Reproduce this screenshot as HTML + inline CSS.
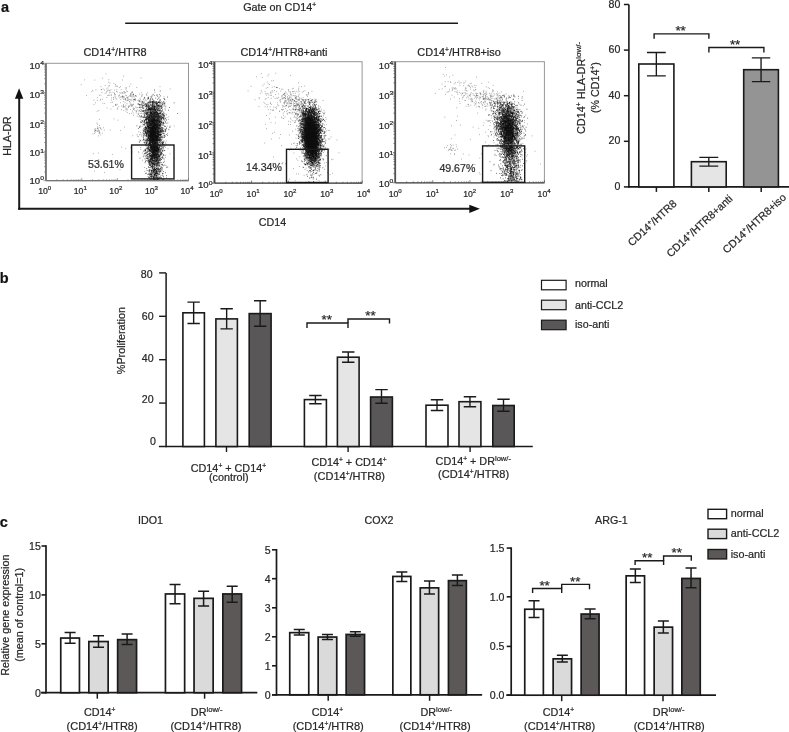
<!DOCTYPE html>
<html lang="en">
<head>
<meta charset="utf-8">
<title>Figure</title>
<style>
html,body{margin:0;padding:0;background:#fff;}
body{width:789px;height:732px;overflow:hidden;}
svg{display:block;font-family:"Liberation Sans", Arial, sans-serif;}
text{white-space:pre;stroke:#2a2a2a;stroke-width:.22px;}
</style>
</head>
<body>
<svg width="789" height="732" viewBox="0 0 789 732">
<defs><filter id="bl" x="-1" y="-.5" width="3" height="2"><feGaussianBlur stdDeviation="2.2"/></filter></defs>
<rect width="789" height="732" fill="#fff"/>
<text x="1" y="11.6" font-size="14.5" fill="#111" font-weight="bold">a</text>
<text x="243.2" y="11.4" font-size="10.8" fill="#262626">Gate on CD14<tspan font-size="6.6" dy="-4">+</tspan><tspan dy="4" font-size="0.1">&#8203;</tspan></text>
<line x1="125.2" y1="23.3" x2="458" y2="23.3" stroke="#1a1a1a" stroke-width="1.6"/>
<line x1="19.2" y1="97" x2="19.2" y2="209.8" stroke="#1a1a1a" stroke-width="2"/>
<polygon points="19.1,88.2 14.9,98.7 23.3,98.7" fill="#111"/>
<line x1="18.2" y1="208.8" x2="470" y2="208.8" stroke="#1a1a1a" stroke-width="2"/>
<polygon points="479.9,208.8 469.3,204.7 469.3,212.9" fill="#111"/>
<text font-size="10.6" fill="#262626" text-anchor="middle" transform="translate(10.6 136) rotate(-90)">HLA-DR</text>
<text x="272.5" y="226.2" font-size="10.7" fill="#262626" text-anchor="middle">CD14</text>
<rect x="46.2" y="63.3" width="142.3" height="117.4" fill="#fff" stroke="#969696" stroke-width="1"/>
<line x1="45.9" y1="63.3" x2="45.9" y2="180.7" stroke="#767676" stroke-width="1.8"/>
<line x1="46.2" y1="180.7" x2="188.5" y2="180.7" stroke="#767676" stroke-width="1.3"/>
<path d="M45.6 171.86h-1.5M56.91 180.7v-1.4M45.6 166.7h-1.5M63.17 180.7v-1.4M45.6 163.03h-1.5M67.62 180.7v-1.4M45.6 160.19h-1.5M71.07 180.7v-1.4M45.6 157.86h-1.5M73.88 180.7v-1.4M45.6 155.9h-1.5M76.26 180.7v-1.4M45.6 154.19h-1.5M78.33 180.7v-1.4M45.6 152.69h-1.5M80.15 180.7v-1.4M45.6 142.51h-1.5M92.48 180.7v-1.4M45.6 137.35h-1.5M98.75 180.7v-1.4M45.6 133.68h-1.5M103.19 180.7v-1.4M45.6 130.84h-1.5M106.64 180.7v-1.4M45.6 128.51h-1.5M109.46 180.7v-1.4M45.6 126.55h-1.5M111.84 180.7v-1.4M45.6 124.84h-1.5M113.9 180.7v-1.4M45.6 123.34h-1.5M115.72 180.7v-1.4M45.6 113.16h-1.5M128.06 180.7v-1.4M45.6 108h-1.5M134.32 180.7v-1.4M45.6 104.33h-1.5M138.77 180.7v-1.4M45.6 101.49h-1.5M142.22 180.7v-1.4M45.6 99.16h-1.5M145.03 180.7v-1.4M45.6 97.2h-1.5M147.41 180.7v-1.4M45.6 95.49h-1.5M149.48 180.7v-1.4M45.6 93.99h-1.5M151.3 180.7v-1.4M45.6 83.81h-1.5M163.63 180.7v-1.4M45.6 78.65h-1.5M169.9 180.7v-1.4M45.6 74.98h-1.5M174.34 180.7v-1.4M45.6 72.14h-1.5M177.79 180.7v-1.4M45.6 69.81h-1.5M180.61 180.7v-1.4M45.6 67.85h-1.5M182.99 180.7v-1.4M45.6 66.14h-1.5M185.05 180.7v-1.4M45.6 64.64h-1.5M186.87 180.7v-1.4M45.6 180.7h-2M46.2 180.7v-2.6M45.6 151.35h-2M81.78 180.7v-2.6M45.6 122h-2M117.35 180.7v-2.6M45.6 92.65h-2M152.93 180.7v-2.6M45.6 63.3h-2M188.5 180.7v-2.6" fill="none" stroke="#767676" stroke-width="0.7"/>
<g transform="translate(43.9 183.6) scale(1.1 1)">
<text x="0" y="0" font-size="8.7" fill="#262626" text-anchor="end">10<tspan font-size="6.1" dy="-3.7">0</tspan><tspan dy="3.7" font-size="0.1">&#8203;</tspan></text>
</g>
<text x="38.2" y="193.7" font-size="8.7" fill="#262626">10<tspan font-size="6.1" dy="-3.7">0</tspan><tspan dy="3.7" font-size="0.1">&#8203;</tspan></text>
<g transform="translate(43.9 156.3) scale(1.1 1)">
<text x="0" y="0" font-size="8.7" fill="#262626" text-anchor="end">10<tspan font-size="6.1" dy="-3.7">1</tspan><tspan dy="3.7" font-size="0.1">&#8203;</tspan></text>
</g>
<text x="73.78" y="193.7" font-size="8.7" fill="#262626">10<tspan font-size="6.1" dy="-3.7">1</tspan><tspan dy="3.7" font-size="0.1">&#8203;</tspan></text>
<g transform="translate(43.9 128) scale(1.1 1)">
<text x="0" y="0" font-size="8.7" fill="#262626" text-anchor="end">10<tspan font-size="6.1" dy="-3.7">2</tspan><tspan dy="3.7" font-size="0.1">&#8203;</tspan></text>
</g>
<text x="109.35" y="193.7" font-size="8.7" fill="#262626">10<tspan font-size="6.1" dy="-3.7">2</tspan><tspan dy="3.7" font-size="0.1">&#8203;</tspan></text>
<g transform="translate(43.9 97.6) scale(1.1 1)">
<text x="0" y="0" font-size="8.7" fill="#262626" text-anchor="end">10<tspan font-size="6.1" dy="-3.7">3</tspan><tspan dy="3.7" font-size="0.1">&#8203;</tspan></text>
</g>
<text x="144.93" y="193.7" font-size="8.7" fill="#262626">10<tspan font-size="6.1" dy="-3.7">3</tspan><tspan dy="3.7" font-size="0.1">&#8203;</tspan></text>
<g transform="translate(43.9 68.9) scale(1.1 1)">
<text x="0" y="0" font-size="8.7" fill="#262626" text-anchor="end">10<tspan font-size="6.1" dy="-3.7">4</tspan><tspan dy="3.7" font-size="0.1">&#8203;</tspan></text>
</g>
<text x="180.5" y="193.7" font-size="8.7" fill="#262626">10<tspan font-size="6.1" dy="-3.7">4</tspan><tspan dy="3.7" font-size="0.1">&#8203;</tspan></text>
<ellipse cx="153.64" cy="129.34" rx="3.8" ry="16" fill="#111" fill-opacity="0.55" filter="url(#bl)" transform="rotate(0 153.64 129.34)"/>
<path d="M165.7 119.9h0.8M156.9 138.3h0.8M148.8 114.3h0.8M158.2 134h0.8M152.7 126.6h0.8M173.8 126.1h0.8M145.6 138.5h0.8M139.6 127.5h0.8M139.1 142.2h0.8M158.9 109.1h0.8M136.6 134.7h0.8M146 152.2h0.8M140.7 78h0.8M159.8 130.9h0.8M150.3 120.6h0.8M161.3 141h0.8M141.4 134.2h0.8M149.2 143.7h0.8M151.4 104.8h0.8M151.3 161.9h0.8M145.8 115.8h0.8M143.9 140.6h0.8M153.6 126.8h0.8M154.6 140.8h0.8M148 121.7h0.8M158.2 132.2h0.8M141.2 136h0.8M152.6 120.8h0.8M154.7 123.6h0.8M142 102.8h0.8M156.3 95.4h0.8M146.2 118.1h0.8M152.4 130.2h0.8M140.5 122.7h0.8M138.4 131.9h0.8M147.3 92.7h0.8M149.6 142.7h0.8M160.4 119.9h0.8M139.8 119.3h0.8M155.3 137.7h0.8M159.5 128.7h0.8M151.2 140.2h0.8M153.4 167.4h0.8M154.4 119.7h0.8M153.5 145.9h0.8M146.3 130.8h0.8M155 140.5h0.8M167.9 119.4h0.8M151.4 148h0.8M149.3 116.1h0.8M138.6 116.7h0.8M160 100.1h0.8M143.3 129h0.8M147.5 138.3h0.8M148.9 105.8h0.8M157.8 126.3h0.8M148.6 137.3h0.8M160.7 170.7h0.8M154.1 104.2h0.8M157.5 147.2h0.8M132.4 135.7h0.8M138.1 136.7h0.8M144.6 136.6h0.8M141.1 115.7h0.8M152.2 128.3h0.8M154.5 159.5h0.8M145.9 143.3h0.8M154 157.1h0.8M152.5 142.1h0.8M164.4 131.8h0.8M153.9 135.5h0.8M149.1 106.3h0.8M156.4 109.5h0.8M165.5 165.6h0.8M144.5 133.8h0.8M154.7 135.9h0.8M169.3 127h0.8M156.6 162.1h0.8M150.1 141.1h0.8M147.7 139.3h0.8M153.9 102.1h0.8M155.7 132h0.8M152.7 158.8h0.8M146.2 140.5h0.8M154.2 106.7h0.8M148.6 120.2h0.8M153.1 129.3h0.8M154 120.3h0.8M147.3 122.7h0.8M156.3 122.2h0.8M150.8 122.1h0.8M152.7 126.8h0.8M153.1 125.6h0.8M149.6 140h0.8M144.9 128.9h0.8M153.6 175.2h0.8M155.2 138.1h0.8M155.6 120.6h0.8M154.6 135.8h0.8M158.3 161.7h0.8M147.6 147.3h0.8M148.2 122.5h0.8M151.6 147.8h0.8M159.6 149.5h0.8M152.9 151.2h0.8M154.9 112h0.8M159.9 90.8h0.8M143.9 125.5h0.8M162.3 120.2h0.8M157.2 114.5h0.8M152 120h0.8M156 124.3h0.8M163 130.9h0.8M163.1 146.6h0.8M145.7 141.2h0.8M147 136.6h0.8M158.1 135.7h0.8M158.7 109.3h0.8M163.4 178.7h0.8M156.6 144.3h0.8M160.9 108.6h0.8M153 100.3h0.8M146.7 148.4h0.8M149.8 96.8h0.8M149.4 128h0.8M165.1 147.3h0.8M154.1 106.9h0.8M147.5 119.4h0.8M149.3 133.3h0.8M162.3 113.7h0.8M140.5 141.1h0.8M168.5 116.7h0.8M167.6 148.7h0.8M155.3 125.6h0.8M152.5 159h0.8M158.8 157h0.8M154 90.5h0.8M148.9 143.7h0.8M154.5 133.2h0.8M153.5 105.6h0.8M145.6 129h0.8M155.4 147.6h0.8M152.1 133.1h0.8M165.2 122.3h0.8M158.9 147.6h0.8M149 114.1h0.8M144.5 154.1h0.8M154.1 128.4h0.8M158.3 124.5h0.8M162.9 112.8h0.8M152.4 101.4h0.8M146.5 128h0.8M153.7 152h0.8M163.9 150.4h0.8M166.3 144.6h0.8M152.6 143.8h0.8M155.9 111.8h0.8M146.3 106.2h0.8M149.9 117.8h0.8M142.8 122.4h0.8M151.5 146.4h0.8M145.2 123.1h0.8M140.1 147.5h0.8M165.9 141h0.8M138.9 141.9h0.8M145.5 155.7h0.8M155.5 139.3h0.8M149.1 115.5h0.8M152.5 120.1h0.8M161 119.4h0.8M140.4 116.8h0.8M150.4 118h0.8M157.6 171.9h0.8M144 135.5h0.8M157.9 165.4h0.8M158.1 125.9h0.8M168.4 129.3h0.8M154.2 143h0.8M165.5 129.5h0.8M148.5 108.3h0.8M147.8 109.7h0.8M141.1 116.2h0.8M161.6 163.1h0.8M150.2 123.3h0.8M149.9 161.8h0.8M159.2 141.3h0.8M138.2 128.6h0.8M145 144.9h0.8M144.3 143.7h0.8M161.5 110.6h0.8M147.7 134.6h0.8M153.5 148.2h0.8M159.7 91.4h0.8M162.2 122.3h0.8M149.7 141.6h0.8M144.4 122.9h0.8M148.5 109.2h0.8M161 153.7h0.8M151.3 136.2h0.8M163.7 106.2h0.8M162.8 142.9h0.8M164.9 157.3h0.8M153.7 127.2h0.8M156 103.5h0.8M156.9 162.6h0.8M161 114.6h0.8M150 102.4h0.8M142 153h0.8M149 139.7h0.8M166.1 127.6h0.8M143.8 139.7h0.8M154.9 130.1h0.8M163.8 118.1h0.8M155.6 121.9h0.8M156.6 143.8h0.8M150.3 112.7h0.8M152.8 101.1h0.8M140.5 116.8h0.8M152.1 110.7h0.8M155.3 139.5h0.8M147.9 126.3h0.8M157.2 153.8h0.8M154.6 118.1h0.8M151.9 135.4h0.8M150.5 164.5h0.8M152.7 143.8h0.8M144.4 171.6h0.8M139.4 139.8h0.8M165.3 155.5h0.8M149.6 135.2h0.8M145.4 130.1h0.8M149.6 129.3h0.8M154.2 149.6h0.8M153.1 118.8h0.8M154.7 154.3h0.8M150.1 142.6h0.8M156.7 127.8h0.8M150.2 116h0.8M159.6 86.6h0.8M166.5 117.5h0.8M165 110.1h0.8M150 109.2h0.8M161.9 115.2h0.8M163.4 116.1h0.8M147.1 119h0.8M146.4 133.8h0.8M169.6 153.8h0.8M162.8 114.9h0.8M160.3 153.6h0.8M159.3 138.5h0.8M163.2 116.9h0.8M163.7 144.4h0.8M156 111.7h0.8M144.7 149.6h0.8M142.1 160.2h0.8M140.9 116.1h0.8M156.3 144.3h0.8M157.5 139.2h0.8M149.2 108.5h0.8M161.5 118.4h0.8M161.3 130.8h0.8M155.1 131.1h0.8M151.6 113.8h0.8M158 133.3h0.8M145.2 111.5h0.8M154.8 109.8h0.8M164.3 126.1h0.8M147.4 146.6h0.8M155.5 150.1h0.8M142.3 121.2h0.8M144.4 121.5h0.8M169.8 125.9h0.8M153.5 109.7h0.8M159.3 112.9h0.8M148.8 172h0.8M157.8 116.2h0.8M157.8 148.5h0.8M152.9 122.2h0.8M168.4 129.6h0.8M160.4 116h0.8M151.8 160.2h0.8M155.4 115h0.8M146.8 133h0.8M152.8 123.8h0.8M174.1 158.3h0.8M140.1 132.6h0.8M149.8 155.9h0.8M147.6 137.9h0.8M165.1 131.6h0.8M162.8 148.3h0.8M144.9 115.1h0.8M160.2 155.2h0.8M159.3 111.8h0.8M148.5 118.7h0.8M145.4 117.8h0.8M160.4 119h0.8M163.7 116.6h0.8M161.8 118h0.8M166.8 126.1h0.8M165.3 130.1h0.8M145.5 141.3h0.8M153.4 125.3h0.8M148.2 138h0.8M157 114.5h0.8M150.5 113.1h0.8M146.3 122.8h0.8M160.4 141h0.8M154.6 114.9h0.8M147.8 107.6h0.8M152.4 104.7h0.8M146.8 131.6h0.8M146 104.7h0.8M164.1 104.3h0.8M154.3 162.3h0.8M150.7 149.9h0.8M151.8 129.8h0.8M157.1 117.3h0.8M145.3 161.1h0.8M144.1 153.2h0.8M152.4 119.9h0.8M137.8 128.4h0.8M137 136.1h0.8M149 130.2h0.8M157.6 121.8h0.8M151.7 114.7h0.8M146 122.7h0.8M154 89.5h0.8M154.8 149.4h0.8M147.6 109.7h0.8M150.9 109h0.8M153.5 106.1h0.8M155.6 145.4h0.8M138.7 107.8h0.8M157.1 147.3h0.8M140.4 149.4h0.8M150 129.6h0.8M150.8 135h0.8M146.9 124.7h0.8M152.4 158.4h0.8M152.4 135.4h0.8M148.2 128.9h0.8M157.8 158.4h0.8M156.9 103.5h0.8M158.2 127.7h0.8M142.9 136.4h0.8M155.2 164.8h0.8M146.9 150.6h0.8M160.9 122.8h0.8M139.9 104.6h0.8M148 134.7h0.8M153.2 129.1h0.8M151.5 121.7h0.8M138.2 151.7h0.8M147.9 98.3h0.8M154.2 118.1h0.8M153.2 116.4h0.8M145.4 109.2h0.8M156.9 121h0.8M146.6 145.2h0.8M163.6 144.3h0.8M160.2 138.7h0.8M155.5 138h0.8M154.8 119.2h0.8M149.9 138.9h0.8M163.7 96.8h0.8M148.9 120h0.8M167.6 122.8h0.8M154.7 142.8h0.8M150.4 121.4h0.8M160 133.2h0.8M152.5 136.2h0.8M143.5 125.2h0.8M161.8 129.1h0.8M138.8 110.7h0.8M167.1 133.6h0.8M147.3 148.5h0.8M148.2 124.6h0.8M148.2 144.8h0.8M155.5 127h0.8M142 124h0.8M160.2 160.6h0.8M154.4 132.4h0.8M164.5 123.4h0.8M148.8 110.3h0.8M157.1 116.5h0.8M159.7 104.3h0.8M169.8 89h0.8M146.3 124.8h0.8M147.5 120.3h0.8M161.5 130.9h0.8M138.8 141.8h0.8M145.9 140.9h0.8M158.9 160.1h0.8M155.4 120.5h0.8M151.7 109.7h0.8M154.5 92.3h0.8M147.5 113.4h0.8M151 121.9h0.8M156 151.2h0.8M161.4 147h0.8M114.8 86.2h0.8M110.5 109h0.8M112.6 92.3h0.8M138.2 114.2h0.8M153.1 106.5h0.8M135.4 106.9h0.8M143.1 111.7h0.8M121.6 97h0.8M102.7 89h0.8M109.3 95.3h0.8M135.4 110.9h0.8M141.8 101.6h0.8M106.5 97.5h0.8M141.4 107.5h0.8M114.2 93.6h0.8M126.1 95.6h0.8M143.2 99.4h0.8M140.9 92.7h0.8M141.2 104.3h0.8M109.5 90.7h0.8M133 109.5h0.8M122.9 106.5h0.8M141.6 101h0.8M132.9 107.8h0.8M130.2 94.9h0.8M144.3 97.3h0.8M110.7 94.9h0.8M150.4 102.2h0.8M145.9 113.2h0.8M148.2 106.1h0.8M117.2 108.2h0.8M144.3 102.2h0.8M125.4 105.2h0.8M129.8 103.2h0.8M130.4 94.1h0.8M140.5 107.4h0.8M152 99.2h0.8M133.3 96.8h0.8M129 86.3h0.8M140.1 104.9h0.8M146 110.3h0.8M112.7 106.5h0.8M109.5 83.1h0.8M125 92.7h0.8M127.9 106.9h0.8M131.2 104.3h0.8M124.2 92.1h0.8M131.5 97.9h0.8M150 104.8h0.8M134.1 99.7h0.8M140.5 111.4h0.8M91.5 91.5h0.8M146.9 98.9h0.8M133 101.7h0.8M144.3 111h0.8M105.6 73.9h0.8M123.8 106.4h0.8M138.5 111.8h0.8M145.4 103.9h0.8M139 104.6h0.8M92.3 90.4h0.8M148.6 108.8h0.8M129.3 106.2h0.8M152.5 99.6h0.8M105.9 92.8h0.8M139.4 104.4h0.8M120.3 102.8h0.8M118.6 95.4h0.8M133 95h0.8M116.4 89.8h0.8M156.1 111.7h0.8M106.6 108h0.8M114.5 96.2h0.8M120.8 89.6h0.8M132.2 92.6h0.8M137.4 109.9h0.8M116.2 86.2h0.8M138.6 104.6h0.8M132.7 94.2h0.8M125.8 87.8h0.8M135.8 107.8h0.8M94.4 80.1h0.8M133.3 99.8h0.8M116.2 91.6h0.8M122 96.6h0.8M122.9 105.3h0.8M126.5 97.5h0.8M124 97.1h0.8M104.2 90.1h0.8M102.1 78.2h0.8M121 109.7h0.8M122.7 107.1h0.8M140.8 106.3h0.8M131.3 95h0.8M132.2 96.1h0.8M141.5 104.1h0.8M128 107.5h0.8M140.9 104h0.8M136 111.1h0.8M84.3 79.9h0.8M104.7 93.4h0.8M139 100.7h0.8M95.5 89.8h0.8M126.6 108.7h0.8M154.4 104.7h0.8M143.4 105.3h0.8M146 106h0.8M146.1 104.9h0.8M130.5 84.1h0.8M138.3 100h0.8M112.1 102.2h0.8M130.9 113.3h0.8M133.2 94.1h0.8M137.8 104h0.8M135.3 95.9h0.8M143.6 100h0.8M129.6 95.5h0.8M149.9 109.2h0.8M149.5 110.5h0.8M139.9 101.7h0.8M123.5 91.5h0.8M143.9 105.4h0.8M102 99.3h0.8M134.7 99.4h0.8M117.1 92.1h0.8M126.9 110h0.8M122 80h0.8M104.7 85.4h0.8M154.1 100.9h0.8M147.6 111.5h0.8M132.6 104.9h0.8M146.3 105.8h0.8M157.3 113.2h0.8M124.6 99.2h0.8M134.8 98.9h0.8M108.5 79.7h0.8M121.6 96.5h0.8M141 102.3h0.8M123.4 110.5h0.8M118.9 87.5h0.8M119.5 92.7h0.8M130 104.8h0.8M139.9 99.4h0.8M131.5 100.2h0.8M141.3 113.3h0.8M135.2 100.4h0.8M153.4 105.2h0.8M100.6 86.7h0.8M104.3 103.4h0.8M130.2 93.9h0.8M123.1 97.8h0.8M100.5 95.1h0.8M137.4 100.4h0.8M133.8 96.9h0.8M138.6 101.3h0.8M114 94.8h0.8M118.8 97.8h0.8M143.1 102.9h0.8M139.1 94.1h0.8M125.3 95.2h0.8M109.3 92.9h0.8M128.2 100.1h0.8M111.1 97.8h0.8M132.9 94.7h0.8M133.8 99.2h0.8M129.2 101.5h0.8M80.8 84.7h0.8M96.9 97.6h0.8M141.8 105.1h0.8M134.2 99.8h0.8M116.5 105h0.8M128.5 106.2h0.8M136.3 111.1h0.8M122.1 95.7h0.8M134.8 99.3h0.8M131.2 96.3h0.8M132.2 91.8h0.8M102.5 103.3h0.8M106.3 91.6h0.8M107.2 90.9h0.8M123 99.3h0.8M111 95.1h0.8M132 105.8h0.8M130.6 105.3h0.8M153.2 113.2h0.8M138.9 101h0.8M107.9 89.9h0.8M95 102.8h0.8M135.5 95.7h0.8M125.4 109h0.8M96.9 100.3h0.8M123.2 96.6h0.8M118.4 96.3h0.8M139.4 105.7h0.8M120.1 97.1h0.8M132.7 113h0.8M122.8 101.5h0.8M142.9 111h0.8M113.3 97.9h0.8M146.8 103.1h0.8M110.6 89.8h0.8M115.5 98.7h0.8M134.1 108.6h0.8M131.3 105.4h0.8M93.5 100.2h0.8M106.4 88.9h0.8M132.9 108.7h0.8M115 94.6h0.8M107.3 95.6h0.8M149.2 101.2h0.8M125.6 111h0.8M101.7 92.6h0.8M125.1 100.1h0.8M128.1 96.8h0.8M133.2 104.2h0.8M145.8 100.9h0.8M126.3 109h0.8M149.1 108.7h0.8M127.4 97.9h0.8M126.7 100.8h0.8M127.1 91.6h0.8M132.2 111.2h0.8M123.2 104.8h0.8M86 95.6h0.8M125.4 99.6h0.8M131.2 92.2h0.8M120.3 99.6h0.8M111 100.1h0.8M149.1 108.8h0.8M129.8 96.3h0.8M109.1 85.7h0.8M147.4 99.6h0.8M113.3 99.5h0.8M130.7 99.7h0.8M129.3 99.4h0.8M148.6 104.3h0.8M139.2 101.9h0.8M112.9 97.6h0.8M127.5 99.8h0.8M140.4 111.5h0.8M115.1 105.1h0.8M140.3 107.5h0.8M147.2 108.7h0.8M115 84.7h0.8M126.9 97.2h0.8M129.7 96.1h0.8M129.8 100h0.8M145.7 106.9h0.8M127.3 100.3h0.8M142.5 104.2h0.8M121.7 92.8h0.8M138 104h0.8M128.6 105.9h0.8M120.5 93.2h0.8M133 115.2h0.8M149.1 103.9h0.8M115.1 104.4h0.8M135.8 96.4h0.8M110.6 102.5h0.8M142.2 108.3h0.8M142.9 108.6h0.8M129.6 102h0.8M130.3 109.5h0.8M123.6 107.2h0.8M156.7 103.8h0.8M136.4 87.5h0.8M134.8 95.5h0.8M99.9 100.2h0.8M124.8 98.9h0.8M132.8 94.6h0.8M116.8 109.2h0.8M123 76.2h0.8M148.5 110.9h0.8M125 107.1h0.8M100.3 99.3h0.8M120.2 86.7h0.8M152 105.5h0.8M117.2 86.3h0.8M132.9 99.6h0.8M140.9 109.6h0.8M121.8 98h0.8M101 89.5h0.8M129.2 113.7h0.8M110.5 92.4h0.8M125.6 88h0.8M126.6 103.7h0.8M98.9 95.3h0.8M108.3 82.2h0.8M137 107.6h0.8M121.2 106h0.8M142.8 116.8h0.8M127.5 98.6h0.8M146.4 107.5h0.8M108.2 95.2h0.8M140.4 113.5h0.8M122.5 92.9h0.8M145.1 99.9h0.8M125.6 89.3h0.8M135.8 112.9h0.8M116.7 104.2h0.8M114 93h0.8M119.1 95h0.8M133.8 110h0.8M150.6 112.8h0.8M139.6 100.8h0.8M141.8 110.8h0.8M122.3 96.8h0.8M116.4 98.9h0.8M142.1 102.4h0.8M144.4 106h0.8M115.3 97.1h0.8M118.3 106.9h0.8M124 93.1h0.8M130.9 93.3h0.8M145.9 94h0.8M148.9 107.8h0.8M107.6 87.9h0.8M125.4 98.3h0.8M108.9 90.8h0.8M114.1 90.1h0.8M100.7 89.7h0.8M113.6 83.6h0.8M131.3 106.4h0.8M139.6 98.1h0.8M124.6 102.7h0.8M139.5 106.9h0.8M122.4 93h0.8M108.3 86h0.8M132.4 104.8h0.8M126.3 91.1h0.8M96.6 130.4h0.8M94.4 129.1h0.8M103.2 127.8h0.8M97.1 124.3h0.8M99 125.5h0.8M101.8 133.3h0.8M98 130h0.8M100.9 129.6h0.8M98.2 135.9h0.8M96.7 131.2h0.8M95.4 128.7h0.8M97.1 128.6h0.8M100.1 127.9h0.8M97.9 128.2h0.8M95.1 130.5h0.8M96.5 123.1h0.8M94.8 130.5h0.8M99.2 130.9h0.8M99.5 133h0.8M100.3 128.6h0.8M92.5 133.9h0.8M94.7 130.1h0.8M97 128.2h0.8M99.4 127.3h0.8M99 132h0.8M94.2 133.3h0.8M98.8 132.5h0.8M94.8 132.2h0.8M98.8 133.6h0.8M97.3 126.9h0.8M99.9 134.9h0.8M97.7 131.2h0.8M103.9 130.1h0.8M94.4 131.4h0.8M97.8 130.9h0.8M119.6 169.7h0.8M93.6 104.6h0.8M92.9 153.7h0.8M115.4 105.3h0.8M111.9 154.5h0.8M120.1 130.6h0.8M142.3 126.3h0.8M96.8 111.3h0.8M144.1 167.5h0.8M139.1 110.4h0.8M140.3 109.2h0.8M109.9 130h0.8M136.8 116.2h0.8M126.8 112.5h0.8M130 147.9h0.8M146.3 145.9h0.8M98.4 110.5h0.8M113.6 118.9h0.8M142.9 119.8h0.8M131.7 152h0.8M121.3 147.1h0.8M138.5 152.7h0.8M117.5 120.2h0.8M98.9 119.4h0.8M124 127.1h0.8M131.2 157.7h0.8M143 131.1h0.8M112.8 167.3h0.8M104.2 172.4h0.8M109 165.2h0.8M94.2 171.1h0.8M98.3 159.5h0.8M97.9 153.1h0.8M98.5 163.7h0.8M125.5 148.4h0.8" stroke="#111" stroke-width="0.8" stroke-opacity="0.5" fill="none"/>
<path d="M155.4 150.9h0.8M150.3 114.5h0.8M153.7 152.6h0.8M158.8 122.9h0.8M148.9 150.8h0.8M155.7 119.2h0.8M158.6 105.6h0.8M152.2 132.5h0.8M147.8 97.7h0.8M154.3 149.5h0.8M151.7 128.4h0.8M154.8 131.8h0.8M158.9 119.4h0.8M144.6 127.4h0.8M145.7 119.3h0.8M146.7 133.6h0.8M149.8 130.8h0.8M169.5 127.3h0.8M157.4 131.6h0.8M152.9 152.6h0.8M152.7 119.9h0.8M153.8 124.7h0.8M156.1 147.3h0.8M161.6 144.2h0.8M156.7 139.1h0.8M158 130.8h0.8M158 140.7h0.8M159.4 132.8h0.8M153.9 120.5h0.8M157 143.6h0.8M161.6 123.1h0.8M156.1 137h0.8M154.7 122.5h0.8M154.3 127.4h0.8M149.3 140.6h0.8M156.2 137.3h0.8M158.5 106h0.8M157.3 113.5h0.8M154.1 119.3h0.8M162.5 118.1h0.8M150.5 136.2h0.8M158.7 97.1h0.8M147 116.4h0.8M154.1 116h0.8M153.8 118.4h0.8M153.4 145.3h0.8M158.9 124.7h0.8M153.5 119.1h0.8M148.6 108.5h0.8M159 117.8h0.8M145.5 135.6h0.8M154.8 145.7h0.8M161.2 122.1h0.8M153.9 147.3h0.8M152.4 120.1h0.8M157.5 169.8h0.8M147.5 106.5h0.8M154.6 137.6h0.8M153.4 101.7h0.8M152.4 105.2h0.8M149.9 102.6h0.8M160.7 119h0.8M154.8 120.1h0.8M151.4 160.7h0.8M151.4 140.8h0.8M151.5 121.2h0.8M153.6 117.9h0.8M154.1 136.3h0.8M157.6 123.8h0.8M152.6 138.7h0.8M160.2 153.2h0.8M151.8 106.9h0.8M148.2 138.7h0.8M154.4 128h0.8M147.8 97.2h0.8M159.8 171h0.8M145.5 127.7h0.8M145.6 127.8h0.8M156.2 107.9h0.8M143.7 133.7h0.8M146.3 132.9h0.8M142.2 121h0.8M158.8 145.7h0.8M145.8 103.8h0.8M157.4 156h0.8M147.8 116.8h0.8M150.8 142.2h0.8M151.3 150.4h0.8M156.8 110.2h0.8M151.7 95.2h0.8M153.4 147h0.8M147.2 152.4h0.8M160.7 119.3h0.8M160.2 117.1h0.8M149.8 126.7h0.8M151.6 129.4h0.8M147.2 149.1h0.8M154 155.2h0.8M151.1 128.3h0.8M153.9 107.3h0.8M159.5 121.2h0.8M145.6 144.3h0.8M149.5 118.4h0.8M154.9 109.3h0.8M157.2 114.3h0.8M157.1 165h0.8M150.5 141.9h0.8M157 138h0.8M158.5 116.3h0.8M151.9 158.1h0.8M154 169.8h0.8M149.3 120.9h0.8M154.5 126.8h0.8M148.6 114.2h0.8M150.6 144.4h0.8M159.3 102h0.8M154.6 132.8h0.8M154.4 128.9h0.8M152 134.2h0.8M151.5 151.5h0.8M156 103.7h0.8M152.4 129.7h0.8M155.1 129.8h0.8M154.6 141.4h0.8M149.7 126.9h0.8M149.6 143.8h0.8M157.4 148.3h0.8M153.4 169.6h0.8M151 140.8h0.8M158.8 129.2h0.8M152.8 129.5h0.8M153.1 140.9h0.8M151 115.8h0.8M149 149.6h0.8M148.4 149h0.8M155 112.7h0.8M160.2 134.7h0.8M156.9 141.6h0.8M144.9 117.6h0.8M150.5 156.4h0.8M160.1 115.9h0.8M158 151h0.8M151.9 137.1h0.8M152.3 139.9h0.8M150.3 160.7h0.8M155.8 151.1h0.8M151.7 127.8h0.8M152.6 159.1h0.8M161.9 146.2h0.8M149.5 121.4h0.8M156 115.4h0.8M152.1 157.5h0.8M153.6 134.7h0.8M151.8 128.6h0.8M150.5 127.7h0.8M160 145.5h0.8M155.5 124.9h0.8M153.5 157h0.8M146.3 117.3h0.8M150.9 112.8h0.8M152.6 124.2h0.8M159.3 127.2h0.8M160.6 137.4h0.8M149.9 143.7h0.8M147.6 119.1h0.8M157.7 136.9h0.8M143 110.9h0.8M162.9 122.5h0.8M151.6 111.2h0.8M152.4 140.7h0.8M152.9 149.8h0.8M152.9 133.9h0.8M151.7 111.4h0.8M158.1 154.8h0.8M152.1 148.4h0.8M151.9 133h0.8M152.9 147.3h0.8M151.9 101.6h0.8M157.1 112.3h0.8M157.7 118.3h0.8M150.9 163.2h0.8M155.8 128.7h0.8M155.6 109.5h0.8M153.7 134.7h0.8M154.7 134.3h0.8M151.4 119.7h0.8M150.2 144.2h0.8M160.1 112.8h0.8M157.7 114.5h0.8M153.1 117.1h0.8M147.7 119.9h0.8M150.2 134.1h0.8M150.1 118.9h0.8M155.4 132.6h0.8M148.4 108.5h0.8M157.2 146.2h0.8M155.7 149h0.8M153.2 140.2h0.8M156.9 160.7h0.8M149.7 139h0.8M173.7 102.9h0.8M151.5 124.1h0.8M161.2 129h0.8M155.6 131.2h0.8M148.6 122.3h0.8M151 128.7h0.8M157.3 151.3h0.8M153.6 119.9h0.8M145.6 145.7h0.8M152.8 122.8h0.8M153.9 158.5h0.8M154 155.8h0.8M155.1 128.5h0.8M154.2 127.2h0.8M152.4 149.5h0.8M152.6 139.2h0.8M156.4 126.4h0.8M137.6 103.9h0.8M152.3 124.2h0.8M143.2 105.6h0.8M150.7 124.2h0.8M147.3 114.5h0.8M152.9 132.5h0.8M150.8 132.4h0.8M156 161h0.8M152.7 114.4h0.8M154.7 147.5h0.8M152.3 121.5h0.8M160.1 131h0.8M151.7 149.2h0.8M151.5 162.1h0.8M149.7 143h0.8M161.4 142.2h0.8M153 134h0.8M141.7 94.9h0.8M148.6 124.2h0.8M145.4 103.9h0.8M146.7 140.3h0.8M148.5 129.2h0.8M151.7 131.9h0.8M157.8 140.9h0.8M153.4 115.4h0.8M149.4 145.6h0.8M165.1 126.4h0.8M150.2 138.3h0.8M149.1 142.3h0.8M153 146.8h0.8M152.9 107.2h0.8M146.6 139.2h0.8M153.2 127.3h0.8M149.8 151h0.8M158.2 131.5h0.8M154.3 120.5h0.8M155 136.1h0.8M163.7 131h0.8M152.5 149.4h0.8M151.5 110h0.8M152.6 107.4h0.8M151.6 128.4h0.8M150.3 153.5h0.8M156.4 102.1h0.8M156.2 115.1h0.8M151.6 114h0.8M158.1 134.5h0.8M147.6 136.6h0.8M151.1 134.5h0.8M149.5 120.7h0.8M152.6 148.2h0.8M152.6 105.3h0.8M153.4 128.2h0.8M157.9 125.9h0.8M143.5 107.9h0.8M152.9 108.4h0.8M164.4 136.1h0.8M162.5 133.6h0.8M147.5 114.9h0.8M157 122.8h0.8M142.7 132.9h0.8M152.7 136.5h0.8M161.1 149h0.8M151.8 134.8h0.8M150 135.7h0.8M154.2 143.6h0.8M150.8 125.7h0.8M147 132.3h0.8M149.4 122.2h0.8M148.9 127.3h0.8M154.6 139.3h0.8M163.5 150.7h0.8M153.1 131.4h0.8M160.5 142.9h0.8M154.6 108h0.8M152.1 153.3h0.8M150.6 120.7h0.8M149.3 150.3h0.8M153.8 143.5h0.8M153.8 141.5h0.8M147.5 116h0.8M153.8 125.2h0.8M158.4 133.1h0.8M152.1 136.3h0.8M153.2 137h0.8M157.3 109.7h0.8M152.3 152.9h0.8M157.2 143.9h0.8M157.7 127.1h0.8M144.5 131.8h0.8M154.4 123.4h0.8M146.6 122.5h0.8M150.1 129.5h0.8M155.2 142.1h0.8M148.9 125h0.8M144.6 158.9h0.8M158.5 140.3h0.8M142.9 131.7h0.8M155.5 145h0.8M159.7 103.3h0.8M154.3 124.8h0.8M152.1 148.2h0.8M150.1 136.3h0.8M151.6 129.8h0.8M160.5 125.3h0.8M155.4 118.6h0.8M146.6 134.8h0.8M156 132.7h0.8M158.9 147.4h0.8M155.3 136.3h0.8M147.9 136.2h0.8M158.2 108.4h0.8M154.9 139.9h0.8M152 144h0.8M163.6 115.7h0.8M153.8 144.7h0.8M149.7 115.2h0.8M149.1 119.1h0.8M155.5 120.9h0.8M155 110.9h0.8M156.5 150.4h0.8M156.9 148.9h0.8M156.3 106h0.8M158.9 139.9h0.8M147.3 128h0.8M160 136.6h0.8M154.1 135.8h0.8M146 136.4h0.8M155.2 139.2h0.8M152.5 127.4h0.8M159 165.9h0.8M158.6 119h0.8M150.4 109.4h0.8M155.1 140.7h0.8M142.8 103.3h0.8M150.3 134.6h0.8M160.8 121.6h0.8M148 135.7h0.8M152.1 130h0.8M157.5 156.2h0.8M156.6 139.4h0.8M158.2 152.4h0.8M158.1 154.5h0.8M159.5 160.6h0.8M146.7 137h0.8M155.1 134.7h0.8M151.9 147.1h0.8M152.5 126.4h0.8M155.8 174h0.8M149.4 121.1h0.8M155 124.6h0.8M152.7 131.9h0.8M148 123.2h0.8M154.6 153.6h0.8M147 125.5h0.8M154.5 125.2h0.8M155.8 133.2h0.8M154 124.2h0.8M151.7 119h0.8M154.4 152.4h0.8M152.6 120.4h0.8M153.4 120.9h0.8M146.6 145h0.8M150.3 139.8h0.8M161.5 129.2h0.8M151.4 154.5h0.8M159.1 113.5h0.8M153.8 135.8h0.8M161.8 125.6h0.8M149.7 140.4h0.8M148.9 117.5h0.8M160.3 132.1h0.8M153.5 132.3h0.8M148.8 128.4h0.8M155.6 128.1h0.8M152.3 155.7h0.8M155.8 136.7h0.8M152.5 118.7h0.8M152.2 111.6h0.8M153 117.9h0.8M153.1 140h0.8M153.2 130.7h0.8M143.8 117h0.8M151.6 127.8h0.8M160.8 134.1h0.8M156.6 115.4h0.8M156.3 171h0.8M150.2 158.6h0.8M160.9 140.4h0.8M158.5 162.6h0.8M158.8 104.9h0.8M159.3 125.5h0.8M153.3 140.3h0.8M149.5 123.8h0.8M155.2 133.2h0.8M158.3 137.1h0.8M149.3 134.2h0.8M151.5 133.8h0.8M156.6 145.2h0.8M152.1 98.9h0.8M148.3 132.9h0.8M153.6 112.8h0.8M152.2 109.7h0.8M162 130.2h0.8M155.2 132.4h0.8M151.5 108.9h0.8M148.7 115.4h0.8M151.2 134.2h0.8M151.1 116.8h0.8M155.9 141.8h0.8M146.1 105.5h0.8M149.6 112.4h0.8M160.5 145.9h0.8M154.8 123.2h0.8M157.7 110.3h0.8M150.7 133.5h0.8M158.3 156.4h0.8M152.5 136.8h0.8M156.2 129.4h0.8M156.9 118.9h0.8M146.6 106.4h0.8M148 122.1h0.8M155.6 153.2h0.8M151.7 145.4h0.8M158.5 116h0.8M149.2 129.2h0.8M155.9 175.1h0.8M153.4 154.2h0.8M151.4 132.8h0.8M151.7 117.7h0.8M149.8 137.1h0.8M155.5 117.2h0.8M152.5 160.6h0.8M154.6 137h0.8M150.9 166.1h0.8M151.1 135.4h0.8M150.3 130.8h0.8M148.5 177.9h0.8M155.1 133.4h0.8M159.4 140.2h0.8M154.2 138.6h0.8M153.5 124.3h0.8M151.3 109.3h0.8M157.3 144.7h0.8M151.4 137.5h0.8M156 128.9h0.8M158.3 132.3h0.8M148.7 142.5h0.8M152.8 138.7h0.8M152.6 116.8h0.8M152.3 137.6h0.8M149.6 124.7h0.8M150.9 121.1h0.8M150.9 158.5h0.8M159.2 122.6h0.8M153.9 127.1h0.8M168 110.2h0.8M149.8 108.4h0.8M159.7 139.5h0.8M148.9 132.1h0.8M150.3 155.7h0.8M153.6 119.9h0.8M154.2 139.8h0.8M157.3 146.9h0.8M158.8 121.6h0.8M159.5 132.6h0.8M159 142.4h0.8M154.9 107h0.8M164.5 105.3h0.8M151.1 145.8h0.8M156.8 150.3h0.8M147 141.1h0.8M148 130.6h0.8M156.6 94.9h0.8M148.9 144.1h0.8M158.4 122.2h0.8M149.3 142.1h0.8M156.9 133.5h0.8M160.3 139h0.8M160 121.9h0.8M148.3 146.5h0.8M152 146.6h0.8M155.6 110h0.8M147.9 127.2h0.8M152 124.5h0.8M151.4 127.6h0.8M154.1 149.7h0.8M150 116.8h0.8M163.4 123.4h0.8M160.9 115.7h0.8M156.7 135.9h0.8M154.8 143.6h0.8M153.6 141.7h0.8M155.4 152.1h0.8M154.2 135.1h0.8M143.2 139h0.8M156.9 140.2h0.8M152.2 130.8h0.8M163.6 116.9h0.8M155.3 117.4h0.8M150.5 146h0.8M154.4 113.7h0.8M156.7 129.6h0.8M143.5 139.2h0.8M158.8 130.4h0.8M154.6 133.5h0.8M163.2 117.6h0.8M156.4 147.2h0.8M158.1 102.6h0.8M162.9 114.9h0.8M153.1 119.8h0.8M151.5 138h0.8M152.3 127h0.8M158.6 110h0.8M162 144.4h0.8M146.7 113.1h0.8M159.4 114h0.8M150.8 114.3h0.8M155 120.5h0.8M160.1 139.9h0.8M156.3 127.4h0.8M160.5 128.6h0.8M148.8 126.8h0.8M146.9 148.7h0.8M152 140.8h0.8M162.9 142.6h0.8M150.5 137.4h0.8M152.1 135.4h0.8M152.4 113.2h0.8M153.1 150.7h0.8M155.1 109.5h0.8M157 133.5h0.8M151.5 128.5h0.8M160.9 136.9h0.8M157.3 130.5h0.8M152.9 140.9h0.8M159 116.2h0.8M153.4 127h0.8M158.1 147h0.8M156 139.1h0.8M149.8 111.9h0.8M149.8 143.1h0.8M149.5 154.9h0.8M157.5 132.9h0.8M144.6 151.4h0.8M157.2 136h0.8M156.9 105.4h0.8M153.5 111.4h0.8M154.4 113.2h0.8M154.9 159.4h0.8M150.8 142.5h0.8M148.5 130h0.8M159.4 140.1h0.8M151.9 125.9h0.8M155.7 151.7h0.8M154.1 138.2h0.8M148.2 128.3h0.8M150 130.4h0.8M153.9 126.2h0.8M158.5 136.9h0.8M146.5 142.5h0.8M153.8 138.6h0.8M152.7 121.6h0.8M150.6 126.3h0.8M148.6 109.8h0.8M151.8 132.9h0.8M154.8 134.5h0.8M153.6 139.9h0.8M149.7 121.1h0.8M154.5 159.7h0.8M150 136.5h0.8M156.1 122.5h0.8M154.6 107.9h0.8M139.1 127.4h0.8M157.7 119.7h0.8M152.1 131h0.8M163.5 128.8h0.8M157.2 120.5h0.8M158.1 135.9h0.8M154 127h0.8M152.5 102.9h0.8M150.1 132h0.8M159.4 131.2h0.8M158.7 129.8h0.8M151 116.6h0.8M163.3 154.9h0.8M152.7 134.4h0.8M157.2 150.3h0.8M154.9 116.7h0.8M145.7 142h0.8M149.8 159.7h0.8M154.8 146.8h0.8M149.1 121.9h0.8M150.1 128.6h0.8M155.9 136.8h0.8M152.9 140.2h0.8M156.6 127.5h0.8M154.5 144.6h0.8M158.4 169.6h0.8M150.7 123.6h0.8M154.8 135.5h0.8M149.6 136.4h0.8M154.4 131.3h0.8M156.9 125.5h0.8M159.6 160h0.8M150 133.6h0.8M155.6 136.9h0.8M151.1 116.5h0.8M145.7 128.2h0.8M152.8 128h0.8M157.6 137.9h0.8M148.4 106.8h0.8M150.9 105.7h0.8M150.7 131.5h0.8M156.1 123.3h0.8M152.4 128.4h0.8M151.7 133.2h0.8M150.2 114.8h0.8M152.5 133.2h0.8M152.8 143.1h0.8M155.6 154.9h0.8M151.7 121.9h0.8M148.1 105.3h0.8M155.7 121.7h0.8M152.6 139.6h0.8M153.4 116.2h0.8M160.2 126.2h0.8M145.2 127.2h0.8M157.3 142.8h0.8M148.5 132.9h0.8M155.5 163.2h0.8M145.6 106.2h0.8M156.2 166.3h0.8M152.4 139.6h0.8M149.5 136.1h0.8M157.9 123.6h0.8M150.5 124.8h0.8M152.4 113.8h0.8M148.4 121.3h0.8M157 120.1h0.8M153.1 109.7h0.8M150.4 123.6h0.8M157.3 116.4h0.8M150.9 113.2h0.8M153.7 150.7h0.8M150.1 134.2h0.8M158.1 120.9h0.8M158.8 124.4h0.8M148.5 124.3h0.8M152.2 140.3h0.8M158 119.6h0.8M158.3 128.6h0.8M153.3 144.2h0.8M155.4 106.5h0.8M142.8 113.8h0.8M150.8 157.9h0.8M161.8 114.4h0.8M149.5 140.8h0.8M150.3 147.2h0.8M151.7 121.8h0.8M148.8 102.9h0.8M152.6 126.9h0.8M157.9 118h0.8M157.6 136.4h0.8M152.8 121.5h0.8M156.7 126.6h0.8M150.6 135.9h0.8M153 110.2h0.8M155.7 140.4h0.8M154.3 154.6h0.8M152.4 152.8h0.8M151.5 159.6h0.8M152.2 116.3h0.8M160.6 150.4h0.8M160 140.9h0.8M147.4 139.2h0.8M157.3 99.3h0.8M145.8 111.5h0.8M150.7 129.6h0.8M153.2 120.9h0.8M154.2 151.1h0.8M151.7 118.4h0.8M150.6 121.6h0.8M155.1 131.5h0.8M159.5 128.4h0.8M157.6 115.4h0.8M154 119.1h0.8M158 149.4h0.8M154.1 102.7h0.8M153.4 134.8h0.8M154.6 111.3h0.8M153.2 146.5h0.8M153 143h0.8M150.3 145.1h0.8M158.9 106.8h0.8M150.4 156.6h0.8M152 137.9h0.8M157.4 152.9h0.8M156.7 156.6h0.8M151.3 119.5h0.8M154 141.2h0.8M143.5 128.3h0.8M156 150.8h0.8M151.6 132.4h0.8M151.1 146.6h0.8M165.3 143h0.8M159.8 150.8h0.8M154.4 123h0.8M151.6 127.5h0.8M155.8 104.8h0.8M152.9 131.1h0.8M148 127.5h0.8M150.9 135.8h0.8M156.3 120.7h0.8M153.4 160.6h0.8M146.2 114.8h0.8M157.8 149.7h0.8M151.5 132.8h0.8M154.6 150.2h0.8M154.6 139.6h0.8M156.8 123.8h0.8M151.3 135.9h0.8M153 130.2h0.8M150.9 127.9h0.8M151 134.5h0.8M154.4 140.1h0.8M150.1 112.1h0.8M155 121.3h0.8M156.7 128.9h0.8M156.1 139.6h0.8M136.5 125.9h0.8M156.3 125h0.8M153.5 106.8h0.8M148.6 125h0.8M155.5 111.4h0.8M148.9 143.5h0.8M164 137.4h0.8M144.3 123.9h0.8M152.7 119.9h0.8M156.3 140.9h0.8M154.8 129.1h0.8M148.1 126.4h0.8M150.4 109.5h0.8M156.8 112.4h0.8M154.1 130.1h0.8M145 131.4h0.8M155.5 135.9h0.8M148.5 156.7h0.8M157.4 113.3h0.8M155.8 155.6h0.8M158 131.5h0.8M152.6 135.9h0.8M154.5 142.8h0.8M150.5 132.7h0.8M150.3 136.3h0.8M148 120.6h0.8M150.5 155.8h0.8M150.3 113.2h0.8M157 120.2h0.8M156.9 138.9h0.8M153.1 122.5h0.8M153.5 142.1h0.8M152.9 151.4h0.8M155.6 140.1h0.8M150.2 125.2h0.8M159.4 116.7h0.8M150 129.7h0.8M141 122.5h0.8M156.2 140.2h0.8M161.8 103h0.8M140.7 117.1h0.8M154.1 112.9h0.8M152.1 114.3h0.8M152.8 140.7h0.8M157.7 106.4h0.8M155.3 135.5h0.8M156.1 116.7h0.8M150.4 131.4h0.8M151.9 142.8h0.8M146.9 139.7h0.8M157.4 153.7h0.8M148.8 149h0.8M160.2 131.5h0.8M150.7 110.2h0.8M151.7 147.6h0.8M151.6 145.6h0.8M147.9 122.9h0.8M152.7 143.5h0.8M149.9 131.2h0.8M149.1 143.6h0.8M155.9 143h0.8M139.5 134.7h0.8M152.9 120.7h0.8M152.8 145h0.8M155.8 173.6h0.8M158.8 137.1h0.8M154.4 132h0.8M142.4 111.3h0.8M144.7 116.8h0.8M153.7 178.6h0.8M146.7 113h0.8M162 130.9h0.8M155.3 150.3h0.8M150.8 123.6h0.8M160 135.2h0.8M156.2 112.1h0.8M147.8 126.4h0.8M162 129.3h0.8M145.6 113.5h0.8M151.7 164.8h0.8M150.7 128.1h0.8M155.1 135.8h0.8M154.2 116.1h0.8M144.9 110.2h0.8M155.4 123.1h0.8M158.9 155.3h0.8M148.5 157.1h0.8M155.1 110.1h0.8M159.5 108.5h0.8M155.8 149.4h0.8M152 107.7h0.8M151.2 129.6h0.8M150.2 118.7h0.8M148.4 140.5h0.8M154.7 146.1h0.8M151.3 123h0.8M155.2 148.1h0.8M159.7 124.9h0.8M151.8 139h0.8M161.1 122.3h0.8M153.1 131.6h0.8M152.3 146.3h0.8M157.7 115.2h0.8M143.9 112.3h0.8M148.2 116.9h0.8M140.9 121h0.8M149.4 132.4h0.8M153.6 109.7h0.8M150.4 109.3h0.8M164.4 99.6h0.8M149.3 138.9h0.8M150.9 115.9h0.8M147.1 131.7h0.8M154.1 136.5h0.8M155.4 142.5h0.8M157.8 168.9h0.8M160.2 137.6h0.8M150.6 136.6h0.8M154.9 138.2h0.8M150.8 120.9h0.8M155.6 144h0.8M143.7 117.1h0.8M151.2 148.2h0.8M160.2 102.4h0.8M155.8 117.5h0.8M158.4 149.4h0.8M150.1 138.1h0.8M160.8 112.2h0.8M148.8 127.4h0.8M149.2 127.8h0.8M150.2 127.7h0.8M164.4 150.5h0.8M158 139.1h0.8M156.7 131.6h0.8M149.9 151.8h0.8M150.8 178.5h0.8M151.4 126.9h0.8M156.6 140.4h0.8M151.7 131.5h0.8M146.8 124.1h0.8M155.9 114.2h0.8M149.2 125.8h0.8M153.8 149.3h0.8M156.3 143.4h0.8M154.4 155.5h0.8M152.9 139h0.8M160.7 130.2h0.8M154.9 161.3h0.8M150.1 133h0.8M150.5 114.4h0.8M154.5 132.5h0.8M151.6 144.3h0.8M151.2 131.2h0.8M158.2 134.4h0.8M150.8 120.4h0.8M152.9 103.4h0.8M156.7 113.8h0.8M147.4 127h0.8M143.8 124.5h0.8M161.1 122.7h0.8M161.3 111.3h0.8M151.9 106.6h0.8M149.1 155.8h0.8M151.8 114.3h0.8M153.4 121.3h0.8M145.5 119.6h0.8M150.9 133h0.8M153.3 134.7h0.8M156 120.1h0.8M151.2 107.7h0.8M152.2 127.9h0.8M154.5 136.5h0.8M155.8 131.3h0.8M150.8 118h0.8M154.4 154.7h0.8M147.2 113.6h0.8M157.3 138.8h0.8M151.5 140.2h0.8M152.5 105.1h0.8M147.5 115.1h0.8M149.9 122.8h0.8M151.5 117.3h0.8M154.3 129.2h0.8M148 135.8h0.8M150.9 134.4h0.8M157.2 123.9h0.8M150.9 121.6h0.8M154.2 113.4h0.8M152 103.7h0.8M143.2 130.6h0.8M160.6 107.1h0.8M157.9 129.8h0.8M150 134.6h0.8M151.8 139.9h0.8M148.8 109.4h0.8M148.3 138.4h0.8M153.5 130.5h0.8M156.5 136.2h0.8M152.2 123.9h0.8M142.1 101.7h0.8M149.5 116.1h0.8M152.4 123h0.8M162 137.1h0.8M151.6 133.9h0.8M157.1 118.1h0.8M153.3 157.1h0.8M153.7 135.2h0.8M149.5 135.9h0.8M159.1 145.5h0.8M163.6 141.1h0.8M153.4 125.4h0.8M160.3 152.4h0.8M147.2 129.9h0.8M164.9 118.6h0.8M160.7 134.6h0.8M144.9 117.8h0.8M149.2 120.8h0.8M150.7 118.4h0.8M150 127.6h0.8M155.5 106.6h0.8M157 127.3h0.8M152.2 151.8h0.8M156.5 133.2h0.8M159.6 121.2h0.8M156.3 136.8h0.8M148.8 136.1h0.8M154.6 120.4h0.8M157.1 137.9h0.8M158.1 144.1h0.8M148.1 127.4h0.8M158.8 113.7h0.8M152.1 139.2h0.8M154.2 145.9h0.8M153.5 138.4h0.8M151.2 140.7h0.8M152.1 136.5h0.8M149.3 122.7h0.8M147.6 113h0.8M145.5 132.8h0.8M150.4 145h0.8M137.8 113.9h0.8M149.7 125.2h0.8M153.4 108.4h0.8M152.3 118.1h0.8M153.9 152.1h0.8M155.5 124.8h0.8M152.9 145.1h0.8M150.1 147.9h0.8M162.7 145h0.8M148.6 136.3h0.8M154.3 125.6h0.8M156.9 103.5h0.8M154 122.4h0.8M151.7 134.4h0.8M150.7 151h0.8M160 135.5h0.8M141.4 96.2h0.8M158.7 107.3h0.8M156.6 128.6h0.8M152.8 152.8h0.8M159.6 110.5h0.8M150.1 161.4h0.8M148.9 108.5h0.8M161.2 157.3h0.8M149.8 133.5h0.8M146.2 114.2h0.8M157 132h0.8M153.9 110.6h0.8M157.4 131.1h0.8M156 131h0.8M154.1 143.9h0.8M157.2 133.7h0.8M153.8 164.2h0.8M162.2 113.4h0.8M147.3 117h0.8M152.4 156.5h0.8M152.8 154.4h0.8M148 106h0.8M155 131.1h0.8M151.1 116.4h0.8M149.9 128h0.8M155 145.9h0.8M142.8 135.9h0.8M153.8 152h0.8M156.3 137.8h0.8M152.5 123.3h0.8M149.9 108.4h0.8M158.9 105.7h0.8M164.7 118.1h0.8M164 103.2h0.8M156.1 108.2h0.8M153.9 127.1h0.8M149.8 173.1h0.8M146.2 143.6h0.8M147.5 126.5h0.8M156.2 113h0.8M159 122.8h0.8M157.7 142.6h0.8M160.8 122.5h0.8M156.2 147.3h0.8M156.1 114.1h0.8M150.8 172h0.8M152.8 139h0.8M157.5 135.4h0.8M144.2 142.3h0.8M163.5 98.6h0.8M154.6 145.5h0.8M147.2 132.1h0.8M150.8 129.4h0.8M147.2 151.6h0.8M158 155.8h0.8M154.5 120.5h0.8M160.7 131.9h0.8M154.1 109.4h0.8M162.1 131.8h0.8M151 124.6h0.8M148.1 149.2h0.8M153.8 144.1h0.8M161.1 131.4h0.8M163 118.7h0.8M150.1 135.6h0.8M152.8 122.7h0.8M153.9 128.5h0.8M149.4 143.5h0.8M150.4 141.1h0.8M149 109.6h0.8M155.6 127.4h0.8M155.6 137.7h0.8M144.2 120.6h0.8M151.6 127h0.8M150.9 120.3h0.8M150.5 141.3h0.8M155.6 132.6h0.8M154.1 138.1h0.8M149 117h0.8M148.2 107.6h0.8M152.6 156.6h0.8M153.8 132.5h0.8M154.6 143.1h0.8M158.3 114.1h0.8M147.1 131.8h0.8M158.7 102.4h0.8M158.9 131.8h0.8M154 109h0.8M154.8 145.4h0.8M152.6 146.3h0.8M152.6 109.4h0.8M154.2 149.5h0.8M149 133.3h0.8M163.1 130.7h0.8M155.4 116.3h0.8M162.6 122.1h0.8M157.4 159.8h0.8M155.8 137.1h0.8M151.1 134.6h0.8M155.1 169.5h0.8M148.7 122.5h0.8M152.8 161.4h0.8M150.9 170.5h0.8M156.2 126.3h0.8M155.1 121.8h0.8M155.2 133.2h0.8M157.5 116.9h0.8M154.4 126.5h0.8M147 123.1h0.8M146.5 134.3h0.8M143.6 142.3h0.8M156.4 137.5h0.8M157.1 125.1h0.8M154.1 124.3h0.8M152.1 168.1h0.8M150.5 131h0.8M150.3 112.2h0.8M159.3 102.8h0.8M146.4 133.9h0.8M151.4 150h0.8M166 128.5h0.8M160.6 146.4h0.8M152.1 126.5h0.8M154.9 127.7h0.8M152.9 122.2h0.8M156.7 142.1h0.8M155.1 129.4h0.8M151.4 149.2h0.8M154.1 145.9h0.8M152.9 128.2h0.8M152.9 126.3h0.8M148.5 108h0.8M149.8 117.2h0.8M148.2 140.9h0.8M147.5 104.1h0.8M149 139.1h0.8M148.6 135.4h0.8M167.1 97.1h0.8M143.7 110.3h0.8M158.5 120.6h0.8M152.7 117.3h0.8M160.6 118.3h0.8M159.8 128.8h0.8M164.5 108.9h0.8M155.6 132.4h0.8M149.8 136.6h0.8M152.2 148.8h0.8M149.9 113.3h0.8M153.7 131.5h0.8M153.8 143.8h0.8M151.5 151.6h0.8M154.1 137.7h0.8M154 149.6h0.8M146.2 158.3h0.8M158.4 134.1h0.8M158.2 105.4h0.8M162.5 127.8h0.8M149.8 127.1h0.8M149.4 114.9h0.8M156.1 149.5h0.8M150.9 112.8h0.8M154.2 144.3h0.8M148 120.3h0.8M156.1 136.8h0.8M162.6 124h0.8M139 115.8h0.8M148.6 109.1h0.8M145.6 123.2h0.8M144.5 120h0.8M161.9 117.3h0.8M156.8 134.8h0.8M152.9 127.7h0.8M153.5 145.8h0.8M146.7 125h0.8M151.7 109.3h0.8M152.5 135.5h0.8M162.6 137.7h0.8M152.5 134.5h0.8M150.2 121h0.8M159.4 156.8h0.8M158.8 133h0.8M163.4 112.1h0.8M154.2 118.9h0.8M157.6 159.4h0.8M159.3 146h0.8M149.3 139h0.8M152.8 130h0.8M158 128h0.8M154 106h0.8M154.3 107.1h0.8M150.7 155.8h0.8M153.1 132.2h0.8M148.5 120.3h0.8M157.2 150.9h0.8M162.5 136h0.8M151.3 146.8h0.8M143.8 117.2h0.8M149.1 128.6h0.8M159 134.5h0.8M153.7 135.2h0.8M148.1 117.6h0.8M155.2 157.6h0.8M156.6 130.8h0.8M152.2 141.5h0.8M155.1 133.7h0.8M154.7 116.2h0.8M152.8 170.3h0.8M150.3 141.7h0.8M155.4 140.8h0.8M156 171.8h0.8M157.1 118.2h0.8M147.1 141.8h0.8M152.1 152.9h0.8M152.8 104.2h0.8M159.9 110.3h0.8M156.5 131.1h0.8M156 104.8h0.8M149.7 127.5h0.8M152.2 135h0.8M151.3 156.8h0.8M147.4 105.4h0.8M150 151.4h0.8M157.7 126.1h0.8M163.7 119.2h0.8M155.2 140.5h0.8M152.5 128.6h0.8M150 105.7h0.8M147.7 127.5h0.8M153 121.1h0.8M150.3 147.5h0.8M153.1 150.9h0.8M152.9 134.2h0.8M158.3 139.2h0.8M155.2 124.5h0.8M149.3 130.1h0.8M163.4 119.1h0.8M156.9 105.7h0.8M150.8 146h0.8M155.9 138.3h0.8M152.4 131.7h0.8M157.3 119.9h0.8M150.3 145.5h0.8M156.2 122h0.8M155.4 139.1h0.8M150.6 155.7h0.8M148.3 125.8h0.8M150.5 123.8h0.8M148.9 109.7h0.8M154.1 123.4h0.8M145.9 148.7h0.8M148.7 125.2h0.8M164.2 126.3h0.8M155 157.7h0.8M150.7 147h0.8M152.3 154.6h0.8M161 105.5h0.8M151.3 138.3h0.8M152.2 146.1h0.8M154.4 140.5h0.8M157.4 151.1h0.8M153.3 132.7h0.8M146.7 133.7h0.8M152.7 116.7h0.8M154 108.2h0.8M156.7 114.5h0.8M154.9 131.2h0.8M146.1 133.8h0.8M155.9 146h0.8M148.3 144.8h0.8M154.3 144.8h0.8M151.5 158h0.8M152 136.8h0.8M143 151.1h0.8M158.5 144.1h0.8M148.8 109.2h0.8M157.3 107.2h0.8M148.5 134.8h0.8M151 139.1h0.8M146.4 130.5h0.8M152.4 155.5h0.8M155.3 142.4h0.8M157.2 146.9h0.8M146.5 113.1h0.8M159.8 125.8h0.8M157.7 132h0.8M153.7 135.2h0.8M151.5 137.3h0.8M148.9 106.8h0.8M151.9 159.5h0.8M149.2 121.8h0.8M158.3 115h0.8M151.9 128.4h0.8M150.3 138.6h0.8M150.9 102.7h0.8M155.6 127.2h0.8M158.2 105.7h0.8M149.8 131.7h0.8M154.5 156.1h0.8M155.4 98.1h0.8M151.7 139.6h0.8M149.9 155.2h0.8M154.1 102h0.8M150.7 112.5h0.8M155.8 114.5h0.8M145.1 150.5h0.8M154.7 161.5h0.8M151 119.3h0.8M157.6 137.2h0.8M149 134.2h0.8M158.5 124.4h0.8M153.2 163.1h0.8M149.5 139.8h0.8M155.4 110.5h0.8M149.6 100.3h0.8M156 138.6h0.8M152.1 131.8h0.8M151.9 132.8h0.8M147.7 119.7h0.8M152.6 137.2h0.8M154.5 116.1h0.8M152.2 108.7h0.8M152 127h0.8M154 128.1h0.8M150.8 134.2h0.8M160.3 134.3h0.8M149.8 135.7h0.8M154.5 144.1h0.8M152.4 145.1h0.8M156.2 138.7h0.8M157 134.2h0.8M153.6 116.7h0.8M151.9 141.7h0.8M160.2 106.7h0.8M154.8 150.1h0.8M161.8 143.8h0.8M146.8 130.2h0.8M148.4 144.4h0.8M153.9 147.8h0.8M156.9 145.8h0.8M154.9 150.6h0.8M152.7 159.2h0.8M151 121.7h0.8M153.8 117h0.8M154.9 102.1h0.8M151.3 140.6h0.8M163.1 118.9h0.8M146.3 118h0.8M147 140.5h0.8M155 146.7h0.8M151.7 162.8h0.8M153.9 95.6h0.8M153.8 136.4h0.8M151.1 108.4h0.8M161.6 142.8h0.8M153.4 178.4h0.8M153.4 128.1h0.8M157.3 121.1h0.8M151.9 135.9h0.8M150.9 166.8h0.8M156.6 156.4h0.8M151.1 149h0.8M158.3 122.3h0.8M148.1 110.9h0.8M158.6 127.1h0.8M152.8 145.1h0.8M151.4 151.3h0.8M153.6 119.3h0.8M151 137.1h0.8M157.2 105.8h0.8M162.3 151.6h0.8M152.9 137.9h0.8M151.1 139.2h0.8M145.5 120.4h0.8M151.8 130.5h0.8M155 102.1h0.8M155.9 123.8h0.8M153.8 121.2h0.8M156 171.6h0.8M156.7 136.3h0.8M150.5 125.9h0.8M149.6 145.8h0.8M152.8 126.3h0.8M152.3 145.7h0.8M149.9 125.2h0.8M150.6 133.1h0.8M154.8 174h0.8M157.3 130h0.8M148.7 109.4h0.8M154.6 121.1h0.8M157.4 129.7h0.8M146.2 116.5h0.8M151.8 106.5h0.8M150.7 142h0.8M148.3 134.7h0.8M155.3 113h0.8M157.2 145.9h0.8M153.7 127.1h0.8M152.5 115.1h0.8M155.8 135.3h0.8M149.5 161.3h0.8M158.7 122.6h0.8M154.1 158.8h0.8M152.5 141.9h0.8M160.9 121h0.8M158.4 101.8h0.8M153.9 120.4h0.8M155.7 161.8h0.8M149.6 150.7h0.8M145.7 129h0.8M156.3 101.7h0.8M155.7 124.9h0.8M153.6 127h0.8M149.6 119.3h0.8M154.1 126.5h0.8M147.2 118.1h0.8M152.7 126.9h0.8M156 120.5h0.8M155.6 127.9h0.8M160.2 123.6h0.8M156 125.9h0.8M153 146.4h0.8M158.7 118.2h0.8M153.7 147.1h0.8M153.8 135.4h0.8M151.8 138.9h0.8M154 132h0.8M148.3 114.2h0.8M157 146.8h0.8M152.3 122.7h0.8M158 150h0.8M158.4 148.7h0.8M152.6 126.8h0.8M157.3 133.7h0.8M145.2 130.8h0.8M144.6 142.5h0.8M157.9 124.3h0.8M145.6 113.9h0.8M152.5 116.5h0.8M150.9 163.7h0.8M164.4 113.7h0.8M145.6 139.8h0.8M161.6 146.9h0.8M146.8 131h0.8M156.7 165.5h0.8M150.5 117.7h0.8M153.9 134.2h0.8M151.1 136.6h0.8M151.1 140.4h0.8M155.2 110.7h0.8M163.1 114.1h0.8M154.1 168.6h0.8M151.9 115.2h0.8M155.4 140.8h0.8M150 139.7h0.8M153.8 136h0.8M157.7 130.8h0.8M151.1 130.6h0.8M150.9 97.1h0.8M150.2 133.3h0.8M154.8 156.9h0.8M142.3 106.9h0.8M155.5 143.4h0.8M155.9 142.2h0.8M148.3 131.8h0.8M151.1 134.5h0.8M140.2 122h0.8M160 124.2h0.8M154.5 128.5h0.8M155.1 139.8h0.8M147.5 133.4h0.8M144.9 150.5h0.8M154.1 123.8h0.8M154.4 113h0.8M146.1 119.6h0.8M152 161.7h0.8M155.2 136.4h0.8M152.7 133.2h0.8M154.6 130.3h0.8M154.9 127.7h0.8M153.2 139.2h0.8M149.7 155.2h0.8M155.5 135.5h0.8M147.8 143.4h0.8M148.5 115.2h0.8M150.4 159.3h0.8M144.5 150.5h0.8M161.1 137.3h0.8M150.3 143.2h0.8M153.4 112.1h0.8M159.8 132.7h0.8M153.7 150.4h0.8M154.2 122.7h0.8M150.3 150.3h0.8M152.1 101.7h0.8M158.4 135.3h0.8M153.9 160.5h0.8M159.5 160h0.8M154.3 147.3h0.8M154.3 146.1h0.8M153.3 125.7h0.8M154.7 136.2h0.8M151.2 134.9h0.8M157.6 120.6h0.8M150.1 153.2h0.8M155 143.7h0.8M160 154h0.8M154.1 130.2h0.8M149.1 116.6h0.8M155.3 124.8h0.8M147 109.7h0.8M156.3 108.1h0.8M158.6 126.8h0.8M152.7 135h0.8M151.2 117.2h0.8M160.6 113.1h0.8M154.2 127.3h0.8M149.8 141.5h0.8M146.9 107.2h0.8M154.8 129.5h0.8M151 145.6h0.8M162.7 142.4h0.8M160.3 124.7h0.8M160.5 106.6h0.8M150.6 138h0.8M161.3 107h0.8M158.5 147.5h0.8M157.3 125.9h0.8M163.4 114.9h0.8M153.7 141h0.8M151.5 110h0.8M152.9 121.7h0.8M152.1 158.5h0.8M150.2 116.1h0.8M152.2 155.8h0.8M155.8 128.9h0.8M156 125.1h0.8M151.5 147.9h0.8M152 143.1h0.8M160.1 123.3h0.8M158.5 134.4h0.8M146.8 112.3h0.8M154.5 143.9h0.8M161.2 153.1h0.8M149.6 161.3h0.8M149.3 117.7h0.8M148.1 118.8h0.8M149.9 113.1h0.8M158.6 118.6h0.8M150.7 155h0.8M150 159.1h0.8M153 115.3h0.8M160.9 116.5h0.8M157.1 113.4h0.8M152 137.4h0.8M157.8 125.1h0.8M154.8 112.5h0.8M153.3 135.1h0.8M154.6 103.1h0.8M158.2 102.5h0.8M157.2 126.7h0.8M155.3 142.6h0.8M152.3 131.3h0.8M148.5 149.8h0.8M156.2 135.7h0.8M154.7 126h0.8M146.8 125h0.8M153.6 112.8h0.8M151.6 142.5h0.8M154.3 114h0.8M162.3 157.5h0.8M160.7 154.5h0.8M147.9 116.3h0.8M160.3 109.8h0.8M156.8 113.1h0.8M154.6 124.9h0.8M155 138.9h0.8M152.6 109.2h0.8M153.4 112.7h0.8M147.5 154.5h0.8M151.9 126h0.8M149.2 139.2h0.8M146.3 134h0.8M151.3 133.3h0.8M155.7 150.6h0.8M156 160.6h0.8M156.1 125.8h0.8M157.4 128h0.8M148.8 134.4h0.8M149.5 123.9h0.8M154.3 136h0.8M158 145.3h0.8M158.9 155.3h0.8M161.7 130.7h0.8M157 112h0.8M154.1 125.3h0.8M152 152.6h0.8M151.1 145.5h0.8M150 132.2h0.8M152.3 127.8h0.8M155.5 137.8h0.8M146.7 122.5h0.8M167 135.3h0.8M155.8 129.9h0.8M158 144.6h0.8M156.5 105h0.8M153.8 132.3h0.8M156.6 161.1h0.8M155.5 135.1h0.8M154.6 124h0.8M149.3 105.9h0.8M156.7 120.1h0.8M160.4 129.5h0.8M145.9 136.1h0.8M155.6 147.6h0.8M154.6 146.3h0.8M155.7 154.8h0.8M149.6 134.3h0.8M152.7 139.2h0.8M154.6 115.2h0.8M154.4 133.5h0.8M155.8 115.6h0.8M148.7 101.5h0.8M154 116.7h0.8M156.4 140.4h0.8M158.5 116.5h0.8M149 122.2h0.8M155.4 127.3h0.8M153.7 102.9h0.8M161.2 127.6h0.8M151.5 129.1h0.8M157.3 125.4h0.8M145.5 127.6h0.8M158.2 136.7h0.8M157.5 142.2h0.8M149.7 127.3h0.8M142 117.1h0.8M148.5 164.3h0.8M152 121.5h0.8M153 119.8h0.8M151.1 128h0.8M158.2 136.6h0.8M146.3 117.6h0.8M163.8 120.8h0.8M148.4 117.8h0.8M154.5 118h0.8M158.1 135.3h0.8M150.3 110.1h0.8M151.7 128.1h0.8M161.2 130.1h0.8M156.3 137.2h0.8M154 125.9h0.8M156.5 148.4h0.8M156.9 148h0.8M154.3 131.6h0.8M150.1 137.6h0.8M154.1 146.8h0.8M155 131.5h0.8M157.2 134.8h0.8M154.2 127.8h0.8M153.6 134h0.8M149.8 119.6h0.8M155.6 149.6h0.8M153.6 123.3h0.8M147.2 126.2h0.8M154 145.9h0.8M147.8 130.7h0.8M143.9 122.6h0.8M147.3 110h0.8M149.3 139.2h0.8M152.9 152h0.8M153.1 160.8h0.8M152.1 127.4h0.8M146.9 130.5h0.8M149.3 160.1h0.8M154.9 113h0.8M160.7 159.2h0.8M159 120h0.8M160.3 113.8h0.8M154.5 157.5h0.8M161.9 142.8h0.8M153.3 119.1h0.8M144.2 134.3h0.8M149.6 128.6h0.8M157.3 108.2h0.8M151.8 131.5h0.8M150.3 112.3h0.8M154.3 112.4h0.8M155.4 134.9h0.8M143.5 102h0.8M157.2 118.1h0.8M160.3 134.4h0.8M156.2 119.4h0.8M156.3 146.5h0.8M156 151.1h0.8M162.1 104.6h0.8M154.3 147.8h0.8M145.8 118.6h0.8M149.7 124.9h0.8M157.4 140.2h0.8M155.5 131.5h0.8M155.4 129.9h0.8M153.8 105h0.8M153.8 134.8h0.8M155.7 118.6h0.8M154.1 165h0.8M166.5 123.2h0.8M152.7 139.9h0.8M153.8 149h0.8M151.1 158.9h0.8M146.6 131.6h0.8M150.6 134.6h0.8M162 109.8h0.8M157 96.2h0.8M163 101.6h0.8M158.2 145.1h0.8M152.7 155.6h0.8M152.5 133.4h0.8M154.8 161.8h0.8M160.4 135h0.8M142.3 120.8h0.8M158.7 128.2h0.8M150.4 131.8h0.8M152.7 152.5h0.8M152.8 145.6h0.8M159.5 135.5h0.8M155.3 146.3h0.8M155.1 148.1h0.8M150.1 113.5h0.8M154.2 149.6h0.8M150.6 129.9h0.8M153.8 123.4h0.8M146.2 119.3h0.8M159.9 118h0.8M162.1 143.6h0.8M147.2 126.5h0.8M151 147.7h0.8M152.8 140.9h0.8M152.5 125.4h0.8M149.4 135.5h0.8M151.7 163.6h0.8M157.4 150.3h0.8M158.9 169.7h0.8M153.9 176.9h0.8M148.3 130.1h0.8M157.5 146.2h0.8M153.6 148h0.8M156.7 129.6h0.8M159.1 150.9h0.8M158.3 132.8h0.8M158.3 153.4h0.8M157.3 131.9h0.8M157.5 140.8h0.8M144.6 129.8h0.8M155.7 101.9h0.8M151.6 133.5h0.8M157.8 136.4h0.8M158.2 115h0.8M157.3 157h0.8M163 154.9h0.8M159.1 124h0.8M154.2 130.4h0.8M162.3 141.9h0.8M158.6 135.7h0.8M153.3 143.6h0.8M153.2 136.7h0.8M156.6 138.7h0.8M145 119.5h0.8M147.9 137.5h0.8M146.3 112.7h0.8M154.2 122.6h0.8M144.4 131.2h0.8M152.1 102.5h0.8M158.9 119.2h0.8M150 146.7h0.8M164.5 102.1h0.8M153.6 143.8h0.8M152.4 114.7h0.8M156.5 108.7h0.8M156.8 131.5h0.8M159.4 138.1h0.8M159.4 141.1h0.8M162.4 115.3h0.8M153.9 154.6h0.8M157 107.9h0.8M154.3 124.1h0.8M152.4 122.7h0.8M148.1 134.9h0.8M152.8 101.6h0.8M155.7 103.7h0.8M153 148.3h0.8M153 129.5h0.8M143.3 135.2h0.8M152.6 136.9h0.8M152.4 138.2h0.8M150.9 155.9h0.8M147.6 106h0.8M150.2 138.9h0.8M151.3 132.9h0.8M160.9 106.5h0.8M155.8 138h0.8M152.8 94.4h0.8M153.4 177.4h0.8M154.3 133.9h0.8M148.1 126.3h0.8M157.1 145.7h0.8M153.9 134.6h0.8M153.9 119.2h0.8M148.3 127.6h0.8M145.5 130.1h0.8M163 103.1h0.8M153.2 138.3h0.8M154.4 108.7h0.8M152.3 127.1h0.8M150.4 134.4h0.8M146.4 142.8h0.8M150 132.6h0.8M165.4 106.9h0.8M151.1 108.2h0.8M146.5 132.2h0.8M157.3 104.3h0.8M163.2 125.2h0.8M152 121.9h0.8M151.3 125.4h0.8M146.8 122.1h0.8M152 121.6h0.8M152.1 137h0.8M145.5 132h0.8M152.4 120.1h0.8M158.9 94.6h0.8M153.1 130.4h0.8M152.3 150h0.8M143.3 139.6h0.8M150.5 134.8h0.8M158.8 124.9h0.8M159.2 134.9h0.8M157.6 109.4h0.8M154.3 135.4h0.8M162.4 102.9h0.8M143.6 111h0.8M161.4 167.3h0.8M160.6 118.1h0.8M151.9 120.3h0.8M153.3 122.3h0.8M158.1 105.1h0.8M150.9 145.5h0.8M158.2 113.1h0.8M155.3 125.1h0.8M150.8 150.4h0.8M144.1 121.1h0.8M156.6 121.7h0.8M158 119h0.8M148 98.5h0.8M145.7 158h0.8M158 128.2h0.8M155 157.4h0.8M152.9 141.6h0.8M153.9 126.2h0.8M157.1 149.3h0.8M144.9 132h0.8M161.9 117h0.8M161.1 136.2h0.8M153.3 155.9h0.8M160.8 108.3h0.8M159.1 121.2h0.8M157.1 136.5h0.8M158.6 113.9h0.8M157.9 123.5h0.8M156.7 122.6h0.8M156.6 155.3h0.8M152.5 145.3h0.8M154.9 128.8h0.8M152.2 151.5h0.8M151.6 125.8h0.8M154.8 129.3h0.8M151 126.2h0.8M156.5 126.7h0.8M157.2 150.8h0.8M155.6 146.3h0.8M156.9 119.7h0.8M150.5 149.2h0.8M156.4 149.3h0.8M144.8 127.5h0.8M159.8 117.6h0.8M153.6 138.4h0.8M148.6 125.7h0.8M156.4 136.9h0.8M153.8 135.5h0.8M162.1 128h0.8M155.3 125.5h0.8M159.4 137.7h0.8M153.6 128.7h0.8M161 108.1h0.8M152.8 145.1h0.8M150.6 108.8h0.8M152.2 103.9h0.8M141.7 105.4h0.8M161.9 153.9h0.8M152.1 141.8h0.8M150.7 139.4h0.8M154.3 127.3h0.8M151.6 140.2h0.8M158.7 107.8h0.8M160.2 113.5h0.8M157.9 133.1h0.8M148.2 102.7h0.8M139 107.5h0.8M148.8 161.4h0.8M150.1 146.4h0.8M157.5 138h0.8M152.4 142h0.8M148 151.4h0.8M150.3 133h0.8M154 115.3h0.8M157.2 159.9h0.8M152.5 149.8h0.8M150.7 147.2h0.8M148.7 140h0.8M152.7 142.2h0.8M157.1 118.2h0.8M151.1 113.6h0.8M146.8 110.1h0.8M157.1 132.9h0.8M156.5 104.7h0.8M152.7 124.8h0.8M153.9 119.9h0.8M150.3 124.5h0.8M149.5 132.3h0.8M150.7 148.2h0.8M151.1 144.1h0.8M147.2 139.7h0.8M155.1 125.2h0.8M139.1 104.7h0.8M150.4 153.6h0.8M154.2 144.6h0.8M150.7 144.3h0.8M152.3 118.2h0.8M157.9 156.9h0.8M152.2 108.4h0.8M152.7 107.9h0.8M154.9 136.1h0.8M153.8 108.9h0.8M147.4 135.3h0.8M148.2 127.2h0.8M147.1 131.9h0.8M149.9 144.6h0.8M149 141.3h0.8M157.5 110h0.8M149 135.8h0.8M151.8 112.3h0.8M158.6 120.9h0.8M155.7 137h0.8M151.2 123h0.8M150.8 133.2h0.8M153.2 178.2h0.8M153 129.7h0.8M144.3 97.9h0.8M150.3 123.3h0.8M150.2 128.4h0.8M154.9 116.8h0.8M148.7 136.7h0.8M146 135.3h0.8M150.6 140.3h0.8M159.3 139.3h0.8M152.9 137h0.8M154.1 110.3h0.8M150.4 134.6h0.8M153.3 146h0.8M153.9 121.4h0.8M146.5 113.3h0.8M152.3 120.3h0.8M142.8 108.1h0.8M154.6 125.9h0.8M159 142.2h0.8M151.7 133.8h0.8M151.9 120h0.8M152.6 147.9h0.8M155.9 142.4h0.8M156.9 140.7h0.8M149.3 143.7h0.8M146.6 118.2h0.8M143.1 133.8h0.8M153.7 145.8h0.8M154.4 138h0.8M161.7 131h0.8M153 120.9h0.8M155.9 126.8h0.8M153.7 113.6h0.8M153.9 133.5h0.8M157.4 128.5h0.8M140.4 126.1h0.8M147.7 128.4h0.8M147 156.7h0.8M152.6 150.3h0.8M150.3 141.6h0.8M162.5 117.3h0.8M149 107h0.8M144.8 129.6h0.8M152.5 129.2h0.8M156.5 109.2h0.8M155.6 124.2h0.8M151.5 112.8h0.8M151.6 141.7h0.8M154 151h0.8M158.8 174.6h0.8M150.5 131.2h0.8M159.3 131.4h0.8M154.3 118.8h0.8M158.6 128.2h0.8M154.6 120.4h0.8M153.8 118.7h0.8M157.5 148.6h0.8M160.8 111h0.8M148 131.6h0.8M150.5 123.9h0.8M154.8 160.8h0.8M154.1 142.9h0.8M157.3 138.4h0.8M155.9 116.7h0.8M150.2 111.5h0.8M157.1 114.8h0.8M151 113.8h0.8M147.8 128.6h0.8M155 137.6h0.8M146.6 151h0.8M150 136.3h0.8M153.2 146h0.8M158.2 152.8h0.8M153.3 112h0.8M153.5 140.1h0.8M149.9 132.2h0.8M155.6 141h0.8M151.3 145.1h0.8M149.4 137.8h0.8M147.3 126.4h0.8M156.9 115.7h0.8M157.4 131.1h0.8M151 113h0.8M150.7 131.5h0.8M152 136.5h0.8M155.9 129.3h0.8M158.4 98.3h0.8M161 134.3h0.8M152.6 128.7h0.8M153.7 135.1h0.8M154.4 136.9h0.8M153.2 102.4h0.8M146.2 142.7h0.8M149 132.3h0.8M154.4 143h0.8M155.6 125.1h0.8M147.9 112.3h0.8M150.1 141.2h0.8M151.3 146.8h0.8M156.6 144.2h0.8M162.4 147.8h0.8M157.4 163.6h0.8M152.3 155.8h0.8M154 150.2h0.8M151.2 123.2h0.8M149.6 141.3h0.8M150.3 144.3h0.8M154 141.7h0.8M149.5 116.9h0.8M152.8 163.1h0.8M147.8 117.9h0.8M147.7 125.2h0.8M154.7 151.2h0.8M152.6 160.5h0.8M150.5 174.2h0.8M150.8 125.1h0.8M155.8 142.4h0.8M149.2 145.8h0.8M153.2 137.8h0.8M152.4 129h0.8M155.9 112.4h0.8M163.7 133.5h0.8M154.9 156.1h0.8M162.3 143.7h0.8M157.1 126.7h0.8M160.2 125h0.8M157.4 140h0.8M156.1 158.7h0.8M157.5 113.3h0.8M143.8 121.8h0.8M151.7 130h0.8M155.7 107.2h0.8M159.6 121h0.8M146.4 123h0.8M145.2 144.2h0.8M151.8 112.1h0.8M155.7 151.8h0.8M152.2 138.2h0.8M141.6 110.7h0.8M153.5 154.8h0.8M158.4 135.4h0.8M155.7 137.1h0.8M144.8 104h0.8M151.2 154.1h0.8M148.5 134.8h0.8M149.5 127.4h0.8M155.5 113.4h0.8M154.1 120.7h0.8M145.6 128.2h0.8M145.5 135.1h0.8M146.6 110.4h0.8M151.9 146h0.8M162 107.9h0.8M165.3 129.3h0.8M151 135h0.8M150.8 131.9h0.8M156.5 142.9h0.8M157.2 138.7h0.8M157.6 122h0.8M158.6 106.4h0.8M158.9 146.5h0.8M159 170.9h0.8M147 112.1h0.8M142.6 111.1h0.8M150.7 115.4h0.8M152.6 136h0.8M156.6 140.5h0.8M153.1 132.3h0.8M151.6 130.6h0.8M156 147.6h0.8M146.9 118.1h0.8M159.5 116.2h0.8M160.1 128.7h0.8M159.3 165.9h0.8M154.8 143.2h0.8M163.3 146h0.8M156.3 137.9h0.8M152.8 154.7h0.8M152.6 124.6h0.8M159.7 143.4h0.8M154.2 156h0.8M151.7 134.1h0.8M154.2 121h0.8M156.3 134.3h0.8M155.7 132.7h0.8M154.1 111h0.8M150.6 130.3h0.8M158.1 108.8h0.8M154.6 122.9h0.8M154 144.6h0.8M147.6 126.5h0.8M153.3 146.5h0.8M143.8 98.1h0.8M157.7 111.1h0.8M150.3 120h0.8M163.2 133.2h0.8M177.3 113.5h0.8M148.2 160.4h0.8M149.6 138.2h0.8M156.6 141.9h0.8M145 110h0.8M157.4 122.1h0.8M159.7 127.2h0.8M148.5 112.7h0.8M154.6 129h0.8M153 150.3h0.8M155 114.9h0.8M165.3 130.7h0.8M157.9 121.2h0.8M158.6 145.1h0.8M152.8 138.2h0.8M148 137.8h0.8M147 122h0.8M148.9 117.9h0.8M154.7 110.8h0.8M146.9 112.4h0.8M156.8 122h0.8M152.7 126.7h0.8M139.9 140.5h0.8M146.9 123h0.8M155.2 147.8h0.8M151.6 173.6h0.8M153.2 120.1h0.8M150 134.5h0.8M146 128.3h0.8M157 140.1h0.8M153.2 145.8h0.8M148.1 137h0.8M150.9 162.7h0.8M149.5 143.5h0.8M154.8 132h0.8M154.9 121h0.8M159.2 149.8h0.8M156.8 125.4h0.8M158 151.7h0.8M159.3 100.2h0.8M154.3 140.4h0.8M156.5 131.9h0.8M154.6 128.4h0.8M149 145.7h0.8M165.1 131.2h0.8M155.9 146.9h0.8M149.3 109.5h0.8M155.5 157.4h0.8M149.5 131.7h0.8M156.9 106.6h0.8M147.1 131.1h0.8M159.2 110.7h0.8M161.6 117.5h0.8M149.9 147.7h0.8M155.4 116.9h0.8M151.2 131.7h0.8M154.4 114.3h0.8M147.1 116.9h0.8M155.4 130h0.8M144.1 114.4h0.8M150.6 134.2h0.8M152.8 130.8h0.8M157.2 124h0.8M153 126.5h0.8M160.5 116.6h0.8M149.7 129.8h0.8M158.2 102.2h0.8M150.3 99.1h0.8M153.1 133.6h0.8M157.2 154.6h0.8M143.5 155h0.8M148.5 131.6h0.8M147.7 126.6h0.8M146.2 152.8h0.8M152.8 151.3h0.8M149 102.3h0.8M154.3 108.9h0.8M147.5 161.2h0.8M151.9 155.4h0.8M150.6 130.2h0.8M149.6 139.6h0.8M157.2 128h0.8M158.8 148.2h0.8M152.6 144.5h0.8M156.3 103.6h0.8M144.4 130.1h0.8M151.7 129.5h0.8M158.6 134.4h0.8M161.4 139.7h0.8M154.2 130h0.8M154 135.8h0.8M154.3 108.7h0.8M150.8 147.1h0.8M156.1 111.8h0.8M153.3 144.7h0.8M156.2 129.2h0.8M154.2 146.4h0.8M151 152h0.8M159.7 134.5h0.8M161.2 132.2h0.8M159.8 124.5h0.8M145.3 133.4h0.8M152.7 166.4h0.8M151.8 101.8h0.8M156.3 139h0.8M151.9 136.8h0.8M155.3 127.6h0.8M150.2 140.3h0.8M147.8 104.6h0.8M153.1 145.5h0.8M154.9 133.1h0.8M160.5 105.3h0.8M154.1 131.4h0.8M152.4 114.9h0.8M148.1 128h0.8M152.9 124.2h0.8M155 154.2h0.8M147.8 98.3h0.8M155 109.8h0.8M160.7 127.6h0.8M164.3 115.8h0.8M152 143.8h0.8M154.4 132.2h0.8M155 150.1h0.8M151.9 153.6h0.8M154.7 134.9h0.8M149.6 125.5h0.8M154.8 125.2h0.8M153.6 132.3h0.8M161.6 139.1h0.8M154.4 108.3h0.8M148 109.1h0.8M152.2 139.2h0.8M151.6 123.5h0.8M147.7 145.7h0.8M157.6 148.8h0.8M146.2 122.9h0.8M149.9 100h0.8M153.7 133.5h0.8M153.5 137h0.8M158 118.1h0.8M153 141.9h0.8M151.9 143.1h0.8M152 132.4h0.8M148.5 121.1h0.8M157 124.5h0.8M152.1 135.9h0.8M151.3 120.9h0.8M154.5 136.2h0.8M157.1 171.2h0.8M156.2 126.8h0.8M152.4 153.3h0.8M156.1 123.6h0.8M151.7 140.5h0.8M154.4 105.9h0.8M145.5 110.6h0.8M150.5 123.8h0.8M159.2 139h0.8M150.2 148h0.8M152.7 142.1h0.8M155.4 130.3h0.8M155.6 110.5h0.8M159.1 102h0.8M152.5 121.9h0.8M151.2 108.3h0.8M153.3 114.7h0.8M156.5 139.9h0.8M154.8 119.6h0.8M153.7 113h0.8M154.1 142.7h0.8M142.4 105.9h0.8M148.7 130.7h0.8M153.9 108.9h0.8M153.6 145.9h0.8M155.8 146.1h0.8M159.6 115.6h0.8M153 113.7h0.8M155.7 111.5h0.8M159.2 151.5h0.8M151.4 145.1h0.8M150.9 156.1h0.8M149.6 165.1h0.8M148.9 144.3h0.8M157.1 137.1h0.8M155.5 135.8h0.8M149.7 112.8h0.8M152.6 106.7h0.8M155.1 131.6h0.8M146.1 108.7h0.8M150.5 115.7h0.8M148.6 129.3h0.8M158.9 171.9h0.8M147.7 118.4h0.8M149 145.6h0.8M163 131.5h0.8M145.7 133h0.8M148.5 118.8h0.8M155.6 156.6h0.8M154.3 130.9h0.8M158.2 119.2h0.8M154.9 164.7h0.8M159.8 112.1h0.8M146.6 147.6h0.8M155.4 148.9h0.8M157.3 134.1h0.8M147.7 133.7h0.8M153 148.9h0.8M160.9 117.3h0.8M155.6 147.1h0.8M148.1 131.9h0.8M160 150h0.8M153.2 138h0.8M155.1 123.4h0.8M149 119.5h0.8M154.7 137h0.8M149.7 125.2h0.8M157.4 158.5h0.8M158.1 117h0.8M145.2 132.7h0.8M162.6 137.3h0.8M154.6 125.9h0.8M151.6 157.3h0.8M154.9 114.9h0.8M159.3 132.9h0.8M156 119.2h0.8M155.5 133.6h0.8M154.8 113.9h0.8M153.3 151.3h0.8M155.5 135.3h0.8M152.6 110.1h0.8M156.9 137.9h0.8M149.3 123.1h0.8M154.2 123.2h0.8M145.8 125.2h0.8M148.5 163h0.8M157.8 158.3h0.8M146.1 114.5h0.8M146.4 106.9h0.8M162.7 144h0.8M156.6 151.8h0.8M159 117.4h0.8M154.5 120h0.8M152.4 105.7h0.8M155.3 129.2h0.8M153 136.3h0.8M162 111h0.8M152.7 120.9h0.8M152 138.8h0.8M151.7 136.7h0.8M152.5 132.2h0.8M145.3 113.2h0.8M157.2 137.4h0.8M151.8 137.4h0.8M152.9 121.7h0.8M154.5 146.5h0.8M144.5 120.4h0.8M144 115.8h0.8M146.4 119.4h0.8M153.2 126.9h0.8M152.7 113.9h0.8M150.4 137.6h0.8M152.2 127.2h0.8M155.4 116.4h0.8M157 110.4h0.8M153.1 127.8h0.8M157.2 120.5h0.8M155.5 152.4h0.8M155.1 136.5h0.8M143.1 117.6h0.8M158.2 132.5h0.8M155 158.9h0.8M150.8 130.4h0.8M158.1 115.9h0.8M160.2 130.2h0.8M154.1 106.7h0.8M157.8 116.9h0.8M157.7 102.4h0.8M153.9 119.3h0.8M161.5 118.7h0.8M153.1 131.7h0.8M164.3 146.1h0.8M151.5 136.8h0.8M158.9 139.7h0.8M143.4 124.6h0.8M162.3 128h0.8M154.1 131.1h0.8M151.5 96.7h0.8M165.9 120h0.8M145.3 123.2h0.8M152.6 132.7h0.8M151.4 118.1h0.8M147.4 128h0.8M154.3 150.8h0.8M147.3 103.6h0.8M158.7 156.1h0.8M157.5 123.9h0.8M154.8 133h0.8M153.7 131.7h0.8M150.5 98.6h0.8M152.8 130h0.8M152.1 102.6h0.8M147.3 123.8h0.8M156.7 121.3h0.8M145.1 119.4h0.8M142.6 140.3h0.8M152.4 102.9h0.8M164.4 103.5h0.8M149.8 113.4h0.8M157.3 133.6h0.8M159.7 162.1h0.8M158.1 106h0.8M155.4 134.7h0.8M150.6 156.2h0.8M150.5 137.4h0.8M155.7 102.9h0.8M158.9 169.6h0.8M152.3 121.9h0.8M162.7 141.9h0.8M154.8 126.2h0.8M152 156.3h0.8M154 115.5h0.8M152.4 137.5h0.8M144.8 156.2h0.8M146 121.4h0.8M155.4 155.9h0.8M151.4 115h0.8M153.5 112.2h0.8M160.6 166.2h0.8M153.7 166.6h0.8M157.4 157.5h0.8M150.8 121.7h0.8M157.2 130.3h0.8M153.8 140h0.8M148.9 124h0.8M159.7 134.2h0.8M151.3 138.3h0.8M160.5 126.7h0.8M148.8 123.2h0.8M149.4 143.2h0.8M154.8 131.5h0.8M154.5 133.9h0.8M150.6 101.8h0.8M149.1 117.3h0.8M153.5 125.1h0.8M147.1 138.2h0.8M149.8 139.7h0.8M148 108.7h0.8M156.9 112.7h0.8M146.7 122.2h0.8M152.5 139.2h0.8M144.1 129.8h0.8M153.2 138.8h0.8M150.4 119.7h0.8M155 139h0.8M146.2 126.9h0.8M154.7 154.8h0.8M159.3 152.5h0.8M153.6 153.4h0.8M165.9 114.8h0.8M149.6 137.2h0.8M152.9 148.7h0.8M151.6 124.8h0.8M148.1 120.3h0.8M147.9 148.5h0.8M156.7 157.1h0.8M157.1 130.8h0.8M158.2 121.5h0.8M154.5 140.3h0.8M149 140.8h0.8M150.4 107.5h0.8M145.9 105.2h0.8M157.6 144.8h0.8M158.1 128h0.8M150.3 132.3h0.8M148.3 110.2h0.8M154.6 153.7h0.8M155.9 140.9h0.8M156.7 133.8h0.8M151.7 133.2h0.8M157.4 116.3h0.8M152.1 102.2h0.8M147.8 144h0.8M159 125.5h0.8M153.7 111h0.8M153.8 122.8h0.8M156.5 119.8h0.8M154.2 142.2h0.8M154.5 123.4h0.8M155.6 105.2h0.8M156.4 135.4h0.8M153.1 101.1h0.8M146.1 156h0.8M147.6 102.5h0.8M160 141.8h0.8M162.6 104.4h0.8M155.2 135.9h0.8M149.6 155.7h0.8M159.3 120.8h0.8M158.3 140h0.8M158.7 128h0.8M144.8 149.5h0.8M153.5 126.6h0.8M151.2 142.5h0.8M163.3 162.5h0.8M144.9 129.2h0.8M157.8 117.6h0.8M152.3 129.7h0.8M148.1 119.9h0.8M149.1 155.3h0.8M156.5 160h0.8M145.8 121.9h0.8M151.8 113.8h0.8M148.1 166.7h0.8M155.9 135.9h0.8M150.6 148.9h0.8M155.3 159.9h0.8M160.4 139.2h0.8M154.6 126h0.8M158 140.6h0.8M155.1 153.1h0.8M149.4 122.6h0.8M158.5 150h0.8M164 99.1h0.8M152.4 122.9h0.8M148.2 137.1h0.8M150.1 115.5h0.8M155.3 141h0.8M149.6 122.6h0.8M152.7 127.1h0.8M152.8 128.3h0.8M142.9 137.5h0.8M158.9 140.4h0.8M154.4 136h0.8M148.1 120.6h0.8M152.2 129.4h0.8M156.4 124.6h0.8M152.5 129.4h0.8M153.8 115h0.8M158.9 154.9h0.8M150.4 123.1h0.8M149.1 131.6h0.8M146.3 128.3h0.8M155.7 114.1h0.8M155.9 147h0.8M152 154.5h0.8M156.7 147.1h0.8M146.2 119.2h0.8M155.9 127.7h0.8M164.6 136.3h0.8M159.2 156.5h0.8M150.9 106h0.8M158.7 149.3h0.8M154.3 171.4h0.8M154 154.2h0.8M148.1 140.1h0.8M159.2 121.5h0.8M156.5 153.1h0.8M150.2 129.1h0.8M156.1 139.5h0.8M151.5 112.3h0.8M157.5 171.2h0.8M143.6 124.2h0.8M153.6 139.4h0.8M154.9 135.6h0.8M156.5 145.4h0.8M155.9 175.9h0.8M153.2 140.5h0.8M160.3 120.1h0.8M153.5 147.6h0.8M154 147.7h0.8M148.5 140.5h0.8M155 112.5h0.8M159.7 130.8h0.8M155.6 157.9h0.8M150.7 104.4h0.8M150.5 145.3h0.8M158.9 110.6h0.8M157.9 125.5h0.8M152 141.9h0.8M148.1 117.3h0.8M153.2 127.4h0.8M154.6 145h0.8M151.5 152h0.8M149.3 163.6h0.8M155.2 145.5h0.8M147.4 130.8h0.8M163.8 135.2h0.8M155.3 129.8h0.8M152.3 165.9h0.8M144.9 112.3h0.8M150.7 145.9h0.8M156.2 133.3h0.8M156.7 159.9h0.8M150.9 174.6h0.8M147.3 124.5h0.8M151.5 145.2h0.8M146.7 104.9h0.8M163.6 115.4h0.8M149.9 137.7h0.8M148.5 131.4h0.8M148.7 137.5h0.8M147.7 156h0.8M149.2 116.3h0.8M157.9 150.6h0.8M151.8 134.5h0.8M153.6 144.1h0.8M151.4 136.7h0.8M156.9 134.5h0.8M159.3 134.8h0.8M147.2 115.4h0.8M148.5 147.7h0.8M156.6 144.2h0.8M151.1 137.3h0.8M142.7 130.1h0.8M152.1 126.4h0.8M151.3 120.7h0.8M158.6 115.2h0.8M155.9 136.7h0.8M150.7 146.7h0.8M152.9 150h0.8M149.5 152h0.8M146.6 135.5h0.8M148.2 122.1h0.8M151.9 135.9h0.8M156 115.1h0.8M150.6 135.9h0.8M152 117.7h0.8M154.1 149.3h0.8M152.7 121.5h0.8M160.2 131h0.8M156.7 140.6h0.8M162.4 106h0.8M155.7 151h0.8M164.6 129.7h0.8M158.3 110.8h0.8M155.7 112.3h0.8M162.5 149.1h0.8M156.9 159.9h0.8M153.9 119h0.8M152.6 115.1h0.8M154.1 118.4h0.8M157.7 143.9h0.8M156.2 141.1h0.8M154.6 149.1h0.8M158.9 122.7h0.8M151.6 149.8h0.8M148.3 131.9h0.8M165.2 121.7h0.8M156.2 120.5h0.8M155.9 145.5h0.8M163.1 122.9h0.8M158.9 137.5h0.8M152.1 137.5h0.8M154.6 138.8h0.8M152.4 156.5h0.8M142 107.1h0.8M157 117h0.8M150 138.8h0.8M150.8 112.8h0.8M152 126.6h0.8M157.8 150.2h0.8M148.1 120.7h0.8M145.8 113.3h0.8M157.1 152.9h0.8M153.4 138.8h0.8M146.2 105.2h0.8M150.9 121.4h0.8M152.1 130h0.8M153.8 144.8h0.8M153.7 146.9h0.8M152.5 147.5h0.8M146.4 129.4h0.8M156.6 132.7h0.8M157.7 129.7h0.8M156 148.1h0.8M139.4 126.4h0.8M157.4 131.8h0.8M153.4 132.7h0.8M152.6 133.8h0.8M151 149h0.8M162.2 168h0.8M154.3 132h0.8M155.6 121.3h0.8M145.9 132.9h0.8M160.3 151.5h0.8M156.4 124.7h0.8M151.8 149.1h0.8M149.3 127.3h0.8M148.4 111.9h0.8M148.3 138.8h0.8M159.5 125.8h0.8M153.1 128.1h0.8M157 137.6h0.8M161.6 131.7h0.8M151.6 136.1h0.8M145.2 140.3h0.8M153.8 127.9h0.8M149.4 158h0.8M152.5 149.4h0.8M156.7 148.5h0.8M149.1 111.9h0.8M148.2 131.3h0.8M146.5 109.9h0.8M153.6 144.7h0.8M164.7 145.1h0.8M152.2 134.8h0.8M153.3 148h0.8M151.7 141.7h0.8M149.6 115.2h0.8M149.9 124.8h0.8M148.7 115.1h0.8M152.7 147.6h0.8M150.4 111h0.8M153 146.1h0.8M154.6 143.4h0.8M154.9 142.9h0.8M155.5 116.9h0.8M154.3 106.9h0.8M151.1 109.1h0.8M149 118.9h0.8M152.9 135h0.8M154.9 144.6h0.8M162.5 133.1h0.8M151.6 119h0.8M151.3 142.7h0.8M150.4 142.9h0.8M146.9 131.5h0.8M155.6 136.7h0.8M148.7 141.2h0.8M157.2 139.9h0.8M160 144.2h0.8M150.9 158.9h0.8M159.9 121.7h0.8M145.8 135h0.8M149.3 136.3h0.8M152 142.9h0.8M153.3 141.5h0.8M151.8 129.3h0.8M153.3 160.9h0.8M154.6 174.5h0.8M149.3 138.6h0.8M160.1 113.9h0.8M150.8 128.1h0.8M161.2 124.1h0.8M152.6 133.1h0.8M153.2 141.2h0.8M148.1 118h0.8M153.5 114.4h0.8M160.2 95.9h0.8M163.3 147.8h0.8M152.8 130.2h0.8M153.5 107.1h0.8M156.1 151.8h0.8M152.9 122.6h0.8M146.4 139.2h0.8M150 104.1h0.8M150.6 125.7h0.8M154.7 143.1h0.8M157.5 146h0.8M156.2 157.8h0.8M150.3 112.2h0.8M157.2 128h0.8M152.5 138.7h0.8M165.8 134.5h0.8M152.9 144.9h0.8M151.1 138.8h0.8M151 146.6h0.8M158.8 128.9h0.8M145.1 104.9h0.8M153.6 147.4h0.8M150.6 147.4h0.8M150.8 135.1h0.8M154.5 145.2h0.8M152.5 144.1h0.8M156.7 126.2h0.8M158.5 128h0.8M146.2 129h0.8M169 107.5h0.8M161.4 118.2h0.8M150.4 113.4h0.8M149.5 121.2h0.8M156 140.7h0.8M150.2 129.9h0.8M157 154.5h0.8M154 131.3h0.8M150.5 145.8h0.8M144.7 132.1h0.8M152.9 111.6h0.8M158.1 113.5h0.8M155.8 140.6h0.8M150.2 149.6h0.8M149.8 109.6h0.8M155.6 144h0.8M157.9 130.9h0.8M152.9 152.1h0.8M153.9 148.8h0.8M149.2 135.7h0.8M148.9 159.7h0.8M151 116.1h0.8M154.5 149.1h0.8M157.4 149.6h0.8M153.2 117.1h0.8M145.8 140.7h0.8M163.3 123.4h0.8M150.7 128.1h0.8M151 118.2h0.8M153.4 151.2h0.8M143.7 121.5h0.8M161.7 114.3h0.8M151.1 131.7h0.8M156 154.4h0.8M158.9 135.8h0.8M159.9 105.8h0.8M144.5 128.3h0.8M150.1 109.7h0.8M158.2 139.1h0.8M147.9 123.5h0.8M152.2 136.7h0.8M148 133.7h0.8M152 106.9h0.8M158.5 120.5h0.8M148.3 102.7h0.8M157.4 138.3h0.8M144.1 104.2h0.8M151.5 101.3h0.8M156.1 138.2h0.8M153.3 134.3h0.8M159.6 146.2h0.8M153 125.3h0.8M160.8 101.8h0.8M154.1 135.5h0.8M157.4 133.6h0.8M145 126.4h0.8M152 121.7h0.8M158 127h0.8M156.4 135.6h0.8M153 130.8h0.8M153.1 139.4h0.8M157 136.1h0.8M156.5 168.6h0.8M148.6 132.3h0.8M152.9 118.3h0.8M160 122h0.8M145.6 127.5h0.8M153.8 157.1h0.8M162.1 150.7h0.8M145.1 132.6h0.8M152.2 166.4h0.8M156.2 170.4h0.8M157.7 168.6h0.8M158.5 139h0.8M152.1 150.1h0.8M144.1 113.2h0.8M160.6 120.1h0.8M153.2 147.3h0.8M161.4 103.9h0.8M152.2 104.5h0.8M152.8 137h0.8M157.2 137.1h0.8M155.8 117.2h0.8M157 142.1h0.8M154.4 122.9h0.8M150.8 110.9h0.8M158.6 128.9h0.8M157.4 143.2h0.8M161 118.8h0.8M149.7 109.7h0.8M150 101.6h0.8M152.8 150.2h0.8M149.6 136.5h0.8M155.8 114.8h0.8M146.1 120.7h0.8M159.8 99.8h0.8M155.2 125h0.8M154 118.3h0.8M150 108.3h0.8M152.9 163.9h0.8M155.4 131h0.8M155.5 129.2h0.8M152.5 123.4h0.8M156.1 121.8h0.8M146.5 143.3h0.8M155.8 127.1h0.8M159.2 113.2h0.8M159.1 126h0.8M151.7 140.1h0.8M146.2 108.8h0.8M148.6 131.1h0.8M162.2 150.4h0.8M161 159.5h0.8M150.4 138h0.8M155 157.7h0.8M156.3 120.6h0.8M160.5 145.5h0.8M156 127.3h0.8M156.2 121h0.8M155.2 135.9h0.8M154.9 142.3h0.8M148.1 146.3h0.8M153.1 140.3h0.8M152.5 141.8h0.8M153.9 139.5h0.8M156.3 102.3h0.8M158.5 116.9h0.8M155.4 116.6h0.8M158.9 116.9h0.8M152.3 133.2h0.8M153.3 130.8h0.8M151.1 123h0.8M154.7 137.3h0.8M152.8 122.6h0.8M153.2 154.7h0.8M152 117h0.8M150.2 110.4h0.8M157.2 134.5h0.8M151.5 111.9h0.8M154.1 106.9h0.8M162.3 124.1h0.8M152.1 117h0.8M149.4 131.5h0.8M155.1 112.6h0.8M153.2 109.2h0.8M152.4 140.3h0.8M152.4 110.2h0.8M159.8 112h0.8M154.4 106.3h0.8M146.7 118.9h0.8M153.6 124.9h0.8M143.9 115.4h0.8M163.9 135.4h0.8M151.2 127.8h0.8M152.9 128.8h0.8M156.3 135.9h0.8M159 126h0.8M155 103.2h0.8M145.2 106.7h0.8M150.4 107.5h0.8M147.3 129.4h0.8M154.5 140.5h0.8M146.5 123.7h0.8M157.2 178.6h0.8M155.5 157.2h0.8M157.4 122.8h0.8M151.2 139.5h0.8M146.4 95h0.8M153.1 151.5h0.8M157 102.8h0.8M150.8 161.3h0.8M154.1 158.4h0.8M155.7 173.6h0.8M149 162.6h0.8M148.4 170.9h0.8M152.4 174.1h0.8M155.6 171.2h0.8M153.5 163.7h0.8M152.8 173.9h0.8M151.8 164.3h0.8M153.8 158.2h0.8M163.9 161.3h0.8M151.8 159.3h0.8M151.4 176.7h0.8M154 170.5h0.8M152.4 177.1h0.8M148.9 170.7h0.8M159.6 172.1h0.8M153.9 157h0.8M160.5 171.6h0.8M152 163.1h0.8M153.7 175.9h0.8M154.8 172.7h0.8M156.1 154.3h0.8M156.1 168.5h0.8M156 148.3h0.8M157.8 162.3h0.8M153.2 178.1h0.8M153.8 169.2h0.8M158.7 169.1h0.8M154.3 169.9h0.8M153.6 168.9h0.8M156.7 169.3h0.8M152.3 157.2h0.8M156.9 178.3h0.8M153.1 154.1h0.8M157 152.1h0.8M152.4 148.2h0.8M153.5 152.5h0.8M157.3 154.9h0.8M154.3 152.6h0.8M159.5 164.2h0.8M164.9 172.7h0.8M150.4 173.7h0.8M142.9 156.7h0.8M157.4 178.9h0.8M154.5 158.1h0.8M158.4 148.6h0.8M158.1 157.7h0.8M157.5 178.6h0.8M152.3 167.4h0.8M148.6 153.9h0.8M153.1 177.7h0.8M158.6 159.4h0.8M160.1 154.5h0.8M147.4 158.6h0.8M145.3 152.8h0.8M153.7 156.4h0.8M154.4 147.2h0.8M159.8 177.5h0.8M155.3 147.5h0.8M154.5 165.2h0.8M155.3 174.3h0.8M152.5 167.8h0.8M156.5 151.2h0.8M156.5 147.3h0.8M153.7 157h0.8M149.9 174.2h0.8M155.5 169.3h0.8M155.4 154.2h0.8M161.2 154.8h0.8M156 159.2h0.8M155 153.5h0.8M154.3 148.6h0.8M160 155.1h0.8M155.8 151.5h0.8M156.7 177.5h0.8M150.2 157.1h0.8M159.4 174.2h0.8M153.5 158.9h0.8M158.5 160.5h0.8M156.4 148.8h0.8M161.2 177.9h0.8M153.9 173.8h0.8M152.4 152.4h0.8M155.2 150.8h0.8M160.3 158.6h0.8M150 148h0.8M154.1 151.2h0.8M157.7 170.9h0.8M152.3 166.4h0.8M154.1 152.6h0.8M151.6 158.3h0.8M149.7 147.6h0.8M157.2 158.3h0.8M151 156.3h0.8M157 173.8h0.8M150.7 159.3h0.8M160.8 178.1h0.8M158.4 155h0.8M160.9 153h0.8M156.6 168h0.8M156.1 172.8h0.8M154.2 147.9h0.8M153.8 179.2h0.8M149.3 161.5h0.8M155.4 152.4h0.8M161 152.5h0.8M162.2 164.7h0.8M156 164.3h0.8M156.9 173.5h0.8M151.4 170.5h0.8M153.6 170.8h0.8M162.6 176h0.8M158 165.4h0.8M162.2 164.9h0.8M163.1 179.1h0.8M157.2 154.2h0.8M155.2 163.8h0.8M152.8 164.8h0.8M149.1 156.9h0.8M153.7 177.4h0.8M157.4 164h0.8M156 166h0.8M155.9 177.6h0.8M148.3 177.8h0.8M145.9 160.4h0.8M150.9 173.1h0.8M151.4 170.4h0.8M153.7 153.6h0.8M158 178.1h0.8M158.5 171.7h0.8M151.9 156h0.8M153.9 163.7h0.8M158 163.1h0.8M153.5 169.6h0.8M154.3 167h0.8M149.6 175.8h0.8M154.6 150.1h0.8M157.4 151.4h0.8M151.7 170h0.8M156.9 152.2h0.8M157.3 177.5h0.8M153.7 153.3h0.8M145.3 173.5h0.8M152.3 152.5h0.8M149.5 165.2h0.8M144.4 153.5h0.8M155.6 149.7h0.8M150.2 167.7h0.8M152.9 150.4h0.8M150.8 152h0.8M156.6 169.3h0.8M151.3 158.1h0.8M149.4 162.7h0.8M158.7 157.8h0.8M154.3 157.1h0.8M155.2 156h0.8M151.3 149.6h0.8M148.4 148.2h0.8M149.3 173.2h0.8M155.5 173.5h0.8M158.8 150.7h0.8M161.3 168.2h0.8M151.5 178.1h0.8M159.4 178.6h0.8M154 154.4h0.8M153.7 151.7h0.8M154.6 151.5h0.8M149.1 149.5h0.8M158.1 179.2h0.8M145.4 149.2h0.8M146.9 157.3h0.8M156.4 167.9h0.8M158.3 151.6h0.8M151.5 162.3h0.8M153.8 174.8h0.8M152.9 171.8h0.8M158.2 149.1h0.8M155.3 170.8h0.8M160.5 149.2h0.8M153.2 171.9h0.8M158.6 177.6h0.8M151.7 176.5h0.8M153.5 172h0.8M148.8 153.5h0.8M154.7 158.3h0.8M163.5 155.6h0.8M149.5 175.9h0.8M156.1 155.6h0.8M154.8 171.3h0.8M156.2 175.3h0.8M156.4 153.3h0.8M148.9 154.1h0.8M154 155.4h0.8M158.1 160.5h0.8M156.6 173h0.8M156.9 164.3h0.8M154 169.1h0.8M152.3 160.7h0.8M151.4 166.8h0.8M155.4 163.4h0.8M153.4 150.8h0.8M157.7 161.5h0.8M152.1 158.5h0.8M155.6 178.8h0.8M160.1 168.9h0.8M159.4 162.8h0.8M153.6 157.9h0.8M154 161.3h0.8M166.1 167.3h0.8M150.9 178.8h0.8M156.4 172.9h0.8M162.9 165.7h0.8M158.5 162.7h0.8M149.3 170.3h0.8M152.7 167h0.8M145.2 153.4h0.8M156.6 154.8h0.8M157.4 157.2h0.8M159.2 147.9h0.8M157.2 153.3h0.8M155.5 179.5h0.8M158.8 158.1h0.8M150.1 158.1h0.8M153.6 162h0.8M149 153.7h0.8M148.9 174.5h0.8M155.6 177.3h0.8M155.7 161.4h0.8M153.2 155.8h0.8M162.2 156.3h0.8M147.4 158.9h0.8M149.9 160.2h0.8M154.9 160.1h0.8M155.9 168.6h0.8M149.5 165.5h0.8M152.3 162.9h0.8M146.6 153.2h0.8M154.1 156.6h0.8M154.6 175.6h0.8M153 176.8h0.8M154.2 164.2h0.8M146.4 155.1h0.8M157.4 167.9h0.8M154.1 163.9h0.8M156.3 160.9h0.8M156.5 175.5h0.8M156.7 156h0.8M154.5 147.9h0.8M156.8 148.2h0.8M158.6 160.8h0.8M139.6 158.2h0.8M162.9 171.5h0.8M153.7 179.4h0.8M152.1 148.3h0.8M151.9 164.2h0.8M155 169.8h0.8M150.5 176.8h0.8M152.7 150.8h0.8M156.3 156.9h0.8M151.1 175.3h0.8M151.9 175.6h0.8M153.4 148.7h0.8M152.7 150.5h0.8M157.2 158.7h0.8M148.3 174h0.8M157.8 169.4h0.8M160.4 148.9h0.8M148.6 161h0.8M144.7 162.7h0.8M152 165.3h0.8M166.1 175.6h0.8M155.1 173.4h0.8M153.7 173.1h0.8M154.6 162.5h0.8M158.6 178.7h0.8M157.1 157.9h0.8M156.1 176.2h0.8M155.1 157.1h0.8M159.6 178.5h0.8M149.4 161.2h0.8M161.9 173.3h0.8M155.4 170h0.8M153.2 163.7h0.8M153.6 163.9h0.8M156.6 163.4h0.8M157.9 178.6h0.8M154.5 167.3h0.8M153.4 171.2h0.8M150.1 159.9h0.8M151.9 160.5h0.8M145.1 161.4h0.8M152.6 157.1h0.8M153.4 152.6h0.8M160.7 162.5h0.8M155.9 163.3h0.8M149.9 148.9h0.8M156.2 150.6h0.8M154.5 149.6h0.8M150 165.6h0.8M157.6 155.8h0.8M151.4 156.9h0.8M151.5 161.4h0.8M153.5 170.4h0.8M155.4 171.3h0.8M154.4 172.5h0.8M156.9 173h0.8M148.9 169.6h0.8M151.4 176.1h0.8M148.2 158.8h0.8M153.3 156.4h0.8M153.4 153.9h0.8M155.9 151.4h0.8M157.3 147.8h0.8M157 148h0.8M147.4 174.4h0.8M155.1 151.3h0.8M151.5 150.1h0.8M161.5 153.3h0.8M150.2 176.5h0.8M155.4 174.1h0.8M152 168.3h0.8M156 154.1h0.8M150.7 166.2h0.8M159.8 157.1h0.8M154.2 168.3h0.8M156.6 171.8h0.8M159.2 156.3h0.8M154.3 172.3h0.8M148.7 161h0.8M153.6 162.5h0.8M154.6 162.2h0.8M162.4 158.2h0.8M147.1 158.6h0.8M157.2 174.3h0.8M150.7 148.4h0.8M155 149h0.8M155.3 177.9h0.8M148.5 157.7h0.8M154.7 169h0.8M156.4 160.4h0.8M155.6 155.8h0.8M158.9 172.1h0.8M157.7 147.8h0.8M158.6 149.3h0.8M150.3 179.3h0.8M150.2 174.5h0.8M151.5 152.5h0.8M153.5 178.5h0.8M152.9 155.2h0.8M147.7 176.6h0.8M154.4 147.7h0.8M154.7 153.8h0.8M150.8 158.9h0.8M148.8 162h0.8M154.5 165.2h0.8M154.8 167.3h0.8M148.1 148h0.8M154.5 149.6h0.8M152.4 163.3h0.8M156.5 163.5h0.8M145.9 173.2h0.8M162.2 179.2h0.8M146.3 168.6h0.8M151.2 160.1h0.8M156.8 159h0.8M157.2 157.2h0.8M152 163.6h0.8M159.1 165h0.8M153.5 149.9h0.8M160.7 148.3h0.8M155.8 175.9h0.8M153.1 163.5h0.8M153 160.8h0.8M151.2 157.2h0.8M158.4 166.7h0.8M154.2 174.6h0.8M163.7 159h0.8M156.8 162.1h0.8M146.8 155.1h0.8M150.9 166.6h0.8M153.7 177.4h0.8M157.3 149.7h0.8M155.9 152h0.8M155.1 169.5h0.8M154.1 174.7h0.8M149.6 165.1h0.8M148.5 150.6h0.8M158.9 153.1h0.8M166.1 178h0.8M153.8 164.5h0.8M155.2 173h0.8M157.5 147.4h0.8M153.2 147.2h0.8M159.4 155.7h0.8M155.6 172.9h0.8M153.9 170.5h0.8M151.7 168.2h0.8M153.1 179.3h0.8M157.6 175.9h0.8M153.2 176.4h0.8M154.8 149.3h0.8M153.5 171.2h0.8M155.1 153.3h0.8M157.9 173.4h0.8M155.7 150.1h0.8M148.7 149.9h0.8M155.7 177.2h0.8M154 150.4h0.8M151 152.4h0.8M151.2 174.4h0.8M154.6 161.2h0.8M151.5 171.4h0.8M153.8 179h0.8M155.6 175.9h0.8M150 163h0.8M154 158.2h0.8M156.9 166.4h0.8M153.5 155.3h0.8M149.7 159.9h0.8M159.9 171.3h0.8M152.2 153.6h0.8M148.8 167.6h0.8M151.2 162.3h0.8M153.1 155h0.8M161.4 169.3h0.8M156.8 162.9h0.8M157.2 150.9h0.8M156.5 178.5h0.8M158.8 158.3h0.8M151.6 157.3h0.8M148.2 160.1h0.8M151.4 174.6h0.8M153.7 179.3h0.8M158.7 163.2h0.8M153.3 155h0.8M159.1 159.4h0.8M155 147.6h0.8M151.6 158.4h0.8M162.5 157.9h0.8M157 149.4h0.8M149.9 164.4h0.8M150.9 162.4h0.8M161.7 175.4h0.8M151.6 147.6h0.8M157.8 159.9h0.8M153.3 169.5h0.8M153.1 151.5h0.8M160.1 176.1h0.8M148.3 154.1h0.8M156.1 155.3h0.8M159.4 177.5h0.8M154.7 155.5h0.8M151.6 165.2h0.8M151.5 176.6h0.8M149.2 177.6h0.8M156 159.7h0.8M152.2 150.2h0.8M156.1 170.7h0.8M154.2 155.1h0.8M157.2 173.3h0.8M151.2 176.9h0.8M153 153.2h0.8M156.5 179.4h0.8M149.8 169.8h0.8M155.3 160.7h0.8M163 176.9h0.8M154.5 165.8h0.8M158.4 156.2h0.8M150.7 155.6h0.8M155.6 172.4h0.8M158.6 147.7h0.8M154.5 148.2h0.8M160.1 170.2h0.8M151.8 167.9h0.8M167.3 167.1h0.8M161 164.5h0.8M158.6 176.8h0.8M154.2 152.8h0.8M157.6 178.2h0.8M158 168.1h0.8M153.3 168.8h0.8M154.9 155.5h0.8M160.6 148.3h0.8M160.8 151.9h0.8M155.8 154h0.8M152.3 153.9h0.8M153.2 157.7h0.8M147.3 160.8h0.8M155.1 173.6h0.8M148.5 167.4h0.8M147.5 147.5h0.8M153.6 150.9h0.8M158.4 162.6h0.8M157.7 164.7h0.8M155.7 149.5h0.8M160.5 167.4h0.8M148.4 162.9h0.8M154.5 149.9h0.8M154.1 160.5h0.8M152.5 148.7h0.8M158.1 174.6h0.8M149 151.1h0.8M152.1 160.3h0.8M148.9 150.6h0.8M153.7 165.1h0.8M160.1 168.7h0.8M153.1 163.6h0.8M153.8 176.6h0.8M153.3 164.3h0.8M152.3 172.7h0.8M156.3 172.3h0.8M156.5 165.4h0.8M156.2 156.3h0.8M156.9 176.2h0.8M151.1 172.7h0.8M151.3 154.6h0.8M157.3 179.5h0.8M158.8 173.8h0.8M152.5 165.5h0.8M156.1 160.5h0.8M155.2 151.7h0.8M150.8 159.1h0.8M161.7 170.1h0.8M156 165.1h0.8M146.7 170.5h0.8M154.7 147.8h0.8M157.3 162.9h0.8M149.8 161.4h0.8M152.9 154.4h0.8M148.9 171.4h0.8M156.3 150.8h0.8M151.7 171.3h0.8M158 170.9h0.8M157 163h0.8M152.9 152.7h0.8M150.2 150.8h0.8M154.8 175.7h0.8M156.4 161.8h0.8M151.2 171.3h0.8M156.8 152.8h0.8M158.4 154.8h0.8M152.8 163.1h0.8M159.6 168.7h0.8M156.2 157.9h0.8M147.1 154.5h0.8M153.8 175.5h0.8M160.1 159h0.8M152.6 150.7h0.8M155.1 177.1h0.8M151.1 178h0.8M153.8 178.3h0.8M157.4 150.2h0.8M155.5 154.5h0.8M156.1 157.4h0.8M164.4 165.1h0.8M148.9 153h0.8M156.6 148.7h0.8M149.7 177.6h0.8M151.7 148.3h0.8M154 160.1h0.8M156.4 161.7h0.8M148.5 174.2h0.8M162.7 173.6h0.8M152.2 172.9h0.8M149.8 150.2h0.8M154.6 169h0.8M149.7 147.4h0.8M155.3 149.9h0.8M157.9 164.2h0.8M149.1 164.3h0.8M151.2 174.7h0.8M156 158.6h0.8M150.7 170.8h0.8M152.8 171.4h0.8M153.2 172.7h0.8M151.9 169.8h0.8M148.1 162h0.8M153.7 174.7h0.8M155 147.4h0.8M155.9 164.7h0.8M151.8 170.6h0.8M149.9 174.9h0.8M158.2 161.7h0.8M156.6 169.1h0.8M156.4 154.7h0.8M162.2 173.8h0.8M154.1 174.1h0.8M155.2 179.4h0.8M153 157.9h0.8M149.7 163.3h0.8M157.4 179h0.8M154.7 155.3h0.8M153.5 170.4h0.8M154.7 152.4h0.8M156.1 153.5h0.8M156.5 147.6h0.8M154.3 175.3h0.8M157.3 179.2h0.8" stroke="#111" stroke-width="0.8" stroke-opacity="0.85" fill="none"/>
<rect x="131.6" y="145" width="42.4" height="33.9" fill="none" stroke="#1a1a1a" stroke-width="1.4"/>
<text x="88" y="168" font-size="10.6" fill="#333">53.61%</text>
<text x="115" y="55.8" font-size="10.9" fill="#262626" text-anchor="middle">CD14<tspan font-size="6.6" dy="-4">+</tspan><tspan dy="4" font-size="0.1">&#8203;</tspan>/HTR8</text>
<rect x="214.7" y="61.7" width="147.4" height="121.5" fill="#fff" stroke="#969696" stroke-width="1"/>
<line x1="214.4" y1="61.7" x2="214.4" y2="183.2" stroke="#484848" stroke-width="1.8"/>
<line x1="214.7" y1="183.2" x2="362.1" y2="183.2" stroke="#484848" stroke-width="1.3"/>
<path d="M214.1 174.06h-1.5M225.79 183.2v-1.4M214.1 168.71h-1.5M232.28 183.2v-1.4M214.1 164.91h-1.5M236.89 183.2v-1.4M214.1 161.97h-1.5M240.46 183.2v-1.4M214.1 159.56h-1.5M243.37 183.2v-1.4M214.1 157.53h-1.5M245.84 183.2v-1.4M214.1 155.77h-1.5M247.98 183.2v-1.4M214.1 154.21h-1.5M249.86 183.2v-1.4M214.1 143.68h-1.5M262.64 183.2v-1.4M214.1 138.33h-1.5M269.13 183.2v-1.4M214.1 134.54h-1.5M273.74 183.2v-1.4M214.1 131.59h-1.5M277.31 183.2v-1.4M214.1 129.19h-1.5M280.22 183.2v-1.4M214.1 127.16h-1.5M282.69 183.2v-1.4M214.1 125.39h-1.5M284.83 183.2v-1.4M214.1 123.84h-1.5M286.71 183.2v-1.4M214.1 113.31h-1.5M299.49 183.2v-1.4M214.1 107.96h-1.5M305.98 183.2v-1.4M214.1 104.16h-1.5M310.59 183.2v-1.4M214.1 101.22h-1.5M314.16 183.2v-1.4M214.1 98.81h-1.5M317.07 183.2v-1.4M214.1 96.78h-1.5M319.54 183.2v-1.4M214.1 95.02h-1.5M321.68 183.2v-1.4M214.1 93.46h-1.5M323.56 183.2v-1.4M214.1 82.93h-1.5M336.34 183.2v-1.4M214.1 77.58h-1.5M342.83 183.2v-1.4M214.1 73.79h-1.5M347.44 183.2v-1.4M214.1 70.84h-1.5M351.01 183.2v-1.4M214.1 68.44h-1.5M353.92 183.2v-1.4M214.1 66.41h-1.5M356.39 183.2v-1.4M214.1 64.64h-1.5M358.53 183.2v-1.4M214.1 63.09h-1.5M360.41 183.2v-1.4M214.1 183.2h-2M214.7 183.2v-2.6M214.1 152.82h-2M251.55 183.2v-2.6M214.1 122.45h-2M288.4 183.2v-2.6M214.1 92.08h-2M325.25 183.2v-2.6M214.1 61.7h-2M362.1 183.2v-2.6" fill="none" stroke="#484848" stroke-width="0.7"/>
<g transform="translate(212.4 188.2) scale(1.1 1)">
<text x="0" y="0" font-size="8.7" fill="#262626" text-anchor="end">10<tspan font-size="6.1" dy="-3.7">0</tspan><tspan dy="3.7" font-size="0.1">&#8203;</tspan></text>
</g>
<text x="209.7" y="196.9" font-size="8.7" fill="#262626">10<tspan font-size="6.1" dy="-3.7">0</tspan><tspan dy="3.7" font-size="0.1">&#8203;</tspan></text>
<g transform="translate(212.4 159.1) scale(1.1 1)">
<text x="0" y="0" font-size="8.7" fill="#262626" text-anchor="end">10<tspan font-size="6.1" dy="-3.7">1</tspan><tspan dy="3.7" font-size="0.1">&#8203;</tspan></text>
</g>
<text x="246.55" y="196.9" font-size="8.7" fill="#262626">10<tspan font-size="6.1" dy="-3.7">1</tspan><tspan dy="3.7" font-size="0.1">&#8203;</tspan></text>
<g transform="translate(212.4 128.6) scale(1.1 1)">
<text x="0" y="0" font-size="8.7" fill="#262626" text-anchor="end">10<tspan font-size="6.1" dy="-3.7">2</tspan><tspan dy="3.7" font-size="0.1">&#8203;</tspan></text>
</g>
<text x="283.4" y="196.9" font-size="8.7" fill="#262626">10<tspan font-size="6.1" dy="-3.7">2</tspan><tspan dy="3.7" font-size="0.1">&#8203;</tspan></text>
<g transform="translate(212.4 98.6) scale(1.1 1)">
<text x="0" y="0" font-size="8.7" fill="#262626" text-anchor="end">10<tspan font-size="6.1" dy="-3.7">3</tspan><tspan dy="3.7" font-size="0.1">&#8203;</tspan></text>
</g>
<text x="320.25" y="196.9" font-size="8.7" fill="#262626">10<tspan font-size="6.1" dy="-3.7">3</tspan><tspan dy="3.7" font-size="0.1">&#8203;</tspan></text>
<g transform="translate(212.4 68.4) scale(1.1 1)">
<text x="0" y="0" font-size="8.7" fill="#262626" text-anchor="end">10<tspan font-size="6.1" dy="-3.7">4</tspan><tspan dy="3.7" font-size="0.1">&#8203;</tspan></text>
</g>
<text x="357.1" y="196.9" font-size="8.7" fill="#262626">10<tspan font-size="6.1" dy="-3.7">4</tspan><tspan dy="3.7" font-size="0.1">&#8203;</tspan></text>
<ellipse cx="311.06" cy="136.42" rx="5.4" ry="20" fill="#111" fill-opacity="0.95" filter="url(#bl)" transform="rotate(-3 311.06 136.42)"/>
<path d="M302 153.1h0.8M307.3 153.9h0.8M302.7 119.5h0.8M313.7 174.2h0.8M318.3 126.7h0.8M302 132.3h0.8M319.9 153h0.8M302.3 100.2h0.8M314.4 149.2h0.8M311.2 153.8h0.8M315.5 140.7h0.8M315.7 143.6h0.8M307.2 124.5h0.8M308 125.9h0.8M306.4 125.4h0.8M305.8 116.7h0.8M310 157.5h0.8M307.5 115.7h0.8M308.3 123.5h0.8M299.2 137.6h0.8M310.3 149.6h0.8M306.7 143.5h0.8M315.5 142.3h0.8M309 127.7h0.8M309 112.5h0.8M314.1 132.7h0.8M319.6 148h0.8M302.2 131.6h0.8M309.1 132.6h0.8M310.5 149.2h0.8M316 114.1h0.8M308.5 149h0.8M308.5 138.1h0.8M336.5 140.1h0.8M316.4 101.8h0.8M307.6 139.5h0.8M320.9 109.2h0.8M298.5 149h0.8M310.5 147.2h0.8M294.8 180.8h0.8M321.5 127.8h0.8M310.4 158h0.8M317.3 128.1h0.8M318.6 180.6h0.8M317.4 145.3h0.8M305.8 131.8h0.8M315.9 119.4h0.8M308.2 133.9h0.8M320.6 136.7h0.8M312 146.3h0.8M304.3 143.9h0.8M303.4 144.6h0.8M297.6 92h0.8M301.2 130.7h0.8M303.4 123h0.8M309.8 157.7h0.8M295.2 149.2h0.8M319.9 167.6h0.8M321.6 135.1h0.8M311.4 120.6h0.8M310.4 177.8h0.8M311.2 153.6h0.8M314.4 137.7h0.8M312.7 167.1h0.8M296 98.8h0.8M309.4 132.7h0.8M302.6 152.6h0.8M309.2 149.4h0.8M308.6 103.9h0.8M303.6 124.7h0.8M306.8 170.5h0.8M304.8 137.9h0.8M307.5 126.7h0.8M323.3 119h0.8M304.7 138.6h0.8M319 145.9h0.8M317.8 152h0.8M303.9 140.3h0.8M298.4 138.2h0.8M324 163h0.8M312.9 134.5h0.8M306.2 125.4h0.8M307.7 139.6h0.8M311.8 158.2h0.8M308.1 127.2h0.8M305.7 168.1h0.8M295.8 134.5h0.8M319.1 144h0.8M301 145.8h0.8M318 127.9h0.8M307.8 129.7h0.8M305.6 132h0.8M323 152.5h0.8M306.5 135.1h0.8M326.2 162.6h0.8M324 135.9h0.8M316 117.4h0.8M309.4 155.9h0.8M326.8 148.2h0.8M315.6 129.8h0.8M314 132.2h0.8M299.4 149.9h0.8M324.5 112.2h0.8M320 107h0.8M303.1 114.6h0.8M300.7 127.2h0.8M317.2 144.1h0.8M309 130h0.8M307.6 140.2h0.8M296.4 126.2h0.8M315.5 137.9h0.8M316.8 128.4h0.8M306.7 135.6h0.8M306.7 119.8h0.8M323.4 139h0.8M319.7 123.8h0.8M305.1 142.5h0.8M314.4 127.3h0.8M313.5 120.2h0.8M320.9 149.5h0.8M310.9 138.3h0.8M312.8 129.1h0.8M306 121.2h0.8M327.8 130.4h0.8M316.2 151.3h0.8M314 137.3h0.8M318.5 165.6h0.8M315.7 142.7h0.8M309.3 137.2h0.8M312.5 136.6h0.8M301.9 131.6h0.8M320.1 152.4h0.8M294.4 122.5h0.8M314.1 122.3h0.8M300 149.8h0.8M307.9 122.4h0.8M312.7 132.4h0.8M316.8 159.5h0.8M316.1 134h0.8M325.8 119.2h0.8M313.4 162.8h0.8M296.3 114.9h0.8M311.3 129h0.8M306.4 121.2h0.8M317.1 146.8h0.8M312.3 139.8h0.8M318.3 136h0.8M305.6 142.9h0.8M321.2 151.6h0.8M313.4 164.9h0.8M308.6 148.5h0.8M322.4 112.3h0.8M320.1 142.1h0.8M309.8 130.3h0.8M301 134.4h0.8M319.5 137.4h0.8M302.7 167h0.8M314.8 166.6h0.8M319.1 146.6h0.8M325.7 155.4h0.8M310.9 135.3h0.8M311.5 107.4h0.8M330.7 136.9h0.8M323.2 115.8h0.8M316.1 130.5h0.8M307.5 132.1h0.8M307.4 121h0.8M318.7 162h0.8M305.9 129.8h0.8M307.6 148.7h0.8M309.7 133.2h0.8M312.2 143.3h0.8M301.1 112.9h0.8M308.4 123.2h0.8M311.4 106.5h0.8M309.9 124.3h0.8M306.6 140.8h0.8M314.2 156.2h0.8M321.2 139.8h0.8M315.3 151.1h0.8M315.9 128.7h0.8M304.6 169.5h0.8M308.5 119.4h0.8M303.7 118.8h0.8M311.6 131h0.8M311.5 133.6h0.8M315 121.8h0.8M303.9 145.1h0.8M308.4 139.7h0.8M300.4 136.2h0.8M311.1 145.2h0.8M313.9 169.5h0.8M312.9 162.6h0.8M306.7 174.2h0.8M315.6 136.4h0.8M313.9 125.8h0.8M328.3 162.8h0.8M323.5 110.3h0.8M312.8 143.3h0.8M317 149.1h0.8M312.4 142h0.8M312.7 156.5h0.8M312.8 138.8h0.8M295.3 129.2h0.8M311.6 144h0.8M314.2 139.4h0.8M295.8 145.6h0.8M313.1 131.5h0.8M309.6 140.1h0.8M300.6 131.5h0.8M301.3 151.6h0.8M315.6 121.8h0.8M311.3 153.6h0.8M303.6 102h0.8M310.1 148.8h0.8M322.1 117.8h0.8M299.3 106.1h0.8M313.3 134.6h0.8M308.7 154.2h0.8M305.5 129.9h0.8M305.6 129.6h0.8M304.8 139.6h0.8M298.4 121.5h0.8M301.3 128.4h0.8M305.8 164.1h0.8M308.6 117.9h0.8M323.8 149.6h0.8M320.4 146.6h0.8M304.9 124.7h0.8M320.7 149.3h0.8M329.3 138.9h0.8M326 155.8h0.8M304 130.3h0.8M312.2 133.4h0.8M317.1 150.6h0.8M305.8 147.1h0.8M315.5 150.8h0.8M312.4 139h0.8M314.9 108.6h0.8M324.9 121.7h0.8M301.8 141h0.8M308.2 125.3h0.8M309.2 133.3h0.8M314.1 161.7h0.8M294.2 116h0.8M289.1 150.3h0.8M313.5 141.9h0.8M313.5 127.5h0.8M301.2 132.3h0.8M308.9 155.7h0.8M313.3 123.3h0.8M304.2 130.4h0.8M310.1 134.1h0.8M306.5 150.9h0.8M316.7 139.9h0.8M323.8 131.2h0.8M314.4 160.8h0.8M313.2 129.8h0.8M315.3 140h0.8M310.7 110.7h0.8M319.7 132.5h0.8M315.6 115.6h0.8M324.1 169.4h0.8M302.7 104.5h0.8M307.2 125h0.8M303.6 143.3h0.8M317.8 134.4h0.8M321.9 129.1h0.8M312 140.6h0.8M312.1 123h0.8M317.1 140.7h0.8M312 115h0.8M318.4 127.3h0.8M297.8 138.3h0.8M320.5 137h0.8M315.6 142h0.8M312.6 129.5h0.8M327.9 139h0.8M314.4 126.3h0.8M299.4 121.9h0.8M307.1 137.7h0.8M308.2 118.9h0.8M305.5 149.3h0.8M295.9 117.3h0.8M308.8 145.3h0.8M306.4 128.5h0.8M320.5 147.8h0.8M321.3 135.7h0.8M306.1 128.2h0.8M326 124.6h0.8M309.7 132.9h0.8M306.4 131.3h0.8M315.4 143.8h0.8M315.3 125.1h0.8M303.7 156.5h0.8M298 126.5h0.8M313.4 130.2h0.8M316.4 141.6h0.8M316.8 131.2h0.8M303.8 139.6h0.8M314.1 109.5h0.8M306.3 139.2h0.8M318.7 144.9h0.8M321.5 146.4h0.8M315.7 131.2h0.8M296.5 125.5h0.8M309.8 148h0.8M308.1 92.7h0.8M302.7 119.8h0.8M312.9 106.8h0.8M320.1 116h0.8M305.9 115.3h0.8M307.2 147.9h0.8M310.4 124.6h0.8M317.4 118.2h0.8M312 135.2h0.8M321.9 146.9h0.8M310.2 146.1h0.8M316.2 101.8h0.8M312.2 150.4h0.8M303.5 114.9h0.8M324.7 142.2h0.8M307.5 121h0.8M307.7 113.4h0.8M311.3 114.7h0.8M317.9 175.1h0.8M317.6 153.7h0.8M325.7 135.4h0.8M313.9 141.9h0.8M308 132.1h0.8M303.4 127.7h0.8M312.1 143.8h0.8M297.7 114.1h0.8M318.2 153.5h0.8M318.5 153.6h0.8M313.7 146.2h0.8M314.8 126.6h0.8M301.1 143.8h0.8M307 127.3h0.8M313.4 158.5h0.8M300.7 135.8h0.8M309 128.5h0.8M319.5 143.7h0.8M314.6 138.3h0.8M317.8 144.6h0.8M296.9 145.7h0.8M309.9 172.8h0.8M302.3 139.4h0.8M315.8 145.6h0.8M298.4 126.9h0.8M301.3 132.7h0.8M311.2 128.1h0.8M314.8 146.7h0.8M321.1 133.7h0.8M304.4 164.7h0.8M310 136.6h0.8M302.8 156.5h0.8M321.5 138.3h0.8M320.1 142h0.8M322.7 159.5h0.8M307.8 129.2h0.8M305.3 128.5h0.8M305 139.3h0.8M311.9 135.3h0.8M320.4 158.8h0.8M310.2 127.6h0.8M307.4 129.3h0.8M311.6 163.4h0.8M316.6 114.8h0.8M310.4 148.1h0.8M326.1 130.9h0.8M304.1 131.2h0.8M316.4 135.5h0.8M305.2 149.4h0.8M316.3 137.2h0.8M317.1 138.9h0.8M312.8 126.7h0.8M318.5 144.5h0.8M317.4 133.2h0.8M317.2 138.8h0.8M308.7 167.8h0.8M314.1 123.2h0.8M314.3 149.4h0.8M317.3 131.7h0.8M315.4 135.9h0.8M309.7 102.5h0.8M301.2 135h0.8M313.1 125.4h0.8M317.8 155.8h0.8M304.4 122.3h0.8M309.7 171.1h0.8M309.4 157.6h0.8M296.8 135.2h0.8M317 147.1h0.8M304 154.7h0.8M311.2 154.7h0.8M318 111.5h0.8M296.7 111.5h0.8M308.1 138.7h0.8M313.1 143.2h0.8M314.1 125.9h0.8M297.6 110.1h0.8M327 152.8h0.8M304.3 129.1h0.8M313 152.3h0.8M302.5 151.6h0.8M314.5 98.9h0.8M324 144.9h0.8M320.5 153.1h0.8M310.7 121.7h0.8M307.7 122h0.8M306 151.6h0.8M307.2 144.2h0.8M308.6 111.1h0.8M305.1 147.9h0.8M302.3 121.9h0.8M315.8 116.2h0.8M306.3 143.1h0.8M317.9 152.4h0.8M313.5 133.4h0.8M314.6 140.4h0.8M311 136.7h0.8M321.6 145.4h0.8M317.1 111h0.8M312.8 141.7h0.8M310.7 164.4h0.8M300.2 131.5h0.8M313.7 120.2h0.8M311 133.7h0.8M311.5 134.8h0.8M308.7 134.7h0.8M322.2 140.5h0.8M303.8 115.1h0.8M306.6 143h0.8M324.6 135.1h0.8M323.7 137.2h0.8M311.8 126.4h0.8M320.1 156h0.8M311.5 139.5h0.8M325.3 117.6h0.8M320.7 122.8h0.8M319.8 155.5h0.8M318.7 156.8h0.8M302.8 123.4h0.8M311.7 133.7h0.8M307.8 146.2h0.8M298.9 132.9h0.8M318.7 141.2h0.8M303.7 158h0.8M304.8 157.1h0.8M311.9 159.5h0.8M315 160.3h0.8M319.4 133.1h0.8M304.8 137.9h0.8M307.6 148.5h0.8M310.7 148.5h0.8M309.6 112.1h0.8M316.6 136.6h0.8M312 137.6h0.8M308.5 161.1h0.8M323.7 146.2h0.8M312.8 150.9h0.8M314.3 153.7h0.8M313.6 122h0.8M305.2 114.4h0.8M315.6 151.6h0.8M304.2 133h0.8M325.2 142h0.8M324 125.1h0.8M311.1 113.7h0.8M290 124.5h0.8M309.5 133.5h0.8M316.6 132.3h0.8M303.4 146.7h0.8M316 133.6h0.8M315.5 155.8h0.8M316.4 149.7h0.8M306.8 115.7h0.8M309.5 150.1h0.8M305.6 145.3h0.8M312.7 142.8h0.8M338.5 152.8h0.8M313.1 130.7h0.8M322.7 100.5h0.8M306.4 125h0.8M316.7 120.9h0.8M328.6 149h0.8M305.3 133.7h0.8M317.7 150.2h0.8M301.9 119.9h0.8M293.1 168.4h0.8M297.2 128.3h0.8M307.8 141.1h0.8M313 122.6h0.8M312.1 123.3h0.8M299 130.2h0.8M291.2 144.2h0.8M278.9 138.1h0.8M317.5 157.2h0.8M315.6 138.1h0.8M301 131.2h0.8M323.1 146.2h0.8M308.5 124.6h0.8M310.6 161.2h0.8M319.9 125.4h0.8M299.4 120.5h0.8M313.1 146.3h0.8M329.1 130.6h0.8M292.1 131.3h0.8M303.9 133.7h0.8M323.7 147.1h0.8M306.2 109.6h0.8M284 101.6h0.8M264.8 99.2h0.8M274.9 117.2h0.8M288.8 103.8h0.8M264.6 103.4h0.8M298.8 104.2h0.8M297.8 114.8h0.8M263.7 83.9h0.8M296.1 101.4h0.8M284.7 94h0.8M295.4 105.5h0.8M294.7 110.6h0.8M303.7 115.2h0.8M299.4 113h0.8M302.7 113.3h0.8M290.1 94.1h0.8M302.1 109.6h0.8M283.9 102.6h0.8M292.4 91.5h0.8M305.5 113.8h0.8M286.9 94.2h0.8M300.5 109.6h0.8M308.2 110.9h0.8M270.6 93h0.8M298.3 102.6h0.8M280.4 91h0.8M304.2 106.7h0.8M306.6 95.4h0.8M291 103.6h0.8M293.9 91.6h0.8M285.1 91.8h0.8M283.7 97.6h0.8M288.1 107.3h0.8M301.9 92.2h0.8M276.4 106.8h0.8M292.3 99.4h0.8M276.1 108.7h0.8M288.2 90h0.8M272.4 92h0.8M283.1 118.5h0.8M273.9 90.5h0.8M308 106.4h0.8M266.5 93.5h0.8M267.5 76h0.8M279.8 101.2h0.8M294.2 95.9h0.8M278.9 88.6h0.8M273.3 110h0.8M295.3 97.9h0.8M276.3 91.7h0.8M282 105.4h0.8M254.6 99.8h0.8M293.1 95.5h0.8M308.7 110.6h0.8M303.1 111.2h0.8M303.3 110.1h0.8M284.1 103h0.8M301.5 99.5h0.8M302.3 106.3h0.8M298.8 111.9h0.8M278 93.9h0.8M302 106.5h0.8M264.9 93.6h0.8M304.3 101.4h0.8M278.1 105.7h0.8M302.9 101.2h0.8M288.8 98.5h0.8M288.7 113h0.8M289.7 112.4h0.8M267.8 97.5h0.8M275.4 73.2h0.8M295.4 114.6h0.8M272.9 96.7h0.8M311.4 115.5h0.8M287.5 98.6h0.8M302.6 100.2h0.8M283.8 106.6h0.8M302.1 106.5h0.8M301.4 107.4h0.8M285.1 102.3h0.8M298.2 104.3h0.8M269.6 113.2h0.8M282.1 98.9h0.8M267.4 87.5h0.8M292.7 99.6h0.8M296.8 101.5h0.8M269.9 92.9h0.8M288.9 106.3h0.8M301.7 105.5h0.8M302.9 104.2h0.8M273.3 107.2h0.8M302.8 114.9h0.8M298.4 88.6h0.8M283 94.4h0.8M293.3 107h0.8M291 105.3h0.8M296.1 113.3h0.8M275.2 94.6h0.8M295.9 108.2h0.8M286.2 103.2h0.8M295.4 106.7h0.8M298.2 89.9h0.8M267.6 93.8h0.8M288.4 95.5h0.8M293.3 109.6h0.8M297.1 118.4h0.8M305.9 110.4h0.8M285 100.6h0.8M289.9 100.6h0.8M295.7 102.8h0.8M298.1 107.3h0.8M287 103.1h0.8M297.9 121.1h0.8M281.1 109.5h0.8M287.1 96.4h0.8M291.5 101.4h0.8M292.6 91.6h0.8M295.3 109h0.8M302.9 112h0.8M284.3 95.5h0.8M288.3 99.4h0.8M291.9 88.8h0.8M282.1 95.9h0.8M287.5 104.1h0.8M297.3 105.2h0.8M306.2 94.7h0.8M294.8 117.3h0.8M282.6 89.4h0.8M301 103.9h0.8M271.8 87.2h0.8M289.4 109.7h0.8M265.9 95.2h0.8M258.6 97.5h0.8M300.7 104.9h0.8M302.3 108.7h0.8M309.1 111.4h0.8M280.1 102.2h0.8M296.4 105.1h0.8M305 107.4h0.8M284.5 97.9h0.8M300 111h0.8M290.9 100.2h0.8M292.9 102.2h0.8M263.5 102.3h0.8M304.3 117.3h0.8M289.5 103.2h0.8M299 106.8h0.8M304.2 102.8h0.8M271.8 90.5h0.8M305.9 122.9h0.8M313.7 113.7h0.8M304.6 101.8h0.8M304.5 102.3h0.8M299 106.1h0.8M298.8 105.6h0.8M292.7 108.2h0.8M303.1 110.4h0.8M301.2 86.7h0.8M308 105.9h0.8M269.7 106.9h0.8M264.7 91.5h0.8M305 101.7h0.8M307.2 99.7h0.8M302.9 100.5h0.8M300.7 103.2h0.8M302.7 117.1h0.8M295.8 91.2h0.8M290.7 98.1h0.8M295.2 109.9h0.8M292.5 109.1h0.8M308.3 92.6h0.8M295.7 103.3h0.8M282.7 94.8h0.8M269.1 84.5h0.8M296.5 118.4h0.8M308.9 106.2h0.8M295.3 95.7h0.8M270.8 98.3h0.8M293.6 105.6h0.8M302.7 113.9h0.8M290.7 113.3h0.8M303.1 91.3h0.8M293.6 117.2h0.8M288.5 91.8h0.8M284.3 97.6h0.8M306.1 108.3h0.8M287.6 102.8h0.8M290.5 110.1h0.8M296.9 103.8h0.8M290.4 97.1h0.8M283.9 93.2h0.8M279.9 99.5h0.8M288.3 89.9h0.8M273.9 86.5h0.8M296.5 104.5h0.8M297.8 104.2h0.8M302.1 103.3h0.8M294.2 105.9h0.8M299.5 97.9h0.8M302.7 97.7h0.8M267.8 83.9h0.8M302.9 108.6h0.8M297.2 99.9h0.8M291.5 95.7h0.8M287.9 106.3h0.8M303.5 108.1h0.8M274.7 98.4h0.8M299.5 102.9h0.8M265.7 88.2h0.8M287.1 114.1h0.8M301 102h0.8M284.6 117h0.8M298.3 99.5h0.8M310.4 120h0.8M289.7 91.7h0.8M290 118.1h0.8M290.7 94.2h0.8M308 93.7h0.8M311.2 116.2h0.8M258.5 106.6h0.8M299.2 99.3h0.8M304.3 86.1h0.8M305.4 105.6h0.8M270.6 91.9h0.8M300.8 102.1h0.8M276.9 102.8h0.8M290.2 103.7h0.8M301.1 101.6h0.8M295.1 98.8h0.8M287.3 99.3h0.8M281.4 98.9h0.8M285.3 108.6h0.8M296.5 105.6h0.8M309.7 98.7h0.8M301.9 103.9h0.8M298.7 110.6h0.8M302.7 107.3h0.8M288.8 112.5h0.8M296.3 96.4h0.8M312.1 105.3h0.8M295 97.3h0.8M300.1 101.4h0.8M298.6 94.2h0.8M314 112.9h0.8M285.3 95.7h0.8M294.1 112.4h0.8M299.5 110.7h0.8M298.6 86.9h0.8M313 115h0.8M281.2 95.9h0.8M290.2 75.4h0.8M282.8 98.1h0.8M304.8 100h0.8M285.2 106h0.8M286 105.8h0.8M313.5 102h0.8M267.9 109.6h0.8M294.8 98.1h0.8M293.8 106.3h0.8M286.9 97.8h0.8M284.2 111.7h0.8M292.6 112.2h0.8M301.4 110.7h0.8M284.1 93.6h0.8M305 120.9h0.8M303.3 109.1h0.8M281.5 97.1h0.8M288.3 98.8h0.8M247.7 90.8h0.8M307.2 96.7h0.8M258.9 98.7h0.8M298.6 100.3h0.8M300.8 112.2h0.8M250.7 86.3h0.8M290.6 119.1h0.8M281.3 89h0.8M290.1 92.7h0.8M279.5 100.4h0.8M297.8 109.9h0.8M294.1 100.7h0.8M300.8 98.5h0.8M286.1 105.3h0.8M283.1 106h0.8M302.7 99.5h0.8M295.8 97.9h0.8M301.5 111.5h0.8M271 95.3h0.8M283.1 102.9h0.8M298.6 98.1h0.8M293.7 100.3h0.8M276.5 87.5h0.8M292.9 104.7h0.8M295.3 113.7h0.8M282.7 98.2h0.8M270.3 95.3h0.8M297 109.5h0.8M295.4 101.6h0.8M259.8 93.3h0.8M292.7 93.3h0.8M307.8 111.3h0.8M287.1 110.4h0.8M297.8 105.1h0.8M293.4 109.2h0.8M289.9 106.5h0.8M261.5 91.9h0.8M307.6 94.6h0.8M290 100h0.8M285.1 96.5h0.8M289.2 100.2h0.8M278.1 97.3h0.8M297.4 113.5h0.8M292.6 109.7h0.8M298.8 91.2h0.8M271.2 104.4h0.8M294.8 105.8h0.8M290.4 103.3h0.8M295.2 105.2h0.8M276.5 87.4h0.8M302.9 104.9h0.8M297.2 116.4h0.8M289.7 105.8h0.8M290.5 94.9h0.8M302.6 107h0.8M307.4 102.4h0.8M276.7 87.5h0.8M292.5 120.7h0.8M305.5 105.4h0.8M289 102.1h0.8M295.8 97h0.8M260.8 90.3h0.8M295.5 107.5h0.8M261.9 77.4h0.8M298.3 82.8h0.8M270 103.5h0.8M256.1 76.8h0.8M281.9 109.9h0.8M287.8 100.5h0.8M271.3 80.8h0.8M275.8 87.5h0.8M276.3 98h0.8M285.7 93h0.8M268.5 95h0.8M305.7 110.6h0.8M267 106.9h0.8M272.6 110.4h0.8M294.8 101.3h0.8M288 101.7h0.8M290.5 99.4h0.8M311.5 91.4h0.8M284.5 100.4h0.8M291.4 103.2h0.8M285.1 98.5h0.8M296.4 106.4h0.8M290.7 101.7h0.8M296.6 103.7h0.8M289.4 96.9h0.8M293.9 100.6h0.8M303.1 110.1h0.8M292.1 112.3h0.8M298.7 100.1h0.8M293.7 105.5h0.8M296.4 99.4h0.8M282.8 113.1h0.8M282 109.9h0.8M288.8 97.3h0.8M298.5 100.1h0.8M299.8 107.9h0.8M301.8 99.6h0.8M305.3 113.4h0.8M268.4 74.3h0.8M298.6 105.8h0.8M277.4 98.4h0.8M303.7 105.9h0.8M292.5 114h0.8M272.9 80.6h0.8M285.6 101.5h0.8M295.3 114.1h0.8M300.9 109.8h0.8M283.7 94.3h0.8M265.7 98.6h0.8M297.8 96.6h0.8M281.2 117.1h0.8M265.8 104.7h0.8M302.7 115.4h0.8M302.1 107.9h0.8M300.5 104.7h0.8M295.2 109.3h0.8M262.5 85.7h0.8M298.8 108.9h0.8M303.7 99.4h0.8M283 115.3h0.8M294.1 101.3h0.8M283.2 109.3h0.8M260.9 73.6h0.8M283.9 104h0.8M295.8 109.5h0.8M284.9 98.9h0.8M302.4 106h0.8M308 101.4h0.8M279.3 111.3h0.8M277.3 104.8h0.8M294.5 109.6h0.8M297 104.7h0.8M270.1 102.6h0.8M313.8 110.3h0.8M304.5 90.7h0.8M279.3 111.2h0.8M298.4 95.8h0.8M302.6 112.7h0.8M292.9 88.3h0.8M286.3 100.7h0.8M271.8 110h0.8M304.4 102.1h0.8M295.6 109.6h0.8M301.6 109.4h0.8M294.9 93.4h0.8M309 104.3h0.8M266.7 82h0.8M282.1 107.1h0.8M295 149h0.8M288.9 135h0.8M288.3 121.3h0.8M266.2 115.5h0.8M265.1 124.4h0.8M281.6 118h0.8M295.6 138.2h0.8M286.2 111.3h0.8M297.2 144.9h0.8M274.8 107.4h0.8M281.6 163.7h0.8M267.6 104.6h0.8M298.1 173.9h0.8M288.2 124.3h0.8M264.7 106.8h0.8M294.3 143h0.8M266 128.7h0.8M286.7 113.2h0.8M270.2 109.7h0.8M294.7 122.4h0.8M272.2 163.4h0.8M282.4 162.6h0.8M271.2 139h0.8M280.1 134.5h0.8M273.9 132.3h0.8M269.1 118.9h0.8M290.6 148.3h0.8M273.1 157.1h0.8M285.2 163.8h0.8M293 143.5h0.8M272.9 164.8h0.8M278.6 163h0.8M282 163.8h0.8M281 145.7h0.8M299 166.5h0.8M297.5 160.3h0.8M290.1 122h0.8M274.9 122.9h0.8M296.1 173.9h0.8M270.6 122.4h0.8M264.4 143h0.8M298.5 134h0.8M272.2 133.3h0.8M293.6 153h0.8M285.7 105.6h0.8M327.4 158.7h0.8M321.9 158.4h0.8M329.7 174.6h0.8M327.1 172.5h0.8M304.1 156.9h0.8M320.1 174.6h0.8M332.5 159.3h0.8M322.8 160.2h0.8M306.4 163.6h0.8M318.1 162h0.8M303.7 175.3h0.8M302.8 167.4h0.8M309.2 156.6h0.8M325.4 165.9h0.8M299.5 156.8h0.8M309.6 162.1h0.8M332 173.3h0.8M296.3 158.9h0.8M303.2 167.5h0.8M305.9 174.9h0.8M289.2 179.1h0.8M331 159.7h0.8M311.3 175.2h0.8M309.1 159.7h0.8M320.7 174.9h0.8" stroke="#111" stroke-width="0.8" stroke-opacity="0.5" fill="none"/>
<path d="M310 128.6h0.8M310.5 106.5h0.8M308.2 129.5h0.8M314 146.1h0.8M315.1 142.2h0.8M302.9 138.8h0.8M308.4 154.6h0.8M312.3 164.3h0.8M315.6 140h0.8M310.7 148.2h0.8M314.3 127.6h0.8M318.5 150.5h0.8M317 144.8h0.8M309.3 140.1h0.8M311.5 153.7h0.8M317.9 108.2h0.8M308 116.8h0.8M317.4 119.8h0.8M308.8 140.1h0.8M312 119.8h0.8M303 105.5h0.8M305.5 136.5h0.8M314 125h0.8M307.3 141.7h0.8M308.4 122.9h0.8M305 118.2h0.8M308.7 139.7h0.8M323.8 150.7h0.8M306.4 111.7h0.8M301.3 124.4h0.8M315.8 117.8h0.8M309.7 140.7h0.8M313.1 132.2h0.8M307.4 140.9h0.8M309.3 139.5h0.8M310.9 124.5h0.8M302.8 132.3h0.8M309.6 141.2h0.8M311 143.1h0.8M304.2 140h0.8M315.1 122.2h0.8M314.4 143h0.8M306.3 149h0.8M318.6 138.5h0.8M304 137h0.8M308.2 132.1h0.8M313.3 145.8h0.8M304.7 160.5h0.8M317 156.4h0.8M308.2 134h0.8M314.7 145.1h0.8M306.4 117.3h0.8M322.5 131.5h0.8M309.1 126.5h0.8M311.5 130.3h0.8M312.5 125.6h0.8M311.1 142.2h0.8M307.6 129.7h0.8M306.8 134.1h0.8M318.5 117.3h0.8M315.7 147.6h0.8M311.6 132.6h0.8M312.7 138.7h0.8M304.2 120.6h0.8M309.1 120.5h0.8M311.9 150.8h0.8M310.3 125.9h0.8M309.4 130.8h0.8M316.3 142.7h0.8M316.4 148.4h0.8M309.7 130.2h0.8M310.1 138.3h0.8M311.1 135.5h0.8M302.3 137h0.8M314.4 165.2h0.8M309.2 144h0.8M306.2 137.4h0.8M310.1 113h0.8M306.5 137.5h0.8M314.3 122.4h0.8M314.9 113.8h0.8M306.3 146.6h0.8M306.7 115.6h0.8M310.6 136.5h0.8M313.6 127.9h0.8M309.3 149.7h0.8M315 159.6h0.8M303.5 137.3h0.8M310.6 120.3h0.8M310.3 149.3h0.8M312.2 143.3h0.8M308.4 132.1h0.8M298.3 128.9h0.8M314.5 139.8h0.8M314.6 121.5h0.8M304.7 149.7h0.8M322 139.8h0.8M307.5 131.3h0.8M313.2 158.6h0.8M313.9 141.4h0.8M300 132.3h0.8M315 136.8h0.8M306.3 143.4h0.8M306.4 151.4h0.8M307.3 118.9h0.8M304.7 115.8h0.8M308.3 142.8h0.8M314.4 137.8h0.8M309.3 109.9h0.8M310 132.9h0.8M306.8 130h0.8M313.2 131.7h0.8M306.4 121.9h0.8M312.3 129.3h0.8M303.2 146.6h0.8M315.5 143h0.8M321.8 139.2h0.8M307.3 127.4h0.8M313.4 136.7h0.8M309.7 128.5h0.8M325.1 128.9h0.8M311.4 122.5h0.8M303.6 141.9h0.8M309.2 132.8h0.8M308.7 136h0.8M315.9 124.5h0.8M305.7 145.1h0.8M317.6 130.9h0.8M313.2 129.6h0.8M309.9 154.9h0.8M312.6 127.2h0.8M313.9 135.5h0.8M311 123.4h0.8M305.5 145.2h0.8M310.2 132.5h0.8M316.4 137.8h0.8M310.5 144.5h0.8M306.4 126.3h0.8M310.5 165.3h0.8M307.6 124.1h0.8M302.9 138.8h0.8M301.5 118.8h0.8M310.9 144.6h0.8M310.3 108.3h0.8M305.2 145.4h0.8M305.9 139.7h0.8M311.9 144h0.8M304.7 118.5h0.8M300.3 116.5h0.8M306.3 108.5h0.8M309.3 140.6h0.8M310.7 132.2h0.8M308.3 140h0.8M311.8 143h0.8M308.5 142.8h0.8M312.4 155.4h0.8M305.9 128.6h0.8M310.2 121.6h0.8M303.2 134h0.8M316.8 126.9h0.8M306.5 108.6h0.8M314.6 136.2h0.8M307.7 128.1h0.8M315.6 134.6h0.8M310.5 127.7h0.8M303 121h0.8M307.7 129.4h0.8M315.1 140.4h0.8M312.2 111.4h0.8M318.7 133.6h0.8M299.9 124.9h0.8M308.7 143.7h0.8M305.2 144.6h0.8M311.6 126.4h0.8M308.5 111.3h0.8M307.7 133.6h0.8M316.7 121.2h0.8M315.2 112.2h0.8M317 143.1h0.8M309.3 147.6h0.8M320.8 137.7h0.8M307.5 144.8h0.8M316.6 131.8h0.8M313.5 127.3h0.8M310.2 146.5h0.8M310.9 117.5h0.8M310.2 143.8h0.8M318.9 116.6h0.8M307.2 129.3h0.8M306.8 112.2h0.8M313.2 133.5h0.8M310.5 135h0.8M311.8 112.9h0.8M309.9 154.4h0.8M309.5 116.9h0.8M315.9 148.8h0.8M311.2 128.3h0.8M309.1 127.1h0.8M313.9 132.4h0.8M317.2 142.5h0.8M320.8 149.1h0.8M313 133.8h0.8M315.5 151.4h0.8M314 146.2h0.8M307.6 134.6h0.8M310.9 110.7h0.8M310.1 141.8h0.8M311.4 130.4h0.8M308 123.2h0.8M309 131.8h0.8M315.4 144.3h0.8M305 145.8h0.8M308.4 125.8h0.8M313.4 127.1h0.8M311.4 127.9h0.8M305 113.6h0.8M309.8 118.9h0.8M309.2 130.7h0.8M313.1 123h0.8M311.9 140.7h0.8M310.4 128.1h0.8M308 108h0.8M312 120.8h0.8M310.3 141.5h0.8M315.6 156.2h0.8M309.9 114h0.8M304.6 145.4h0.8M312.3 151h0.8M311.2 143.2h0.8M311.3 145.9h0.8M312.4 137.6h0.8M312.2 133.3h0.8M310.8 145.5h0.8M310.2 151h0.8M313.4 135.1h0.8M308.5 152.7h0.8M306.5 141.8h0.8M310.7 138.5h0.8M318.8 144.3h0.8M312.8 140.4h0.8M316 158.6h0.8M312.1 130.4h0.8M312.7 163.6h0.8M313.6 143.8h0.8M309 135.1h0.8M317.1 141h0.8M302.3 119.9h0.8M314.4 140.7h0.8M313 140.4h0.8M318.8 139.1h0.8M310 125.1h0.8M313.6 115.7h0.8M307.8 112.1h0.8M315.7 155.1h0.8M303.4 134.3h0.8M313.6 170.1h0.8M315.8 134.5h0.8M312.9 124.6h0.8M305.8 129.3h0.8M311.3 159.3h0.8M312.8 124.9h0.8M312.4 151.7h0.8M302.6 148.6h0.8M305.2 130.4h0.8M306.5 142.7h0.8M309.5 117.5h0.8M309.3 147.2h0.8M315.6 156.1h0.8M318.6 156.5h0.8M300.4 140.6h0.8M305.8 140.6h0.8M311.8 137.6h0.8M305.7 147.9h0.8M303.9 139.7h0.8M311.7 115.6h0.8M315.6 138.3h0.8M307 126.4h0.8M311.6 140.1h0.8M313.7 131.9h0.8M316.4 132.2h0.8M311.3 130.2h0.8M314.2 116.8h0.8M308.3 113.4h0.8M311.2 143h0.8M308.6 134.3h0.8M313 121.3h0.8M307.5 128.2h0.8M307.4 127.8h0.8M308.1 113.9h0.8M298.4 109.7h0.8M308.1 132.1h0.8M311.5 152.9h0.8M308 137.5h0.8M310 145.7h0.8M315.4 129.8h0.8M305.1 130.1h0.8M313.9 141.8h0.8M314.9 144.5h0.8M315 137.4h0.8M314.8 134.2h0.8M306.2 144.7h0.8M305.6 157.5h0.8M309.2 139.5h0.8M314.7 149.5h0.8M305.5 136.2h0.8M313.4 122.8h0.8M305.7 149.3h0.8M312.6 144.8h0.8M311.4 120h0.8M308.9 135.8h0.8M311.3 154h0.8M310.4 145h0.8M311.5 133.4h0.8M320.2 145.7h0.8M318.9 171h0.8M305 127.7h0.8M313.9 152.1h0.8M307.1 129.2h0.8M319 119.6h0.8M308.5 144.9h0.8M312.5 140.9h0.8M309.3 157.7h0.8M312.3 156.9h0.8M307.1 136.7h0.8M303.9 159.5h0.8M308.4 137.7h0.8M306.4 146.1h0.8M303.8 132.4h0.8M311.5 117.9h0.8M324 120.7h0.8M314.4 124.5h0.8M306.8 126.9h0.8M314 145.5h0.8M311.2 121.6h0.8M309.3 120.2h0.8M306 147.1h0.8M302.5 129.5h0.8M320.3 140.7h0.8M314.7 158.3h0.8M315.9 122.3h0.8M302.7 121.5h0.8M301.4 119.7h0.8M317.1 133.3h0.8M303.4 132.2h0.8M312 122.4h0.8M309.3 132.3h0.8M307.7 147h0.8M317.3 130.3h0.8M315.4 137.6h0.8M315.1 158.5h0.8M310.4 147.4h0.8M318.2 119.9h0.8M303.1 153.3h0.8M310.9 131.7h0.8M306 139.7h0.8M315.9 153.9h0.8M307.5 132.2h0.8M310 148.7h0.8M310.5 136.9h0.8M306.1 108.3h0.8M307 123.1h0.8M306.9 141.8h0.8M316.8 127.5h0.8M314.3 155.1h0.8M310.4 121.3h0.8M306.9 164.9h0.8M307.2 139.5h0.8M321.4 151.9h0.8M314.5 160.5h0.8M310.2 136.2h0.8M311.4 149.1h0.8M319.1 129.7h0.8M307.1 151.2h0.8M314.1 138.7h0.8M305.8 100h0.8M307.1 176.3h0.8M315.5 136.9h0.8M314.7 144.4h0.8M314.9 121.6h0.8M317.9 135.1h0.8M314.1 161.6h0.8M302.1 136.4h0.8M317.5 122.2h0.8M307.2 134.1h0.8M310.7 129.6h0.8M298.7 130.8h0.8M312 126.5h0.8M312.3 140h0.8M305.7 152.9h0.8M308.4 131.1h0.8M305.2 115.5h0.8M318.2 120.9h0.8M305.2 110.3h0.8M302.7 135.6h0.8M311 137.6h0.8M306.8 142.8h0.8M312.8 131.5h0.8M302.6 113.6h0.8M311.2 133.3h0.8M307.8 139.5h0.8M306.6 125.4h0.8M309.8 136.8h0.8M308 134.3h0.8M313.9 150.1h0.8M314.3 140.4h0.8M311.8 140h0.8M312.9 131.8h0.8M307.4 128.6h0.8M314.6 102.4h0.8M315.3 112.6h0.8M304.4 137h0.8M307.4 133.7h0.8M310.7 135.2h0.8M310.9 145.4h0.8M307.2 133.9h0.8M312 113.7h0.8M307.6 129.1h0.8M312.3 128.8h0.8M313.5 135.6h0.8M311.3 112.7h0.8M307.5 160.2h0.8M313.2 181.5h0.8M297.7 114.4h0.8M303.3 125h0.8M312.6 128.1h0.8M313.3 170.6h0.8M307.2 147.9h0.8M315 155.5h0.8M310.4 139.6h0.8M313.4 157.5h0.8M304.9 130h0.8M308.6 142.8h0.8M314 119.1h0.8M301.3 121.5h0.8M311 141.4h0.8M309.2 141.3h0.8M304.5 138.3h0.8M311.1 139.2h0.8M308.4 137.6h0.8M305.9 137.5h0.8M303.4 136.5h0.8M309.4 134.1h0.8M310.3 121h0.8M308.7 126.7h0.8M312.7 141.7h0.8M317.4 148.4h0.8M314.3 120.1h0.8M310.5 134.3h0.8M309.4 137.8h0.8M315.5 152.6h0.8M317.2 137.6h0.8M311.3 169.5h0.8M306.5 135.8h0.8M317.1 114.8h0.8M303.7 135.8h0.8M304 138.7h0.8M313.8 112.5h0.8M308.4 126.5h0.8M311.2 119.4h0.8M299.9 122.6h0.8M314.4 126.2h0.8M315.3 133.8h0.8M310.2 118.5h0.8M313.1 138.3h0.8M307.2 163.4h0.8M313.6 131.6h0.8M313.7 166h0.8M314.1 114.6h0.8M316.3 129.6h0.8M307.1 146h0.8M310.2 138.9h0.8M300.9 134.9h0.8M312.6 148h0.8M304.9 133.4h0.8M310.5 153.8h0.8M306.8 133.4h0.8M312.8 151.6h0.8M301 110.9h0.8M311.8 142.2h0.8M306.6 122.9h0.8M317.7 153.1h0.8M312.4 162.6h0.8M304.7 137.7h0.8M311.6 131.5h0.8M316.9 147.5h0.8M312.7 129.1h0.8M311.5 120.4h0.8M316.1 108h0.8M315.7 132.5h0.8M315 149.4h0.8M313.5 122.2h0.8M318.3 153h0.8M310.2 149.8h0.8M308.9 131.1h0.8M313.7 150.4h0.8M311.3 149.3h0.8M311.8 143.3h0.8M315.2 163.2h0.8M311.1 157.8h0.8M309.8 143.2h0.8M308.9 126.1h0.8M305.4 118.3h0.8M322.3 120.6h0.8M318.2 163.1h0.8M306.8 135.4h0.8M310.6 142.8h0.8M312.8 163.9h0.8M312.9 116.4h0.8M304.9 123.5h0.8M318.6 115.7h0.8M305.3 150.6h0.8M308 138.8h0.8M314 149.7h0.8M316.8 127.6h0.8M314.4 140.8h0.8M312.2 127.3h0.8M307.9 130.5h0.8M316.1 128.1h0.8M315.6 133.9h0.8M308 142.4h0.8M310.2 127.9h0.8M312.2 123.7h0.8M314.3 122.2h0.8M315.2 142.4h0.8M308.5 146.8h0.8M304.8 147.7h0.8M307.4 118h0.8M309.8 140.6h0.8M306 123h0.8M311 141.2h0.8M318.3 124.2h0.8M317.4 136.7h0.8M315.5 157.7h0.8M309.4 122.6h0.8M306.1 151.4h0.8M309.4 139.4h0.8M314.7 142.1h0.8M314.7 132.2h0.8M313 133.2h0.8M309.3 134.3h0.8M310.4 143.3h0.8M314.6 149.7h0.8M314.9 150.8h0.8M303 146.2h0.8M308.2 120.4h0.8M316.5 149.1h0.8M311.3 151.8h0.8M312.8 138.4h0.8M315.3 140h0.8M312.2 134.5h0.8M304.9 126.3h0.8M307.1 134.3h0.8M309.6 160.6h0.8M310.4 161.6h0.8M307.2 132.5h0.8M316.2 179.1h0.8M299.5 119.3h0.8M315.4 110.3h0.8M308.1 132.6h0.8M310.5 125.6h0.8M309.2 136.3h0.8M309.4 101.7h0.8M307.7 150.5h0.8M305 110.2h0.8M309.3 125.7h0.8M317.6 144.6h0.8M315 143.3h0.8M311.4 127h0.8M314 127h0.8M308.4 138.5h0.8M313 137.1h0.8M315 151h0.8M308.4 151.7h0.8M310.7 156.4h0.8M302 127.6h0.8M292.2 99.8h0.8M311.2 130.3h0.8M313.7 151h0.8M311.1 134.1h0.8M317.8 137.4h0.8M305.2 129.2h0.8M321.5 148.6h0.8M310.3 121.6h0.8M307.6 137.9h0.8M312 141h0.8M311.3 117.1h0.8M314.6 136.2h0.8M320.2 165.7h0.8M314.5 120.7h0.8M313.8 134.7h0.8M313.8 134.6h0.8M298.4 120.3h0.8M310.4 121.7h0.8M314.6 141.2h0.8M314.1 131.1h0.8M316.7 158.4h0.8M311.7 159.1h0.8M316.2 153.2h0.8M315.7 157.2h0.8M310.7 161.4h0.8M306.2 137h0.8M318.4 150.8h0.8M319.1 143h0.8M307.6 154.2h0.8M304.5 108.3h0.8M306.6 142h0.8M304.3 130.4h0.8M310.2 124.6h0.8M302.6 121.2h0.8M312 165.1h0.8M307.7 153.1h0.8M311.1 121.6h0.8M308.3 137h0.8M311.8 128.5h0.8M321 155.8h0.8M308.9 135.3h0.8M312.3 131.7h0.8M310.9 132.8h0.8M310 130.2h0.8M305.6 143h0.8M306.9 127.6h0.8M305.9 131.7h0.8M305.4 131.4h0.8M308.9 144.5h0.8M318 116.9h0.8M310.1 164.1h0.8M316.1 143.6h0.8M324.8 135.8h0.8M310.5 138.4h0.8M312.3 144.5h0.8M300 128.2h0.8M312.6 122.1h0.8M305.9 111.5h0.8M309.8 139.1h0.8M304.4 134.5h0.8M307.4 157.9h0.8M314.1 102.6h0.8M308.3 139h0.8M311.5 120.2h0.8M311.7 143.9h0.8M312.9 132.7h0.8M313.4 133h0.8M304.9 152.6h0.8M309.7 143.9h0.8M309.5 168h0.8M317.1 149.8h0.8M310.1 112.5h0.8M305.8 125h0.8M306.2 121.2h0.8M305.6 132.6h0.8M313.8 143.9h0.8M309.6 157.6h0.8M311.6 115.9h0.8M311.5 116.6h0.8M301.9 142.3h0.8M306.6 147.2h0.8M305.6 144.2h0.8M305.3 143h0.8M307 128.4h0.8M309.7 127.3h0.8M311.2 131.5h0.8M310 161.5h0.8M317.3 115.5h0.8M312.2 156h0.8M323.6 113.9h0.8M312.3 145.7h0.8M310.3 138.8h0.8M305.4 151.1h0.8M313.2 128.4h0.8M314.1 137.2h0.8M306.9 154.1h0.8M313.9 156.1h0.8M304.8 114.7h0.8M318.2 156.9h0.8M318.7 126h0.8M312.6 125.5h0.8M314.1 121.8h0.8M314.6 121.5h0.8M316.7 125.6h0.8M311.8 147.6h0.8M316.6 121.2h0.8M314.7 131.5h0.8M304.5 111.2h0.8M305 139.2h0.8M302.5 121.5h0.8M303.4 124.6h0.8M315.7 155.6h0.8M315.2 149.7h0.8M311.1 127.9h0.8M309.5 138.5h0.8M315.9 113.2h0.8M311.2 120.4h0.8M307.6 147h0.8M313.8 146h0.8M307.2 131.8h0.8M302.9 145.2h0.8M314 149.9h0.8M313.1 132.3h0.8M307.2 136.8h0.8M309.9 123h0.8M314.8 122.4h0.8M311.1 114.4h0.8M304.1 114.2h0.8M319.3 131.7h0.8M320.1 122.1h0.8M315.4 133.3h0.8M305.1 134.3h0.8M309.2 129.4h0.8M312.5 104.7h0.8M304.6 137.6h0.8M306.1 162.3h0.8M307.9 127.2h0.8M303.3 112.9h0.8M312.2 120.4h0.8M307 126.5h0.8M315.8 143.9h0.8M310.4 134.6h0.8M306.1 147.6h0.8M308.1 116.8h0.8M317.6 137.9h0.8M308.8 136.7h0.8M304.7 132.2h0.8M308.7 152.5h0.8M309.7 141.6h0.8M311.3 135.2h0.8M314.1 139.8h0.8M310.2 140.9h0.8M314.7 124.5h0.8M305.7 132.2h0.8M299 110h0.8M311.7 146.8h0.8M315.6 165.5h0.8M316.3 156.3h0.8M321.1 151.1h0.8M313.9 140.9h0.8M317.2 122.3h0.8M308.1 142.7h0.8M315.5 145.5h0.8M313.5 128.6h0.8M306.3 135.4h0.8M306.7 132.1h0.8M312.3 149.4h0.8M312.3 153.5h0.8M301 139.4h0.8M310.4 128.4h0.8M314.9 161.6h0.8M301.8 137.3h0.8M308.6 134.3h0.8M311 120.9h0.8M317.2 130.9h0.8M313.3 147.9h0.8M305.2 164.4h0.8M312.4 144.9h0.8M309.1 150.7h0.8M302.8 134h0.8M321.9 126.1h0.8M312.3 129h0.8M309.8 120.3h0.8M308.7 132.3h0.8M304.5 141.7h0.8M306 121.4h0.8M311.4 132h0.8M312.9 133.9h0.8M309.5 150.5h0.8M306.3 114.1h0.8M315.6 137.5h0.8M305.1 139.2h0.8M312.6 112.1h0.8M304.5 126h0.8M312.5 135.8h0.8M311.7 128.8h0.8M306.7 136.4h0.8M311 146.8h0.8M305.6 109.2h0.8M311.1 153.8h0.8M315.2 139h0.8M313.4 160.6h0.8M312.7 109h0.8M312.3 137.7h0.8M311.1 138h0.8M315.9 173.2h0.8M316.3 124.2h0.8M316 133.7h0.8M311.9 130.5h0.8M308.9 127.6h0.8M313.6 144.6h0.8M305.4 126.6h0.8M304.7 121.6h0.8M310.4 144.6h0.8M311 146h0.8M316.1 140.3h0.8M308.3 126h0.8M313.7 144.7h0.8M313.2 136.5h0.8M308.3 151.7h0.8M315.8 143.9h0.8M307.5 130.2h0.8M313.6 156.3h0.8M309.5 146.3h0.8M306.8 136.4h0.8M311.3 130h0.8M317.2 141.7h0.8M311.2 130h0.8M310.3 140.9h0.8M315.2 143h0.8M313.1 151.2h0.8M316.5 123.1h0.8M316.9 164.4h0.8M319.8 132.6h0.8M314.8 112.4h0.8M313.3 140.3h0.8M313 144.3h0.8M309.6 143h0.8M310 120.1h0.8M312.8 151.3h0.8M313 133.6h0.8M308.8 126.5h0.8M316.8 143h0.8M309.6 146.4h0.8M312.3 119.2h0.8M308.4 144.5h0.8M314.8 152.7h0.8M319.7 153.7h0.8M312 125.5h0.8M316.5 117.5h0.8M314.3 119.4h0.8M309.4 157.8h0.8M304.7 164.5h0.8M310.9 141.3h0.8M311.2 128.6h0.8M311.8 122.1h0.8M310 159h0.8M313.9 113.6h0.8M310.2 144h0.8M309.4 146.4h0.8M309.9 130h0.8M304.4 130.8h0.8M311.6 120.2h0.8M314.2 127.1h0.8M311.5 143h0.8M320.1 127.5h0.8M308.9 129.7h0.8M317.2 170.8h0.8M314.8 148.7h0.8M310 139.2h0.8M317.8 160.5h0.8M313.2 110.6h0.8M312.2 137.4h0.8M312.3 130.2h0.8M311.5 124.2h0.8M312.4 145h0.8M310.1 115.4h0.8M312.8 137h0.8M310.4 155.8h0.8M315.2 121.6h0.8M318.5 130.6h0.8M308.2 135.4h0.8M312.5 136.7h0.8M308 118.2h0.8M302.4 113.4h0.8M313.8 147.9h0.8M317.7 129.6h0.8M296.8 143.5h0.8M316.3 112.4h0.8M313.5 129.2h0.8M311.9 127.3h0.8M313.2 122.7h0.8M309.7 133h0.8M299.7 143.3h0.8M311.3 133.7h0.8M310.9 142h0.8M304.9 153.8h0.8M315.4 141.9h0.8M312.6 139.2h0.8M303 144.1h0.8M312.4 145.2h0.8M316 148.1h0.8M317.7 147.5h0.8M308.2 151.3h0.8M317.4 131.8h0.8M311.4 114.8h0.8M310 131.8h0.8M311.5 128.8h0.8M305.5 114.8h0.8M302 111.8h0.8M311.9 117.7h0.8M305.6 145.3h0.8M312.1 144.1h0.8M311.4 132.5h0.8M312 137.5h0.8M314.3 129.1h0.8M307.1 152.6h0.8M314.1 136.8h0.8M313 138h0.8M311 145.8h0.8M304.2 115h0.8M310 126.5h0.8M307.8 140.1h0.8M314.2 126.9h0.8M308.4 157.2h0.8M312.1 130.6h0.8M319.5 157.8h0.8M313.2 129h0.8M309.2 144.3h0.8M311.7 149.5h0.8M303.5 130.9h0.8M306 141.5h0.8M314.3 125.5h0.8M309.3 112.4h0.8M312.1 151.8h0.8M308.2 135.3h0.8M314.7 130h0.8M316 132.9h0.8M309.6 142.8h0.8M311 149h0.8M304 128.1h0.8M306.7 144.1h0.8M308.6 137.9h0.8M319.4 140.7h0.8M316.1 146.7h0.8M309.4 112.8h0.8M312.4 139.3h0.8M311.6 160.6h0.8M309.3 127.2h0.8M315.3 135.4h0.8M306.5 118.7h0.8M317.8 126.3h0.8M311.4 148.8h0.8M317.5 131.6h0.8M297.7 130.8h0.8M306.2 149.1h0.8M312.9 140.3h0.8M308 151.5h0.8M304 135.6h0.8M303.5 135.1h0.8M306.4 134h0.8M304.9 122.5h0.8M310.9 127h0.8M314.4 142.4h0.8M311.3 133.9h0.8M305.9 128.2h0.8M304.2 141.8h0.8M318.5 128.9h0.8M310.7 114.8h0.8M311.8 146.1h0.8M316.3 162.7h0.8M310.1 135.7h0.8M313.4 147.8h0.8M308.7 125.9h0.8M305.2 114.6h0.8M315.2 136.1h0.8M301.9 137.3h0.8M316.1 144.6h0.8M306.5 137.3h0.8M304.4 123.3h0.8M308.5 138.9h0.8M314.1 138.6h0.8M310.9 120.7h0.8M314.7 120.7h0.8M313.7 132.8h0.8M312.8 122.4h0.8M312.3 140.6h0.8M309.9 123.9h0.8M316.9 130h0.8M310.9 125.6h0.8M311.8 137.3h0.8M312.1 160.1h0.8M315.2 158.7h0.8M314.1 129.4h0.8M312.4 149.1h0.8M316.9 146.1h0.8M315.7 159.4h0.8M311.6 116.5h0.8M311.9 135.8h0.8M304.5 103.4h0.8M319.5 121.5h0.8M314.2 111.6h0.8M304.8 133h0.8M313 135.6h0.8M315.2 148.6h0.8M302.9 140.6h0.8M315 106.3h0.8M313.6 113.5h0.8M311.5 162.7h0.8M307.4 142.3h0.8M311.8 123.8h0.8M312.1 149.2h0.8M312.6 145.4h0.8M321.1 130.7h0.8M306.6 132.2h0.8M309.2 133.3h0.8M308.7 142.7h0.8M316.4 139.7h0.8M310 146h0.8M315.6 135.8h0.8M300.5 122h0.8M305 118.9h0.8M310.6 131.9h0.8M307.4 126.4h0.8M311.3 126.7h0.8M304.9 122.9h0.8M312.6 125.5h0.8M320.3 118.7h0.8M319.6 142.7h0.8M308.5 148.1h0.8M309.7 133.6h0.8M307.7 136.9h0.8M312.4 139.2h0.8M307.5 121.8h0.8M320.7 149.5h0.8M311 111.2h0.8M314 118.1h0.8M304 153.5h0.8M315.4 125.4h0.8M314.5 126.3h0.8M307.7 124.4h0.8M306.6 111.1h0.8M312 133.3h0.8M301.4 129.5h0.8M317.6 135.3h0.8M317 147.4h0.8M310.5 126.4h0.8M317 128.7h0.8M319.3 120.9h0.8M308.3 124.8h0.8M312.9 124.1h0.8M303.6 140.6h0.8M308 123.7h0.8M318 143.4h0.8M301.6 121h0.8M313.7 158.6h0.8M309.2 125.7h0.8M315.3 147.2h0.8M315 137.4h0.8M314.5 125h0.8M317 128.8h0.8M305.7 143.7h0.8M311.3 127.2h0.8M320.5 139.9h0.8M309 143.5h0.8M309.4 131h0.8M316.2 152.6h0.8M303.9 123.6h0.8M316.7 136.8h0.8M302.2 133.2h0.8M309 127.1h0.8M309.5 157.1h0.8M313 140h0.8M316.7 145.1h0.8M307.5 140.2h0.8M305.2 128.5h0.8M313.5 132.9h0.8M316.4 124.1h0.8M313.3 131.3h0.8M316.2 129.3h0.8M316.1 133.4h0.8M309.6 132.6h0.8M309.4 141.8h0.8M306.6 126h0.8M304.5 131.9h0.8M321.2 116h0.8M316.3 132h0.8M312.1 146.6h0.8M310.1 157.9h0.8M315.6 132h0.8M307.1 123.7h0.8M315.6 155.3h0.8M308.2 136.9h0.8M312.5 142.3h0.8M304.2 139.4h0.8M313 152.7h0.8M318.6 136.1h0.8M320.4 145.7h0.8M317.9 151.9h0.8M306.9 120.6h0.8M303.5 136.5h0.8M304.8 114.9h0.8M307 150.7h0.8M309.9 144.8h0.8M313.4 103.3h0.8M311.9 126.1h0.8M313.3 126.7h0.8M317.2 120.6h0.8M308 116.7h0.8M313.5 140.3h0.8M314.9 114.4h0.8M314.6 139h0.8M307 134.4h0.8M311.2 141.3h0.8M313.2 140.4h0.8M307.8 136.4h0.8M314.8 148.7h0.8M309.1 146.3h0.8M316.9 126.1h0.8M309 145.9h0.8M308.9 124.4h0.8M319.7 131.3h0.8M316.5 142.9h0.8M313.2 140.4h0.8M312 133.8h0.8M305.7 120.5h0.8M306.2 110.5h0.8M315.2 141.1h0.8M313.6 149.1h0.8M315.5 114.6h0.8M296.3 147.3h0.8M315.8 139.9h0.8M306.2 132.8h0.8M304.9 118.5h0.8M318.2 141.1h0.8M316.1 165.7h0.8M314.3 134h0.8M312.8 138h0.8M316.8 116.6h0.8M310.4 159.2h0.8M304.5 134.2h0.8M317.4 157.8h0.8M320 147.3h0.8M313 118.8h0.8M308.9 119.4h0.8M315.3 145.9h0.8M312.5 143.3h0.8M312.8 144h0.8M312.4 152.8h0.8M309.5 155.2h0.8M311 130.3h0.8M312.6 139.5h0.8M303.7 134.4h0.8M316.5 131.4h0.8M315.2 138.2h0.8M307.6 145.3h0.8M311.7 131.8h0.8M308.4 158.8h0.8M308.1 148.1h0.8M311 151.7h0.8M305.3 135.3h0.8M313.2 145h0.8M314.9 147.4h0.8M311 140.3h0.8M318.2 160.9h0.8M315.4 156.4h0.8M304 159h0.8M310.7 141.7h0.8M308.6 167h0.8M308.6 116.3h0.8M316.3 149.2h0.8M314.7 115.3h0.8M307 133h0.8M300.8 130.6h0.8M303.5 116.2h0.8M306.5 141.2h0.8M310.8 150.5h0.8M316.1 140.8h0.8M313.1 122.9h0.8M307.9 140h0.8M302.5 115h0.8M307.6 119.3h0.8M309.2 131.5h0.8M312.8 132.3h0.8M311.7 137.4h0.8M318.8 153.2h0.8M311.2 142h0.8M310.6 154h0.8M308.9 138.9h0.8M315.6 137h0.8M311.3 161.1h0.8M312.8 156.4h0.8M310.7 148.9h0.8M316.7 109.7h0.8M304.9 119.5h0.8M308.3 157.2h0.8M312.5 134.8h0.8M311.5 148.4h0.8M313.9 129.4h0.8M308.3 113.1h0.8M311.7 125.7h0.8M304.1 132h0.8M316.9 136h0.8M310.6 134.2h0.8M309 125.2h0.8M316 132h0.8M311.8 143.1h0.8M318.2 135.3h0.8M312.9 136.8h0.8M313.5 151.6h0.8M304.8 123.7h0.8M304.9 152.1h0.8M308.2 149.4h0.8M308.7 146.7h0.8M306 134.6h0.8M308 118.4h0.8M309.4 129.2h0.8M308 137.1h0.8M311.3 149h0.8M311.4 111.5h0.8M309.7 145.9h0.8M307.7 159h0.8M313.1 127.2h0.8M295.5 113.2h0.8M307.5 127.9h0.8M313.8 136.9h0.8M312.5 129h0.8M312.7 156.4h0.8M310.6 126.2h0.8M302.9 128.7h0.8M322.9 141.7h0.8M313.9 133.4h0.8M314.9 147.9h0.8M309.8 126.2h0.8M305.4 123.6h0.8M304.4 113.5h0.8M307.1 118.4h0.8M307.7 145.6h0.8M316.6 148.9h0.8M313.2 129.7h0.8M309.3 121.7h0.8M313.8 153.9h0.8M314.2 140.7h0.8M306.8 138.1h0.8M306.5 123.1h0.8M314.9 143.5h0.8M309.7 139.5h0.8M309.2 128.9h0.8M310.3 136.8h0.8M310 143.4h0.8M306.5 139h0.8M309.7 126.3h0.8M307 114h0.8M315.5 157.6h0.8M313.3 147.9h0.8M302.9 137.2h0.8M315.4 154.1h0.8M317.8 119.1h0.8M303 111.1h0.8M309.3 122.9h0.8M316.8 143.5h0.8M317.8 124.7h0.8M301.8 138.6h0.8M315.5 152.9h0.8M315.7 118.2h0.8M318.7 135.2h0.8M318.2 162.3h0.8M310.8 158.6h0.8M318.1 118.8h0.8M318.7 140.6h0.8M312.9 135.6h0.8M314.8 126.1h0.8M310.7 125.6h0.8M311.6 126.7h0.8M311.7 144.1h0.8M308.3 141.1h0.8M314.9 147.7h0.8M308.9 148h0.8M312.9 117.2h0.8M311.4 144.1h0.8M310.9 137h0.8M309.2 144.7h0.8M309.6 139h0.8M308.6 146.3h0.8M310.2 119.2h0.8M316.2 114.9h0.8M314 138.7h0.8M315.2 152.2h0.8M311 156.9h0.8M302.3 161.7h0.8M308.8 144.7h0.8M308.2 121.8h0.8M311.6 136.1h0.8M305.5 140.3h0.8M319 113.6h0.8M315.7 125.1h0.8M309.4 148.3h0.8M315.9 149.9h0.8M311 148.1h0.8M315.8 144.9h0.8M313.4 146.7h0.8M305.4 121.1h0.8M310.5 127h0.8M304.6 132h0.8M316.1 143.2h0.8M305.2 131h0.8M314.8 135h0.8M309 133.9h0.8M315.6 121.4h0.8M306.2 154.7h0.8M313.1 147.2h0.8M309.7 124.5h0.8M309.3 137.4h0.8M314.2 149.1h0.8M311.2 139.6h0.8M299.3 116.5h0.8M303 138.3h0.8M313 116.7h0.8M315.1 147.6h0.8M315.9 128.1h0.8M319.3 130.2h0.8M312.8 149.7h0.8M308.7 116.1h0.8M310.7 111.6h0.8M299.4 129.8h0.8M307.1 148.7h0.8M314.4 129.8h0.8M311 150.6h0.8M308.8 153h0.8M307.9 125h0.8M311 136.8h0.8M307.9 128h0.8M308.3 148.6h0.8M310.7 143.5h0.8M313.5 159.5h0.8M312.6 133.7h0.8M315.4 144.2h0.8M310.8 136.6h0.8M305.3 131.7h0.8M318.2 144.2h0.8M315.8 128.6h0.8M311.9 131h0.8M316.5 137.7h0.8M309.7 152.4h0.8M314.1 118.4h0.8M314.5 118.1h0.8M312 137.5h0.8M306.6 135.5h0.8M320.9 121h0.8M313.9 136.5h0.8M311.4 152.7h0.8M317.2 155.1h0.8M307.9 117.8h0.8M319.1 130.5h0.8M315.7 140.6h0.8M319.1 125.9h0.8M308.3 130.6h0.8M307.5 122.9h0.8M317.5 156.4h0.8M307.9 130.5h0.8M315.4 127.1h0.8M311.6 151.5h0.8M307.8 146.3h0.8M305 124.9h0.8M312.9 136.5h0.8M315.2 143h0.8M302.2 124.4h0.8M308.5 147.9h0.8M314.6 105.6h0.8M313.7 139.4h0.8M315.5 135.2h0.8M314 133.8h0.8M307.3 136.7h0.8M308.1 125.2h0.8M311.2 127.6h0.8M305.6 124.6h0.8M308.1 122.8h0.8M315.3 143.3h0.8M314.1 157.6h0.8M307.9 115h0.8M306.9 131.9h0.8M311.2 137.2h0.8M302.9 112.5h0.8M307.2 138.5h0.8M316.3 146.1h0.8M315.7 144.4h0.8M318.8 127.8h0.8M306.4 117h0.8M302.5 110.6h0.8M311.3 139.5h0.8M306.9 141.1h0.8M314.1 142.4h0.8M308.9 160.4h0.8M316.7 143.4h0.8M314.9 160.3h0.8M312.4 170.9h0.8M305.7 113h0.8M306.1 114.8h0.8M315.6 131.3h0.8M314.8 148.2h0.8M296.6 119.8h0.8M305.4 141.2h0.8M310.8 137.4h0.8M300.8 137.6h0.8M306.9 126.3h0.8M311.2 137.6h0.8M306.5 123.7h0.8M308.2 133.6h0.8M312.5 136.8h0.8M308.5 133.1h0.8M310.3 131.1h0.8M305.2 126.8h0.8M314.4 121.8h0.8M311.8 134.6h0.8M313.3 139.1h0.8M306 137.8h0.8M310.1 108.1h0.8M308 146.2h0.8M309.7 131.5h0.8M311.4 137.6h0.8M313.2 150.5h0.8M315.3 141.3h0.8M307.5 113.3h0.8M311 147.8h0.8M311.3 139.6h0.8M320.7 127.7h0.8M316.6 141.7h0.8M315.2 146h0.8M307.9 136h0.8M313.8 109.1h0.8M310.3 157.3h0.8M315.6 155.1h0.8M305.5 134.1h0.8M308.2 114.7h0.8M307.5 117.3h0.8M309 148.7h0.8M305.6 128.1h0.8M314 128.8h0.8M309.7 112.3h0.8M314.3 122h0.8M307.9 133.2h0.8M314.8 152h0.8M306.6 153.5h0.8M301.4 106.5h0.8M305 115.8h0.8M316.4 172.9h0.8M312.7 149.6h0.8M313.7 132.5h0.8M312.7 158.3h0.8M316.2 153.8h0.8M311.8 135.4h0.8M310.5 127.2h0.8M310 147.9h0.8M313.1 136.5h0.8M307.5 145.8h0.8M317 145h0.8M308.2 125.6h0.8M305.9 148.1h0.8M315.3 118.8h0.8M303.2 138.7h0.8M303.8 105.7h0.8M303.1 140.8h0.8M311.7 139.1h0.8M314.9 128.7h0.8M317.5 132.1h0.8M311.8 135.2h0.8M309.3 116.2h0.8M309.4 126.1h0.8M307.9 131.2h0.8M308.4 134.9h0.8M313.4 135.9h0.8M311.8 119.2h0.8M315.6 153.7h0.8M309.7 125.6h0.8M316.2 156.1h0.8M314.6 153.7h0.8M306.1 139.7h0.8M312.1 130.8h0.8M312.4 135.3h0.8M311.5 124.8h0.8M307.6 145.1h0.8M312.7 145.3h0.8M312.7 141.5h0.8M309.9 129.9h0.8M309 124h0.8M311.5 123h0.8M314.7 133h0.8M304.2 114h0.8M314.6 148.4h0.8M315.5 153.8h0.8M302.2 123.8h0.8M314 129.1h0.8M307.3 156h0.8M309.3 138h0.8M316.2 121.8h0.8M306.3 131.4h0.8M311.9 109.1h0.8M308.1 138h0.8M309.3 143.1h0.8M315.8 166.2h0.8M309.1 139.9h0.8M310.1 120.1h0.8M306.1 140.8h0.8M313 129.8h0.8M308.9 161.4h0.8M305.6 151.1h0.8M306.1 127h0.8M307.8 131.5h0.8M317.6 159.4h0.8M310.2 143.7h0.8M312.6 139.6h0.8M311.5 137.5h0.8M307.3 139.5h0.8M311.8 141.5h0.8M305.4 139.9h0.8M309.1 140.3h0.8M317.3 125.4h0.8M311.4 157h0.8M306 156.1h0.8M311.8 135.8h0.8M321.7 140.6h0.8M307 131.2h0.8M311.9 134.6h0.8M309.4 127.3h0.8M314.3 135.5h0.8M302.7 119.1h0.8M314.9 136.5h0.8M303.7 119h0.8M319.3 142h0.8M323.6 113.4h0.8M307.6 141.5h0.8M304.6 124.2h0.8M303.8 132.6h0.8M312.6 109.8h0.8M310.5 129.2h0.8M318.3 111.8h0.8M311.5 147.3h0.8M315.9 143.3h0.8M312.5 142.2h0.8M312 146.7h0.8M302 136.9h0.8M307.4 135.9h0.8M316.1 149.1h0.8M308.7 155.6h0.8M308.6 120.8h0.8M315.5 159.6h0.8M311.8 125.8h0.8M305.6 136.9h0.8M308.6 143.8h0.8M307.8 134.2h0.8M318 123.3h0.8M316.5 137.6h0.8M299.4 129.2h0.8M319.7 142.7h0.8M316.4 143.3h0.8M317.1 151.2h0.8M313.8 160.1h0.8M310.5 145.7h0.8M306.1 138.2h0.8M312.6 134.5h0.8M313.4 147.9h0.8M317.6 127.2h0.8M310.1 145.9h0.8M309.8 140.6h0.8M310.9 146.9h0.8M314.6 161.3h0.8M320.7 149.9h0.8M312 132.3h0.8M315.9 117.2h0.8M310.2 123.2h0.8M305.2 126h0.8M313.6 135.9h0.8M310.3 168.7h0.8M320.4 130h0.8M312.5 158.9h0.8M305 124.6h0.8M311.6 128.5h0.8M310.8 150.8h0.8M306.9 152.8h0.8M313.2 132.5h0.8M315.2 139.3h0.8M312 135.6h0.8M313.2 154.4h0.8M319.1 116.3h0.8M307.8 152h0.8M310.1 107.8h0.8M316.9 133.1h0.8M312.2 139h0.8M313.5 147.9h0.8M311.4 132.7h0.8M308.7 110h0.8M311.7 132.7h0.8M310.8 108h0.8M298.9 108.2h0.8M312.8 153.2h0.8M320.6 121.1h0.8M313.3 157.4h0.8M318.4 129.9h0.8M312.5 147.3h0.8M304.5 113.8h0.8M300.5 126.2h0.8M309.2 150.8h0.8M312.2 138h0.8M311.2 123.9h0.8M312.5 134.8h0.8M308.9 127.8h0.8M302 141.1h0.8M313.1 144.4h0.8M305.2 133.4h0.8M313.3 166.8h0.8M308.8 118.8h0.8M317.4 138.9h0.8M301.6 119.2h0.8M307.5 124.7h0.8M310.8 135.8h0.8M314.8 132.2h0.8M317.3 128.9h0.8M298 138.3h0.8M307 131.1h0.8M302.9 137h0.8M309.1 155.5h0.8M311.8 125.5h0.8M311.8 152.5h0.8M316.1 152.6h0.8M303.6 118.6h0.8M311.3 147.4h0.8M312.4 125.6h0.8M313.3 119.9h0.8M316.4 126h0.8M319.2 165.3h0.8M302.7 131h0.8M305 129.1h0.8M314.4 143.1h0.8M315.4 139.5h0.8M311.6 133.8h0.8M307.4 142.4h0.8M313.5 145.8h0.8M310.8 144.3h0.8M304.4 125.3h0.8M311.2 121.2h0.8M311.3 177.1h0.8M310.8 154.1h0.8M308.8 143.3h0.8M313.9 135.1h0.8M305.4 155.5h0.8M312.6 138.8h0.8M319.1 140.5h0.8M313.4 149.4h0.8M311.3 138.1h0.8M315.4 128.1h0.8M312.9 135.6h0.8M303.9 118.4h0.8M309.5 132.9h0.8M308.8 144.7h0.8M316 147.1h0.8M311.8 121.9h0.8M307.4 144.5h0.8M309.9 127.7h0.8M314.3 132.6h0.8M310.3 102.9h0.8M305.8 136.3h0.8M311.8 148.3h0.8M313 127.5h0.8M315.7 109.5h0.8M310.8 129.3h0.8M321.2 153.4h0.8M308.2 123.9h0.8M312.2 143.6h0.8M312.8 138.5h0.8M303.2 128.1h0.8M314.5 147.3h0.8M320.6 129.5h0.8M314.1 137.8h0.8M317.9 151.4h0.8M306.2 119.8h0.8M318.8 127h0.8M308 122.2h0.8M306.2 139.8h0.8M314.4 157.1h0.8M318.2 134.1h0.8M315.7 142.3h0.8M317.8 152.6h0.8M312.1 128.6h0.8M308 135.5h0.8M306.3 139.1h0.8M310.1 144.9h0.8M311.3 100.1h0.8M308.3 138.7h0.8M315.4 148h0.8M309.9 140.6h0.8M312.8 151.6h0.8M303.9 118h0.8M318.5 124.3h0.8M316.1 149.3h0.8M318.5 133.4h0.8M317.4 134.4h0.8M308.7 126.3h0.8M317.4 144.8h0.8M314.7 167.5h0.8M312.3 173.8h0.8M316.9 153.8h0.8M309.8 147.1h0.8M315.1 123.8h0.8M316.7 117.4h0.8M313.3 116.2h0.8M302.9 136.2h0.8M313.3 139.6h0.8M307.9 132.1h0.8M310.6 142.1h0.8M315.5 133.9h0.8M307.7 122h0.8M310.7 171.6h0.8M311.1 137.9h0.8M304.4 112.2h0.8M319.7 125.2h0.8M305.1 133.2h0.8M308 129.8h0.8M308.3 115h0.8M308.3 144h0.8M307.5 138.9h0.8M317.1 150.3h0.8M305 133.5h0.8M305.2 164.7h0.8M314.4 148.4h0.8M313.6 135.1h0.8M310.1 126.6h0.8M311.9 145.9h0.8M305.5 131.7h0.8M315.3 154.8h0.8M310.8 125.7h0.8M305.2 150h0.8M318.1 127.5h0.8M316 122.2h0.8M316.2 118.6h0.8M308.9 136.3h0.8M317.5 157h0.8M310.8 141.4h0.8M315.4 132.8h0.8M313 125.6h0.8M309.1 139.1h0.8M309.9 131.7h0.8M301.5 153h0.8M316.1 136.3h0.8M316.4 152.4h0.8M311.2 111.4h0.8M323 127.7h0.8M308.2 132.6h0.8M310.8 123.6h0.8M310.7 146.5h0.8M315.1 154h0.8M313 128.8h0.8M312.3 152.9h0.8M304.4 128.9h0.8M304.6 129.7h0.8M314.8 122.4h0.8M310.3 165.6h0.8M315.2 143h0.8M310 143.6h0.8M313.9 153.6h0.8M307.3 127.1h0.8M299.8 139.8h0.8M313.3 137.2h0.8M313 135.8h0.8M315.3 153h0.8M321.9 150.1h0.8M308.4 137.1h0.8M315.6 146.8h0.8M312.5 150.1h0.8M313.3 121.7h0.8M319.1 134.3h0.8M307.5 151h0.8M303.2 119.6h0.8M313.5 148.6h0.8M314.4 128.3h0.8M317.1 138.7h0.8M313.2 140.9h0.8M303 136.3h0.8M311.9 127.2h0.8M311.9 147.3h0.8M315.7 158.4h0.8M317.2 140.2h0.8M320.8 133.3h0.8M311 125.9h0.8M318 125.8h0.8M303.6 129.7h0.8M314.2 141.3h0.8M317.2 144.9h0.8M308.6 127.5h0.8M304.9 120.4h0.8M318.5 137.1h0.8M318.4 131.7h0.8M312.7 144.7h0.8M309 137.3h0.8M317.3 113.6h0.8M304.9 120.2h0.8M309 138.9h0.8M317.8 157.5h0.8M305 134.4h0.8M306.5 131.1h0.8M308.7 130.5h0.8M305.2 117.8h0.8M313.7 151.4h0.8M313.8 128.1h0.8M308.2 135.5h0.8M309.7 151.9h0.8M311.6 117.9h0.8M315.5 143.6h0.8M307.6 114.7h0.8M313.8 129.9h0.8M309.5 136.4h0.8M314.6 126.6h0.8M315.1 160.2h0.8M307.2 134.8h0.8M311.2 129.4h0.8M311.4 133.1h0.8M314.3 140.4h0.8M313.7 124.4h0.8M316.1 157.1h0.8M310.4 135.9h0.8M311.6 135.7h0.8M318.2 136.1h0.8M311.3 110.2h0.8M311 157.3h0.8M308.9 152h0.8M303.3 123.6h0.8M310 132.4h0.8M318.3 143.8h0.8M302.1 131.3h0.8M311.8 152.4h0.8M309.6 154.7h0.8M306.3 108.4h0.8M318.1 145.5h0.8M315.6 147.8h0.8M308.8 156.1h0.8M312.9 160.1h0.8M315.9 109.1h0.8M305.1 130.9h0.8M309.2 134.1h0.8M312.5 152.3h0.8M319.4 127.8h0.8M309.7 157.4h0.8M314 139.2h0.8M312.9 127.5h0.8M308.6 130.1h0.8M304 137.5h0.8M309.4 142.6h0.8M314 142.5h0.8M311.8 139.4h0.8M315.8 125h0.8M306.7 140.3h0.8M312.2 127.9h0.8M307.8 133.7h0.8M313.9 147.3h0.8M301.4 123.7h0.8M307.9 139h0.8M312.5 142.2h0.8M311.8 143.7h0.8M302.6 131.7h0.8M313.6 125.7h0.8M309.9 141.2h0.8M309.9 157.1h0.8M319.4 133.5h0.8M315.5 128.7h0.8M305.9 136.3h0.8M307.3 136h0.8M306.1 142.9h0.8M311.1 137.2h0.8M306.7 139.2h0.8M311.6 145.3h0.8M306.9 139.4h0.8M315.7 127.4h0.8M303.1 138.5h0.8M315.2 105.1h0.8M303.6 119.4h0.8M309.2 148.6h0.8M308.8 129.6h0.8M310.1 118.5h0.8M309.4 166.2h0.8M312.8 142.3h0.8M322.8 133.3h0.8M302.7 108h0.8M314.2 145.6h0.8M307.9 109.9h0.8M312 136.2h0.8M309.8 125.5h0.8M312.6 136.3h0.8M314.8 136.4h0.8M305.2 113h0.8M306.1 122.6h0.8M314.7 135h0.8M310 129.7h0.8M306.2 139.5h0.8M314 141.1h0.8M306.7 122.9h0.8M302.5 126h0.8M314.8 136.3h0.8M317.1 143.3h0.8M306.1 109.2h0.8M310.8 148.7h0.8M305.4 136.7h0.8M313.7 139.6h0.8M299.8 132.4h0.8M310.1 134.1h0.8M308.2 135.1h0.8M308 171.9h0.8M309.2 142.6h0.8M305.9 139.9h0.8M317.5 127.4h0.8M314.7 117.8h0.8M314.5 135.8h0.8M310.9 149.7h0.8M307.9 144h0.8M311 131h0.8M302.3 130.3h0.8M299.9 120.4h0.8M313 136.5h0.8M314.2 133.5h0.8M305.1 140.7h0.8M311.7 143.9h0.8M314 132.1h0.8M303.8 163.4h0.8M309.4 114.8h0.8M316 125.4h0.8M310.2 132.8h0.8M305.4 155.7h0.8M311.4 115.6h0.8M314.8 134.4h0.8M310 144.4h0.8M309.7 120.2h0.8M309.8 108.4h0.8M300.4 131.1h0.8M312 124.9h0.8M313.4 135h0.8M315 126.9h0.8M314.9 142.7h0.8M318.9 153.9h0.8M309 143.8h0.8M307.3 157h0.8M314.9 113.6h0.8M310.9 131h0.8M313 138.8h0.8M309.6 112.3h0.8M312.5 138.3h0.8M312.5 122.9h0.8M305.3 110.1h0.8M313.4 139.8h0.8M310.2 137.2h0.8M308.6 143h0.8M310.9 132.2h0.8M309.7 147.3h0.8M305.6 130.5h0.8M314.2 156.4h0.8M310.5 109.8h0.8M311.1 158.6h0.8M304 161.2h0.8M302.1 144.9h0.8M316.3 154.1h0.8M306.7 129.7h0.8M310.6 146.7h0.8M313.6 116.9h0.8M314.1 134.4h0.8M307.1 141.9h0.8M313.3 140.5h0.8M310.6 132.1h0.8M312.2 129.9h0.8M310.2 139.4h0.8M311.3 128.8h0.8M310.1 125.3h0.8M310.1 145.8h0.8M313.3 129.2h0.8M306.1 142h0.8M315.5 117.5h0.8M310.5 108.3h0.8M316.3 144.7h0.8M308.1 111.1h0.8M315 143h0.8M310.6 140.8h0.8M310.5 131.8h0.8M306.5 131.3h0.8M313.6 152h0.8M303.4 117h0.8M310.7 118.4h0.8M309.8 142.6h0.8M307 120.1h0.8M304.3 122.1h0.8M309.2 178.1h0.8M310.6 148.8h0.8M299 125.9h0.8M309.4 111h0.8M307.9 137.7h0.8M314.3 133.5h0.8M316.7 141.9h0.8M313.2 134.7h0.8M310.2 139.4h0.8M315.3 144.5h0.8M303.9 135h0.8M320 141h0.8M313.5 111.7h0.8M312.3 123.8h0.8M316.9 139.1h0.8M314.1 128.2h0.8M315.6 141.9h0.8M312.4 123.4h0.8M312.2 128.4h0.8M304.8 132.1h0.8M313.9 152.7h0.8M305.8 128h0.8M315.7 141.4h0.8M312.9 114.3h0.8M306.9 117h0.8M307.5 152.6h0.8M308.3 118.6h0.8M309.5 148.6h0.8M316.8 133.1h0.8M310.7 141.1h0.8M313.4 140.4h0.8M311.3 136.6h0.8M309.6 110.9h0.8M312.5 139.5h0.8M318 112.8h0.8M313.5 143.5h0.8M309.3 115.2h0.8M308.3 118.9h0.8M312.1 146h0.8M325.4 140.1h0.8M299.8 123.4h0.8M316.1 138.7h0.8M310.8 138h0.8M307.2 122.6h0.8M302.2 132.2h0.8M304.9 139.2h0.8M312.6 148.4h0.8M310 131h0.8M310.2 134.6h0.8M309.1 135.7h0.8M306.6 122h0.8M312.8 106.2h0.8M309.2 132.5h0.8M316.2 125.4h0.8M311.2 130.3h0.8M315.9 130.3h0.8M313.7 139.7h0.8M313.3 124.1h0.8M321.1 135.5h0.8M320.3 132.6h0.8M318.6 135.1h0.8M316.9 138.4h0.8M324.9 143.3h0.8M315.7 150.7h0.8M306 141.1h0.8M312.1 129.3h0.8M314 127.3h0.8M305.1 100h0.8M314.3 131.7h0.8M317.3 147.9h0.8M320 130.6h0.8M313.2 144.1h0.8M311.9 141.9h0.8M312.6 109h0.8M314.5 129.3h0.8M312 162.3h0.8M314.1 130h0.8M311.9 123.5h0.8M311.4 113.2h0.8M308.3 143h0.8M312.9 157.1h0.8M319.8 159.4h0.8M312.3 153.5h0.8M319.6 160.2h0.8M311.2 134h0.8M312.6 127.3h0.8M305.1 164.2h0.8M314.3 110h0.8M305.8 135.4h0.8M313.5 133.3h0.8M310.6 157.9h0.8M314.5 109.5h0.8M316.6 136.3h0.8M318 111.6h0.8M316.7 140.6h0.8M309.3 112.8h0.8M305 127.1h0.8M314.6 140.5h0.8M306.4 140.3h0.8M313.4 153.8h0.8M310.2 119.2h0.8M306.5 129.7h0.8M308.3 152h0.8M315 133.6h0.8M316.3 139.5h0.8M309.4 163.9h0.8M310.7 143.2h0.8M302.1 134.8h0.8M320 142.2h0.8M317.5 120.2h0.8M310.2 132.1h0.8M299.2 144.1h0.8M309.8 141h0.8M309.2 142h0.8M315.4 136h0.8M306.1 146.9h0.8M314.9 168.2h0.8M313.4 125.1h0.8M309.5 134.6h0.8M315 142.4h0.8M305.5 140.6h0.8M311.1 124h0.8M316.5 118.8h0.8M314.1 126.7h0.8M316.2 155.7h0.8M310.3 143.2h0.8M309 132.5h0.8M311.2 135.6h0.8M311.7 156.5h0.8M312 111.7h0.8M306.9 114.6h0.8M311.6 142.9h0.8M324.7 132.1h0.8M315 138h0.8M310.9 116.8h0.8M316.1 154.1h0.8M313.8 140h0.8M311.8 118.1h0.8M308.3 129.1h0.8M313 145.8h0.8M306 134h0.8M306 108.5h0.8M306.7 142.1h0.8M308.3 129.9h0.8M313.2 132.7h0.8M309.2 135.4h0.8M309.7 131.2h0.8M310.5 142.6h0.8M312 137.5h0.8M309.3 127.6h0.8M309.1 136.9h0.8M317.7 138.9h0.8M309.4 110h0.8M316.3 151h0.8M309.8 120.6h0.8M313.7 127.4h0.8M314.1 114.9h0.8M319.5 163.1h0.8M309.9 139.5h0.8M302 141.7h0.8M317.2 142.7h0.8M309.6 123h0.8M309.1 124.1h0.8M312.1 139.9h0.8M315.3 127.7h0.8M308 149.5h0.8M301.6 140.4h0.8M309.2 147.1h0.8M317.9 138.7h0.8M307.4 109.1h0.8M312.4 139.5h0.8M310.6 132.5h0.8M309.4 118.7h0.8M308.4 136h0.8M309.6 133.4h0.8M314.4 145.7h0.8M318.2 125.7h0.8M311.8 145.6h0.8M311.7 133.4h0.8M307.2 123.5h0.8M315.5 141.9h0.8M313.2 156h0.8M306.7 123h0.8M313.5 126.3h0.8M319 113.6h0.8M308.4 113.5h0.8M317.9 129.5h0.8M306.8 157.1h0.8M319.4 160.5h0.8M306.5 151.2h0.8M300.7 124.3h0.8M313.4 139h0.8M308.2 133h0.8M306.8 152.3h0.8M311 147.1h0.8M308.6 157.8h0.8M314.4 130.8h0.8M312.6 160.8h0.8M312.2 140.3h0.8M313.2 156.6h0.8M313 145.1h0.8M311.8 140.7h0.8M307.4 136.7h0.8M304.2 146.6h0.8M310.2 123.5h0.8M318.1 128.1h0.8M320.4 121.3h0.8M314.8 122.1h0.8M311.1 136h0.8M313.1 153.9h0.8M313.6 130.8h0.8M310.3 146.6h0.8M311.8 127.1h0.8M306.2 137.7h0.8M315.3 149.9h0.8M315.1 124.3h0.8M311.5 109.2h0.8M314.1 114h0.8M308.3 126.7h0.8M311.3 111h0.8M310.1 116.8h0.8M305.9 133.8h0.8M307.7 143.7h0.8M311.4 140.8h0.8M308.7 119.9h0.8M304.4 147.7h0.8M308.3 132.3h0.8M308.2 131.8h0.8M316.2 117.1h0.8M320.7 116.5h0.8M305.8 145.9h0.8M313.4 151.8h0.8M310.3 175.1h0.8M307 152.6h0.8M311.3 149.6h0.8M307.5 135.9h0.8M307.4 132.1h0.8M305.2 156.4h0.8M309 139.1h0.8M307.5 112.5h0.8M312 140.5h0.8M322.3 141.9h0.8M322.6 119.4h0.8M312.4 129.4h0.8M306.6 138.7h0.8M311.4 122.9h0.8M312.4 145h0.8M309.5 126h0.8M308 126.8h0.8M314.6 150.3h0.8M305.7 134.3h0.8M307 132.4h0.8M303.7 134.2h0.8M309.4 117.8h0.8M312.1 140.4h0.8M315.7 138.3h0.8M304.8 146.5h0.8M308.5 151.9h0.8M317.3 130.2h0.8M311.2 137.1h0.8M312.6 157.9h0.8M314.5 150h0.8M311.4 157.2h0.8M312.2 126.6h0.8M316 136.3h0.8M319.2 150.5h0.8M318.4 117.2h0.8M313.8 122.7h0.8M314 112.2h0.8M319.9 148.9h0.8M313.3 170.6h0.8M314.4 146.5h0.8M310.1 126h0.8M314.4 117.9h0.8M304.2 127.5h0.8M304.3 144.3h0.8M308.4 147.6h0.8M310.9 149.1h0.8M307.8 102.1h0.8M315.1 154.1h0.8M304 130.3h0.8M309.7 136.6h0.8M313 123.1h0.8M303.7 148.7h0.8M316.8 151.2h0.8M316.1 136.2h0.8M306.2 132h0.8M314.2 143.6h0.8M313.8 130.3h0.8M312.2 142.2h0.8M301.6 137.1h0.8M306 109.6h0.8M306.6 135.5h0.8M307.9 129.3h0.8M313.2 140h0.8M307.4 135.6h0.8M313.3 162.3h0.8M313.7 143.1h0.8M316.3 133.1h0.8M314.1 146.9h0.8M302.4 132.3h0.8M311.6 132.9h0.8M308.3 118.4h0.8M311.1 135.9h0.8M315.8 135.3h0.8M305.2 149h0.8M312.7 124.4h0.8M312.7 137h0.8M311.9 120h0.8M315 173.4h0.8M310.6 140.1h0.8M314.1 136.7h0.8M316.1 147.9h0.8M304.7 130.8h0.8M302.3 134.1h0.8M313.2 161.5h0.8M316.8 162.2h0.8M306.2 126.5h0.8M308.7 127.3h0.8M316.6 113.7h0.8M308.1 118.2h0.8M313.3 143h0.8M310.8 125.3h0.8M309.1 131.9h0.8M302.2 138.9h0.8M307 143.9h0.8M307.8 140.1h0.8M308.3 154.3h0.8M314.5 127.8h0.8M315.8 135.2h0.8M307.6 137.7h0.8M319.9 136.3h0.8M309.6 117.8h0.8M311.4 140.4h0.8M310.4 117.1h0.8M312.3 166.1h0.8M319 151.8h0.8M320.7 148.1h0.8M310.8 146.4h0.8M316.4 127.7h0.8M313.9 130.1h0.8M303 126.1h0.8M307.9 135.9h0.8M310.5 135.4h0.8M314.2 121.3h0.8M307.3 117.9h0.8M307.3 129h0.8M303.5 134.8h0.8M304.8 137.2h0.8M308.3 127.8h0.8M309.6 137.1h0.8M312.1 122.6h0.8M311.8 151.5h0.8M311.9 118.7h0.8M302.4 117.7h0.8M310.8 127.4h0.8M314.4 132h0.8M310.5 109.7h0.8M310.9 136.2h0.8M310.7 142.5h0.8M316.4 161h0.8M313.9 131h0.8M309 138.2h0.8M311.8 116.2h0.8M313.2 137h0.8M308.7 160.6h0.8M308.5 127.9h0.8M307.3 124.3h0.8M311.5 134.7h0.8M315.9 132.6h0.8M309.3 148.8h0.8M301.1 123.7h0.8M311 127.3h0.8M314.9 154.2h0.8M306 120.1h0.8M313.2 127.5h0.8M317.5 142.9h0.8M306.7 108.7h0.8M306.3 157.3h0.8M310.5 145.1h0.8M303.8 113.8h0.8M315.2 151.2h0.8M312.7 126h0.8M314.7 126.6h0.8M306.8 163.9h0.8M313.1 135h0.8M314 134.5h0.8M309.5 159.4h0.8M307.7 137.3h0.8M307.5 139.1h0.8M316.5 155.6h0.8M312.7 156.9h0.8M311.7 118.5h0.8M315.9 132.4h0.8M310.6 137.4h0.8M305.7 119h0.8M310.7 144.8h0.8M315.1 135.9h0.8M311.2 124.8h0.8M311.8 102.6h0.8M311 149.6h0.8M307.8 120.2h0.8M310.6 143.3h0.8M310.5 144.7h0.8M308.5 153h0.8M305.8 109.4h0.8M314.5 148.4h0.8M307.8 131.5h0.8M309.4 133.4h0.8M309.4 135.7h0.8M307.6 138.7h0.8M307.1 128.9h0.8M302.9 115.2h0.8M316.6 149.8h0.8M317.2 164.5h0.8M313.4 110.4h0.8M320 122.3h0.8M306 118.1h0.8M313.2 127.8h0.8M309.9 100.7h0.8M311.3 153.6h0.8M308.8 136.1h0.8M311.1 159.5h0.8M310.3 127.4h0.8M307.7 128.9h0.8M303.2 118.5h0.8M312.1 135h0.8M318.3 125.7h0.8M309.4 143.4h0.8M307.3 111.3h0.8M311.4 146.4h0.8M303 125.8h0.8M301.5 116.6h0.8M309.7 135.7h0.8M312 140.5h0.8M307.1 133.4h0.8M308.3 150.3h0.8M313.8 139.4h0.8M314.5 148.3h0.8M309.3 117.2h0.8M313.3 113.8h0.8M310.7 131.6h0.8M318.3 158.1h0.8M309.3 158.2h0.8M311.3 141.4h0.8M312.6 156.3h0.8M311.9 141.1h0.8M308.8 126.4h0.8M309.8 124.7h0.8M310.6 141.4h0.8M305.5 128.1h0.8M309.4 159.3h0.8M311.5 140h0.8M308.3 151.9h0.8M310.8 117.5h0.8M313.6 130.5h0.8M319.3 148.1h0.8M304 129.2h0.8M313.4 115h0.8M314 139.5h0.8M316.2 142.1h0.8M304.8 128.1h0.8M313.3 144.6h0.8M305.9 128.1h0.8M317.5 121.4h0.8M313.8 143.8h0.8M308.6 128.1h0.8M312 110.3h0.8M303.9 135.9h0.8M307.9 123.4h0.8M312.9 151.1h0.8M305.1 143.1h0.8M312.5 145.5h0.8M306.7 133.2h0.8M310.6 145.3h0.8M315.6 130.1h0.8M315.1 153.1h0.8M316 136.7h0.8M314.8 155.2h0.8M311.2 134h0.8M309.2 119.6h0.8M302.3 138.3h0.8M309.5 119.6h0.8M312.7 134.1h0.8M319.2 135.4h0.8M309 102.6h0.8M312 143.9h0.8M308.4 140h0.8M312.1 154.2h0.8M308.6 158.3h0.8M320.8 125.5h0.8M299.6 137h0.8M312.3 120.9h0.8M311.9 135.9h0.8M317.5 155.5h0.8M318.7 154.9h0.8M321.6 149.6h0.8M314.5 149.4h0.8M306.4 117.8h0.8M304.6 134.2h0.8M314.5 149.9h0.8M312.2 154.8h0.8M310.4 153.7h0.8M303.2 113.4h0.8M311.9 146.9h0.8M310.2 128.6h0.8M306.2 150.9h0.8M314.9 145.9h0.8M308.3 148.2h0.8M311.7 156.4h0.8M310.4 126.2h0.8M309.2 140.6h0.8M308.9 145.6h0.8M308.7 139.3h0.8M303.1 134.3h0.8M312.5 138.1h0.8M304 140.6h0.8M306.2 133.4h0.8M309.9 149.8h0.8M310 149.6h0.8M304.3 155.6h0.8M308.5 126.8h0.8M306.2 141.6h0.8M304.2 119.2h0.8M303.1 117.1h0.8M307.3 145.2h0.8M304.7 118.7h0.8M310.5 124.3h0.8M307.1 125.1h0.8M312 155.3h0.8M312.9 153.7h0.8M306.2 117.5h0.8M307.6 139.7h0.8M316.7 137.9h0.8M318.2 148.1h0.8M310.1 149.3h0.8M310.8 141.4h0.8M319 157.5h0.8M307.5 129.3h0.8M314.7 129.3h0.8M309.6 128.1h0.8M309.1 150.7h0.8M307.4 135.5h0.8M316.1 153.4h0.8M317.5 140.9h0.8M312.4 136.1h0.8M314.1 161.8h0.8M313.8 136.4h0.8M308.1 131.3h0.8M309.6 125.3h0.8M310.6 133.3h0.8M312 137.5h0.8M307.3 121.3h0.8M316.6 143.3h0.8M309.6 127.2h0.8M308 125.2h0.8M316.3 125.3h0.8M315 132.4h0.8M310 121.6h0.8M311.2 135.1h0.8M311.7 140.3h0.8M308.2 109.7h0.8M313 125.8h0.8M312.1 152.9h0.8M313.8 140.7h0.8M305.3 124.5h0.8M308.7 119.5h0.8M306.2 124.7h0.8M309.9 152.1h0.8M311.2 141h0.8M320 128.3h0.8M303.3 114.6h0.8M305.4 146.5h0.8M312.4 116.2h0.8M310.9 147.4h0.8M313.6 128.1h0.8M318.9 110.8h0.8M309.4 118.6h0.8M306.3 123.2h0.8M308.1 131.2h0.8M317.6 116.6h0.8M305.4 153.7h0.8M308.8 154.6h0.8M308.1 134.9h0.8M318.2 158h0.8M306.6 131.7h0.8M313.8 147.3h0.8M307.6 136.2h0.8M311.9 133.4h0.8M315.9 137.1h0.8M313.4 141.8h0.8M307.4 129h0.8M315.7 147.9h0.8M315.9 134.8h0.8M311.6 151h0.8M308.3 134h0.8M305.6 129.2h0.8M316 144.2h0.8M302.2 113.9h0.8M313.6 125.4h0.8M312.2 122h0.8M309.5 128.9h0.8M318.1 122.3h0.8M313.4 130.5h0.8M309.9 140.8h0.8M309.3 111.4h0.8M309.8 139.3h0.8M304.3 137.9h0.8M312 117.8h0.8M317.5 131.8h0.8M312.2 150.3h0.8M313.4 132.6h0.8M311.3 157.2h0.8M310.4 125.3h0.8M313.4 121.9h0.8M310.2 133.1h0.8M315.5 128.5h0.8M313.1 139.4h0.8M312.2 144.7h0.8M311.8 132.8h0.8M305.7 149.5h0.8M303.6 113.6h0.8M316.4 141.7h0.8M316.4 112.1h0.8M310.9 121.7h0.8M309.4 149h0.8M312.9 157h0.8M312.7 138.3h0.8M308.9 128.1h0.8M312.2 146.8h0.8M308 117.1h0.8M310 125.1h0.8M310.7 147.7h0.8M308.9 144.8h0.8M314.3 132.8h0.8M314.8 157.7h0.8M318.7 169.7h0.8M318.2 154.6h0.8M312.6 152.7h0.8M316.4 135.8h0.8M307.3 157.3h0.8M300.4 125.6h0.8M318.6 126.2h0.8M311.1 159.8h0.8M308.1 113.4h0.8M306.6 124h0.8M307.5 125.1h0.8M313.7 118.8h0.8M321 145.6h0.8M314.2 142.3h0.8M313.9 125.6h0.8M312.6 141.6h0.8M314 151.2h0.8M312.3 135.8h0.8M313.8 160.3h0.8M309.9 136.9h0.8M313.5 130.5h0.8M314.2 129h0.8M314.8 132.5h0.8M310.9 124.8h0.8M322 131.1h0.8M314.3 132.5h0.8M312 154.3h0.8M313.8 142.1h0.8M318 131.9h0.8M306.5 139.2h0.8M314.3 157.2h0.8M308.3 136.2h0.8M317.6 162.7h0.8M312.2 130.7h0.8M311.2 126.3h0.8M309.8 119.3h0.8M309.4 147.9h0.8M304.4 126.9h0.8M309.9 138h0.8M311.1 153.1h0.8M313 148.2h0.8M310.7 121.2h0.8M306.9 121.3h0.8M321.1 139.1h0.8M312.1 138h0.8M311.1 130.1h0.8M308.3 132.6h0.8M311.2 165.8h0.8M310.3 129.8h0.8M309.8 134.2h0.8M312.5 143.5h0.8M311.5 125.8h0.8M310.5 136.3h0.8M322.6 123.9h0.8M307.4 163.6h0.8M311.5 128.9h0.8M316.2 149.5h0.8M316 152.5h0.8M310.9 160.6h0.8M309.1 120.7h0.8M311.5 133.1h0.8M321.1 119.2h0.8M305.6 146h0.8M310.3 155.5h0.8M308.1 127.5h0.8M308.8 146.4h0.8M315.2 143.1h0.8M313.4 145.4h0.8M300.9 133.6h0.8M310.2 130.4h0.8M320.8 127.8h0.8M314.7 153.8h0.8M309.4 125.8h0.8M315.6 129.2h0.8M307.2 147h0.8M309 157.3h0.8M314.6 159h0.8M306.9 122.6h0.8M310.3 122.6h0.8M305.6 133.8h0.8M312.1 160.6h0.8M311.7 151.7h0.8M315 143.7h0.8M313 153.9h0.8M311.5 131h0.8M308.8 122.7h0.8M309.7 131.5h0.8M307.8 125.2h0.8M305.5 124.6h0.8M306.8 122.9h0.8M316.9 147.3h0.8M310.1 129.9h0.8M308.7 139.1h0.8M310.3 149.8h0.8M315.4 152.9h0.8M310.1 144.2h0.8M311.6 141.6h0.8M313.7 144.3h0.8M308.5 143h0.8M312.8 156.7h0.8M315.7 123.3h0.8M306.6 117h0.8M315 121.9h0.8M311.1 133.3h0.8M308.7 147.8h0.8M314.8 119.8h0.8M313.1 177.3h0.8M306.1 158h0.8M310 151.3h0.8M309.9 127.6h0.8M301.5 141.7h0.8M304.9 136.5h0.8M304.4 119.9h0.8M309.6 123.7h0.8M307.7 151.7h0.8M308.2 137h0.8M314.1 144.2h0.8M314.1 133.6h0.8M313.6 117.7h0.8M310.2 133.3h0.8M310 154.2h0.8M309.1 131.7h0.8M308.3 152.3h0.8M310.7 127.3h0.8M310.1 150.2h0.8M304.3 129.7h0.8M306.3 131.1h0.8M313.1 131h0.8M308 121.6h0.8M312.3 137.3h0.8M314.1 113.5h0.8M307.9 129.4h0.8M306.7 134.9h0.8M313.9 144.5h0.8M308.6 144.2h0.8M310.1 106h0.8M314.8 125.9h0.8M312.3 128.3h0.8M314.7 101.5h0.8M316.3 137.6h0.8M311.1 143.7h0.8M312.4 144.5h0.8M309.4 152.3h0.8M304.8 142.8h0.8M308.4 131.7h0.8M293.7 103.4h0.8M311.9 140.6h0.8M306.6 132h0.8M307.9 141.8h0.8M315.5 126.5h0.8M310 137.2h0.8M310.3 130.6h0.8M311.9 139.3h0.8M312.9 132h0.8M319.9 132.1h0.8M310.8 125.4h0.8M315.6 135h0.8M313.2 129.3h0.8M308.3 143.4h0.8M313.7 143.1h0.8M309.9 140.9h0.8M310.7 130h0.8M311 161.7h0.8M309.8 114.9h0.8M316.5 142.2h0.8M301.5 114.8h0.8M309.9 126.7h0.8M306.3 131.5h0.8M307.5 154h0.8M315.5 131.9h0.8M308.8 141.2h0.8M308.7 125.8h0.8M309.9 112.6h0.8M308.2 135.7h0.8M307.7 118.5h0.8M317.4 130.8h0.8M310.5 136.8h0.8M314.5 150.4h0.8M304.9 111.9h0.8M315.7 153.4h0.8M307.5 132.8h0.8M310.2 145.9h0.8M316.5 124.2h0.8M312.3 124.8h0.8M309.3 142.1h0.8M315.7 132.8h0.8M316.5 148.3h0.8M303 122.4h0.8M309.4 141.1h0.8M314.1 141.5h0.8M303.5 138h0.8M317.6 142.5h0.8M314.1 143.8h0.8M308.9 155.7h0.8M321.4 130.7h0.8M310.2 137.3h0.8M310.2 152.3h0.8M312.2 128.6h0.8M307.7 131.1h0.8M307.8 139.8h0.8M312.8 129.6h0.8M321.1 136h0.8M310.1 132.2h0.8M311.1 116.2h0.8M310.8 145.8h0.8M313.2 133.1h0.8M301.3 141.9h0.8M315.2 146.3h0.8M306.3 123.7h0.8M309.8 116.8h0.8M310.1 142.9h0.8M317.3 153.6h0.8M315.8 160.3h0.8M310.9 115.8h0.8M315 133.6h0.8M308.5 147.2h0.8M304.9 121.2h0.8M313.8 131.4h0.8M307.6 124.6h0.8M303.2 120.3h0.8M313.8 122.1h0.8M313.5 112h0.8M317.4 122.3h0.8M313.7 142.7h0.8M310.6 127.8h0.8M315.3 146.3h0.8M310.8 126.9h0.8M298.6 117.5h0.8M315.3 146.8h0.8M312.8 142.9h0.8M308 119.6h0.8M321.6 126.4h0.8M316.1 141.9h0.8M309 149.3h0.8M313.1 141h0.8M306.9 115h0.8M303.8 102.8h0.8M305.8 137.4h0.8M315.1 154.2h0.8M317.3 135.8h0.8M313.6 142.1h0.8M306.9 130.6h0.8M312 140.6h0.8M310.9 149.5h0.8M307.2 118h0.8M310.1 127.4h0.8M304.7 130.7h0.8M310.5 133.3h0.8M317 125.2h0.8M312.3 141.8h0.8M312.5 157.9h0.8M311.6 155h0.8M310 132.9h0.8M308.8 137.6h0.8M311 149.4h0.8M302.9 128.3h0.8M309.4 151.4h0.8M313.5 146.7h0.8M312.1 147.5h0.8M310.6 117.3h0.8M310.2 123.4h0.8M312.6 149.1h0.8M309.8 128.9h0.8M309.3 150h0.8M306.6 157h0.8M315.5 124.3h0.8M308.8 133.9h0.8M316.1 152.5h0.8M311 167.9h0.8M313.6 138.5h0.8M312.3 149.8h0.8M308.7 132.5h0.8M307.7 137.5h0.8M312.7 132.4h0.8M307.9 144.1h0.8M304.8 141.9h0.8M306.2 113.8h0.8M315.3 146.2h0.8M307.2 144.2h0.8M312.8 139.6h0.8M310 126.6h0.8M310.5 124.7h0.8M316.8 136.1h0.8M300.4 123.7h0.8M315.7 125.6h0.8M311.3 135.9h0.8M310.8 138.9h0.8M311.4 143.1h0.8M309.8 124.8h0.8M307.4 122.2h0.8M314.1 124h0.8M317.8 146.9h0.8M310.8 127.7h0.8M306.8 145.7h0.8M311.8 127.6h0.8M307.8 150.4h0.8M305 133.4h0.8M313.8 163.1h0.8M318.4 153.4h0.8M310.8 128.2h0.8M310.6 141.9h0.8M311.2 116.1h0.8M309.5 145.6h0.8M308.5 181.6h0.8M311.9 153.6h0.8M305.6 153.1h0.8M311.1 140.2h0.8M318 136.1h0.8M312.4 132.9h0.8M313.8 107.2h0.8M311.6 164.1h0.8M309.8 144.5h0.8M308.3 162.5h0.8M312.4 133.6h0.8M310.3 143.3h0.8M312.6 135.8h0.8M306.5 138.8h0.8M308.7 124.6h0.8M308.3 140h0.8M317.8 129.4h0.8M307.5 122.2h0.8M316 149.4h0.8M310.4 147.3h0.8M307.6 158.1h0.8M313.1 160.3h0.8M310.1 149.2h0.8M317.2 151.4h0.8M309.8 149.6h0.8M309.7 147.6h0.8M304.1 148.3h0.8M316.7 145.2h0.8M319.1 130.6h0.8M312.4 158.6h0.8M310.1 148.3h0.8M314 122.5h0.8M313 111.3h0.8M312.4 148.5h0.8M307.5 129.4h0.8M313.8 114.4h0.8M304.4 125.1h0.8M313.1 130.9h0.8M311 134.4h0.8M320.8 144h0.8M314 139.1h0.8M313.1 144.8h0.8M305.4 116.7h0.8M308.5 149.5h0.8M317 130.7h0.8M304.4 139.7h0.8M311.4 137.6h0.8M310.8 125.4h0.8M308.8 103.1h0.8M317 143.1h0.8M305.5 121h0.8M322.3 139.7h0.8M311 149.3h0.8M309.1 126.2h0.8M322.5 167.8h0.8M309.8 136.8h0.8M304.9 130.4h0.8M309.1 146.4h0.8M319.3 139.6h0.8M308.1 141.1h0.8M307 128.9h0.8M312 130.9h0.8M307.3 149.9h0.8M303.2 111.8h0.8M306.7 120h0.8M310.5 130h0.8M318.9 169h0.8M311.7 140.5h0.8M308.6 128h0.8M304.1 139.5h0.8M307.8 125h0.8M308.5 137.1h0.8M317 142.2h0.8M310.5 134.2h0.8M316.7 160.1h0.8M310.5 132.3h0.8M309.7 125.8h0.8M311.3 141.1h0.8M324.2 127.5h0.8M311.2 118.7h0.8M313.3 134.1h0.8M318.8 150.9h0.8M318.6 139.6h0.8M306.5 111.4h0.8M312.2 138.1h0.8M316.2 129.6h0.8M318.9 167.2h0.8M313 128h0.8M319.7 129h0.8M317.7 142.2h0.8M308.2 129.2h0.8M308.8 127.8h0.8M320.4 137.2h0.8M305.3 118.8h0.8M315.9 146.9h0.8M313.1 141.2h0.8M310.5 154.9h0.8M315.6 119.4h0.8M315.5 161.3h0.8M307.3 143.1h0.8M314 146.9h0.8M312.6 149.6h0.8M304.1 125.3h0.8M309.4 110.5h0.8M308.6 120.8h0.8M316.5 126.9h0.8M313.2 124.5h0.8M308.4 138h0.8M307.7 133.3h0.8M308 129h0.8M317.2 124.5h0.8M302.2 112.5h0.8M318 125.1h0.8M305 123.9h0.8M310 142.5h0.8M308.1 129.2h0.8M315.6 147.2h0.8M304 128.3h0.8M309.9 140.9h0.8M311.1 141.8h0.8M303.6 138.3h0.8M310.1 146.1h0.8M310.9 145.9h0.8M312.2 159.2h0.8M311.3 133.2h0.8M309.2 120h0.8M308.8 164.6h0.8M319.6 151.8h0.8M303 150.8h0.8M309 140.8h0.8M297.4 115.1h0.8M323.6 136h0.8M304.3 114.2h0.8M319 156.8h0.8M314.6 151.2h0.8M308.4 114.6h0.8M315.1 146.5h0.8M317.4 145.2h0.8M312.8 146.9h0.8M309.5 156.1h0.8M313 150.7h0.8M308.6 129.9h0.8M318.5 129.2h0.8M318.4 151.6h0.8M303.6 127.9h0.8M309.4 145h0.8M304.2 140.7h0.8M308.6 143.1h0.8M309.7 134.2h0.8M308.1 149.3h0.8M315.1 142h0.8M312 123h0.8M308.2 139.8h0.8M308.4 122.6h0.8M314.4 142.2h0.8M307.9 125.7h0.8M312.5 107.5h0.8M315.5 138.6h0.8M311.6 129.4h0.8M317.8 125.2h0.8M305.7 132.3h0.8M311.7 138.6h0.8M312 135.1h0.8M307.6 143.9h0.8M314.6 148.3h0.8M307.4 152.6h0.8M307.5 135.9h0.8M307.9 143.4h0.8M309 135h0.8M314.8 129.9h0.8M301.9 125h0.8M310.3 110.4h0.8M307.5 118h0.8M311 121.3h0.8M313.2 146.8h0.8M310.2 142.7h0.8M314.1 150.3h0.8M306 127.2h0.8M308.9 133.7h0.8M302 137h0.8M314.7 131.3h0.8M315.8 123.1h0.8M305.1 141h0.8M303.2 138.2h0.8M311.5 147.4h0.8M312.5 151.1h0.8M318.6 135.9h0.8M294.8 120.9h0.8M318.8 108.8h0.8M316.5 141.9h0.8M308.6 155.2h0.8M313 133.6h0.8M312.6 165.5h0.8M308.3 144.6h0.8M309.8 140.4h0.8M305.3 117.4h0.8M307.9 148h0.8M314.9 107h0.8M310.9 114.4h0.8M318.2 119.6h0.8M310.1 140.3h0.8M307 126.4h0.8M311.6 175.2h0.8M301.9 118.7h0.8M309.3 147h0.8M317.5 166.5h0.8M317.9 154.6h0.8M312 113.2h0.8M313.5 145h0.8M311.2 126.7h0.8M313.7 108.8h0.8M319.2 163.8h0.8M308 124.9h0.8M313.8 138.9h0.8M309.2 126.9h0.8M319.7 111.6h0.8M313.5 129.5h0.8M305.2 118.4h0.8M310 123.8h0.8M310.7 131.5h0.8M309.4 127.6h0.8M315.4 142.7h0.8M308.3 132.2h0.8M315.2 157.6h0.8M311.2 150.6h0.8M312.7 144.2h0.8M311.5 132.9h0.8M303.4 116.3h0.8M309.5 149.9h0.8M305.9 150.1h0.8M313.3 150.1h0.8M315.4 131.3h0.8M304.3 137.1h0.8M313.4 125.6h0.8M315 169.1h0.8M307.5 115.8h0.8M308.8 130.5h0.8M308.5 160.8h0.8M304 131.3h0.8M311.6 119.8h0.8M310.4 163.3h0.8M310.3 124.9h0.8M312.3 99.7h0.8M311.7 133.9h0.8M318.1 156h0.8M307.9 109.1h0.8M324.1 138.1h0.8M311.2 120.5h0.8M310.8 120.2h0.8M316.9 124.3h0.8M315.9 137.3h0.8M310.7 137.1h0.8M311.3 156.2h0.8M308.5 136.8h0.8M315.4 129.8h0.8M313.1 124.5h0.8M305.1 121.5h0.8M315.7 131.5h0.8M310.5 139.3h0.8M309.7 145.5h0.8M320.1 120.1h0.8M311.8 150.1h0.8M314 158.3h0.8M307.4 145h0.8M312.2 130h0.8M308.8 134.7h0.8M305.2 124.7h0.8M312.2 133.6h0.8M315.8 137.5h0.8M317.7 116.9h0.8M318.2 138.1h0.8M311 148.4h0.8M312.1 144.2h0.8M310.6 158.3h0.8M316.4 142.2h0.8M313.4 150.8h0.8M306.9 124.3h0.8M307.7 125.7h0.8M309.6 151.3h0.8M311.1 162.9h0.8M303.6 114.9h0.8M314.6 149.7h0.8M307.3 106.2h0.8M311.1 134.7h0.8M312.4 144.3h0.8M315.5 156.2h0.8M313.5 126.7h0.8M310.1 132.9h0.8M308.3 133.2h0.8M316.3 153.7h0.8M313.6 126.9h0.8M308.6 138.6h0.8M318.2 131.8h0.8M315.6 110.6h0.8M319.3 124.2h0.8M305.8 146.7h0.8M318.4 130.3h0.8M311.2 142h0.8M308.6 153.5h0.8M313.7 136.3h0.8M310.8 121h0.8M305.3 143.7h0.8M317.3 142.3h0.8M309.3 129.1h0.8M321.4 126.3h0.8M314.5 152.2h0.8M314.6 125.9h0.8M305.3 122.5h0.8M310.9 123.8h0.8M320.3 135.5h0.8M316.3 133h0.8M318.1 112.6h0.8M310.9 149.3h0.8M319.8 127.4h0.8M310.1 152.8h0.8M318 162.1h0.8M317.8 132.2h0.8M317.4 144.7h0.8M301.6 141.2h0.8M320.6 111h0.8M313.6 109.8h0.8M301.9 121.5h0.8M324.3 149.2h0.8M309.9 123.4h0.8M308.1 117.7h0.8M316 118h0.8M308 140.4h0.8M308.9 146.1h0.8M315.5 127.9h0.8M311.9 142.7h0.8M312.3 119.6h0.8M317.5 124.6h0.8M319.1 175.9h0.8M316.4 130h0.8M304.8 113.8h0.8M303.3 127.4h0.8M310.7 122.2h0.8M314.1 152.5h0.8M313.1 145.3h0.8M302 135.2h0.8M300.6 124.1h0.8M310.3 154.1h0.8M307.4 135.4h0.8M316.7 133.1h0.8M300.2 115.2h0.8M309.1 170.6h0.8M308.2 139.2h0.8M306.6 138.5h0.8M307.5 116.6h0.8M302.5 134.2h0.8M310 153h0.8M312.3 134.1h0.8M312.7 130.9h0.8M311.9 162.9h0.8M309.2 111.9h0.8M312.4 144.9h0.8M313.8 147.7h0.8M308.4 142.1h0.8M323.3 159.1h0.8M304.3 125.4h0.8M314.4 130.4h0.8M315 145.1h0.8M312 133.9h0.8M311.5 155.4h0.8M305.4 139.7h0.8M310.2 160.2h0.8M310.1 132.1h0.8M306.5 132.8h0.8M319 137.5h0.8M316.7 123.6h0.8M303.9 126.9h0.8M304.5 119.8h0.8M308.4 143.5h0.8M316.4 162.5h0.8M313.2 147.2h0.8M307.2 129.3h0.8M301.8 113.6h0.8M319.4 129h0.8M311.7 142h0.8M319.5 130.8h0.8M315.7 128h0.8M308.3 166.7h0.8M309.9 114.9h0.8M312.1 160.1h0.8M313.2 116.6h0.8M310 142.5h0.8M313 152.8h0.8M310.5 118.5h0.8M312.4 140.9h0.8M302.4 134.6h0.8M306.2 129.1h0.8M303.7 114.8h0.8M314.1 136.7h0.8M310.7 153.6h0.8M309.8 135.8h0.8M313 156.6h0.8M306 142.5h0.8M320.1 137.9h0.8M301.7 133.7h0.8M305.3 133.9h0.8M310.5 124.3h0.8M307.7 112.8h0.8M322.6 148.8h0.8M305.8 130.7h0.8M310.2 130.4h0.8M316.2 133.8h0.8M313.7 131.9h0.8M311.1 133.1h0.8M318 142.7h0.8M308 118.8h0.8M304 140.3h0.8M313.1 155.1h0.8M306.8 155.2h0.8M318 154.6h0.8M311.6 145.6h0.8M310.4 139.7h0.8M313.8 133.4h0.8M321.2 137.8h0.8M314.8 132.5h0.8M309 138.2h0.8M310.9 143.8h0.8M311.3 165.5h0.8M311.3 110h0.8M312 109.7h0.8M311.9 113.1h0.8M308.7 135h0.8M312.2 119.6h0.8M309.7 135.2h0.8M311.5 112.6h0.8M313.7 138.5h0.8M317.4 142h0.8M314.3 108.5h0.8M310.3 119h0.8M313.4 116.8h0.8M315 118.6h0.8M311.4 126.7h0.8M316.8 120.3h0.8M309 149.9h0.8M314.3 145.5h0.8M308.7 136.7h0.8M315.4 151.6h0.8M315.5 151.8h0.8M319.7 113.5h0.8M300.7 115.4h0.8M308.5 119.4h0.8M309.1 112.1h0.8M304.4 136.8h0.8M307.8 135.9h0.8M312.4 138.2h0.8M316.1 127.1h0.8M299.4 120.2h0.8M315.2 143.1h0.8M320.4 132.6h0.8M315.6 146.5h0.8M313.2 124.1h0.8M317.3 133.4h0.8M312.4 160.2h0.8M307.9 134.2h0.8M304.9 139.2h0.8M310.6 135.2h0.8M306.6 122.2h0.8M304.6 120.4h0.8M316.3 119.3h0.8M305.9 130.3h0.8M318.3 106h0.8M308.5 146.5h0.8M312.6 134h0.8M307.7 164.1h0.8M302.3 127.1h0.8M324 132.5h0.8M309.8 109.7h0.8M315 163.6h0.8M319.1 129.1h0.8M305.7 137.4h0.8M311 117.1h0.8M306 154.8h0.8M308.9 112.1h0.8M305.5 142.6h0.8M313 138.3h0.8M307.5 147.8h0.8M318.9 162.7h0.8M312.3 148.2h0.8M306.8 121h0.8M309 132.5h0.8M315.3 142.5h0.8M307.8 153.6h0.8M320.2 145.1h0.8M308.4 151.2h0.8M303.5 145.4h0.8M303.8 127.4h0.8M316.7 139.9h0.8M316.2 117.6h0.8M311.9 140.5h0.8M310.5 134.1h0.8M308 125.2h0.8M311.5 177.4h0.8M308.6 158.1h0.8M314.3 147.5h0.8M309.6 143.4h0.8M305.9 129.2h0.8M313.9 138.5h0.8M309.8 158h0.8M313.2 146.5h0.8M316.6 136.9h0.8M315.3 134.1h0.8M304.9 119.2h0.8M310.7 143h0.8M309 107.5h0.8M308.2 131.2h0.8M314.2 117.3h0.8M310.6 148.5h0.8M309.1 141.5h0.8M312.4 139.7h0.8M318.4 124.1h0.8M306.8 140.8h0.8M311.3 135.9h0.8M315.1 129h0.8M306.4 130.5h0.8M305.5 122.2h0.8M308 117.6h0.8M313.9 126.1h0.8M307.6 116.8h0.8M308.4 128.4h0.8M317.1 131.1h0.8M310.5 130.2h0.8M312.1 108h0.8M305.9 145h0.8M312.7 152.8h0.8M309.9 127.6h0.8M308.3 147.8h0.8M309 137.7h0.8M313.5 117.2h0.8M311.1 153.7h0.8M312.7 120.7h0.8M312.7 153.4h0.8M320 147.8h0.8M318.4 119.7h0.8M307.5 132.7h0.8M306.2 131.2h0.8M314.3 146.9h0.8M321.3 129.9h0.8M299.3 142.9h0.8M312.5 133.6h0.8M317.7 109.6h0.8M317.8 163.9h0.8M314.3 139.5h0.8M300.5 117h0.8M311.4 135.1h0.8M311.6 134.6h0.8M315.1 133.8h0.8M321.5 151.3h0.8M305 135.3h0.8M313.1 142.8h0.8M301.8 119.9h0.8M307.5 119.7h0.8M304.7 135.6h0.8M309.3 145.9h0.8M315.4 140.8h0.8M307.5 127.4h0.8M315.4 143.7h0.8M313.1 172.5h0.8M309.4 142.7h0.8M312.3 130.6h0.8M312.9 142.4h0.8M311.6 138.9h0.8M305.5 120.3h0.8M308.8 142.9h0.8M302.7 127.5h0.8M305.3 118.6h0.8M310.6 153.9h0.8M312.2 132.7h0.8M306.6 130.4h0.8M314.4 147.9h0.8M312.2 138.6h0.8M310.2 151.5h0.8M310.5 140.7h0.8M312.1 112h0.8M315.4 120.1h0.8M305.1 129h0.8M318.5 138.2h0.8M305.3 137.4h0.8M305.7 138.1h0.8M314.1 121.7h0.8M306.9 135.3h0.8M304.8 159h0.8M306.3 120h0.8M309.9 126.8h0.8M311.4 145h0.8M315.4 144.6h0.8M310.8 138.8h0.8M313.1 154.9h0.8M313.8 154.3h0.8M306 118.9h0.8M302 141h0.8M313.9 127.7h0.8M316.2 133h0.8M317.4 143.6h0.8M310.8 162.4h0.8M306.4 150.2h0.8M310.8 144.1h0.8M315.7 135.9h0.8M323.8 141.5h0.8M307.7 144.2h0.8M316.8 150.6h0.8M300.7 136h0.8M316.7 113.3h0.8M310.1 129.7h0.8M311 148.6h0.8M305.1 125.6h0.8M310.9 128.7h0.8M305.1 111.7h0.8M311.2 127.5h0.8M308.4 154.8h0.8M314.4 161.1h0.8M301.2 140.2h0.8M308.2 135.1h0.8M318.2 148.6h0.8M308.7 148.5h0.8M309.8 135.2h0.8M312.3 117h0.8M312.3 120.3h0.8M306.9 152.5h0.8M314 143.5h0.8M308.7 146.6h0.8M307.5 125.8h0.8M313.4 112.1h0.8M306.1 147.1h0.8M309.7 144.7h0.8M319.9 137.6h0.8M303.9 113.3h0.8M312.8 119.9h0.8M309.6 146.5h0.8M312.1 126h0.8M306.1 146h0.8M305.1 143.4h0.8M305.8 121.8h0.8M320.4 131.3h0.8M314 139.5h0.8M317.2 141.8h0.8M312.3 158.1h0.8M313.4 143.6h0.8M308.9 133h0.8M311.4 154.8h0.8M319.2 141.1h0.8M308.3 155.8h0.8M309 149.2h0.8M306.4 118.7h0.8M306.3 134.3h0.8M306.7 138h0.8M310.6 153h0.8M309.6 123h0.8M303.5 133.8h0.8M311.6 132.1h0.8M308.2 122.2h0.8M306.7 141h0.8M307.7 155h0.8M312.2 132.3h0.8M303.1 127.9h0.8M309.4 115.1h0.8M305.5 131.4h0.8M313.6 143.5h0.8M314.1 162.9h0.8M311.7 148.2h0.8M314.4 145.3h0.8M303.5 155.5h0.8M304.7 124.8h0.8M307.4 123.6h0.8M311.2 124.7h0.8M307.3 142.8h0.8M311.5 134h0.8M306.3 141.4h0.8M306.6 108.6h0.8M308.6 133.3h0.8M306.2 146.7h0.8M306.3 136.8h0.8M308.6 140.3h0.8M309.5 126.2h0.8M313.8 155h0.8M320 155.2h0.8M312.7 134.4h0.8M314.1 149.3h0.8M318.7 166.8h0.8M307.4 154.7h0.8M307.2 135.3h0.8M310.6 149.2h0.8M312 154.7h0.8M306.1 131.7h0.8M318 142.2h0.8M311.9 118.6h0.8M314.2 127.5h0.8M312.7 156.8h0.8M309.7 159.3h0.8M318.2 134.9h0.8M305.9 156.8h0.8M313.2 129.3h0.8M316.6 130.5h0.8M317.9 120h0.8M305.6 140.8h0.8M309.5 142.8h0.8M311.1 131.9h0.8M304.2 147h0.8M319.4 133.3h0.8M311.6 101.7h0.8M319.7 124.5h0.8M315.8 138.2h0.8M310.1 159h0.8M306.8 150.5h0.8M308 133.4h0.8M316.2 147.1h0.8M317.8 132.5h0.8M306.9 161.9h0.8M311.5 164h0.8M307.6 130.7h0.8M309.4 104.3h0.8M320.9 136.2h0.8M310.5 145h0.8M310.2 145.4h0.8M309.8 127.5h0.8M303 130.9h0.8M309.9 170.5h0.8M310.7 138.4h0.8M311.2 117.3h0.8M307.2 153.2h0.8M300.6 133.8h0.8M319.5 136.6h0.8M307.9 136.6h0.8M312.7 116.4h0.8M315.3 127.9h0.8M312.5 137.4h0.8M310.4 125.4h0.8M308.5 129.8h0.8M304.4 117.7h0.8M308.8 124.4h0.8M307.5 125.6h0.8M312.3 147.2h0.8M314.4 159.9h0.8M302 139.2h0.8M311.2 117.8h0.8M313.5 133.5h0.8M309.1 111.8h0.8M312.1 121.8h0.8M306.5 140.2h0.8M312.4 145.5h0.8M303.9 111.8h0.8M302.5 147.5h0.8M316.1 163.9h0.8M310.2 121.3h0.8M311.6 129.5h0.8M303.4 127.3h0.8M304.8 140.9h0.8M312.9 110.8h0.8M311 129.2h0.8M313.5 119.6h0.8M308 149.1h0.8M312.4 136.2h0.8M309.6 138.3h0.8M303.1 116.2h0.8M313.3 134.3h0.8M307.7 134.1h0.8M316 114.8h0.8M312.5 156.1h0.8M316 159h0.8M306 153.2h0.8M317.3 149.6h0.8M313.4 117.8h0.8M311.3 143.3h0.8M315.8 133.6h0.8M310.3 123.7h0.8M314.4 123.8h0.8M314.1 136.8h0.8M310 113.7h0.8M312.5 133h0.8M298.4 136.5h0.8M306.6 146.2h0.8M314.2 158.9h0.8M307.2 144.1h0.8M304.5 106.6h0.8M305.4 136.9h0.8M321.2 142.9h0.8M312.2 132.8h0.8M315 107.8h0.8M299.4 128.3h0.8M304.5 153.9h0.8M304.4 108.5h0.8M318.4 134.3h0.8M307 126.1h0.8M312.5 118.8h0.8M310.6 137.4h0.8M310.5 139.8h0.8M311.3 138.6h0.8M308.9 131.2h0.8M307.6 119.9h0.8M311.2 122h0.8M318.8 126.4h0.8M309.4 119.6h0.8M301.3 136.1h0.8M308.9 121.3h0.8M317.6 135.5h0.8M315.1 142.6h0.8M310 132.8h0.8M313.7 111h0.8M314.8 132.6h0.8M312.6 131.4h0.8M312 136.5h0.8M322.9 146.8h0.8M311.7 140h0.8M315.7 133.7h0.8M308.4 136h0.8M306.8 154.9h0.8M308 154.5h0.8M312.5 136.6h0.8M305.5 120.3h0.8M314.1 118.7h0.8M311.8 129.1h0.8M307.6 134.4h0.8M304.7 108h0.8M310.1 125.2h0.8M312.8 141h0.8M311.6 147.9h0.8M308.8 129.3h0.8M318.2 145.3h0.8M309.9 124.3h0.8M308.5 136.3h0.8M307.3 118h0.8M310.3 139.9h0.8M305.3 116h0.8M300.1 108.4h0.8M309.7 145.3h0.8M312.7 139.4h0.8M311 127.2h0.8M307.9 126.7h0.8M309.4 147.1h0.8M314.4 111.5h0.8M305 116h0.8M314.3 124.4h0.8M310.6 131.4h0.8M309.3 155.9h0.8M318 135.6h0.8M311.4 140.5h0.8M305.7 135.4h0.8M306.7 133.3h0.8M317.8 117.1h0.8M320.4 129.4h0.8M314.7 131.3h0.8M309.4 127.1h0.8M318.9 155.7h0.8M308.2 112h0.8M317.3 158.3h0.8M301.7 150.2h0.8M308.4 132h0.8M312.9 152.8h0.8M311 125.8h0.8M320.8 154.4h0.8M310.1 125.9h0.8M304.2 128.7h0.8M312 138.1h0.8M309.7 137h0.8M316.4 145.3h0.8M305.5 143.6h0.8M300.9 127.4h0.8M309.7 130.1h0.8M314.7 117.4h0.8M314.3 145.4h0.8M310.1 130.2h0.8M304.3 121.9h0.8M310.8 145.8h0.8M307.9 142.4h0.8M305.2 112.1h0.8M313.3 133.7h0.8M309.6 123.1h0.8M314.8 158.7h0.8M309 131.9h0.8M307.2 112.6h0.8M315.4 108h0.8M313.1 153.2h0.8M316.4 154.7h0.8M309.6 109.6h0.8M316.2 128h0.8M316.8 136.3h0.8M311.4 119.7h0.8M309.3 104.1h0.8M320.2 132.8h0.8M311.4 151.7h0.8M316.7 150.1h0.8M312.9 131.2h0.8M302.5 127.8h0.8M303.5 132.3h0.8M309.2 155.6h0.8M307.3 122.6h0.8M316.6 127.5h0.8M316.6 109.9h0.8M308 115.2h0.8M310 132.7h0.8M318.9 118.9h0.8M308.6 117.4h0.8M314.2 159.1h0.8M301.4 137h0.8M312.2 130.2h0.8M312 124.4h0.8M301.9 120.5h0.8M308.7 119.3h0.8M312.6 135.5h0.8M314.9 129.2h0.8M305.4 164.6h0.8M310.2 131.2h0.8M314.5 126.7h0.8M312.2 137.1h0.8M309.4 143.6h0.8M307.5 131.9h0.8M308.6 131.8h0.8M314.8 154.2h0.8M312.9 134.4h0.8M314.2 123.6h0.8M307 141h0.8M313.7 119.5h0.8M320.3 144.7h0.8M312.9 126.5h0.8M304 133.9h0.8M308.2 126.3h0.8M314.1 135.5h0.8M319 116.4h0.8M314.3 145.5h0.8M304.9 132.1h0.8M317.5 118.6h0.8M312.8 178.9h0.8M311.3 135.6h0.8M318.9 120.5h0.8M311 157.9h0.8M316.3 150.5h0.8M310.7 113.7h0.8M308.8 142.9h0.8M313.3 109.6h0.8M313.9 141.9h0.8M313.9 142.8h0.8M304.4 128.2h0.8M305.2 138.5h0.8M317.5 113.8h0.8M318.7 111.4h0.8M312.4 154.9h0.8M314.7 100.6h0.8M304.2 130.3h0.8M307.6 119.8h0.8M314.6 142.1h0.8M309.4 145h0.8M309.3 150.5h0.8M315.1 157.8h0.8M312.2 128.8h0.8M312 145.3h0.8M311.5 146.4h0.8M315.8 133.5h0.8M315.9 119.5h0.8M318.3 120.2h0.8M312.1 145.5h0.8M305.9 131.7h0.8M308.1 138.7h0.8M312.4 142.9h0.8M307.2 149.1h0.8M314.9 144.5h0.8M311.6 126.8h0.8M306.9 120.2h0.8M321 126.3h0.8M313 164.7h0.8M310.9 116.1h0.8M309.9 128.5h0.8M309.9 108h0.8M309.4 119.2h0.8M318.8 159.9h0.8M314.3 149.6h0.8M318.7 145.6h0.8M300.1 131h0.8M316 138.5h0.8M308.1 152.3h0.8M306.7 144.2h0.8M314.3 144.4h0.8M316.2 142h0.8M305.4 120h0.8M315.2 135.1h0.8M322.3 144.8h0.8M305.6 118.3h0.8M311.1 147.5h0.8M311.2 143.6h0.8M309.7 158h0.8M311.7 122.7h0.8M311.9 108.9h0.8M321.9 141.5h0.8M312.5 120.1h0.8M312.7 156.1h0.8M318.4 126.1h0.8M308.8 149.2h0.8M315.4 145.2h0.8M311.4 160.5h0.8M309.6 127.5h0.8M307.5 153.2h0.8M310.6 127.1h0.8M306.5 123.3h0.8M305.2 126.6h0.8M309.5 109.8h0.8M311.3 119.8h0.8M306.1 158.2h0.8M318.5 114.6h0.8M309.3 117.9h0.8M314.9 123.8h0.8M312.4 156h0.8M311.1 122.5h0.8M312 123.6h0.8M309 137.9h0.8M300.3 148h0.8M311.5 150h0.8M301.8 123.2h0.8M314.2 138.9h0.8M317.2 119.6h0.8M310.4 137h0.8M301.9 134.1h0.8M303.9 121.7h0.8M309 133.9h0.8M313.6 124.9h0.8M314.5 149.8h0.8M305.9 149.4h0.8M306.3 134.6h0.8M313.1 124.7h0.8M312.6 112.8h0.8M309.8 132.5h0.8M307.8 148h0.8M309.2 136.8h0.8M308.6 141h0.8M305.4 142.5h0.8M310.8 134.3h0.8M309.4 132.6h0.8M307.3 125.8h0.8M306.8 159h0.8M312.3 128.6h0.8M304.4 143.1h0.8M314.6 152.6h0.8M311.9 162.4h0.8M310.3 144.2h0.8M312.7 147.7h0.8M308.5 126.5h0.8M307.6 125.6h0.8M309.6 137.6h0.8M307.1 140.3h0.8M313.8 141.9h0.8M317.9 150.3h0.8M310.1 144.2h0.8M311.3 146.1h0.8M313.2 159.9h0.8M313 153.4h0.8M314.2 143.4h0.8M303.9 142.7h0.8M298.8 123.8h0.8M304.5 116.5h0.8M309.3 156.3h0.8M309.3 162.6h0.8M304.6 124.7h0.8M315.6 99.8h0.8M317.3 119.1h0.8M311.2 142h0.8M307.6 133.1h0.8M313.2 113.4h0.8M307 137.3h0.8M315 148h0.8M312.2 141.5h0.8M305.4 131.4h0.8M316.2 132.7h0.8M306 151.6h0.8M312.8 129.2h0.8M299.4 133h0.8M318.7 125.5h0.8M310 161.5h0.8M300.8 141.2h0.8M314.6 108.4h0.8M314.4 164.9h0.8M315.1 137.2h0.8M313.9 130.1h0.8M313.6 148.7h0.8M304.7 126.4h0.8M313.5 114.1h0.8M310.5 114.1h0.8M312.5 137.4h0.8M304.5 154.4h0.8M307.7 127.1h0.8M304.3 138.3h0.8M313.7 115.1h0.8M317 133.6h0.8M314.3 135.9h0.8M311.9 122.8h0.8M309.9 119.8h0.8M317.6 144.4h0.8M318.5 129.8h0.8M320 121.4h0.8M312.1 134.3h0.8M309.8 139.7h0.8M311.3 120.2h0.8M308.6 119.3h0.8M310.2 145.4h0.8M313.4 164.2h0.8M307 139.8h0.8M312 130.3h0.8M310.2 127.8h0.8M319.8 153.5h0.8M306.2 128.5h0.8M316.8 157.7h0.8M308.4 99.9h0.8M313.3 129h0.8M311.1 117.5h0.8M318.2 129.5h0.8M314.8 137.7h0.8M310.8 136.1h0.8M301.5 129.5h0.8M308.6 148.2h0.8M315.8 127.9h0.8M313.8 112.9h0.8M314 135.2h0.8M317.1 156h0.8M320 129.1h0.8M304.7 118.4h0.8M315.4 115.4h0.8M303.5 132.5h0.8M301.7 124.8h0.8M309.3 117.5h0.8M303.3 145.4h0.8M314 141.7h0.8M315.3 124.5h0.8M315.4 146.9h0.8M309.6 125h0.8M316.1 119h0.8M307.7 145.3h0.8M308.8 123.3h0.8M311.8 111.4h0.8M307.5 127.1h0.8M314.7 137.9h0.8M313.8 125.7h0.8M311.8 129.9h0.8M308 125.9h0.8M306.6 133.6h0.8M314.7 143.6h0.8M307.6 160.1h0.8M307.9 99.7h0.8M300.8 112.6h0.8M325.1 148h0.8M318.3 122.5h0.8M307.8 139.4h0.8M306.9 135.4h0.8M318.1 129.5h0.8M312 156.2h0.8M310.7 138.8h0.8M305.2 135.2h0.8M312.3 149.1h0.8M316.1 117.4h0.8M314.1 135.9h0.8M305.1 134.4h0.8M318.3 118h0.8M314.8 129.9h0.8M311.6 110.1h0.8M322.1 126.1h0.8M312.1 152.7h0.8M307 126.9h0.8M313.4 134.5h0.8M312.3 135.4h0.8M305.3 140.1h0.8M310.6 111.8h0.8M309.4 123.6h0.8M307.4 128.9h0.8M312.4 127h0.8M314.8 134.7h0.8M309.8 124.6h0.8M318 144.7h0.8M308.3 119.5h0.8M316.4 150.7h0.8M309.3 143.6h0.8M322.6 139h0.8M314.3 122.6h0.8M311.5 142.6h0.8M320.1 145.8h0.8M298 136.2h0.8M311.1 129.1h0.8M307.4 152.1h0.8M309.4 129.1h0.8M313.3 131.3h0.8M310.2 136.7h0.8M315.9 143.7h0.8M307.9 143.4h0.8M308.9 145.6h0.8M301.7 131.2h0.8M310.9 127.1h0.8M308.4 124.9h0.8M305.4 124.8h0.8M311.9 143.4h0.8M314.2 116.8h0.8M313.4 141.2h0.8M311 100.6h0.8M307.1 120.2h0.8M304.7 148.7h0.8M317.5 125.5h0.8M307.6 130.3h0.8M317.8 138.4h0.8M310.7 128.4h0.8M315.6 155h0.8M300.3 129.5h0.8M320.9 142.3h0.8M315.8 152.4h0.8M309.4 139.4h0.8M307.3 136.1h0.8M314.9 146.2h0.8M314.5 143.4h0.8M319.4 159.1h0.8M305.2 131.8h0.8M301.3 126.4h0.8M310 167.4h0.8M315.8 146.8h0.8M302 115.1h0.8M306.2 146.7h0.8M316.8 144.5h0.8M318.1 146.1h0.8M318.8 148.2h0.8M308.7 119.7h0.8M316.9 128.5h0.8M312.4 155.7h0.8M307.4 145.3h0.8M305.3 126.6h0.8M316.3 127.4h0.8M315.1 150.7h0.8M309.5 119.1h0.8M315.4 132.1h0.8M320.1 159.6h0.8M304.6 120.9h0.8M310.5 150.2h0.8M314.3 140.1h0.8M309.5 136.9h0.8M307.7 118.8h0.8M301.8 132.9h0.8M319.8 138.2h0.8M315.4 141.9h0.8M315.4 127.8h0.8M311.5 153h0.8M308.1 152.4h0.8M306.2 129.5h0.8M307.4 155.2h0.8M304.9 147.6h0.8M308.1 114.2h0.8M306.4 142.3h0.8M315.5 162.1h0.8M309.9 153.8h0.8M307.9 162.2h0.8M316.4 142.5h0.8M309.9 108.2h0.8M310.6 141.9h0.8M314.3 130.7h0.8M307.4 124.9h0.8M320.9 141.1h0.8M315 129.3h0.8M314.9 125.3h0.8M315.4 152.5h0.8M317 161.2h0.8M312.9 134.7h0.8M316.8 165.4h0.8M314 136.5h0.8M315 134.7h0.8M313.2 129.1h0.8M308.8 119.7h0.8M314.1 149.5h0.8M311.7 155h0.8M305.5 103.7h0.8M318 164.9h0.8M310.3 133h0.8M316.3 144.5h0.8M309.7 123.1h0.8M306.7 143h0.8M311.8 144.4h0.8M305.6 127.9h0.8M317.2 150.3h0.8M304.6 122.6h0.8M305.6 143.7h0.8M310.2 133.4h0.8M311 136.3h0.8M314.7 149.2h0.8M308.8 147h0.8M310.4 128.7h0.8M311.6 142.9h0.8M314 129.6h0.8M310.7 135.8h0.8M304.8 129.2h0.8M313.2 139.1h0.8M308 149.3h0.8M308.3 139.1h0.8M311.2 147.9h0.8M303.9 144h0.8M312.4 142.8h0.8M305.3 130.3h0.8M312.7 150.9h0.8M321.9 131.1h0.8M306.6 141.2h0.8M301.7 121.3h0.8M317.1 153.9h0.8M302.7 123.7h0.8M308.9 107.6h0.8M315.8 120.6h0.8M310.7 165.3h0.8M318.3 139.6h0.8M318.5 139.4h0.8M314.4 139.2h0.8M307.7 120.3h0.8M316.1 125.2h0.8M307.3 139.7h0.8M311.5 127.8h0.8M306.4 121.4h0.8M309.7 116h0.8M308.6 140h0.8M310.5 122h0.8M306.6 141.4h0.8M310.5 134.4h0.8M308.6 126.4h0.8M304.2 136h0.8M320.6 149.1h0.8M309.6 142.7h0.8M321.8 150.3h0.8M308 137.8h0.8M308.5 144h0.8M302.9 124.9h0.8M310.2 128.7h0.8M314.1 141.5h0.8M311.8 139.9h0.8M316.3 132.1h0.8M310.4 150.8h0.8M316.7 141.2h0.8M310.6 149.9h0.8M316.6 133.7h0.8M312.5 108.9h0.8M305.7 136.8h0.8M312.5 156.1h0.8M319.6 128.5h0.8M312.8 140.8h0.8M302.2 144.9h0.8M316.2 137.1h0.8M309.2 127.1h0.8M307.1 127.3h0.8M309.2 113.8h0.8M311 139.1h0.8M312.9 116.9h0.8M312.3 131.9h0.8M313 133.3h0.8M305.9 114.3h0.8M310.2 131h0.8M300.8 127.1h0.8M312.8 110h0.8M310.9 151.5h0.8M306.9 124.1h0.8M312.3 137h0.8M305.9 152.8h0.8M315.6 151.8h0.8M316.7 150.9h0.8M308.2 130.5h0.8M314.9 129.7h0.8M314.7 146.3h0.8M303.7 145h0.8M315.7 170.2h0.8M307.6 147.4h0.8M308.9 116.2h0.8M299.4 142.5h0.8M308.3 130.1h0.8M313.8 132.6h0.8M311.7 139.4h0.8M301.8 113.8h0.8M310 138.3h0.8M313.4 143.8h0.8M316.5 124.9h0.8M310.7 111.9h0.8M314.8 118.3h0.8M311.3 124.6h0.8M306.5 142h0.8M305.5 148.7h0.8M316.5 136h0.8M322.7 146h0.8M303.2 130.2h0.8M315.6 137h0.8M313.6 156.1h0.8M306.4 132.5h0.8M312 127h0.8M310 130.9h0.8M315.4 149.7h0.8M319.7 144.2h0.8M316.3 136.5h0.8M312.8 138.4h0.8M306.3 140.7h0.8M319.1 141.8h0.8M316.5 126.7h0.8M308.9 135.3h0.8M307.1 125.2h0.8M314.8 148.7h0.8M311.2 133.8h0.8M309.9 119.1h0.8M308.3 115.1h0.8M309 140.6h0.8M305.9 159.9h0.8M314.4 137.4h0.8M309 126.5h0.8M312.4 148.3h0.8M301.3 129.9h0.8M318.9 123.3h0.8M308.6 146.8h0.8M311.1 112.6h0.8M300.6 127.2h0.8M301 161h0.8M306.7 129.5h0.8M311.8 140.6h0.8M317.5 168.4h0.8M314.2 142.1h0.8M313 114.5h0.8M316.1 144h0.8M309.4 131.2h0.8M302.8 124.8h0.8M306 144.2h0.8M305.5 155.4h0.8M314.7 157.4h0.8M298.9 141.6h0.8M308.5 157.8h0.8M307.9 148.8h0.8M308.6 139.3h0.8M319.7 145.8h0.8M309.3 129.4h0.8M314.2 149.4h0.8M314.9 126.7h0.8M311.8 162.3h0.8M306.9 126.7h0.8M310.6 130.1h0.8M312.4 112.2h0.8M314 138.1h0.8M308.9 117.5h0.8M306.6 123.5h0.8M315.6 139.6h0.8M308.5 126.2h0.8M308.1 114.6h0.8M312.8 126.3h0.8M311 152h0.8M312.7 143.2h0.8M310.8 161.8h0.8M307.7 119.4h0.8M304.5 127h0.8M315.8 127.5h0.8M309 112.9h0.8M309.3 130.7h0.8M313.3 139.5h0.8M310 129.8h0.8M308.3 134.1h0.8M307.6 124.9h0.8M305.5 158.3h0.8M307.6 146.5h0.8M314.2 104.5h0.8M306.8 142.3h0.8M310 134.6h0.8M314.1 140.6h0.8M309.1 135.7h0.8M307.6 121.7h0.8M303.9 146.8h0.8M306.6 141.4h0.8M310.1 152.8h0.8M314.8 138.7h0.8M309.5 118.7h0.8M313.2 142.4h0.8M306.7 133.7h0.8M305.4 125.5h0.8M310.6 131.5h0.8M315.3 130.5h0.8M309.4 120.2h0.8M318.5 129.8h0.8M310.2 155.5h0.8M312.8 138.9h0.8M313.7 131.3h0.8M308 129h0.8M318.2 124.2h0.8M307.1 145.3h0.8M303.9 128.5h0.8M309.2 142.9h0.8M307.1 131.2h0.8M307.2 129.1h0.8M314.8 131.6h0.8M311.1 137.6h0.8M298.4 135h0.8M311.8 154.7h0.8M305 147.1h0.8M314.3 159.4h0.8M307.9 140.8h0.8M312.7 122.8h0.8M309 149.2h0.8M311.8 138.2h0.8M312.1 140.5h0.8M313.6 156.1h0.8M313 126.2h0.8M314.6 139.5h0.8M307.3 111.3h0.8M300.2 130.9h0.8M320.2 141.2h0.8M309.8 135h0.8M307.3 134.1h0.8M304.2 146.2h0.8M311.1 149.5h0.8M318.3 135.7h0.8M316.8 127.6h0.8M310.4 147.7h0.8M306.3 136.9h0.8M313.9 138.1h0.8M313.6 120.6h0.8M305.4 147.8h0.8M313.5 137.8h0.8M306.7 112.9h0.8M305.2 132.9h0.8M312.6 119.9h0.8M321.9 124h0.8M309 149.3h0.8M311.2 144.6h0.8M313 153.1h0.8M309.8 155.5h0.8M308.3 126.6h0.8M309.6 155.5h0.8M313.3 147h0.8M306 139.9h0.8M308.9 127.3h0.8M310.7 147.9h0.8M317.5 120.6h0.8M312.6 134.2h0.8M318.9 149.9h0.8M312.1 127h0.8M314.5 144.1h0.8M310.3 136.5h0.8M307.3 144.8h0.8M312.8 121.4h0.8M305.9 122.5h0.8M317.1 157h0.8M311.2 130.5h0.8M311 139.4h0.8M316.6 126.5h0.8M311.8 130.8h0.8M310.8 123.5h0.8M317.7 134.8h0.8M307 120h0.8M318.1 139.3h0.8M319.4 154.7h0.8M310.4 139.6h0.8M312.2 132h0.8M306.7 136.9h0.8M307 133.8h0.8M308.8 117h0.8M310.8 117.9h0.8M304.5 129.2h0.8M301.5 122.7h0.8M318.3 130h0.8M318.3 134.6h0.8M312.3 129.1h0.8M309.9 131.9h0.8M314 135h0.8M307.2 116h0.8M317.9 139h0.8M307.4 146.4h0.8M310.1 146.8h0.8M312.3 134.1h0.8M318.6 143.4h0.8M316.5 146h0.8M311.3 147h0.8M304.2 115.9h0.8M316.2 148h0.8M303.9 130.2h0.8M308.6 110.1h0.8M308.1 147.3h0.8M307 131h0.8M315.2 137.4h0.8M308.6 121.9h0.8M312.2 163.5h0.8M305.7 125.7h0.8M306.9 118.5h0.8M315.2 121.1h0.8M308.9 137.6h0.8M300.6 129.3h0.8M315.4 137h0.8M302.6 118.5h0.8M307.6 144.5h0.8M307.3 130.2h0.8M314.4 126.1h0.8M317 144.1h0.8M305.9 143.2h0.8M306.9 136.2h0.8M311.7 161.7h0.8M313.2 157.4h0.8M306.4 130.1h0.8M306.2 120.3h0.8M304.8 144.4h0.8M309.2 115.3h0.8M310.1 153h0.8M310.3 119.9h0.8M314.1 115.7h0.8M314.9 147h0.8M311.8 151.1h0.8M313.8 132.9h0.8M309.7 142.5h0.8M304.9 134h0.8M302.6 142.4h0.8M305.7 137.1h0.8M305.3 154.9h0.8M310.9 157.2h0.8M302.5 139.5h0.8M311.7 138.1h0.8M302.3 140.5h0.8M308.1 143.8h0.8M313.5 130.4h0.8M310.2 115.2h0.8M313.4 147.2h0.8M315.9 139.3h0.8M311.2 130.9h0.8M303.6 136.9h0.8M310.8 134.8h0.8M308.5 124h0.8M312.5 135.1h0.8M312.2 128.8h0.8M315.2 115.1h0.8M305.7 127.4h0.8M314.6 153.8h0.8M314.4 121.5h0.8M303.7 138.4h0.8M306.3 141h0.8M307 129.9h0.8M310.9 120.6h0.8M307.4 129.6h0.8M313.9 146.2h0.8M310.5 128.1h0.8M313.7 141.2h0.8M313.6 145h0.8M312.8 148.8h0.8M306.2 130.2h0.8M313.3 149.8h0.8M320.4 143.4h0.8M306 128.7h0.8M317 143.2h0.8M307.4 158.2h0.8M319.7 163.3h0.8M302 117.1h0.8M309.8 118h0.8M305.7 124.1h0.8M313.4 142h0.8M309.5 124.3h0.8M315.9 104.4h0.8M304.8 125.2h0.8M311.7 141.4h0.8M313.8 130.1h0.8M311.7 134.2h0.8M310.1 132h0.8M315.2 138.5h0.8M313.8 105.1h0.8M305.8 131.9h0.8M312.5 135.9h0.8M307.4 147h0.8M307.9 126.1h0.8M316.7 132h0.8M310.5 160.3h0.8M318 132.8h0.8M307.3 134.9h0.8M323.9 133.5h0.8M310.3 136.8h0.8M305.9 145.5h0.8M316.1 116.7h0.8M315.8 154.5h0.8M314.6 119.4h0.8M320.7 150.2h0.8M315.2 158.2h0.8M308.7 117h0.8M324.3 131.8h0.8M311.8 155.6h0.8M313.2 108.3h0.8M315.6 160.4h0.8M313.6 148.7h0.8M307.2 118.7h0.8M308.3 150h0.8M310.9 141.1h0.8M312.2 126.4h0.8M304.7 141.1h0.8M306.3 129.2h0.8M314.1 118.7h0.8M311.7 145.3h0.8M310 147.1h0.8M308.5 119h0.8M312.4 139.8h0.8M315 129h0.8M301.6 119.7h0.8M316.6 136.7h0.8M314.7 135.7h0.8M316.7 139.5h0.8M305.4 114.8h0.8M307.6 138.6h0.8M307.8 140.8h0.8M312.7 136.2h0.8M316.4 166.8h0.8M306 130.8h0.8M314.9 128.7h0.8M314.6 155.8h0.8M312.1 129.1h0.8M322.7 129.9h0.8M312.2 148.3h0.8M320.9 141.6h0.8M311.5 133.1h0.8M308.5 163.6h0.8M311.5 132.2h0.8M323.1 119.5h0.8M313.2 137.6h0.8M314.2 140.4h0.8" stroke="#111" stroke-width="0.8" stroke-opacity="0.95" fill="none"/>
<rect x="286.5" y="149.3" width="41.6" height="33.2" fill="none" stroke="#1a1a1a" stroke-width="1.4"/>
<text x="246" y="170.5" font-size="10.6" fill="#333">14.34%</text>
<text x="284" y="55.8" font-size="10.9" fill="#262626" text-anchor="middle">CD14<tspan font-size="6.6" dy="-4">+</tspan><tspan dy="4" font-size="0.1">&#8203;</tspan>/HTR8+anti</text>
<rect x="395.5" y="61.7" width="148.9" height="121.1" fill="#fff" stroke="#969696" stroke-width="1"/>
<line x1="395.2" y1="61.7" x2="395.2" y2="182.8" stroke="#505050" stroke-width="1.8"/>
<line x1="395.5" y1="182.8" x2="544.4" y2="182.8" stroke="#505050" stroke-width="1.3"/>
<path d="M394.9 173.69h-1.5M406.71 182.8v-1.4M394.9 168.36h-1.5M413.26 182.8v-1.4M394.9 164.57h-1.5M417.91 182.8v-1.4M394.9 161.64h-1.5M421.52 182.8v-1.4M394.9 159.24h-1.5M424.47 182.8v-1.4M394.9 157.21h-1.5M426.96 182.8v-1.4M394.9 155.46h-1.5M429.12 182.8v-1.4M394.9 153.91h-1.5M431.02 182.8v-1.4M394.9 143.41h-1.5M443.93 182.8v-1.4M394.9 138.08h-1.5M450.49 182.8v-1.4M394.9 134.3h-1.5M455.14 182.8v-1.4M394.9 131.36h-1.5M458.74 182.8v-1.4M394.9 128.97h-1.5M461.69 182.8v-1.4M394.9 126.94h-1.5M464.18 182.8v-1.4M394.9 125.18h-1.5M466.34 182.8v-1.4M394.9 123.64h-1.5M468.25 182.8v-1.4M394.9 113.14h-1.5M481.16 182.8v-1.4M394.9 107.81h-1.5M487.71 182.8v-1.4M394.9 104.02h-1.5M492.36 182.8v-1.4M394.9 101.09h-1.5M495.97 182.8v-1.4M394.9 98.69h-1.5M498.92 182.8v-1.4M394.9 96.66h-1.5M501.41 182.8v-1.4M394.9 94.91h-1.5M503.57 182.8v-1.4M394.9 93.36h-1.5M505.47 182.8v-1.4M394.9 82.86h-1.5M518.38 182.8v-1.4M394.9 77.53h-1.5M524.94 182.8v-1.4M394.9 73.75h-1.5M529.59 182.8v-1.4M394.9 70.81h-1.5M533.19 182.8v-1.4M394.9 68.42h-1.5M536.14 182.8v-1.4M394.9 66.39h-1.5M538.63 182.8v-1.4M394.9 64.63h-1.5M540.79 182.8v-1.4M394.9 63.09h-1.5M542.7 182.8v-1.4M394.9 182.8h-2M395.5 182.8v-2.6M394.9 152.53h-2M432.73 182.8v-2.6M394.9 122.25h-2M469.95 182.8v-2.6M394.9 91.98h-2M507.17 182.8v-2.6M394.9 61.7h-2M544.4 182.8v-2.6" fill="none" stroke="#505050" stroke-width="0.7"/>
<g transform="translate(393.2 186.9) scale(1.1 1)">
<text x="0" y="0" font-size="8.7" fill="#262626" text-anchor="end">10<tspan font-size="6.1" dy="-3.7">0</tspan><tspan dy="3.7" font-size="0.1">&#8203;</tspan></text>
</g>
<text x="388.7" y="196.9" font-size="8.7" fill="#262626">10<tspan font-size="6.1" dy="-3.7">0</tspan><tspan dy="3.7" font-size="0.1">&#8203;</tspan></text>
<g transform="translate(393.2 158.2) scale(1.1 1)">
<text x="0" y="0" font-size="8.7" fill="#262626" text-anchor="end">10<tspan font-size="6.1" dy="-3.7">1</tspan><tspan dy="3.7" font-size="0.1">&#8203;</tspan></text>
</g>
<text x="425.93" y="196.9" font-size="8.7" fill="#262626">10<tspan font-size="6.1" dy="-3.7">1</tspan><tspan dy="3.7" font-size="0.1">&#8203;</tspan></text>
<g transform="translate(393.2 128.6) scale(1.1 1)">
<text x="0" y="0" font-size="8.7" fill="#262626" text-anchor="end">10<tspan font-size="6.1" dy="-3.7">2</tspan><tspan dy="3.7" font-size="0.1">&#8203;</tspan></text>
</g>
<text x="463.15" y="196.9" font-size="8.7" fill="#262626">10<tspan font-size="6.1" dy="-3.7">2</tspan><tspan dy="3.7" font-size="0.1">&#8203;</tspan></text>
<g transform="translate(393.2 98.6) scale(1.1 1)">
<text x="0" y="0" font-size="8.7" fill="#262626" text-anchor="end">10<tspan font-size="6.1" dy="-3.7">3</tspan><tspan dy="3.7" font-size="0.1">&#8203;</tspan></text>
</g>
<text x="500.37" y="196.9" font-size="8.7" fill="#262626">10<tspan font-size="6.1" dy="-3.7">3</tspan><tspan dy="3.7" font-size="0.1">&#8203;</tspan></text>
<g transform="translate(393.2 68.8) scale(1.1 1)">
<text x="0" y="0" font-size="8.7" fill="#262626" text-anchor="end">10<tspan font-size="6.1" dy="-3.7">4</tspan><tspan dy="3.7" font-size="0.1">&#8203;</tspan></text>
</g>
<text x="537.6" y="196.9" font-size="8.7" fill="#262626">10<tspan font-size="6.1" dy="-3.7">4</tspan><tspan dy="3.7" font-size="0.1">&#8203;</tspan></text>
<ellipse cx="507.92" cy="128.31" rx="3.8" ry="14" fill="#111" fill-opacity="0.55" filter="url(#bl)" transform="rotate(-3 507.92 128.31)"/>
<path d="M505.2 156.7h0.8M497.2 133.6h0.8M509.5 126.6h0.8M500.9 91.9h0.8M524.8 129.6h0.8M507.3 131.1h0.8M500.7 113.3h0.8M505.4 159.7h0.8M501.4 128.9h0.8M489.9 97.7h0.8M496.2 112.5h0.8M491.3 118h0.8M488.3 120.7h0.8M515.7 127.5h0.8M500.1 110.6h0.8M503.3 135.8h0.8M499.2 142.1h0.8M512.7 123.8h0.8M510.3 147.8h0.8M493.6 142.8h0.8M500.7 138h0.8M507.5 125.6h0.8M523.6 125.3h0.8M520.2 159.8h0.8M492.8 85.4h0.8M499.6 126.9h0.8M505.8 118.1h0.8M525.4 114.9h0.8M524.7 149.8h0.8M514 131.3h0.8M497.2 102h0.8M488.5 144.9h0.8M514.3 116.9h0.8M504.6 131.9h0.8M508.4 123.6h0.8M513.8 137.8h0.8M514.5 110.3h0.8M506.5 101.9h0.8M513.8 157.2h0.8M511.7 102.9h0.8M496 139.8h0.8M508.2 126.1h0.8M511.7 113.2h0.8M497.6 130.7h0.8M496.3 155.6h0.8M508.7 131.4h0.8M505.2 134.2h0.8M513.1 122.9h0.8M500.4 146.7h0.8M512.5 120.5h0.8M513 118.3h0.8M504.7 151.6h0.8M517 130.3h0.8M498.3 125.3h0.8M497.6 151.8h0.8M521.1 117.1h0.8M514.4 173h0.8M511.4 148.9h0.8M498.9 117h0.8M507.6 149.1h0.8M509.7 138.2h0.8M511.3 137.2h0.8M478.4 128.2h0.8M516.1 134.8h0.8M498.7 123.4h0.8M524 122.6h0.8M540.2 164h0.8M500.4 139.6h0.8M501.2 100.9h0.8M495.4 134.3h0.8M495.8 122h0.8M500.1 133.1h0.8M490.5 132.6h0.8M502.3 123.5h0.8M518 98.6h0.8M503 124.9h0.8M499.2 128.7h0.8M502.1 98.9h0.8M516.3 109.1h0.8M507.5 113.6h0.8M523.6 136.7h0.8M500.4 106.3h0.8M508.8 127.9h0.8M502.1 121.4h0.8M518.6 137.7h0.8M504.6 125.5h0.8M511.9 137.4h0.8M509.8 131.6h0.8M505.5 148.4h0.8M492.8 133.7h0.8M513.6 155.8h0.8M493.6 93.6h0.8M511.2 127.1h0.8M507 129.6h0.8M498.5 114.3h0.8M506.5 134.6h0.8M487.9 129.6h0.8M514.8 129.1h0.8M518.6 122.1h0.8M503.6 131.4h0.8M504 133h0.8M503.5 117.6h0.8M512.2 135.8h0.8M500.3 119.6h0.8M502.2 136.5h0.8M488.1 136.8h0.8M505.9 130.8h0.8M515.3 108.9h0.8M498.4 136.9h0.8M512.3 140.7h0.8M507.2 128.7h0.8M503.2 120.9h0.8M505.9 158.1h0.8M509.9 141.4h0.8M512.4 145.2h0.8M490.4 120.6h0.8M502.7 126.9h0.8M516.4 134.6h0.8M516.4 142.5h0.8M495.8 118.3h0.8M518 120.9h0.8M498.3 112.1h0.8M485.3 132.1h0.8M497.9 96h0.8M504.9 111.8h0.8M504.1 95.5h0.8M503.7 123.4h0.8M498.2 151.4h0.8M507 166.6h0.8M509 133.2h0.8M495.4 106h0.8M497.6 119h0.8M509.2 122h0.8M501.5 106.2h0.8M497.1 140.6h0.8M506.3 125h0.8M504.9 115.3h0.8M526 156.1h0.8M515.7 116.7h0.8M505 154.5h0.8M496.3 135.4h0.8M502.6 124.2h0.8M522.1 138.2h0.8M502.3 136.1h0.8M515.3 144.7h0.8M512.1 133.4h0.8M518.3 115.6h0.8M513 118.8h0.8M512.9 144.5h0.8M509.3 121.3h0.8M500 132.4h0.8M508 124.4h0.8M505.6 133.4h0.8M515 118.9h0.8M510.4 132.8h0.8M494.5 154.2h0.8M513.3 116.3h0.8M502.1 121.5h0.8M509 148h0.8M517.5 144.1h0.8M507.7 127.6h0.8M505.1 130h0.8M510.2 118.5h0.8M522.4 128h0.8M495.3 134.4h0.8M502.2 127.5h0.8M510.7 126.5h0.8M514.7 153.2h0.8M516.2 126.3h0.8M523 138.3h0.8M506.7 129h0.8M516.7 146.4h0.8M522.8 105.7h0.8M497.2 100.9h0.8M518.1 135.8h0.8M488.4 82.3h0.8M497.1 111.6h0.8M513.1 123.4h0.8M507.8 126.6h0.8M486.7 146.8h0.8M494.3 117.8h0.8M505 104.7h0.8M508.7 154.6h0.8M521 131.2h0.8M499.5 133.3h0.8M520 133h0.8M515.9 145.3h0.8M520 139.7h0.8M511.7 126.9h0.8M501.9 124.1h0.8M499.9 133h0.8M508.5 126.5h0.8M521.5 157.1h0.8M506.2 112.5h0.8M496.9 139.9h0.8M507.4 139.4h0.8M507.2 112h0.8M507.4 131.4h0.8M498.8 137.6h0.8M506.5 118.9h0.8M511.3 137.5h0.8M518.9 104.2h0.8M509.1 140.5h0.8M521.6 98.4h0.8M493.5 113h0.8M498.1 148.7h0.8M504.1 151.3h0.8M510.4 144.9h0.8M517.7 112.4h0.8M509.4 148h0.8M490.7 108.9h0.8M515.5 154.1h0.8M517.7 112.2h0.8M507.8 132.3h0.8M510.7 135.1h0.8M516.4 115.4h0.8M482.9 125.4h0.8M512.5 127.2h0.8M519 121.3h0.8M514.6 132.2h0.8M527.1 154.8h0.8M510.8 162.4h0.8M503.7 123.9h0.8M503.7 130.6h0.8M508 127h0.8M507.3 137.2h0.8M508.8 107.2h0.8M499.1 109.2h0.8M485.3 110.1h0.8M523.1 91.4h0.8M519.2 112.7h0.8M512.2 156.5h0.8M503.1 123h0.8M493.4 124.8h0.8M514.7 120.4h0.8M520.1 136.5h0.8M507.5 121.9h0.8M502.7 101.5h0.8M505.5 115.6h0.8M501.3 122.8h0.8M505.7 132.5h0.8M501.6 118.6h0.8M511.8 139.4h0.8M495.2 120.1h0.8M498 140.4h0.8M498.6 129.3h0.8M494.3 116h0.8M514.8 126.8h0.8M510 121.1h0.8M510.6 110.8h0.8M510.9 131.9h0.8M505.7 94h0.8M505.4 112.5h0.8M509 133.7h0.8M506.5 154.2h0.8M499.8 129.2h0.8M503.8 148.1h0.8M524.1 120.4h0.8M519.4 117.3h0.8M507 119.6h0.8M534.6 151.3h0.8M493.6 127.1h0.8M502.2 119.3h0.8M520.9 144.3h0.8M495.7 144.5h0.8M524.1 138.2h0.8M501.9 102.4h0.8M501.3 119.2h0.8M487 121.1h0.8M491.1 134.5h0.8M513.7 134.8h0.8M506 128.2h0.8M525.3 152.6h0.8M493.1 108.3h0.8M508.4 116.4h0.8M493.5 137h0.8M508.3 112.7h0.8M508.2 113h0.8M512.4 128.7h0.8M518.8 123.1h0.8M509.3 104.3h0.8M517.8 146.5h0.8M501.7 128.1h0.8M511.8 155.2h0.8M511.8 125.5h0.8M506.3 146.8h0.8M510.7 135.9h0.8M502.9 105.6h0.8M496 124.7h0.8M508.1 114.4h0.8M503.7 94.8h0.8M509.6 127.2h0.8M507.2 142.4h0.8M508 118.7h0.8M499.7 133.7h0.8M504.1 102.3h0.8M518.1 143.5h0.8M505.6 127.5h0.8M500.2 144.2h0.8M505.6 140.4h0.8M522.5 143.6h0.8M511.9 132.3h0.8M509.6 112.6h0.8M503.1 124.2h0.8M517 124h0.8M513.2 122.2h0.8M508.7 114.2h0.8M505.4 107.7h0.8M519.9 138.8h0.8M506.2 133.4h0.8M511 132.1h0.8M520.8 127.7h0.8M508.8 114.7h0.8M506.8 125h0.8M510.1 119.9h0.8M507.9 129.4h0.8M507.7 127.4h0.8M516.6 107.3h0.8M498.7 166.5h0.8M505.2 146.9h0.8M489 120.7h0.8M498.5 131.2h0.8M498 115.8h0.8M503.8 120.4h0.8M503.6 127.3h0.8M489.5 125.4h0.8M505.3 123.4h0.8M513.8 129.7h0.8M512.6 135.9h0.8M491.5 131.6h0.8M498.4 140.1h0.8M527 124h0.8M488.3 121.3h0.8M513.2 141.1h0.8M503.6 102h0.8M500 146.9h0.8M508.6 128.8h0.8M499.3 140.5h0.8M499.6 124.1h0.8M513.5 116.9h0.8M503.1 133.2h0.8M499.3 148.8h0.8M485.8 120.2h0.8M501.3 128.3h0.8M511.5 135.2h0.8M514 138.1h0.8M501.6 148.8h0.8M492.2 114h0.8M502 107.7h0.8M499.8 112.3h0.8M525.5 148.6h0.8M507.4 123.8h0.8M496.8 125.8h0.8M508.4 149.2h0.8M520.1 127.3h0.8M507.2 110.8h0.8M490 122.4h0.8M504.7 124.2h0.8M519.7 127.1h0.8M497.9 137h0.8M531.8 135.9h0.8M514.8 140.7h0.8M508.2 123.6h0.8M515 156.2h0.8M483.6 122.9h0.8M509.2 126.1h0.8M493.1 128.6h0.8M504.7 130.5h0.8M454.1 88.3h0.8M475.2 89.8h0.8M459.1 98.7h0.8M485.8 92.6h0.8M494.6 98.9h0.8M489.2 93.4h0.8M485.8 105.9h0.8M500.5 105.7h0.8M458.6 81.1h0.8M479.8 98h0.8M472.8 95.1h0.8M483.4 90.3h0.8M464.7 100.4h0.8M497.3 104.2h0.8M447.9 91.8h0.8M493 90.7h0.8M485.7 94.5h0.8M479.2 107.1h0.8M481.3 83.4h0.8M487.9 99.6h0.8M490.7 102.7h0.8M454.7 89h0.8M468.9 86.3h0.8M490.9 93.3h0.8M470 87.4h0.8M495.8 97.9h0.8M463.3 83h0.8M497.8 102.8h0.8M483.5 99.1h0.8M475.4 103.7h0.8M500.5 97.3h0.8M477 97.3h0.8M479.8 92.9h0.8M486.4 93.9h0.8M484.1 101.1h0.8M463.7 92.9h0.8M475.5 96.3h0.8M491.1 105.7h0.8M453.8 97.1h0.8M459.4 83.1h0.8M475.6 93.3h0.8M487.1 104.3h0.8M481.7 104.7h0.8M476.2 95.6h0.8M483.2 96.8h0.8M466.6 90.9h0.8M463 97h0.8M451.6 95.2h0.8M486.9 97h0.8M487.8 87.7h0.8M458.9 92.4h0.8M477.4 93.6h0.8M471.9 99.3h0.8M475.6 96.1h0.8M490.4 100.3h0.8M490 96.4h0.8M467.1 96.2h0.8M479.5 96.9h0.8M484.8 99.1h0.8M485.7 91.3h0.8M460.5 93.2h0.8M462.3 93.5h0.8M455 82.7h0.8M450.1 81.7h0.8M470.3 93.9h0.8M496 93.8h0.8M472.4 86.9h0.8M470.8 99.1h0.8M475.9 94.3h0.8M468.4 106.3h0.8M445 86.2h0.8M474.4 105.2h0.8M455.8 88.8h0.8M450.4 82.4h0.8M465.1 93h0.8M453 88h0.8M502.1 109.2h0.8M471.4 98.3h0.8M498.8 104.7h0.8M492.7 106.5h0.8M494.3 102.6h0.8M449.2 89.2h0.8M468.7 95.3h0.8M494.3 108.6h0.8M481 101.5h0.8M441.8 88.9h0.8M491.2 100.7h0.8M467.9 97.2h0.8M456.4 107.8h0.8M474.7 87.5h0.8M471.5 85.8h0.8M442.7 74.3h0.8M473.8 90.7h0.8M475.4 104h0.8M470.3 99.2h0.8M484.8 102.3h0.8M466.3 97.8h0.8M485.2 95.8h0.8M484.4 104.2h0.8M491.3 107h0.8M489.6 95.2h0.8M470.8 92.7h0.8M470.8 83.3h0.8M465.4 88h0.8M489.4 105.1h0.8M468.2 85.1h0.8M497 105.4h0.8M480.2 94.7h0.8M482.4 96.5h0.8M451.6 87.7h0.8M445 94.5h0.8M470.1 94.7h0.8M473.9 85.3h0.8M501.2 98h0.8M489 88.4h0.8M484.8 93.7h0.8M489.3 103h0.8M457.4 94.3h0.8M456 92h0.8M463.6 95.6h0.8M497.8 107h0.8M497.1 92h0.8M499 102.6h0.8M482 105.3h0.8M496.7 102.4h0.8M465.5 88h0.8M469.1 95.3h0.8M505.9 102.3h0.8M475.4 89.4h0.8M441.7 84h0.8M483.3 98.6h0.8M444.9 81.7h0.8M472.2 100.9h0.8M465.7 90.6h0.8M488.9 100.3h0.8M472.3 101.6h0.8M434.9 93.4h0.8M480.4 102.2h0.8M463.3 85.7h0.8M491.3 107.6h0.8M476.4 107h0.8M500.2 104.6h0.8M457.4 82.5h0.8M497 110.3h0.8M496.9 94.7h0.8M492.7 100.5h0.8M490.1 103.4h0.8M485.6 96.6h0.8M499.5 93.2h0.8M485.8 86.9h0.8M492.3 89.9h0.8M444.3 76.1h0.8M460.7 82.7h0.8M490.6 103h0.8M478.9 106.4h0.8M479.5 93.1h0.8M487.8 98.3h0.8M494.1 103.6h0.8M469.9 96.2h0.8M452.5 75.3h0.8M497 97.1h0.8M493.8 102.1h0.8M490.2 99.4h0.8M482.9 99.3h0.8M480.7 94.2h0.8M464.5 82.8h0.8M476 95.4h0.8M485.7 109.1h0.8M488.6 98.8h0.8M492.4 91h0.8M493.5 101.7h0.8M483.6 98.8h0.8M453.8 83.8h0.8M501.7 102.4h0.8M480.1 93.5h0.8M450.2 99.1h0.8M465.4 88.8h0.8M479.3 99.9h0.8M481.8 107.9h0.8M479.8 97.4h0.8M497.6 93.8h0.8M477.7 95.8h0.8M486.1 98.7h0.8M500.2 103.6h0.8M449.1 77h0.8M494.4 102.4h0.8M498.5 102.5h0.8M463.8 95.6h0.8M478.8 103.1h0.8M465.5 94.2h0.8M490.5 110.2h0.8M465.7 106.2h0.8M445.1 67.5h0.8M478.2 102.7h0.8M462 97.3h0.8M483.1 91.9h0.8M476.3 102.2h0.8M476 77.2h0.8M474 95.4h0.8M485.4 95.8h0.8M454.9 87.8h0.8M475.8 93.3h0.8M464.8 100.5h0.8M481.6 97h0.8M467.6 104.4h0.8M487.5 106.1h0.8M486.7 103.4h0.8M487.9 98.3h0.8M465.4 81h0.8M485.1 98.1h0.8M449.3 91.1h0.8M483.3 102.4h0.8M485.6 99.7h0.8M471.3 101.7h0.8M447.7 81.6h0.8M468.8 85.9h0.8M505.5 105.2h0.8M464.7 90.1h0.8M470.4 105.2h0.8M493.1 107.4h0.8M458.9 101.3h0.8M493.7 98.9h0.8M489.1 102.3h0.8M485.1 101.3h0.8M487.2 99.3h0.8M491.4 96.3h0.8M446.2 74.9h0.8M468.5 99.1h0.8M484.8 106.5h0.8M457 92.8h0.8M492.5 96.2h0.8M446.8 92.1h0.8M451.7 90.7h0.8M474.3 98.2h0.8M496.6 98.7h0.8M482.7 94.6h0.8M484.3 93.7h0.8M473.8 102.7h0.8M499.8 100.4h0.8M490 95.2h0.8M491.6 101h0.8M491.8 105.6h0.8M452.4 89.5h0.8M461.3 95h0.8M496.8 95.4h0.8M489.4 102.9h0.8M490.4 105h0.8M488.9 114.6h0.8M469.8 83.3h0.8M491.4 104.1h0.8M497.3 107.2h0.8M490.8 96.7h0.8M484.6 106.4h0.8M494 103.8h0.8M473.1 89.9h0.8M500.6 97.8h0.8M507.5 103.6h0.8M476.3 98.7h0.8M480.9 103.2h0.8M491 95.1h0.8M484.9 97.7h0.8M483.3 95.7h0.8M490.1 105.3h0.8M478.2 106.3h0.8M489.1 99.5h0.8M500.6 107.9h0.8M494.4 94.8h0.8M451.9 88.9h0.8M493.8 106h0.8M475.7 85.6h0.8M492.4 91.9h0.8M482.5 98.9h0.8M457.3 90.8h0.8M438.7 89.4h0.8M475.6 97.6h0.8M467.5 85.7h0.8M461.9 99.1h0.8M462.2 93.1h0.8M459.6 103.5h0.8M475.2 101.1h0.8M484 98.8h0.8M492.7 96h0.8M466.6 93.7h0.8M467.9 104.6h0.8M483.3 92h0.8M472.6 93.6h0.8M498.8 103.6h0.8M490 104.7h0.8M483.6 98.2h0.8M478.6 98.3h0.8M470.9 100.3h0.8M483.5 94.2h0.8M459.5 85.2h0.8M482.9 103h0.8M444.4 86.7h0.8M477 95.5h0.8M470.1 89.1h0.8M496.9 101.3h0.8M490.6 102.5h0.8M454.6 91.7h0.8M456.3 146.6h0.8M457 149.1h0.8M455 150h0.8M455.7 144.4h0.8M450.1 147.9h0.8M450 153.7h0.8M450.4 149.1h0.8M451.6 150.5h0.8M449.1 149.7h0.8M448.7 149.3h0.8M448 150.3h0.8M450.7 149.8h0.8M452.6 148.4h0.8M451.1 145.6h0.8M452.8 148.4h0.8M454.1 153.7h0.8M450.5 146.9h0.8M447.3 145.6h0.8M454.3 150.4h0.8M452.7 145.1h0.8M449.9 144.5h0.8M451.4 150.2h0.8M485.2 142.1h0.8M497.2 128.9h0.8M500.4 160.4h0.8M454.1 154.6h0.8M451 125.8h0.8M453.6 169.2h0.8M479.1 172.8h0.8M450.9 138.7h0.8M479.7 174.3h0.8M444.2 147.8h0.8M469.9 139.4h0.8M457.1 116.2h0.8M477.3 113.1h0.8M444.4 117.2h0.8M487.7 135.6h0.8M493.4 165.1h0.8M474.6 164.5h0.8M446.1 147.4h0.8M502.9 136.3h0.8M480.9 153.9h0.8M454.5 134.9h0.8M460.1 125.1h0.8M472.7 127.1h0.8M462.9 154h0.8M479.4 158.1h0.8M467.9 167.8h0.8M461.2 159.1h0.8M456.1 120.5h0.8M479.1 134.6h0.8M468.7 154.9h0.8" stroke="#111" stroke-width="0.8" stroke-opacity="0.5" fill="none"/>
<path d="M506.2 147.1h0.8M503.2 124.2h0.8M500.6 146.2h0.8M505.2 121.2h0.8M502.8 140.3h0.8M510.4 165.9h0.8M508.1 144.1h0.8M503.3 109.9h0.8M512.8 132.8h0.8M508.3 133.6h0.8M504.1 147h0.8M513.9 153.5h0.8M503.1 112.6h0.8M505.6 131.9h0.8M505.3 107.3h0.8M515.4 119.3h0.8M512.2 143.2h0.8M507.5 120.1h0.8M514.7 117.6h0.8M505.9 128.2h0.8M508.1 115.5h0.8M519.5 122.6h0.8M507.4 123h0.8M511.3 147.1h0.8M511.3 123.2h0.8M511.9 120.4h0.8M508.8 124.9h0.8M503.4 120h0.8M504 141.9h0.8M497.8 126.7h0.8M507.6 135h0.8M501.7 123.8h0.8M508.3 127.3h0.8M509.1 135.7h0.8M502.1 130.7h0.8M503.5 133h0.8M501.5 97.3h0.8M509.6 148.5h0.8M508 123h0.8M504.5 147.4h0.8M510.2 143.4h0.8M508.6 140h0.8M493.7 103h0.8M508.3 131.8h0.8M514.8 149.4h0.8M510.5 132h0.8M516.2 120h0.8M505.5 137.3h0.8M503.2 146.1h0.8M503.2 102.7h0.8M513.2 152.6h0.8M499.8 103.3h0.8M500.2 128.9h0.8M509.3 156.6h0.8M503.4 145h0.8M510.4 128h0.8M515.5 131.3h0.8M507 137.4h0.8M521.3 115.8h0.8M507.6 107.6h0.8M516.8 147.3h0.8M521.6 129.5h0.8M496.7 127.5h0.8M508.1 112.5h0.8M509.5 136.1h0.8M509.8 128.2h0.8M510.1 153.6h0.8M500.1 122h0.8M505.8 109.9h0.8M517.9 157.4h0.8M508.8 133.7h0.8M519.4 131.1h0.8M504 127.8h0.8M511.9 137.5h0.8M503.4 119.7h0.8M502.8 114.8h0.8M511.2 125.9h0.8M509.5 124.2h0.8M504.9 124.2h0.8M509.9 125.1h0.8M502.2 145.9h0.8M507.7 123.9h0.8M512.4 125.8h0.8M504.5 122.8h0.8M503.3 120.6h0.8M513.5 103.6h0.8M504.3 128.1h0.8M506.7 121.1h0.8M511.7 138.9h0.8M513.1 126.7h0.8M519.3 130.7h0.8M495.5 103.5h0.8M505.7 157.1h0.8M511.1 106.3h0.8M509.7 126.2h0.8M510.4 145.4h0.8M510.4 142.5h0.8M505.6 132.9h0.8M512 135.4h0.8M511.9 116.1h0.8M517.1 133.8h0.8M501.7 112.2h0.8M516.4 126.9h0.8M502.4 104.5h0.8M510.7 142.4h0.8M513 109.1h0.8M511.1 123.5h0.8M508.1 120.6h0.8M512.8 141h0.8M513.1 122.1h0.8M505.3 128.6h0.8M512.8 117.5h0.8M497.2 102.7h0.8M507.3 134.6h0.8M513.5 123.4h0.8M503.4 139.3h0.8M512.1 116.2h0.8M505.5 173.2h0.8M505.2 128.2h0.8M501.6 112.4h0.8M496 132.1h0.8M507.7 120.7h0.8M503 118.1h0.8M518.2 102.8h0.8M499.9 102.7h0.8M504 125.8h0.8M512.5 154.1h0.8M515.8 128.4h0.8M494.8 106.1h0.8M510.5 133.1h0.8M508.1 116.7h0.8M507.5 140h0.8M499.2 119.7h0.8M502.9 148.2h0.8M515.5 138.7h0.8M512.1 135.9h0.8M514.2 110.1h0.8M506.8 126h0.8M506 130h0.8M511 139.7h0.8M503.1 116.5h0.8M508.6 142.2h0.8M512.2 129.2h0.8M508.1 126.7h0.8M507.1 151.1h0.8M504.5 134.2h0.8M507.3 123.2h0.8M510.8 140.6h0.8M521.6 113.3h0.8M505.1 130.6h0.8M517.3 117.4h0.8M511.8 137.3h0.8M513 132.6h0.8M506.2 139.3h0.8M507.1 133.2h0.8M507.8 147.3h0.8M518.4 141.1h0.8M502.3 110.2h0.8M510.2 136.2h0.8M505.3 137.2h0.8M513.8 120h0.8M515.7 122.7h0.8M507 128.8h0.8M505.7 135.2h0.8M516 140.8h0.8M505.8 116.9h0.8M502.5 128.5h0.8M505.9 120.7h0.8M506.1 131.9h0.8M506.6 150.7h0.8M500.5 108.2h0.8M507.3 142.6h0.8M503.5 143h0.8M504.1 146.2h0.8M494.5 129.9h0.8M502.6 150h0.8M502.4 129.8h0.8M502.2 124.5h0.8M495.4 115h0.8M497 104h0.8M502.3 134.8h0.8M516 133.8h0.8M503.5 118.4h0.8M517.3 123h0.8M505.1 120.8h0.8M509.8 124.5h0.8M506.9 154.4h0.8M518.2 128.5h0.8M508.5 119.6h0.8M507.3 151.9h0.8M509.8 150.6h0.8M512.6 137.7h0.8M507.9 129.8h0.8M512.9 124.9h0.8M505.2 134.1h0.8M525.7 127.2h0.8M504 137.5h0.8M498.3 124.3h0.8M500.2 121.5h0.8M506.6 133.7h0.8M511.1 141.7h0.8M513.4 129.4h0.8M504.5 121.3h0.8M510.9 119.2h0.8M508.9 127.4h0.8M502.6 113.6h0.8M508 111.6h0.8M513.6 121.4h0.8M496.9 106.9h0.8M504.2 114h0.8M499.3 128.6h0.8M508.6 113.7h0.8M514.3 151.4h0.8M504.9 130h0.8M518.3 154h0.8M512.2 142.1h0.8M503.2 138.2h0.8M510.9 115.2h0.8M504.4 120.6h0.8M510.9 121.9h0.8M505.7 109.9h0.8M511.9 124.4h0.8M511.5 161.7h0.8M510.4 107.6h0.8M512 123.9h0.8M495.3 111.4h0.8M503.8 138.5h0.8M514 149h0.8M509.4 142.3h0.8M514.4 120.5h0.8M502.1 149.6h0.8M511.7 156.7h0.8M511.1 142.4h0.8M518.5 115.1h0.8M509.6 143.7h0.8M495.9 128.8h0.8M515.7 118.6h0.8M512.4 147.6h0.8M508.6 124.9h0.8M503.5 144.1h0.8M507.3 109.6h0.8M499.9 112.6h0.8M504.1 120.2h0.8M505.7 165.6h0.8M512 118.8h0.8M507.1 120.5h0.8M497.9 125.4h0.8M525.3 131h0.8M504.8 127.5h0.8M503.8 96.7h0.8M509.5 128.5h0.8M509.2 147.3h0.8M498.4 134.7h0.8M507.2 125.6h0.8M505.7 137.6h0.8M488.3 115.2h0.8M507.4 118h0.8M505.6 129.2h0.8M512.8 134.1h0.8M518 142h0.8M512.1 147.6h0.8M517.1 132.4h0.8M496.7 119.3h0.8M501.7 123.6h0.8M507 123.7h0.8M503.7 142.5h0.8M506.9 128.6h0.8M501.1 133.8h0.8M502.5 124.5h0.8M501.6 157.1h0.8M504 102.6h0.8M504.3 142.3h0.8M507.6 134h0.8M512.4 131.5h0.8M510.8 137h0.8M505.5 128.5h0.8M510.4 119.5h0.8M512.5 140.7h0.8M500.7 134.7h0.8M495.1 113.8h0.8M509.1 124.9h0.8M503.5 133.3h0.8M509.2 124h0.8M512.6 134.3h0.8M497.1 151h0.8M516.8 116.6h0.8M504.3 152.6h0.8M513.5 96.4h0.8M507.6 111.7h0.8M517.5 142.7h0.8M500.5 124.1h0.8M509.5 146.2h0.8M520.6 152.1h0.8M512.8 119.8h0.8M511.1 132.6h0.8M506.4 161.6h0.8M499.1 123.6h0.8M502.2 143.7h0.8M512.9 117.4h0.8M510.8 132.8h0.8M499.4 133.1h0.8M505.6 143.8h0.8M506.4 122.4h0.8M501.9 115.6h0.8M507.5 119.6h0.8M507.4 109.8h0.8M493.7 118h0.8M506.8 122.1h0.8M508.5 120h0.8M519 147.5h0.8M509 102.7h0.8M507.4 109.7h0.8M513.2 107.3h0.8M498.4 122.7h0.8M512.6 133.4h0.8M505.9 144h0.8M505.9 130.1h0.8M508 127.9h0.8M504.3 125.9h0.8M501.5 128.7h0.8M503.8 109.5h0.8M505.4 125.2h0.8M503.3 118h0.8M506.9 101.6h0.8M513.5 108.3h0.8M501.6 127.3h0.8M509.9 125.5h0.8M511.4 139.3h0.8M512.7 133.4h0.8M502.4 131.3h0.8M506.2 158.5h0.8M520.4 154.2h0.8M516.1 109.5h0.8M512.1 123.5h0.8M508.6 150.6h0.8M512.9 148.1h0.8M516.8 129.7h0.8M511 142.7h0.8M503.5 114.1h0.8M514.7 125.7h0.8M509.6 151.3h0.8M506.6 132.7h0.8M508.1 161.3h0.8M517.5 161.2h0.8M508.1 134.4h0.8M509.4 141h0.8M508.4 141.1h0.8M506.3 116.2h0.8M510.5 125.2h0.8M507.5 119.6h0.8M506.7 126.1h0.8M506.1 155.4h0.8M507.6 109.4h0.8M501.3 131.5h0.8M514 137.3h0.8M497.6 100.3h0.8M507.8 155.1h0.8M500.3 104.1h0.8M507.6 130.7h0.8M516.5 111.2h0.8M495.2 113.1h0.8M517.7 112.4h0.8M511.6 136.3h0.8M497.5 122.2h0.8M506.6 153.7h0.8M510.8 138.4h0.8M504.2 143.7h0.8M515.7 137.3h0.8M514.5 134.8h0.8M503.8 116.1h0.8M502.8 123.9h0.8M511.8 128.6h0.8M507.6 132h0.8M505.2 129.3h0.8M496.7 109.4h0.8M500.8 128.9h0.8M508.1 137.7h0.8M504.2 96.8h0.8M504.5 124.5h0.8M512.9 146.7h0.8M505.2 121.9h0.8M514.7 133.8h0.8M502.8 135.5h0.8M493.2 140.5h0.8M509.5 115.7h0.8M496.7 122h0.8M505.4 116.5h0.8M516.5 128.8h0.8M497.1 116.9h0.8M507.8 136.2h0.8M504.1 132.3h0.8M507.9 128h0.8M512.9 136.4h0.8M507.4 143.8h0.8M508.9 149h0.8M517.3 118.5h0.8M500.4 141.4h0.8M506.6 145.2h0.8M499.3 118.1h0.8M519.4 131.8h0.8M512.1 124.8h0.8M501.4 121.7h0.8M518.1 111.4h0.8M507.5 131.2h0.8M512.6 136.3h0.8M517 133.1h0.8M510.3 128.1h0.8M500.7 117.1h0.8M511.5 158.2h0.8M499.4 140.4h0.8M512.4 135.1h0.8M513.8 136.8h0.8M506.9 137.3h0.8M505.6 159.7h0.8M507.4 128.9h0.8M510.4 148.8h0.8M508.3 108.1h0.8M502.1 146.6h0.8M502.2 131.1h0.8M501.3 117.5h0.8M506 129.5h0.8M504.6 128h0.8M508.1 135.6h0.8M507.3 120.8h0.8M503.7 144.6h0.8M504.1 137.1h0.8M507.9 135.9h0.8M505.5 104.7h0.8M511.7 137h0.8M508.6 118.6h0.8M509.6 140.7h0.8M497.8 114h0.8M505.5 128.9h0.8M517.6 115.9h0.8M509.4 131.3h0.8M517.2 112.3h0.8M521.8 96.9h0.8M511.9 126.8h0.8M512.5 135.8h0.8M513 136.8h0.8M509.8 134.7h0.8M503.4 144.1h0.8M510.9 127.7h0.8M508.1 120.1h0.8M508.6 148.7h0.8M501.4 104.5h0.8M511.4 123h0.8M509.9 127.1h0.8M508.1 111.4h0.8M511.2 104.8h0.8M500.9 127.3h0.8M512.1 106.3h0.8M514.8 119.8h0.8M511.8 146.6h0.8M505.4 113.3h0.8M513.8 135.6h0.8M506.1 145.2h0.8M518.5 119.4h0.8M509.8 112.6h0.8M503.8 111.2h0.8M510.4 147.2h0.8M506.9 139.8h0.8M506.2 137.4h0.8M502.1 151.9h0.8M507.1 124h0.8M509 131.1h0.8M503 119.4h0.8M511.1 153.9h0.8M512.8 99.4h0.8M503.4 122.1h0.8M506.3 126.2h0.8M518.6 136h0.8M505.8 133h0.8M509.6 146.3h0.8M521.7 100.4h0.8M504.6 123.8h0.8M506.8 148.5h0.8M492.3 121.1h0.8M513.3 127.4h0.8M494.2 119.7h0.8M506.4 152.2h0.8M508.8 162.2h0.8M510.3 143.4h0.8M508 130.5h0.8M509.6 131.3h0.8M497.8 126.5h0.8M509.8 121h0.8M506.5 147.9h0.8M502 120.2h0.8M499.1 125.3h0.8M519 130.7h0.8M515.7 111h0.8M506.9 107.8h0.8M512.9 128.8h0.8M500.6 132h0.8M514.5 113.5h0.8M512 119.4h0.8M511.8 141h0.8M510.6 127.7h0.8M506.3 135.5h0.8M510.4 148.5h0.8M500.8 149.2h0.8M507.6 134.8h0.8M515 139h0.8M499.2 120.5h0.8M504.6 138.4h0.8M502.2 105.9h0.8M510.9 124.5h0.8M516.6 132h0.8M514.2 151.1h0.8M518 140.3h0.8M504.6 108.1h0.8M503 125.6h0.8M510.2 142.5h0.8M517.6 159.9h0.8M520.5 147.3h0.8M503.5 130.2h0.8M511.2 142.7h0.8M513.3 162.3h0.8M504 139.9h0.8M506.3 140.2h0.8M511.7 119.2h0.8M497 119.9h0.8M508.4 109.1h0.8M499.5 126.8h0.8M505.6 117.2h0.8M512.7 121.7h0.8M495.9 98.8h0.8M499.9 121.8h0.8M500.7 129.2h0.8M520.6 111.5h0.8M505.4 160.9h0.8M495.8 135.3h0.8M508.6 143.9h0.8M496.1 126.8h0.8M511.2 129.6h0.8M501 118.6h0.8M504.7 143.3h0.8M511.1 108.1h0.8M511.2 148.7h0.8M503.5 134.4h0.8M505.8 121.3h0.8M516.4 114.4h0.8M511.7 138.7h0.8M503.5 108.6h0.8M507 137.7h0.8M498 122.6h0.8M504.3 122h0.8M507.8 119h0.8M513.2 95h0.8M514.5 126.9h0.8M495.6 123.4h0.8M504.7 157.6h0.8M516.5 134.1h0.8M511.6 136.4h0.8M510.7 136.6h0.8M506 134.8h0.8M499.6 134.7h0.8M507.7 115.1h0.8M502.6 140.8h0.8M507.4 130.7h0.8M504.8 129.1h0.8M507.5 105.3h0.8M510 137.5h0.8M511.9 120.1h0.8M506.8 130.9h0.8M508.4 144.4h0.8M502.4 118.5h0.8M514.3 119.1h0.8M509 123.5h0.8M501.9 114.3h0.8M511.4 134.8h0.8M512.3 119.8h0.8M515.6 158.9h0.8M509.9 142.8h0.8M508.9 140.9h0.8M508.9 143.1h0.8M513.1 124.9h0.8M505.4 128h0.8M503.1 154.5h0.8M505.9 142.3h0.8M499.1 113.5h0.8M508.2 129.2h0.8M503.4 115.6h0.8M508.5 129.6h0.8M517.1 124.4h0.8M506.5 135.5h0.8M497.6 127.6h0.8M511.6 112.4h0.8M513.1 135.9h0.8M515 133.1h0.8M518.2 112.2h0.8M507.5 107.9h0.8M525.1 135.1h0.8M526.3 160.9h0.8M510.2 133.8h0.8M509.6 132.7h0.8M508.8 137.4h0.8M511 127.4h0.8M523.2 148.7h0.8M507.8 148.5h0.8M501.7 121.7h0.8M507.2 130.2h0.8M508.4 155.5h0.8M510.4 133.4h0.8M500.5 107.2h0.8M510.7 131.8h0.8M512.9 140.9h0.8M519.2 131h0.8M506.4 152.9h0.8M508.6 162.1h0.8M504 139.9h0.8M510.8 156.8h0.8M504.3 141.9h0.8M518.3 114.2h0.8M496.7 148.3h0.8M510.5 136.9h0.8M508.9 116.8h0.8M508.7 139.7h0.8M504.4 130.4h0.8M505.7 121.8h0.8M510.4 126h0.8M495.2 121.9h0.8M504.3 132.8h0.8M498.8 117.4h0.8M520.4 129.6h0.8M503.3 128.1h0.8M507.9 130.8h0.8M509.1 124.4h0.8M501.4 122.5h0.8M503.5 154.4h0.8M511.1 130.7h0.8M521.3 131.8h0.8M509.6 130.8h0.8M509.6 116.3h0.8M504.5 121.1h0.8M502.3 126.6h0.8M505.2 109.7h0.8M513 128h0.8M507.9 143h0.8M514 162.9h0.8M508.4 115.9h0.8M495.6 129.8h0.8M502.9 119.1h0.8M517.4 147.9h0.8M504.9 160.7h0.8M514.4 111.2h0.8M490.8 135h0.8M515.8 129h0.8M501.7 119.6h0.8M513.7 113.6h0.8M510.7 124.6h0.8M506.5 113h0.8M509 102.4h0.8M507.6 120.7h0.8M510.5 137.7h0.8M516.3 125.1h0.8M512.8 150.8h0.8M509.2 139.1h0.8M511 111.4h0.8M523 127h0.8M507.1 151.1h0.8M497.3 121.6h0.8M503.9 149h0.8M504.1 136.1h0.8M508.1 148.3h0.8M500 116.7h0.8M511.6 126.5h0.8M515.2 129.5h0.8M521.7 126.3h0.8M520.3 134.4h0.8M503.1 103.3h0.8M511.7 128.5h0.8M509.9 146.9h0.8M514.4 124.8h0.8M508 137h0.8M505.9 133.2h0.8M509.5 137.9h0.8M513.5 117.4h0.8M500.6 122.7h0.8M510.3 122.9h0.8M501 116.6h0.8M513.6 131.3h0.8M513.6 117.4h0.8M506.6 104.1h0.8M512.9 124.6h0.8M507.1 124h0.8M515 139.9h0.8M502.4 147.1h0.8M501.3 122.6h0.8M503.5 127.1h0.8M496.4 122.7h0.8M507.2 104.6h0.8M510.5 133.2h0.8M511.2 122h0.8M495.7 118.2h0.8M504.9 138h0.8M511.9 130.4h0.8M510.1 114.9h0.8M501.6 144.3h0.8M495.9 127.9h0.8M506 150.1h0.8M503.8 143.7h0.8M505.2 128h0.8M508.1 119.2h0.8M512.2 141.4h0.8M510.6 110h0.8M505 138.1h0.8M504.2 120.1h0.8M521.4 149.3h0.8M511.8 129h0.8M509.1 116h0.8M506.1 140.4h0.8M506.5 147.8h0.8M505.8 173.4h0.8M505.6 129h0.8M501 109.8h0.8M496.1 125.6h0.8M503.9 122.7h0.8M513.4 145.9h0.8M508.7 153h0.8M512.4 149.1h0.8M512.1 137.9h0.8M504.3 139.1h0.8M513 139h0.8M511.8 138.4h0.8M513.5 142.2h0.8M511.8 120.1h0.8M504.2 136.6h0.8M503 125.9h0.8M510.4 144.1h0.8M514.1 137.1h0.8M515.4 112h0.8M501.4 111.9h0.8M510 141.1h0.8M504 118.1h0.8M516.4 126.1h0.8M511.4 150.3h0.8M515.9 129.8h0.8M503.6 103.8h0.8M500.6 131.9h0.8M496.9 133.5h0.8M512.6 128h0.8M498.5 148.1h0.8M507.9 148h0.8M508.2 131.9h0.8M502 115.1h0.8M510.1 127h0.8M512.9 153.2h0.8M496.9 116h0.8M503.9 108.6h0.8M511.8 130.4h0.8M506.5 143.6h0.8M522 121.4h0.8M508.9 120.4h0.8M514.3 123.1h0.8M504.1 130.8h0.8M516.8 123.5h0.8M502.8 115.4h0.8M501.9 113h0.8M509.2 140.1h0.8M513.4 127.5h0.8M501.7 110.7h0.8M495.9 128.8h0.8M503 121.8h0.8M508.9 127.7h0.8M505.4 133.1h0.8M496.4 123.8h0.8M517.1 114.5h0.8M514.5 135.9h0.8M506.4 126.6h0.8M512.2 127.3h0.8M494.9 113.4h0.8M509.2 135.6h0.8M503 123.5h0.8M502.3 157.1h0.8M499.5 127.1h0.8M504.9 142.1h0.8M507.8 143.9h0.8M496.5 136.2h0.8M508 118.7h0.8M500.6 143.5h0.8M506.6 142.4h0.8M516.1 127.3h0.8M508.7 118.8h0.8M500.6 121.7h0.8M506.4 136h0.8M511.6 104.8h0.8M512.4 116.8h0.8M506 141.4h0.8M514.6 138.4h0.8M507.2 134.7h0.8M515.7 140.8h0.8M506.1 138.2h0.8M508.1 143.8h0.8M509.1 121.8h0.8M499 124.1h0.8M513.7 133h0.8M509.8 128h0.8M513.3 131h0.8M509.8 134.1h0.8M501.4 125.1h0.8M507.2 108.3h0.8M512.9 112.4h0.8M511.2 145.3h0.8M516.9 146.6h0.8M510.8 130.9h0.8M507.1 149.9h0.8M514.9 126.7h0.8M505.2 130.2h0.8M502.9 121.6h0.8M508.7 140.7h0.8M499.6 124.7h0.8M511.3 139.9h0.8M502.7 127h0.8M509.4 128.5h0.8M496.8 109.2h0.8M488.6 114.9h0.8M514.4 156.6h0.8M505.5 136.7h0.8M512.3 136.6h0.8M512.3 134h0.8M519 147.5h0.8M509.2 114h0.8M497.4 126.9h0.8M508.8 103.3h0.8M515.6 137.1h0.8M504.7 151.4h0.8M500.8 108.3h0.8M511.6 122.2h0.8M510.5 130.4h0.8M511.9 128.9h0.8M505.1 109.4h0.8M493.8 103.5h0.8M498.8 114.2h0.8M512.3 136.6h0.8M514.4 152.7h0.8M514.6 134.2h0.8M505.4 127.5h0.8M507 130.8h0.8M516.5 129.6h0.8M497 145.3h0.8M500.4 145.4h0.8M503.6 126.1h0.8M507.4 125.3h0.8M502.1 129.7h0.8M513 127.9h0.8M495.9 132.3h0.8M511.7 157.5h0.8M517.9 142.5h0.8M502.6 108.6h0.8M511.8 136.5h0.8M515.7 111.9h0.8M503.8 124.5h0.8M517.9 109.8h0.8M500.9 121h0.8M507.4 103.5h0.8M514.8 128.9h0.8M518.4 117.9h0.8M507.4 131h0.8M504.7 133.8h0.8M503.3 127.5h0.8M507.7 148.9h0.8M510.5 133.4h0.8M509.6 132.6h0.8M502.9 123.5h0.8M507.1 112.8h0.8M512.2 148.3h0.8M508.8 133.7h0.8M499.4 95.6h0.8M509.9 136.3h0.8M509.9 106.8h0.8M510.4 146.7h0.8M510.9 117.2h0.8M508.2 140.2h0.8M498.1 131.1h0.8M515.4 143.6h0.8M506.3 149.6h0.8M500.9 119.9h0.8M503.7 128.1h0.8M521.4 139.1h0.8M502.2 146.5h0.8M519.8 121.1h0.8M505.5 151h0.8M509.5 125.3h0.8M504.8 128.7h0.8M496.8 128.6h0.8M504.7 122.5h0.8M513.5 113.2h0.8M513.2 134h0.8M509.2 162.1h0.8M507.7 118.8h0.8M509.4 145.4h0.8M503.7 116.9h0.8M506.8 139.9h0.8M508.2 139.3h0.8M508.6 116.6h0.8M509.8 137.2h0.8M502.3 123.6h0.8M508.6 155h0.8M498.8 101.1h0.8M512.5 155.2h0.8M504.8 147.9h0.8M514.4 121h0.8M502.9 124.9h0.8M512.4 132h0.8M512.3 122.9h0.8M509 128.9h0.8M511.1 142.1h0.8M505.6 137.3h0.8M506 121.3h0.8M508.7 134.9h0.8M510.1 141.8h0.8M509.9 138.3h0.8M514.4 143.9h0.8M512.5 132.1h0.8M511.3 118h0.8M516.4 124.6h0.8M508.9 139.1h0.8M499 153.4h0.8M508.8 144.6h0.8M504.7 143.1h0.8M506.6 111.5h0.8M510.3 110.5h0.8M505.7 141.1h0.8M501.9 144.8h0.8M509.8 139.8h0.8M508.9 115.3h0.8M507.1 131.2h0.8M503 111.7h0.8M514.7 131.9h0.8M501.7 133.7h0.8M516.7 146.6h0.8M490.3 131.5h0.8M513.2 143.7h0.8M510.5 118.6h0.8M493.8 116.4h0.8M504.5 122.9h0.8M516.1 136h0.8M504.8 119.8h0.8M511.8 122.6h0.8M511.5 133.9h0.8M509.9 120.1h0.8M499.1 110h0.8M500.1 122.3h0.8M507.7 143.3h0.8M511.5 133.2h0.8M507.8 111.5h0.8M511.9 139.7h0.8M507.1 125.8h0.8M514.2 110.6h0.8M511.1 147.9h0.8M502.8 146.1h0.8M497.6 112h0.8M502.3 137.7h0.8M515.8 120.1h0.8M507.3 152h0.8M516.8 105.2h0.8M505.7 123h0.8M511.9 108.7h0.8M496.4 125.7h0.8M509.7 132.4h0.8M512.4 135.9h0.8M519.3 151.6h0.8M505.6 116.7h0.8M505.7 122.8h0.8M512.6 150.3h0.8M509.5 130.2h0.8M517.1 118.5h0.8M518.4 141.6h0.8M518.3 134.3h0.8M499.1 133.8h0.8M497.9 131.6h0.8M512 125.8h0.8M511.8 126.5h0.8M514.6 107.1h0.8M516.1 127.4h0.8M508.2 137.5h0.8M507 137.8h0.8M506.2 128.1h0.8M504.6 128.2h0.8M506.2 113.9h0.8M509 140.2h0.8M505.2 146.3h0.8M518.4 148.6h0.8M517.9 129.9h0.8M510.1 135.4h0.8M511.6 154.9h0.8M490.8 115.7h0.8M515.2 125.8h0.8M501.1 146.6h0.8M504.2 119.1h0.8M510.5 146.1h0.8M509.3 108.7h0.8M502.3 140.8h0.8M511.2 137.8h0.8M516.7 140.3h0.8M499 105.7h0.8M509.9 120.5h0.8M514.5 120.4h0.8M505.2 118.6h0.8M501.6 121.6h0.8M521.9 120.7h0.8M512.6 110.8h0.8M509.8 115.4h0.8M510.5 129.1h0.8M512.3 103.9h0.8M511.5 145.6h0.8M510.6 148.9h0.8M514.1 139.2h0.8M509.7 157.8h0.8M511.8 106.3h0.8M516 120.4h0.8M509 129.4h0.8M500.4 102.7h0.8M510 150.8h0.8M509.3 137.8h0.8M512 112.9h0.8M506.1 127.7h0.8M506.3 140.6h0.8M509.5 117.9h0.8M515.2 137.4h0.8M511.6 146.7h0.8M498 113.3h0.8M502.7 125.3h0.8M516.8 147.4h0.8M508.2 124h0.8M520.7 111.3h0.8M509.6 114.4h0.8M509.7 127.5h0.8M522.1 126h0.8M500.8 125.7h0.8M508.3 126h0.8M505.8 129.4h0.8M507.1 141.4h0.8M514.3 145.8h0.8M513.3 148.5h0.8M515.7 130.8h0.8M525.3 134.6h0.8M503.2 110.4h0.8M498.4 119.1h0.8M500.4 117.1h0.8M512.7 128.3h0.8M505.2 136.7h0.8M509.3 108.5h0.8M510.3 137.9h0.8M512.1 133.3h0.8M502.5 146.3h0.8M504.9 137.9h0.8M506.8 131.4h0.8M498.9 123.8h0.8M507 108.4h0.8M500.3 104.1h0.8M502.8 137.6h0.8M506.1 119.1h0.8M503 111.5h0.8M502 147.3h0.8M511.1 95.9h0.8M509.2 122.1h0.8M515.2 120.4h0.8M505.3 106.2h0.8M513.5 143.4h0.8M507.9 135.2h0.8M506.6 130.9h0.8M511.1 113.2h0.8M494.3 105.8h0.8M511 108.9h0.8M505.7 114.5h0.8M506.7 143.7h0.8M508 120.6h0.8M500.8 120.2h0.8M519.9 148.3h0.8M505.9 121.5h0.8M507.5 125.6h0.8M512.3 124.1h0.8M510.7 145.9h0.8M511.6 123.3h0.8M493.1 113.5h0.8M510.1 140.6h0.8M501.2 133.4h0.8M506.6 132.9h0.8M505.7 126h0.8M518.5 121.1h0.8M505.1 139.8h0.8M514.8 122.1h0.8M513.8 138.4h0.8M505.8 138.3h0.8M512.2 115.8h0.8M512.7 127.9h0.8M506.3 120.9h0.8M504.6 148.3h0.8M514.9 133.7h0.8M508.3 135.4h0.8M513.9 147.1h0.8M503.9 133.9h0.8M508 138.6h0.8M510 146.9h0.8M504.7 108.7h0.8M512.1 141.5h0.8M508.1 123.2h0.8M509.6 131.4h0.8M510.7 104.7h0.8M518.7 113.8h0.8M512.7 130.5h0.8M506.8 106.6h0.8M507.5 140.6h0.8M499.5 134.1h0.8M510.4 138.7h0.8M512.8 135.4h0.8M505.8 118.3h0.8M507.1 130.4h0.8M512.5 114.1h0.8M512.2 134.6h0.8M519.3 119.7h0.8M510.7 109.2h0.8M506.9 144.2h0.8M514.3 112.7h0.8M507.8 141.5h0.8M506.4 148.9h0.8M510.5 160.2h0.8M509.5 116.3h0.8M519.4 152.4h0.8M520.6 144.1h0.8M515.8 127.6h0.8M513.2 122.7h0.8M501.4 110.8h0.8M500.2 140.9h0.8M502 105.8h0.8M505.2 148.2h0.8M506.8 119.4h0.8M504.4 134.7h0.8M511 107.6h0.8M501.6 116.6h0.8M512.9 136.8h0.8M507.4 130.5h0.8M499.3 102.1h0.8M506.6 146.1h0.8M502 119.9h0.8M502.2 165.9h0.8M507.6 150.2h0.8M506.8 131.6h0.8M508.5 114.1h0.8M510.9 131.7h0.8M517 127.8h0.8M511.5 153.7h0.8M500.8 143.1h0.8M496.4 124.2h0.8M504.2 130.7h0.8M504.3 131.8h0.8M500.5 131.4h0.8M510.5 146.6h0.8M523.5 117.5h0.8M500.6 125.5h0.8M505.7 118.6h0.8M508.6 111.8h0.8M509.6 119.2h0.8M504.9 150.2h0.8M510.8 120.3h0.8M513.3 124.8h0.8M516.5 136h0.8M502 121.3h0.8M516.9 128.2h0.8M498.4 134.9h0.8M507.6 127.5h0.8M500.5 120.3h0.8M513.6 135.4h0.8M508.1 126.6h0.8M511.2 146.4h0.8M509.3 120.2h0.8M508 138.5h0.8M504.1 121.2h0.8M498.5 109.1h0.8M510.2 130.2h0.8M504.1 136.6h0.8M512.4 137h0.8M509.5 143.5h0.8M499.5 117.7h0.8M510.7 133.7h0.8M519.3 152.4h0.8M506.3 114.9h0.8M499.8 113.9h0.8M504.9 117.5h0.8M510.3 116.4h0.8M500.4 126.6h0.8M511.7 143.6h0.8M513.1 128.2h0.8M518.7 139.6h0.8M521.8 112.2h0.8M505.5 157.5h0.8M514 166.3h0.8M509.1 133h0.8M508.5 153.7h0.8M500 107.5h0.8M516.3 129.5h0.8M517.3 138h0.8M506.6 106.5h0.8M512.3 152.1h0.8M510.8 113.3h0.8M504.9 153.7h0.8M509.6 150.6h0.8M506.1 98h0.8M505.2 124.1h0.8M514 153.9h0.8M502.5 111.2h0.8M513.2 132.1h0.8M506.7 103.3h0.8M507.5 132.8h0.8M507.5 118.9h0.8M501.7 128.4h0.8M511.9 112.9h0.8M514.8 122.8h0.8M502 99.8h0.8M505.8 119.6h0.8M502.2 111.8h0.8M512.7 139.1h0.8M504.5 112.2h0.8M512.3 122h0.8M510.8 112.8h0.8M505.7 116.9h0.8M513.9 162.6h0.8M519.1 117.2h0.8M503.9 118.3h0.8M505.9 125.6h0.8M512.7 115.4h0.8M508.2 123h0.8M506.4 148.6h0.8M500.7 126.8h0.8M510.8 119.6h0.8M506.9 115.4h0.8M504.3 116.2h0.8M510.6 151.4h0.8M500.6 127h0.8M507.3 131.1h0.8M518.3 141.5h0.8M505.6 125.4h0.8M496.8 123.5h0.8M509.2 141.4h0.8M513.7 95.3h0.8M506.2 125.1h0.8M507.9 111.5h0.8M511.1 137h0.8M514.5 96.8h0.8M508.4 138.2h0.8M506.4 137.1h0.8M507.5 112.2h0.8M517.4 126.9h0.8M497.3 110.4h0.8M515.3 115.4h0.8M512.3 119.7h0.8M503.4 109.7h0.8M502 114.8h0.8M499.5 143.1h0.8M512.4 153.1h0.8M504.7 127.6h0.8M507.5 113.6h0.8M514 138.4h0.8M505.4 120.8h0.8M505.2 119.7h0.8M507.5 127.2h0.8M505.3 145.1h0.8M504.3 110.7h0.8M505.3 121.6h0.8M502 121.8h0.8M502.7 104.7h0.8M507.2 115.6h0.8M503.3 124.1h0.8M503.7 122.9h0.8M516 118.4h0.8M505.5 145.6h0.8M503.9 127h0.8M515.1 116.8h0.8M510.4 124.8h0.8M506.9 134.4h0.8M505.3 115.8h0.8M500.3 120.5h0.8M511.4 122.4h0.8M506.8 140.4h0.8M507.4 117.4h0.8M510 130.4h0.8M503.4 123.2h0.8M505.3 109.7h0.8M505.9 131.4h0.8M506.7 134.2h0.8M502.9 116.6h0.8M508.2 131.4h0.8M505 148.4h0.8M508.9 129.9h0.8M505.5 152.5h0.8M508.9 129.8h0.8M496.2 117h0.8M505.6 125.5h0.8M515 165.9h0.8M511.4 130.8h0.8M505.4 140.5h0.8M505.2 116.9h0.8M497.6 117.9h0.8M517 109.2h0.8M501.3 124.5h0.8M503.8 154.1h0.8M506 129.6h0.8M500.5 146.4h0.8M501.8 118.8h0.8M503.4 107.5h0.8M505 127h0.8M500.9 134.2h0.8M516.1 158.5h0.8M510.8 150.5h0.8M518.4 129.3h0.8M510 138.9h0.8M510.3 126h0.8M510.6 144h0.8M511.3 112.8h0.8M504.1 160.5h0.8M502.6 110h0.8M516.3 139h0.8M506.4 143.2h0.8M509.6 139.3h0.8M513.3 136.4h0.8M500.4 125.9h0.8M516.8 142h0.8M505.7 129.5h0.8M505.3 125.8h0.8M514 116.6h0.8M517.2 134.4h0.8M511.4 135.6h0.8M501.5 125.5h0.8M512.8 118.1h0.8M512.7 179.9h0.8M507.3 121.6h0.8M505.8 137.6h0.8M510.2 136h0.8M511.4 133h0.8M509.4 113.1h0.8M505.6 130.2h0.8M504.3 137.3h0.8M516 140.4h0.8M509.2 163.3h0.8M502.7 132.5h0.8M506.9 130.1h0.8M508.7 105.2h0.8M511.4 125.9h0.8M510.1 97.6h0.8M507.2 131.6h0.8M509.9 154.4h0.8M508 115.5h0.8M504.1 103h0.8M507.6 140.4h0.8M502.9 147.3h0.8M508.4 142.8h0.8M523.5 133.1h0.8M509.5 135.4h0.8M510.6 134.3h0.8M505 136.9h0.8M505.8 112.2h0.8M504.8 113h0.8M507.3 143.3h0.8M513.8 151.1h0.8M509.6 131.2h0.8M510.9 140.9h0.8M507.6 138.3h0.8M509.7 136.2h0.8M508.5 140h0.8M502.9 129.4h0.8M508.5 117.8h0.8M513.9 160.2h0.8M507.6 135h0.8M508.3 142.7h0.8M510.5 142.9h0.8M508.3 126h0.8M493.5 106.7h0.8M503 133.4h0.8M508.5 145.9h0.8M513 135.7h0.8M512.1 132.9h0.8M504.9 127.6h0.8M502.5 116.3h0.8M505 105.6h0.8M498.9 118.1h0.8M508.9 106.1h0.8M513.1 131h0.8M500.3 136.8h0.8M514.1 110.1h0.8M509.8 148.3h0.8M496.3 114.4h0.8M511.4 128.4h0.8M501.5 127.7h0.8M506.7 139.1h0.8M507.3 131.6h0.8M502.5 119.5h0.8M506.7 153.4h0.8M507.3 134.4h0.8M508.3 144.9h0.8M499.1 114.9h0.8M507 120h0.8M504.6 129.2h0.8M500.6 105.7h0.8M510.7 121.6h0.8M498.9 112.4h0.8M513.7 148.5h0.8M506.5 118.9h0.8M500.9 124.1h0.8M512.5 163.5h0.8M516.5 128.6h0.8M502.9 127h0.8M511.4 152.9h0.8M510.7 108.8h0.8M508 107.6h0.8M498.7 129h0.8M503.4 142.7h0.8M513 145h0.8M505.7 166.4h0.8M506.9 110.2h0.8M504.1 155.1h0.8M505.1 120.8h0.8M504.6 145.9h0.8M507.4 132.4h0.8M504.9 116h0.8M496.6 123.9h0.8M508.5 128h0.8M498.6 129.2h0.8M517.1 143.1h0.8M507.2 111.4h0.8M497.5 106.6h0.8M499.7 99.9h0.8M505 114.9h0.8M500.2 123.5h0.8M507.7 149.6h0.8M508.5 132.4h0.8M512.7 156.6h0.8M507.9 114.7h0.8M517.7 125.2h0.8M527.3 118.2h0.8M502.2 117.9h0.8M509.9 115.2h0.8M511.5 113.1h0.8M509.4 130.7h0.8M504.1 141.7h0.8M505.6 116.3h0.8M512.2 135.8h0.8M514.2 128.6h0.8M510 140.5h0.8M509.2 111.2h0.8M511.3 106h0.8M493.3 123.2h0.8M505.8 116.6h0.8M506.9 117.7h0.8M511.8 116.4h0.8M495.4 133.4h0.8M506.9 104.4h0.8M501.4 129.4h0.8M508.1 119.5h0.8M501.1 136.1h0.8M507.7 103.3h0.8M512 129.5h0.8M506.3 132.5h0.8M504.7 125.1h0.8M508.5 123.1h0.8M511.4 117.1h0.8M509.9 123.3h0.8M508.9 118.6h0.8M508 132.2h0.8M503.5 123.2h0.8M500.6 134.1h0.8M502.2 127.3h0.8M494.6 155.2h0.8M511.1 136.9h0.8M505.9 128h0.8M510.1 124.9h0.8M509.5 109.7h0.8M512.9 141.8h0.8M500.5 101.9h0.8M510.7 138.7h0.8M514.5 137.9h0.8M497.3 106.6h0.8M508.6 124.5h0.8M504.8 114.2h0.8M505.9 119.1h0.8M502.7 135h0.8M510.1 123.5h0.8M508 128.7h0.8M504.8 117h0.8M508.5 95.9h0.8M505.9 133.5h0.8M505.9 129.6h0.8M510.2 111.5h0.8M510.4 154.9h0.8M499.2 109.7h0.8M518.4 130h0.8M505.7 146h0.8M508.4 128h0.8M508.7 151.9h0.8M502.2 111.1h0.8M517.4 132.5h0.8M502.7 129h0.8M509.5 118.8h0.8M507.8 110.9h0.8M512 144h0.8M509.4 132.6h0.8M505.7 99h0.8M511.5 127.1h0.8M508.6 110h0.8M513.8 151.9h0.8M505.9 145.7h0.8M510.3 126.9h0.8M521.4 137.9h0.8M515.1 163h0.8M505.5 141.5h0.8M505.9 134.2h0.8M510 108.3h0.8M505.6 123.5h0.8M516.9 141.3h0.8M513.4 116.9h0.8M503.7 108h0.8M511.5 126.2h0.8M509.4 125.2h0.8M507.2 162.2h0.8M510.8 149.5h0.8M507 110.3h0.8M515.3 117.1h0.8M516.2 113.8h0.8M506.2 141.4h0.8M511.2 141.8h0.8M491.5 98.3h0.8M518.3 143.5h0.8M511 127.1h0.8M511.7 134.8h0.8M509.4 134.3h0.8M499.7 136.6h0.8M505.1 117.8h0.8M506.1 124.7h0.8M506 111.7h0.8M514.9 117.4h0.8M511.8 141.8h0.8M513.6 133.6h0.8M509.3 148.4h0.8M505.9 156.5h0.8M509.9 129.1h0.8M509.6 130h0.8M508.5 133.7h0.8M501.9 146.6h0.8M513.9 125.4h0.8M505.8 141.6h0.8M505 136.2h0.8M506.5 139.1h0.8M511.9 131.1h0.8M513.8 137h0.8M493.5 111.3h0.8M502.1 129.6h0.8M508.5 120.8h0.8M503.4 126.2h0.8M513.2 120.4h0.8M499.2 131.9h0.8M506.3 147.1h0.8M510.8 120.6h0.8M499.3 127.9h0.8M502.3 135.8h0.8M515 152.5h0.8M516.7 116.7h0.8M511.5 116.9h0.8M496.8 118.5h0.8M499.7 126.4h0.8M505.4 126.9h0.8M512.1 128.8h0.8M503.1 148.9h0.8M510.2 120.3h0.8M505.6 115.4h0.8M507.9 108.5h0.8M503.3 116.2h0.8M508.5 150.3h0.8M503.6 104.7h0.8M511.6 120.5h0.8M505.1 121.8h0.8M503.6 117.1h0.8M513.8 125.6h0.8M519.7 120.3h0.8M516.1 113.5h0.8M508.2 134h0.8M500.4 134.3h0.8M515.4 130.7h0.8M509 114.7h0.8M511.3 116.3h0.8M504.6 137.8h0.8M512.7 150.8h0.8M512.1 137.4h0.8M507.6 143.8h0.8M503.5 122.9h0.8M509 152.8h0.8M507.2 118.5h0.8M509.3 133.9h0.8M508.9 163.7h0.8M509.4 128.8h0.8M512.9 99.2h0.8M508.9 137.3h0.8M503.8 128.1h0.8M511.8 113.2h0.8M509.5 119.4h0.8M502.8 144.5h0.8M510.3 151h0.8M512.8 121.7h0.8M513.4 135.9h0.8M502.3 123.5h0.8M511.2 131.3h0.8M508.6 122.2h0.8M504.1 148.4h0.8M508 149.3h0.8M502.1 126.7h0.8M509.7 103.7h0.8M512.1 149.1h0.8M512 129.9h0.8M506.7 121.1h0.8M496.8 99.9h0.8M506.1 153.8h0.8M506.8 143.1h0.8M505.6 143.8h0.8M509.1 154.2h0.8M514.1 139h0.8M502.8 151h0.8M508.9 106.8h0.8M500.3 132.2h0.8M503.4 114.7h0.8M504.8 142.6h0.8M504 165.4h0.8M501.2 139.7h0.8M507.4 127.6h0.8M506 129h0.8M497.8 117.2h0.8M513 135.5h0.8M496.9 134.6h0.8M508.7 107.1h0.8M512.1 115.7h0.8M510.7 130.5h0.8M510.1 143.2h0.8M513.4 173.8h0.8M505.3 136.3h0.8M508.9 148.1h0.8M506.5 116.1h0.8M504.4 140.8h0.8M503.6 125.9h0.8M508.6 114.9h0.8M499.9 126.5h0.8M513.2 117.1h0.8M503.3 121h0.8M509.3 123.7h0.8M514.3 136.6h0.8M515.6 133.5h0.8M517.5 137.8h0.8M497.2 102.9h0.8M510.6 139.2h0.8M515.7 136h0.8M511.8 129.7h0.8M513.2 112.4h0.8M512.6 140.1h0.8M510.2 125.7h0.8M505.6 110.9h0.8M503.7 118.7h0.8M505 117h0.8M512.3 113.7h0.8M491.2 110.9h0.8M506.9 124.8h0.8M504 145.2h0.8M507.7 140.5h0.8M512.5 131.5h0.8M512.3 109.3h0.8M504.1 133.8h0.8M508.5 141.2h0.8M507.8 98.1h0.8M512.1 122.6h0.8M508.2 151.9h0.8M510.5 101.8h0.8M508.7 120.6h0.8M505.4 149.1h0.8M511.9 113.2h0.8M500.7 136.1h0.8M493.9 117.8h0.8M517.6 144.1h0.8M513.4 147.8h0.8M515.5 139.4h0.8M521 145.3h0.8M515.3 128.9h0.8M502.8 116.8h0.8M514.2 128.2h0.8M507.2 136.5h0.8M512.4 122.3h0.8M505.5 134.4h0.8M512.5 106.9h0.8M511.4 143.3h0.8M508 150.2h0.8M510.2 161.7h0.8M504.2 112.3h0.8M501.5 135h0.8M507.6 127.3h0.8M501.1 136.8h0.8M508.5 150.3h0.8M510.4 113.7h0.8M512 138.6h0.8M500.6 133.9h0.8M500.5 123.4h0.8M497.5 120h0.8M505 126.6h0.8M509.2 117h0.8M513.9 144.3h0.8M505.7 134.7h0.8M504.6 115.3h0.8M498.6 125.6h0.8M514.2 139.8h0.8M501.4 168.5h0.8M514.9 128.5h0.8M500.7 140.1h0.8M512.5 119.1h0.8M504.5 110.1h0.8M513.5 127h0.8M504.2 116.2h0.8M496.3 123.9h0.8M509.5 143.2h0.8M508.6 120.8h0.8M514.8 121.3h0.8M499.3 123.2h0.8M503.3 132.4h0.8M514.5 130.5h0.8M506.6 105.2h0.8M500.8 123.2h0.8M504.8 124.3h0.8M506 106.5h0.8M501.9 118.6h0.8M505.8 135.9h0.8M511.8 143.3h0.8M500.3 124.4h0.8M515.8 137.7h0.8M493.3 101.5h0.8M507 147.4h0.8M502.1 109.9h0.8M512.6 109h0.8M508.5 131.7h0.8M513 180.4h0.8M514.5 128.7h0.8M514.1 139.7h0.8M512.1 133.1h0.8M503 141.7h0.8M501.6 112.4h0.8M500.1 124.1h0.8M517 135.6h0.8M504.7 127.3h0.8M509 102.6h0.8M511.5 132.2h0.8M506.3 116.2h0.8M507.8 138.1h0.8M508.1 126.2h0.8M515.9 134.1h0.8M509.1 159.9h0.8M508.2 112.6h0.8M507 133h0.8M500.9 104.3h0.8M494.1 127.8h0.8M505.9 127.5h0.8M510.7 104.4h0.8M511.7 132.3h0.8M511.4 147.6h0.8M504.7 115.3h0.8M508.9 148.5h0.8M506.6 125.8h0.8M511.4 130.3h0.8M498.1 125.2h0.8M507.7 120.9h0.8M511.2 142.1h0.8M508.8 145.7h0.8M509 149.1h0.8M513 119.4h0.8M510.7 138.6h0.8M513.4 110.7h0.8M511.9 134.4h0.8M507.3 120.6h0.8M511.2 144.7h0.8M506.8 130.5h0.8M512.3 135.7h0.8M505.5 131.3h0.8M508.8 97.1h0.8M504.3 137.1h0.8M505.6 148.2h0.8M514.4 114.8h0.8M508.6 140.2h0.8M511.2 130.7h0.8M511.1 149.4h0.8M506 127.7h0.8M504.1 146.5h0.8M502.2 113.9h0.8M507.1 125h0.8M510.4 112.3h0.8M502.7 146.8h0.8M516.5 133.9h0.8M515.3 135.5h0.8M504.9 139.4h0.8M505.8 122.5h0.8M500.6 128h0.8M507.6 136.1h0.8M519.6 144.8h0.8M512.2 107.1h0.8M497.9 129.2h0.8M505.9 122.1h0.8M508.3 129.9h0.8M513.1 146.1h0.8M515.7 138.8h0.8M504.3 132.7h0.8M518.9 135.5h0.8M511.6 127.4h0.8M508.3 133.3h0.8M503.5 136.7h0.8M517 134.1h0.8M517.4 153.7h0.8M503.2 132.6h0.8M510.2 116h0.8M499.3 106.1h0.8M509.9 129.5h0.8M495.4 101.8h0.8M506.1 155.1h0.8M508.2 145h0.8M505.7 114.2h0.8M506.7 121.4h0.8M505.4 135.5h0.8M504.3 110.7h0.8M505.3 102.2h0.8M509.9 134.6h0.8M506 146h0.8M495.1 117.2h0.8M496.5 101.8h0.8M503.8 140.8h0.8M505.2 146.3h0.8M514.2 106.8h0.8M518.8 123.7h0.8M510.7 132.6h0.8M510.9 132.2h0.8M508.2 132h0.8M513.3 106.6h0.8M503.3 114.5h0.8M510.4 124.2h0.8M505.8 152.3h0.8M502.2 129.9h0.8M502.7 136.6h0.8M498.4 110.7h0.8M502.5 120.7h0.8M508.3 121.5h0.8M517.3 133.5h0.8M512.9 134.8h0.8M516.2 119h0.8M502.8 110.2h0.8M519 133.8h0.8M493.8 124.6h0.8M509.1 124.8h0.8M503.1 106.9h0.8M500.7 114.1h0.8M513.9 125.2h0.8M510.5 133.5h0.8M515 115.1h0.8M514.7 127.5h0.8M511.2 131.2h0.8M507.8 141.6h0.8M511.2 103.1h0.8M506.3 141.5h0.8M511.1 152.7h0.8M502 113.8h0.8M507.9 124.2h0.8M509.5 132.5h0.8M501 113.7h0.8M512 123.3h0.8M505.5 126.1h0.8M503.2 131.5h0.8M501.1 130.8h0.8M508.8 142.8h0.8M495.1 133.8h0.8M509.2 138.6h0.8M516.5 105.7h0.8M510.7 147.6h0.8M502.7 134.9h0.8M499.8 114.3h0.8M502.8 109.8h0.8M503.5 118.7h0.8M506.1 125.9h0.8M516.5 130.5h0.8M505.5 126.6h0.8M515.4 133.8h0.8M503.7 130.1h0.8M500.7 126.6h0.8M511.4 154.9h0.8M506.7 133.9h0.8M513.7 142.3h0.8M509.6 153.8h0.8M514.4 137.8h0.8M505.9 126h0.8M503.6 127.9h0.8M505.9 135.5h0.8M510.9 128h0.8M507.4 139.1h0.8M508 125.5h0.8M507.3 146.1h0.8M515.1 125h0.8M517.1 111.2h0.8M506.7 104.5h0.8M507.1 126.9h0.8M518.4 130.4h0.8M509.9 149.9h0.8M510.5 126.2h0.8M498.8 118.3h0.8M511.1 129.9h0.8M510.8 104.4h0.8M509.8 139.1h0.8M495.2 104.2h0.8M512.5 132.7h0.8M504.9 118.4h0.8M501.1 132.8h0.8M497.8 125.2h0.8M511.9 138.3h0.8M509.1 125.2h0.8M508 154.3h0.8M512.1 122h0.8M505.2 141.3h0.8M501.9 143.6h0.8M505.8 135h0.8M516.4 147.8h0.8M507.3 138.4h0.8M503.6 121.5h0.8M512.2 113.9h0.8M514.7 123h0.8M512.4 139.1h0.8M509.4 128.4h0.8M503 131.1h0.8M509.7 145.5h0.8M513.8 159.2h0.8M506.6 147.3h0.8M508.7 119.7h0.8M511.8 132.1h0.8M504.5 138.3h0.8M507.6 143.5h0.8M506.4 148.6h0.8M512.8 119h0.8M509.8 122.2h0.8M508.1 136.3h0.8M516.7 129.3h0.8M504.6 113.2h0.8M508.9 132.1h0.8M510.4 132.2h0.8M518.4 132.4h0.8M501.9 131.5h0.8M510.4 123.1h0.8M511.7 149.4h0.8M507.5 111h0.8M504.1 121.2h0.8M500.8 106.5h0.8M515.8 135h0.8M509.9 113.1h0.8M506.6 117.9h0.8M505.9 120.2h0.8M501.2 107h0.8M513.8 115.8h0.8M507.6 151.3h0.8M512.4 139.8h0.8M502.3 136.1h0.8M502.2 108.5h0.8M505.8 134.2h0.8M504.7 140.1h0.8M505 125.5h0.8M524.3 104.1h0.8M513 134.8h0.8M504.8 138.4h0.8M511.7 158.5h0.8M505.6 127.5h0.8M494.1 122.5h0.8M508.1 139.7h0.8M499 113.1h0.8M509.8 109.1h0.8M506.4 122.6h0.8M504.8 138.7h0.8M497.7 132.4h0.8M506.3 128.9h0.8M513.1 122.3h0.8M510.7 131.6h0.8M512 141.8h0.8M501.5 105.8h0.8M507 151.1h0.8M506.4 130.7h0.8M501.6 136h0.8M510.3 138.8h0.8M500.8 127.9h0.8M495.3 126.7h0.8M498.7 154.6h0.8M506.7 120.4h0.8M508.5 146.8h0.8M504 118.3h0.8M513.3 123.5h0.8M514.9 132.1h0.8M515.3 161.6h0.8M511.3 141.4h0.8M519.8 115.4h0.8M513.6 142.7h0.8M508.3 125.6h0.8M512.5 136.5h0.8M513.5 159.8h0.8M500.6 140.7h0.8M507.9 152.5h0.8M504.7 111.5h0.8M514 137.1h0.8M521.9 120.3h0.8M500.3 118.4h0.8M515.7 157.7h0.8M504.1 155.9h0.8M509 116h0.8M504.5 136.1h0.8M511.8 133.7h0.8M505.8 143h0.8M517.5 111.4h0.8M506.4 131.1h0.8M524.3 116.6h0.8M514.9 115h0.8M512 135.4h0.8M504.9 132.6h0.8M504.8 124.4h0.8M497.5 119.9h0.8M507.2 126.1h0.8M502.5 124.1h0.8M500.4 131.1h0.8M501 142.6h0.8M508.8 139.2h0.8M514.3 101.9h0.8M508.5 122.5h0.8M515.3 125.2h0.8M515 148.6h0.8M500.2 145.2h0.8M503.3 128h0.8M511.7 135.1h0.8M514.8 117.5h0.8M510 134.6h0.8M496 110.4h0.8M500.3 117.4h0.8M501.7 125.4h0.8M504.4 144.4h0.8M509.5 102.3h0.8M506.5 128h0.8M517 121h0.8M509.4 140.7h0.8M508.8 125.5h0.8M501.5 136.8h0.8M515.5 122.3h0.8M503 127.5h0.8M508.3 131.2h0.8M507.5 147.9h0.8M514 147.7h0.8M508.2 106.4h0.8M515.9 165.4h0.8M495.9 119.2h0.8M504.7 140.7h0.8M502.4 136.3h0.8M516.3 126.4h0.8M511.1 119.4h0.8M509.1 120.8h0.8M505.1 121.6h0.8M504.1 129.7h0.8M511.8 129.8h0.8M515.4 133.2h0.8M511.1 116.6h0.8M510.4 112.6h0.8M504.4 127.5h0.8M503.6 121h0.8M510.2 121.3h0.8M507 134.8h0.8M506.5 110.5h0.8M509.5 128.1h0.8M492.5 114h0.8M508.7 136.8h0.8M509.6 149.2h0.8M508.9 125.3h0.8M496.1 130.1h0.8M513.4 140.4h0.8M503.4 130h0.8M506.5 105.9h0.8M510.8 123.7h0.8M510 121.4h0.8M506.8 141.3h0.8M507.3 114h0.8M511.9 134h0.8M515.4 151.3h0.8M507.9 126.5h0.8M501.8 123.8h0.8M507.3 102.9h0.8M503 141.4h0.8M501.8 146.7h0.8M517.9 166.3h0.8M513.1 155.5h0.8M512.9 130.3h0.8M515.9 128.6h0.8M506.9 116.9h0.8M499.9 107.9h0.8M506.6 128.3h0.8M505.8 128.7h0.8M499.5 109.1h0.8M507.5 134.5h0.8M510.7 127.9h0.8M500.8 139.2h0.8M519 131.8h0.8M503.1 133.8h0.8M508.3 159h0.8M503.9 135h0.8M500.7 116.5h0.8M513.2 111h0.8M517.4 133.2h0.8M514.6 121.9h0.8M510.8 110.9h0.8M508.9 128h0.8M516.3 165.6h0.8M505.2 128.8h0.8M512.3 114.3h0.8M512 113.7h0.8M509.8 128.4h0.8M493.3 116.1h0.8M513.4 149.1h0.8M511.5 121.5h0.8M498.5 108.8h0.8M516.1 125.5h0.8M519.6 124.6h0.8M508.9 131.9h0.8M508.7 138.3h0.8M505.8 135.4h0.8M514.1 145.1h0.8M506.5 132.5h0.8M496.4 129.1h0.8M510.1 111.4h0.8M493.2 111.6h0.8M501.2 136.2h0.8M506.3 132.5h0.8M504 142h0.8M503 119.9h0.8M507.7 127.9h0.8M512 147.3h0.8M509.6 145.3h0.8M515.3 126.5h0.8M508.9 134.2h0.8M500.8 137.5h0.8M506.5 132.2h0.8M506.2 114.7h0.8M511.4 139.6h0.8M510.6 122.3h0.8M503.6 131.8h0.8M511.1 128.1h0.8M508.6 148.2h0.8M511.2 145.2h0.8M501.7 128h0.8M512.5 121.6h0.8M504.8 130.5h0.8M504.7 139.9h0.8M504.7 128.3h0.8M503.7 136.9h0.8M504.8 118.4h0.8M511.1 117.1h0.8M502.9 95.4h0.8M504.1 136.3h0.8M508 144.8h0.8M510.7 129.2h0.8M509.9 138.7h0.8M511.6 115.1h0.8M515.4 138.7h0.8M505.3 150.5h0.8M500 119.6h0.8M508.3 140.5h0.8M514.5 121.7h0.8M502 128.2h0.8M509.4 123.7h0.8M513.3 153.5h0.8M509 122.2h0.8M509 103.1h0.8M504.6 146.3h0.8M511.7 152.2h0.8M506.5 134.8h0.8M512.2 144.7h0.8M516.3 121.8h0.8M506 135.2h0.8M515.1 145.2h0.8M510.1 124.2h0.8M508.5 134.8h0.8M506.4 117.2h0.8M506.1 111.2h0.8M507.2 133.1h0.8M511.3 130.3h0.8M505.6 128.3h0.8M510.8 120.5h0.8M512.6 121.6h0.8M504.3 140.2h0.8M507.3 128.3h0.8M490.6 107.9h0.8M504.4 139.4h0.8M505.3 135.2h0.8M516.7 120.3h0.8M509.3 130.5h0.8M501.3 134.4h0.8M509.8 135.1h0.8M509.4 154.7h0.8M512 128.6h0.8M519.7 120h0.8M509.5 126.4h0.8M519.5 109.7h0.8M500.3 122.2h0.8M502.8 105.1h0.8M502.3 105.4h0.8M507.3 112.4h0.8M506.7 154.2h0.8M514.9 123.2h0.8M510.2 131.1h0.8M507.3 108.8h0.8M501.3 134.3h0.8M511.1 130.3h0.8M511 126.4h0.8M516.4 141.9h0.8M507.8 125.3h0.8M503.1 142.2h0.8M509.3 123.7h0.8M514.6 139.1h0.8M514.2 143.4h0.8M493.7 108.6h0.8M509.1 145.8h0.8M500.6 153.7h0.8M513.2 129.5h0.8M510.2 125.1h0.8M497.5 144.3h0.8M506 119.5h0.8M516.3 132.1h0.8M519.4 152.9h0.8M506.3 130.6h0.8M514.1 120.7h0.8M513.5 113.5h0.8M517.1 128.9h0.8M511.2 125.3h0.8M520.5 105.1h0.8M501.3 126.4h0.8M498.8 115.9h0.8M504.9 121.7h0.8M511.1 138.9h0.8M515.8 140.2h0.8M516.1 142h0.8M515.4 113.2h0.8M506.2 139.1h0.8M513.2 150.9h0.8M517.9 116.6h0.8M505.3 143.1h0.8M517.4 133.5h0.8M507.7 114.7h0.8M504.1 117h0.8M507.6 157.3h0.8M508 105.5h0.8M505.2 122.4h0.8M498.6 98h0.8M505.4 131.7h0.8M510.9 146.8h0.8M512.3 126.5h0.8M512.1 142h0.8M508.4 136.1h0.8M501.2 122.5h0.8M509.2 137.1h0.8M509.4 134.6h0.8M508.2 124.3h0.8M518.2 128.6h0.8M511.4 112.7h0.8M516.6 147.5h0.8M507.4 124h0.8M508.3 124.1h0.8M506.6 162.3h0.8M500.4 163.8h0.8M511.1 125.9h0.8M500.5 96.3h0.8M516.8 124h0.8M504.3 150.1h0.8M511.2 137.1h0.8M512.5 130.4h0.8M506.6 118.6h0.8M512.2 137.8h0.8M506 133h0.8M506.2 116.8h0.8M505.9 122.1h0.8M501.3 139.4h0.8M515.3 118.5h0.8M516.6 156.5h0.8M519.6 129.9h0.8M505.4 138.7h0.8M513.2 107.3h0.8M497.6 103.7h0.8M504.3 129.5h0.8M500.9 107.8h0.8M518.4 129.8h0.8M510.1 108.4h0.8M505.3 130.3h0.8M511.9 147.7h0.8M504.9 113.4h0.8M513.5 167.8h0.8M512.5 112.2h0.8M504.4 137.9h0.8M502.4 130.7h0.8M505.8 140.4h0.8M505.5 123.3h0.8M515.7 125.2h0.8M513.9 137.3h0.8M502.6 168.3h0.8M511.6 140.2h0.8M506.4 167.2h0.8M505.6 137h0.8M509.4 120.4h0.8M514.5 133.5h0.8M506.8 111.1h0.8M511.3 134.6h0.8M500.3 129.3h0.8M520.2 132.3h0.8M506.5 151.6h0.8M502.2 131h0.8M512.1 114.4h0.8M523.8 145.9h0.8M510.6 131.9h0.8M509.8 128h0.8M511.5 133.9h0.8M513 118.6h0.8M494.3 131.9h0.8M511.9 104h0.8M499.8 130.8h0.8M497.2 117.8h0.8M494.5 126.7h0.8M506 114.1h0.8M504.2 129.3h0.8M507.5 128h0.8M501.2 133.9h0.8M518 121.6h0.8M505.6 122.4h0.8M498.7 113.7h0.8M499.9 112.3h0.8M507.9 122.6h0.8M510.6 113.5h0.8M511.6 133.5h0.8M512.7 107.4h0.8M506.3 128h0.8M500.2 128.8h0.8M501.5 121.1h0.8M505.3 129.1h0.8M502 105.4h0.8M508.9 158.7h0.8M512.2 137.7h0.8M517.9 142.5h0.8M516.9 143.3h0.8M508.9 97.2h0.8M518.7 160.1h0.8M509.8 122.1h0.8M506.6 115.1h0.8M512.1 111.1h0.8M502.6 124.1h0.8M505.9 100.2h0.8M500.2 149.2h0.8M505.7 113.2h0.8M513.3 119.5h0.8M501 117.7h0.8M502.4 128.7h0.8M505.3 141.5h0.8M517.3 136.6h0.8M499.6 126.7h0.8M510.6 121.3h0.8M507.8 106.4h0.8M516.7 147h0.8M517.1 126.8h0.8M505.7 121.4h0.8M500.1 136.4h0.8M516.6 128.2h0.8M500.6 125.5h0.8M500.8 134.1h0.8M507.8 142.7h0.8M503.3 131.1h0.8M504.6 122.4h0.8M509.7 139.4h0.8M500.8 141.4h0.8M511.7 133.1h0.8M499.1 107.4h0.8M512.7 127.8h0.8M504 118h0.8M511.2 142.2h0.8M503.2 138.3h0.8M506.1 141.2h0.8M514.9 125.2h0.8M507.7 146.5h0.8M517 131.4h0.8M501.9 114.9h0.8M506.4 113.6h0.8M507.4 122.8h0.8M513 119.7h0.8M503.1 142.4h0.8M506.1 132.9h0.8M506.2 127.5h0.8M508 130.6h0.8M507.2 139.9h0.8M504.3 137.9h0.8M511.9 113.2h0.8M506.3 117.1h0.8M514.4 116.4h0.8M500.9 110h0.8M505.4 138.1h0.8M511.6 145.2h0.8M511.8 156.3h0.8M517 133.3h0.8M521.2 121.7h0.8M501.2 133.7h0.8M517.6 144.3h0.8M519.8 125.7h0.8M512.9 133h0.8M519.7 115.3h0.8M508.4 116.1h0.8M518.2 96.3h0.8M511.6 124.3h0.8M496.1 121.8h0.8M502.5 135.7h0.8M502.6 128.4h0.8M512.5 124.8h0.8M516.9 135.4h0.8M502.9 134.7h0.8M516.4 131h0.8M511.1 140.2h0.8M504 141.1h0.8M519.2 123.5h0.8M507.3 143.7h0.8M504.9 127.1h0.8M496.4 125.7h0.8M506.5 126.3h0.8M499.3 112.4h0.8M517.5 122.4h0.8M506.2 117.1h0.8M510.1 116.6h0.8M505.6 157.8h0.8M512.2 154.9h0.8M511.4 163.6h0.8M493.7 112.8h0.8M505.4 132.9h0.8M511 117.6h0.8M498 139.9h0.8M508.4 133.4h0.8M514.5 124h0.8M511 135.4h0.8M504 135.6h0.8M526.5 109.2h0.8M499 142.1h0.8M507.5 108.7h0.8M502.2 120.4h0.8M506.5 146.9h0.8M509.8 112.7h0.8M509.4 140.8h0.8M503 127.3h0.8M512.2 124.5h0.8M498.8 110.1h0.8M505.7 123.6h0.8M507.5 108.4h0.8M501.3 121.3h0.8M513.5 131.6h0.8M510.3 136.4h0.8M506.4 122.4h0.8M513 128h0.8M510.2 130.2h0.8M504.7 139.3h0.8M507 123.2h0.8M497.6 118.4h0.8M510.2 135h0.8M504.4 138.3h0.8M504.6 128h0.8M502.1 115.1h0.8M505.4 137.6h0.8M515.8 119.9h0.8M520 123.3h0.8M497 126h0.8M510.9 153.9h0.8M500 124.5h0.8M499.3 129.2h0.8M501.9 141.3h0.8M509.3 108.2h0.8M504.3 144.6h0.8M514.4 136.8h0.8M511.4 113.6h0.8M516.2 133.1h0.8M521.2 133.4h0.8M510.4 138.4h0.8M510.3 145.4h0.8M496.6 139h0.8M503.7 138.3h0.8M514.2 104.5h0.8M504 116.9h0.8M517.6 142h0.8M492.1 104.8h0.8M511.3 150.8h0.8M510.6 121.1h0.8M514.5 134h0.8M508.6 115.8h0.8M494.7 117.5h0.8M504.4 126.5h0.8M505.3 143.3h0.8M518.4 127.6h0.8M508.2 127.2h0.8M506 115.4h0.8M500.3 128h0.8M499.3 108h0.8M507.5 153.2h0.8M524.3 128.9h0.8M508.6 129.9h0.8M501.1 132.5h0.8M514.5 143.2h0.8M509.4 132.1h0.8M508.1 122.5h0.8M513.2 117.5h0.8M496.4 110.5h0.8M515.1 126.3h0.8M504.2 117.3h0.8M503.8 111.9h0.8M510.6 119.8h0.8M517 132.6h0.8M509.8 110.9h0.8M509.6 140.5h0.8M502.4 141.4h0.8M506.4 132.4h0.8M504.6 133.2h0.8M497.9 103.1h0.8M507.2 151.4h0.8M511 133.7h0.8M509 110.4h0.8M507.9 106h0.8M515.4 105.5h0.8M509.1 133.7h0.8M511.3 146.3h0.8M511.7 124.9h0.8M506.8 161.5h0.8M508.2 105.4h0.8M509.4 146h0.8M506.6 137h0.8M503.3 121h0.8M498.6 112.2h0.8M512.1 132.5h0.8M504.5 121.4h0.8M497.9 122.8h0.8M502.3 95.5h0.8M508 154.6h0.8M509.2 107.1h0.8M508.7 107.2h0.8M505.5 142.9h0.8M505.8 133.7h0.8M521.2 131.2h0.8M505.9 138.9h0.8M514.2 125.3h0.8M507 118.1h0.8M504.2 115.1h0.8M504.5 140.8h0.8M494.6 135.3h0.8M501.5 131.9h0.8M505.8 149.5h0.8M508.1 140.3h0.8M503.7 112.2h0.8M519.3 140.8h0.8M520.7 154.8h0.8M512.9 139.3h0.8M496.9 122.6h0.8M499.1 112.6h0.8M511.3 146.3h0.8M508 151.6h0.8M508.4 157.7h0.8M509.1 111.9h0.8M503.8 122.4h0.8M503.7 144.1h0.8M507.6 113.5h0.8M505.3 122.5h0.8M500.5 97.4h0.8M497 138.5h0.8M513.8 128.7h0.8M510.4 139.6h0.8M505.5 135.6h0.8M509.8 149.6h0.8M506 128.7h0.8M506.1 150.1h0.8M521.7 151.2h0.8M509 141.9h0.8M492.4 111h0.8M507.6 148.7h0.8M507.2 131.3h0.8M517.3 128.9h0.8M505.6 144.7h0.8M513.3 127.2h0.8M498.4 130.3h0.8M523.9 135.6h0.8M507.3 111.1h0.8M510.8 151.9h0.8M517.3 139.7h0.8M503.6 121.5h0.8M494.1 119.7h0.8M519 138.5h0.8M507.9 110.2h0.8M499.5 98.1h0.8M511.3 142.3h0.8M510.1 130h0.8M501.6 145.5h0.8M501.2 126.2h0.8M511.8 126.1h0.8M507.2 116.4h0.8M502.8 124.4h0.8M507.5 127.6h0.8M510.1 140.9h0.8M511.2 115.7h0.8M513.7 110.3h0.8M502.3 126.3h0.8M509 128.7h0.8M496.6 150.3h0.8M509.7 117.9h0.8M503.3 137.1h0.8M503 114.4h0.8M506.6 167.7h0.8M518.7 122.8h0.8M507.8 121.1h0.8M511.8 122h0.8M512.6 114.6h0.8M504.5 121.5h0.8M510.4 129.6h0.8M502.5 135.7h0.8M500.8 134h0.8M513.3 113.9h0.8M509.6 127.2h0.8M500.9 129.6h0.8M508.1 117.5h0.8M498.1 129.5h0.8M498.1 126.1h0.8M511.1 126.9h0.8M517.3 128.4h0.8M503.7 110.3h0.8M512.4 153.6h0.8M508.5 125.8h0.8M497.9 123.7h0.8M502.4 117.1h0.8M498 130.3h0.8M504.9 129.6h0.8M510.9 131.6h0.8M508 148.9h0.8M507.1 109.6h0.8M502.7 117.3h0.8M512.9 150.5h0.8M508.4 122.7h0.8M499.5 143.2h0.8M510.7 142.7h0.8M504 120.3h0.8M505.1 134.8h0.8M500.4 110.1h0.8M512.2 132.8h0.8M505.6 113h0.8M496.8 119.3h0.8M517.6 115.9h0.8M510.3 153.7h0.8M502.9 110.6h0.8M507.4 126.8h0.8M506.6 135.6h0.8M508.2 134.7h0.8M507.1 116.1h0.8M507.6 110.2h0.8M506.1 130.4h0.8M506.3 116.6h0.8M495.5 122.3h0.8M507.8 139.3h0.8M517.3 121.7h0.8M503.5 132.3h0.8M494.8 125.8h0.8M506.6 108h0.8M508.6 129.9h0.8M504.5 128.7h0.8M508.6 141h0.8M511.3 105.4h0.8M511 131.9h0.8M500.9 111.7h0.8M504 117.3h0.8M501 117.9h0.8M518 136.2h0.8M505.7 105.6h0.8M493.1 108.3h0.8M516.4 140.9h0.8M512.7 151.2h0.8M495.8 127.2h0.8M512 158.8h0.8M511.2 136.3h0.8M501.1 118.4h0.8M506.3 128.2h0.8M511.6 130.2h0.8M508.8 139.8h0.8M506.7 108.5h0.8M516.3 117.9h0.8M511.2 146.4h0.8M501.4 125.6h0.8M504 131.8h0.8M516 114.8h0.8M518.2 142.3h0.8M506.3 128.2h0.8M504.3 114.6h0.8M520.1 128.9h0.8M516.3 148.4h0.8M508.5 121.4h0.8M508.7 133.9h0.8M513.3 136.8h0.8M516.7 144.9h0.8M517.7 128.4h0.8M509.8 147.5h0.8M511.3 143h0.8M514.4 124.4h0.8M515.1 135.6h0.8M508 123.8h0.8M509.9 123.5h0.8M503.1 112.4h0.8M505.1 169.4h0.8M510 170.3h0.8M509 159.2h0.8M507.9 172.4h0.8M509.1 149.5h0.8M517.4 147.3h0.8M510.3 168.1h0.8M504.9 164.7h0.8M511.1 180.1h0.8M502.2 175.7h0.8M505.5 175.6h0.8M515.8 147.6h0.8M509.7 156.6h0.8M509.9 162.5h0.8M505.1 147.7h0.8M498.7 167.1h0.8M508.4 152.5h0.8M515.3 177.4h0.8M505.6 167.9h0.8M517.4 174.1h0.8M516.1 174h0.8M515.1 172.4h0.8M505.3 175h0.8M510.8 169.9h0.8M509.8 165.2h0.8M502.5 161.7h0.8M509.2 149.5h0.8M504.4 159.5h0.8M511.7 175.9h0.8M509.4 170.2h0.8M513 157.9h0.8M509.2 176.2h0.8M506.9 169.6h0.8M508.2 152.2h0.8M520.1 176.9h0.8M521.4 179.3h0.8M506.8 155h0.8M509 149.5h0.8M506.3 148.5h0.8M505.5 162.3h0.8M504.9 158.7h0.8M510.8 151h0.8M507 156.5h0.8M517.4 174.3h0.8M513.8 169.6h0.8M516.8 167.9h0.8M512.8 150.8h0.8M514.7 169.9h0.8M518.1 148.6h0.8M518.5 166.8h0.8M510.3 172.3h0.8M514.1 180.2h0.8M499.5 156h0.8M520.1 147.6h0.8M509.3 164.6h0.8M506.5 150.2h0.8M506 156.1h0.8M516.1 180.8h0.8M516.4 158.3h0.8M508.9 155.9h0.8M504.6 151.6h0.8M515.1 156.4h0.8M512.5 169.2h0.8M512.5 162.9h0.8M513.3 172.7h0.8M513.9 169.4h0.8M502.7 178.7h0.8M507.9 180.2h0.8M508.8 155.1h0.8M511.2 154.4h0.8M506.4 148.7h0.8M509.5 148.9h0.8M519.3 170.6h0.8M511.8 167.6h0.8M512.5 171.7h0.8M509.3 161.7h0.8M513.9 170.1h0.8M513 179.8h0.8M510.6 176h0.8M516.4 167.3h0.8M511.2 171.5h0.8M513.9 179.2h0.8M513.1 159.8h0.8M512.5 149.3h0.8M512 147.9h0.8M508.4 158.3h0.8M510.5 151h0.8M510.8 147.5h0.8M509.5 149.4h0.8M499.7 168.7h0.8M490.6 170.7h0.8M505.5 169.9h0.8M509.4 170.8h0.8M512.8 160.8h0.8M511.9 147.6h0.8M519.4 160.2h0.8M505.5 155.3h0.8M504.7 173.7h0.8M510.4 172.7h0.8M509.6 167.2h0.8M506.2 159.9h0.8M505.6 147.6h0.8M512.8 147.1h0.8M507.5 156h0.8M507.3 166.2h0.8M509.6 146.9h0.8M512.3 151.8h0.8M513.8 155.7h0.8M514.1 157.5h0.8M514.3 164.9h0.8M514.4 181h0.8M511.5 158.8h0.8M511.2 168h0.8M507.6 166.6h0.8M518.2 160.6h0.8M516.1 150.7h0.8M508.4 180.5h0.8M508.7 166.2h0.8M501.9 171.8h0.8M517.5 158.3h0.8M512.8 149.8h0.8M516.6 155.7h0.8M512 161.7h0.8M516.7 172.3h0.8M502.7 173h0.8M499.7 169.2h0.8M516.4 177.7h0.8M499.7 156h0.8M505.2 165.4h0.8M513 174h0.8M501.6 151.9h0.8M515 180.8h0.8M510.8 175.3h0.8M507.7 147.6h0.8M510.9 168.3h0.8M511.2 172.9h0.8M519.9 156.5h0.8M515.1 155.7h0.8M506.8 156.9h0.8M507.7 170.2h0.8M502.9 175.2h0.8M514.1 167.5h0.8M509.2 159.8h0.8M516.3 181.2h0.8M512.1 162.5h0.8M509.1 163.3h0.8M502.8 148.5h0.8M517.6 178.9h0.8M505.1 177.9h0.8M510.7 168.4h0.8M508.7 151.1h0.8M517.2 178.4h0.8M511.5 147.3h0.8M503.3 157.7h0.8M514.2 179.3h0.8M510.8 175.3h0.8M518.2 165h0.8M511 155.9h0.8M517.2 162.4h0.8M505.5 159.5h0.8M505 165.3h0.8M505.6 149.3h0.8M503.5 169.9h0.8M512.2 171.8h0.8M496 173.4h0.8M510.3 150.2h0.8M506.4 151.7h0.8M513.8 165.1h0.8M515.3 152.6h0.8M513.1 163.2h0.8M503.8 150.3h0.8M507.9 164.4h0.8M509.1 180.5h0.8M513.4 165.2h0.8M511.6 149.6h0.8M509.3 166.7h0.8M514 160.7h0.8M520.1 177.8h0.8M511.5 178.5h0.8M507 166h0.8M508.4 179.3h0.8M511.9 173.4h0.8M520.8 179.6h0.8M512.9 172.6h0.8M511.7 162h0.8M506.7 163.9h0.8M512.4 177.4h0.8M511.4 165.2h0.8M507.7 178.7h0.8M511 156.7h0.8M519 170.5h0.8M504.2 159.2h0.8M502.5 156.9h0.8M510.6 152.4h0.8M519.4 179.2h0.8M507.1 165.3h0.8M507.3 165.7h0.8M509.5 147.5h0.8M503.7 162.4h0.8M518.2 167.6h0.8M503.5 148.9h0.8M516.6 179h0.8M510.3 167.1h0.8M508.8 174.2h0.8M511.7 156.4h0.8M501.3 147.5h0.8M511.5 172.4h0.8M506.9 154h0.8M522 165.9h0.8M500.5 151.6h0.8M510.3 176.4h0.8M503.4 157.6h0.8M518 162.6h0.8M507.1 162.3h0.8M508 161.4h0.8M514.4 151.8h0.8M505.6 158.8h0.8M514.4 148.3h0.8M508.3 148.6h0.8M514.5 148.8h0.8M512.3 179.3h0.8M515.1 176h0.8M507.1 178.7h0.8M504.6 173.5h0.8M494.6 150.5h0.8M514.5 153h0.8M518.6 175h0.8M500.2 177.8h0.8M513.5 154.6h0.8M510.4 168.4h0.8M512.8 174.1h0.8M502 174.9h0.8M493.7 164.3h0.8M513.2 172.3h0.8M500.3 168.3h0.8M513.5 164.2h0.8M507.1 168h0.8M522.1 159.3h0.8M507.3 170h0.8M513.3 177.7h0.8M504.2 153.1h0.8M508.4 168.7h0.8M510.2 166.5h0.8M511.4 155.5h0.8M514.6 173h0.8M512.9 163.7h0.8M502.9 160.8h0.8M509.8 179.3h0.8M506.6 154.6h0.8M510.1 152.9h0.8M509.7 158.6h0.8M516.4 173h0.8M503.6 161.2h0.8M503.4 162.6h0.8M512.2 180.3h0.8M508.8 176h0.8M513 167.6h0.8M512.3 167.7h0.8M510.5 171.4h0.8M521.1 150.4h0.8M508 178.4h0.8M506.9 155.3h0.8M516.9 156.7h0.8M518.8 170.1h0.8M516.6 173.4h0.8M502.6 162.1h0.8M517.7 165.6h0.8M503.1 151.1h0.8M506.4 174.5h0.8M515 153.9h0.8M503.8 152.7h0.8M499.9 147h0.8M499.3 160.4h0.8M513 174.1h0.8M513.3 161.6h0.8M512.5 172.6h0.8M516.5 163.7h0.8M521.8 169.7h0.8M510.6 171.2h0.8M509.6 173.7h0.8M509.6 157.2h0.8M500.5 154.4h0.8M513.2 176.6h0.8M509 177.8h0.8M517.5 181.4h0.8M517.9 170.3h0.8M509.6 179h0.8M500.9 173.5h0.8M512.3 157h0.8M506.9 172.6h0.8M511.5 150.7h0.8M511.9 177h0.8M511 174.5h0.8M509.3 151.1h0.8M507.9 162.6h0.8M512.3 176.2h0.8M508.8 156.1h0.8M515.7 146.8h0.8M516.8 168.8h0.8M503.4 154.3h0.8M514.9 180.7h0.8M504.1 148.9h0.8M509.2 173.4h0.8M508.7 153h0.8M511.1 180.3h0.8M503.9 174.9h0.8M520.4 178h0.8M514.9 163.7h0.8M508.1 150.7h0.8M506.3 148.4h0.8M511.1 169.5h0.8M501.5 147.9h0.8M512.6 175.9h0.8M503.6 152.1h0.8M500 159.6h0.8M507.8 160.2h0.8M508.9 154.7h0.8M504.2 163.8h0.8M509.4 171.3h0.8M513.8 167.3h0.8M514.7 167.6h0.8M516.4 156.8h0.8M506.5 159.1h0.8M513 177.7h0.8M509.2 152.9h0.8M514.9 152.7h0.8M510.7 151.4h0.8M510.9 168.6h0.8M512 152.3h0.8M511.1 149.4h0.8M512.6 175.4h0.8M514.6 161.5h0.8M507.3 154.8h0.8M509.9 180.7h0.8M516.3 178.2h0.8M507.8 180.7h0.8M510.8 165.1h0.8M509.2 149.8h0.8M514.5 153.1h0.8M513.2 174.5h0.8M506 166.7h0.8M504.5 163.9h0.8M515.4 176.8h0.8M508.3 179.3h0.8M503.9 172.7h0.8M515 174h0.8M512 166.5h0.8M507.1 181.3h0.8M503.9 147.7h0.8M512.2 158h0.8M509.7 159.7h0.8M509.4 147.1h0.8M512.7 178.9h0.8M515.8 166.2h0.8M500.8 170.2h0.8M515.5 163.9h0.8M511.8 156.8h0.8M508.2 151h0.8M502.5 170.9h0.8M506.5 149.6h0.8M511.2 167.4h0.8M511.3 175.8h0.8M503.4 147.8h0.8M511.3 159.7h0.8M511.4 151.2h0.8M516.6 151.7h0.8M504.2 171.1h0.8M510.2 171h0.8M510 147.9h0.8M507.5 175.2h0.8M512.7 178.6h0.8M508.2 178.4h0.8M518.7 173.2h0.8M504.5 157.5h0.8M513.5 156.8h0.8M511.2 150.3h0.8M504.8 163.4h0.8M509.6 163.9h0.8M516.4 165.1h0.8M512.4 153.4h0.8M516.5 181h0.8M512.2 155.7h0.8M514.4 150.5h0.8M510.9 171.3h0.8M510.7 169.5h0.8M517.7 159.4h0.8M513.4 170.8h0.8M507.3 168.9h0.8M506.7 167.2h0.8M515.6 175.2h0.8M507.7 166.1h0.8M509.8 166.7h0.8M506 174h0.8M508.2 155.5h0.8M516.7 152.5h0.8M505.7 165.6h0.8M512 160.1h0.8M519.8 178.6h0.8M510.9 159.7h0.8M509.4 146.9h0.8M511.4 176.5h0.8M511.5 160.8h0.8M514.1 177.1h0.8M505.2 168.9h0.8M510 163.5h0.8M510.8 169.7h0.8M521.7 155h0.8M510.2 173.8h0.8M509.9 164.5h0.8M505.9 169.5h0.8M506 167.2h0.8M508.4 151.2h0.8M510.4 171.8h0.8M507.5 169.6h0.8M506.2 175.2h0.8M516.4 156.9h0.8M516.3 178.5h0.8M507.7 151.6h0.8M510.3 159.7h0.8M515.4 151h0.8M507.8 158h0.8M511.2 152.5h0.8M511.3 150.7h0.8M504.1 171h0.8M517.3 160.4h0.8M507.2 148.2h0.8M512.2 154h0.8M519.7 167.3h0.8M520.4 165.3h0.8M515 150.2h0.8M520.4 177.6h0.8M512.1 150h0.8M509.4 173.6h0.8M516.2 176.5h0.8M516.4 171.8h0.8M520.2 174.6h0.8M498 165h0.8M518.8 171.7h0.8M513.8 148.3h0.8M514.3 171.2h0.8M505 148.7h0.8M514.9 166.6h0.8M506.4 160.5h0.8M509.3 156.7h0.8M510.7 175.4h0.8M510.9 169.8h0.8M514.9 148.3h0.8M509.3 147.2h0.8M513.7 153.6h0.8M513.8 179.4h0.8M512.9 164.2h0.8M513.4 169.2h0.8M511.4 169.8h0.8M507.7 164.4h0.8M515.9 174.1h0.8M506.8 170.9h0.8M510.1 147.9h0.8M514.2 163.5h0.8M504 181.1h0.8M513.6 158.5h0.8M512.6 173.9h0.8M507.2 146.9h0.8M509.5 168.7h0.8M510.9 181.4h0.8M504.8 152h0.8M513.5 155.2h0.8M516.8 176.3h0.8M509.3 150h0.8M509.7 173.6h0.8M511.1 156.6h0.8M510.6 178.1h0.8M515.7 179.5h0.8M510.2 178.6h0.8M503.4 160.7h0.8M512.9 174.8h0.8M504 180.4h0.8M515.6 169.9h0.8M509.6 176.6h0.8M512.6 152.8h0.8M510.3 164.2h0.8M516.1 147.9h0.8M517.1 152.7h0.8M511.7 155.8h0.8M520.2 151.3h0.8M489.6 161.8h0.8M508.4 168.6h0.8M517 148.7h0.8M507.8 172.2h0.8M517.7 165.6h0.8M508.4 165.9h0.8M510.4 173h0.8M514.5 160.3h0.8M518.3 162.2h0.8M502 150.1h0.8M506.3 165.4h0.8M516.6 152.8h0.8M510.6 177.7h0.8M506.9 171.4h0.8M513.9 178.3h0.8M512 177h0.8M508.6 149.8h0.8M517 152.6h0.8M511.2 173.5h0.8M512.9 155.7h0.8M507.6 155.2h0.8M510.7 179.4h0.8M516.5 160.7h0.8M507.7 156.1h0.8M512.9 175.2h0.8M511.6 166.9h0.8M513.7 167.4h0.8M512.9 160.5h0.8M512.3 152.4h0.8M518.2 148.7h0.8M505.6 148.8h0.8M510.9 175.9h0.8M509.6 155.1h0.8M510.3 176.3h0.8M502.1 153.4h0.8M521.4 179.8h0.8M517.5 175.6h0.8M510.3 177.3h0.8M517.6 173.8h0.8M504.4 173.3h0.8M503 167.9h0.8M511.6 158.7h0.8M510.2 173.2h0.8M506 162.1h0.8M523.1 163.5h0.8M510.6 150.7h0.8M510.6 169.7h0.8M507.5 165.9h0.8M508.7 159.4h0.8M508.2 176.9h0.8M516 160h0.8M513 149.7h0.8M506.7 155.8h0.8M505.9 171.2h0.8M513.4 171.5h0.8M507.8 157.7h0.8M510.4 174.2h0.8M510.5 169h0.8M516 174.3h0.8M517.9 154.6h0.8M509.7 161.5h0.8M508.5 175.7h0.8M514.1 161.3h0.8M505.7 174.6h0.8M509.8 175.4h0.8M505.4 156.9h0.8M509.3 150.9h0.8M501.1 175.5h0.8M509.8 161.8h0.8M513 156h0.8M515.7 178h0.8M510.5 157.5h0.8M513 169.1h0.8M504.7 150.8h0.8M508.2 177h0.8M510.5 171.8h0.8M516.1 169.8h0.8M507.2 168h0.8M515.1 165.9h0.8M510.9 171.5h0.8M503.8 171.8h0.8M511 152.2h0.8M517.5 180.9h0.8M507.4 167.5h0.8M518.7 149.3h0.8M501.2 154.5h0.8M519.4 172.3h0.8M509 178.9h0.8M508.2 153.4h0.8M517.2 151.2h0.8M517.5 153h0.8M509.5 180.7h0.8M513.8 174.8h0.8M510.1 172h0.8M509.7 153.7h0.8M500.4 157.2h0.8M510.3 169.2h0.8M506.6 150h0.8M513.5 161.4h0.8M505 170.8h0.8M511.5 177.9h0.8M520.4 177.3h0.8M509.1 153.6h0.8M503.8 152.8h0.8M505.8 163.7h0.8M499.4 173.5h0.8M511.9 171.3h0.8M504.6 156.3h0.8M518.9 179.9h0.8M517.8 164.1h0.8M511.8 180.7h0.8M516.5 156.1h0.8M515.1 175.2h0.8M511 148.1h0.8M516.7 149.6h0.8M515.9 161.3h0.8M505.3 162.9h0.8M514.7 151h0.8M509.9 160.2h0.8M518.5 176.6h0.8M509.1 151.1h0.8M505.4 180.6h0.8M519.8 161.9h0.8M509.6 165.2h0.8M517.7 161.2h0.8M521.1 170.3h0.8M511.1 180.4h0.8M516.4 154.7h0.8M507.5 181.6h0.8M519.4 179.8h0.8M516.3 165.9h0.8M502 172h0.8M515.7 168.2h0.8M505.5 165.9h0.8M502.8 169.4h0.8M509.9 152.6h0.8" stroke="#111" stroke-width="0.8" stroke-opacity="0.84" fill="none"/>
<rect x="482.6" y="145.9" width="42.1" height="36.4" fill="none" stroke="#1a1a1a" stroke-width="1.4"/>
<text x="439.4" y="172.1" font-size="10.6" fill="#333">49.67%</text>
<text x="459" y="55.8" font-size="10.9" fill="#262626" text-anchor="middle">CD14<tspan font-size="6.6" dy="-4">+</tspan><tspan dy="4" font-size="0.1">&#8203;</tspan>/HTR8+iso</text>
<line x1="628.9" y1="4.4" x2="628.9" y2="187.7" stroke="#1a1a1a" stroke-width="1.6"/>
<line x1="628.1" y1="186.9" x2="789" y2="186.9" stroke="#1a1a1a" stroke-width="1.6"/>
<line x1="623.9" y1="186.9" x2="628.9" y2="186.9" stroke="#1a1a1a" stroke-width="1.5"/>
<text x="620.3" y="190" font-size="10.6" fill="#262626" text-anchor="end">0</text>
<line x1="623.9" y1="141.3" x2="628.9" y2="141.3" stroke="#1a1a1a" stroke-width="1.5"/>
<text x="620.3" y="144.4" font-size="10.6" fill="#262626" text-anchor="end">20</text>
<line x1="623.9" y1="95.7" x2="628.9" y2="95.7" stroke="#1a1a1a" stroke-width="1.5"/>
<text x="620.3" y="98.8" font-size="10.6" fill="#262626" text-anchor="end">40</text>
<line x1="623.9" y1="50.1" x2="628.9" y2="50.1" stroke="#1a1a1a" stroke-width="1.5"/>
<text x="620.3" y="53.2" font-size="10.6" fill="#262626" text-anchor="end">60</text>
<line x1="623.9" y1="4.5" x2="628.9" y2="4.5" stroke="#1a1a1a" stroke-width="1.5"/>
<text x="620.3" y="7.6" font-size="10.6" fill="#262626" text-anchor="end">80</text>
<rect x="638.8" y="64" width="35.1" height="122.9" fill="#ffffff" stroke="#1a1a1a" stroke-width="1.6"/>
<path d="M656.35 52.5V75.8M646.95 52.5H665.75M646.95 75.8H665.75" fill="none" stroke="#1a1a1a" stroke-width="1.35"/>
<line x1="656.4" y1="186.9" x2="656.4" y2="191.9" stroke="#1a1a1a" stroke-width="1.5"/>
<rect x="691.4" y="161.7" width="34.8" height="25.2" fill="#e5e5e5" stroke="#1a1a1a" stroke-width="1.6"/>
<path d="M708.8 157.4V166.1M699.35 157.4H718.25M699.35 166.1H718.25" fill="none" stroke="#1a1a1a" stroke-width="1.35"/>
<line x1="708.8" y1="186.9" x2="708.8" y2="191.9" stroke="#1a1a1a" stroke-width="1.5"/>
<rect x="743.7" y="69.7" width="34.7" height="117.2" fill="#949494" stroke="#1a1a1a" stroke-width="1.6"/>
<path d="M761.05 57.9V81.6M751.85 57.9H770.25M751.85 81.6H770.25" fill="none" stroke="#1a1a1a" stroke-width="1.35"/>
<line x1="761.2" y1="186.9" x2="761.2" y2="191.9" stroke="#1a1a1a" stroke-width="1.5"/>
<path d="M654.1 38.8V33.9H708.9V38.8" fill="none" stroke="#1a1a1a" stroke-width="1.4"/>
<path d="M708.9 52.5V47.5H763.9V52.5" fill="none" stroke="#1a1a1a" stroke-width="1.4"/>
<text x="680.6" y="34.9" font-size="13.4" fill="#222" text-anchor="middle">**</text>
<text x="735.1" y="48.6" font-size="13.4" fill="#222" text-anchor="middle">**</text>
<text font-size="10.9" fill="#262626" transform="translate(585.3 134) rotate(-90)">CD14<tspan font-size="6.6" dy="-4">+</tspan><tspan dy="4" font-size="0.1">&#8203;</tspan> HLA-DR<tspan font-size="8" dy="-4.4">low/-</tspan><tspan dy="4.4" font-size="0.1">&#8203;</tspan></text>
<text font-size="10.7" fill="#262626" text-anchor="middle" transform="translate(599 87.6) rotate(-90)">(% CD14<tspan font-size="6.6" dy="-4">+</tspan><tspan dy="4" font-size="0.1">&#8203;</tspan>)</text>
<text font-size="10.7" fill="#262626" text-anchor="end" transform="translate(677.3 204.5) rotate(-43)">CD14<tspan font-size="6.6" dy="-4">+</tspan><tspan dy="4" font-size="0.1">&#8203;</tspan>/HTR8</text>
<text font-size="10.7" fill="#262626" text-anchor="end" transform="translate(733.2 199.5) rotate(-43)">CD14<tspan font-size="6.6" dy="-4">+</tspan><tspan dy="4" font-size="0.1">&#8203;</tspan>/HTR8+anti</text>
<text font-size="10.7" fill="#262626" text-anchor="end" transform="translate(786.8 198.2) rotate(-43)">CD14<tspan font-size="6.6" dy="-4">+</tspan><tspan dy="4" font-size="0.1">&#8203;</tspan>/HTR8+iso</text>
<text x="-0.3" y="282.7" font-size="14.5" fill="#111" font-weight="bold">b</text>
<line x1="166.1" y1="272.9" x2="166.1" y2="447.25" stroke="#1a1a1a" stroke-width="1.5"/>
<line x1="158.9" y1="446.5" x2="532.8" y2="446.5" stroke="#1a1a1a" stroke-width="1.5"/>
<line x1="159.1" y1="403.1" x2="166.1" y2="403.1" stroke="#1a1a1a" stroke-width="1.4"/>
<line x1="159.1" y1="359.7" x2="166.1" y2="359.7" stroke="#1a1a1a" stroke-width="1.4"/>
<line x1="159.1" y1="316.3" x2="166.1" y2="316.3" stroke="#1a1a1a" stroke-width="1.4"/>
<line x1="159.1" y1="272.9" x2="166.1" y2="272.9" stroke="#1a1a1a" stroke-width="1.4"/>
<text x="152.6" y="278.4" font-size="10.6" fill="#262626" text-anchor="end">80</text>
<text x="153.6" y="319.6" font-size="10.6" fill="#262626" text-anchor="end">60</text>
<text x="153.6" y="361.6" font-size="10.6" fill="#262626" text-anchor="end">40</text>
<text x="153.6" y="403.1" font-size="10.6" fill="#262626" text-anchor="end">20</text>
<text x="155.8" y="444.9" font-size="10.6" fill="#262626" text-anchor="end">0</text>
<text font-size="10.8" fill="#262626" text-anchor="middle" transform="translate(125.3 340.6) rotate(-90)">%Proliferation</text>
<rect x="182.9" y="312.8" width="21.5" height="133.7" fill="#ffffff" stroke="#1a1a1a" stroke-width="1.6"/>
<path d="M193.65 302.1V323.5M187.45 302.1H199.85M187.45 323.5H199.85" fill="none" stroke="#1a1a1a" stroke-width="1.4"/>
<rect x="215.9" y="318.9" width="21.5" height="127.6" fill="#e5e5e5" stroke="#1a1a1a" stroke-width="1.6"/>
<path d="M226.65 308.7V328.9M220.45 308.7H232.85M220.45 328.9H232.85" fill="none" stroke="#1a1a1a" stroke-width="1.4"/>
<rect x="249.2" y="313.6" width="21.9" height="132.9" fill="#595757" stroke="#1a1a1a" stroke-width="1.6"/>
<path d="M260.15 300.8V326.3M253.95 300.8H266.35M253.95 326.3H266.35" fill="none" stroke="#1a1a1a" stroke-width="1.4"/>
<rect x="304.4" y="399.6" width="22" height="46.9" fill="#ffffff" stroke="#1a1a1a" stroke-width="1.6"/>
<path d="M315.4 395.5V403.8M309.2 395.5H321.6M309.2 403.8H321.6" fill="none" stroke="#1a1a1a" stroke-width="1.4"/>
<rect x="337.4" y="357.2" width="21.7" height="89.3" fill="#e5e5e5" stroke="#1a1a1a" stroke-width="1.6"/>
<path d="M348.25 352V362.3M342.05 352H354.45M342.05 362.3H354.45" fill="none" stroke="#1a1a1a" stroke-width="1.4"/>
<rect x="370.6" y="397" width="21.8" height="49.5" fill="#595757" stroke="#1a1a1a" stroke-width="1.6"/>
<path d="M381.5 389.6V403.2M375.3 389.6H387.7M375.3 403.2H387.7" fill="none" stroke="#1a1a1a" stroke-width="1.4"/>
<rect x="426" y="405.2" width="22" height="41.3" fill="#ffffff" stroke="#1a1a1a" stroke-width="1.6"/>
<path d="M437 399.8V410.5M430.8 399.8H443.2M430.8 410.5H443.2" fill="none" stroke="#1a1a1a" stroke-width="1.4"/>
<rect x="459" y="401.7" width="21.9" height="44.8" fill="#e5e5e5" stroke="#1a1a1a" stroke-width="1.6"/>
<path d="M469.95 396.8V406.7M463.75 396.8H476.15M463.75 406.7H476.15" fill="none" stroke="#1a1a1a" stroke-width="1.4"/>
<rect x="492.8" y="405.5" width="21.4" height="41" fill="#595757" stroke="#1a1a1a" stroke-width="1.6"/>
<path d="M503.5 399.3V411.3M497.3 399.3H509.7M497.3 411.3H509.7" fill="none" stroke="#1a1a1a" stroke-width="1.4"/>
<line x1="226.5" y1="446.5" x2="226.5" y2="452" stroke="#1a1a1a" stroke-width="1.4"/>
<line x1="348.1" y1="446.5" x2="348.1" y2="452" stroke="#1a1a1a" stroke-width="1.4"/>
<line x1="470.1" y1="446.5" x2="470.1" y2="452" stroke="#1a1a1a" stroke-width="1.4"/>
<path d="M307 328V323H348V328" fill="none" stroke="#1a1a1a" stroke-width="1.4"/>
<path d="M348 323V319H389.5V323.6" fill="none" stroke="#1a1a1a" stroke-width="1.4"/>
<text x="326.8" y="323.7" font-size="13.4" fill="#222" text-anchor="middle">**</text>
<text x="370.4" y="319.8" font-size="13.4" fill="#222" text-anchor="middle">**</text>
<text x="228.4" y="471.6" font-size="10.8" fill="#262626" text-anchor="middle">CD14<tspan font-size="6.6" dy="-4">+</tspan><tspan dy="4" font-size="0.1">&#8203;</tspan> + CD14<tspan font-size="6.6" dy="-4">+</tspan><tspan dy="4" font-size="0.1">&#8203;</tspan></text>
<text x="228.8" y="480.6" font-size="10.8" fill="#262626" text-anchor="middle">(control)</text>
<text x="349" y="466" font-size="10.8" fill="#262626" text-anchor="middle">CD14<tspan font-size="6.6" dy="-4">+</tspan><tspan dy="4" font-size="0.1">&#8203;</tspan> + CD14<tspan font-size="6.6" dy="-4">+</tspan><tspan dy="4" font-size="0.1">&#8203;</tspan></text>
<text x="349.4" y="479.6" font-size="11" fill="#262626" text-anchor="middle">(CD14<tspan font-size="6.6" dy="-4">+</tspan><tspan dy="4" font-size="0.1">&#8203;</tspan>/HTR8)</text>
<text x="473.3" y="464.9" font-size="10.8" fill="#262626" text-anchor="middle">CD14<tspan font-size="6.6" dy="-4">+</tspan><tspan dy="4" font-size="0.1">&#8203;</tspan> + DR<tspan font-size="7.6" dy="-4.4">low/-</tspan><tspan dy="4.4" font-size="0.1">&#8203;</tspan></text>
<text x="473.6" y="478.1" font-size="11" fill="#262626" text-anchor="middle">(CD14<tspan font-size="6.6" dy="-4">+</tspan><tspan dy="4" font-size="0.1">&#8203;</tspan>/HTR8)</text>
<rect x="541.5" y="280.3" width="24.6" height="9.5" fill="#ffffff" stroke="#1a1a1a" stroke-width="1.2"/>
<text x="575" y="286.8" font-size="10.7" fill="#262626">normal</text>
<rect x="541.5" y="300.2" width="24.6" height="9.5" fill="#e5e5e5" stroke="#1a1a1a" stroke-width="1.2"/>
<text x="575" y="308.5" font-size="10.7" fill="#262626">anti-CCL2</text>
<rect x="541.5" y="320.2" width="24.6" height="9.5" fill="#595757" stroke="#1a1a1a" stroke-width="1.2"/>
<text x="575" y="327.6" font-size="10.7" fill="#262626">iso-anti</text>
<text x="-0.2" y="527.1" font-size="14.5" fill="#111" font-weight="bold">c</text>
<text font-size="10.8" fill="#262626" text-anchor="middle" transform="translate(8.5 615.2) rotate(-90)">Relative gene expression</text>
<text font-size="10.8" fill="#262626" text-anchor="middle" transform="translate(22.5 614.8) rotate(-90)">(mean of control=1)</text>
<line x1="46" y1="545.2" x2="46" y2="693.5" stroke="#1a1a1a" stroke-width="1.7"/>
<line x1="41.1" y1="692.7" x2="257.3" y2="692.7" stroke="#1a1a1a" stroke-width="1.7"/>
<line x1="41.5" y1="546" x2="46" y2="546" stroke="#1a1a1a" stroke-width="1.6"/>
<text x="40.8" y="549.8" font-size="10.6" fill="#262626" text-anchor="end">15</text>
<line x1="41.5" y1="594.9" x2="46" y2="594.9" stroke="#1a1a1a" stroke-width="1.6"/>
<text x="40.8" y="598.7" font-size="10.6" fill="#262626" text-anchor="end">10</text>
<line x1="41.5" y1="643.8" x2="46" y2="643.8" stroke="#1a1a1a" stroke-width="1.6"/>
<text x="40.8" y="647.6" font-size="10.6" fill="#262626" text-anchor="end">5</text>
<line x1="41.5" y1="692.7" x2="46" y2="692.7" stroke="#1a1a1a" stroke-width="1.6"/>
<text x="40.8" y="696.5" font-size="10.6" fill="#262626" text-anchor="end">0</text>
<rect x="60.75" y="638.05" width="18.7" height="54.65" fill="#ffffff" stroke="#1a1a1a" stroke-width="1.7"/>
<path d="M70.1 632.6V643.2M64.6 632.6H75.6M64.6 643.2H75.6" fill="none" stroke="#1a1a1a" stroke-width="1.5"/>
<rect x="88.85" y="641.55" width="19.3" height="51.15" fill="#dadada" stroke="#1a1a1a" stroke-width="1.7"/>
<path d="M98.5 635.8V647.3M93 635.8H104M93 647.3H104" fill="none" stroke="#1a1a1a" stroke-width="1.5"/>
<rect x="117.65" y="639.65" width="18.9" height="53.05" fill="#5c5858" stroke="#1a1a1a" stroke-width="1.7"/>
<path d="M127.1 634V644.6M121.6 634H132.6M121.6 644.6H132.6" fill="none" stroke="#1a1a1a" stroke-width="1.5"/>
<rect x="165.45" y="593.95" width="19.2" height="98.75" fill="#ffffff" stroke="#1a1a1a" stroke-width="1.7"/>
<path d="M175.05 584.6V603.8M169.55 584.6H180.55M169.55 603.8H180.55" fill="none" stroke="#1a1a1a" stroke-width="1.5"/>
<rect x="194.05" y="598.35" width="19.1" height="94.35" fill="#dadada" stroke="#1a1a1a" stroke-width="1.7"/>
<path d="M203.6 591.3V606.1M198.1 591.3H209.1M198.1 606.1H209.1" fill="none" stroke="#1a1a1a" stroke-width="1.5"/>
<rect x="222.85" y="593.95" width="18.7" height="98.75" fill="#5c5858" stroke="#1a1a1a" stroke-width="1.7"/>
<path d="M232.2 586.3V602.3M226.7 586.3H237.7M226.7 602.3H237.7" fill="none" stroke="#1a1a1a" stroke-width="1.5"/>
<line x1="97.3" y1="692.7" x2="97.3" y2="698.7" stroke="#1a1a1a" stroke-width="1.5"/>
<line x1="204.6" y1="692.7" x2="204.6" y2="698.7" stroke="#1a1a1a" stroke-width="1.5"/>
<text x="150.6" y="523.6" font-size="10.7" fill="#262626" text-anchor="middle">IDO1</text>
<text x="99.7" y="716" font-size="10.8" fill="#262626" text-anchor="middle">CD14<tspan font-size="6.6" dy="-4">+</tspan><tspan dy="4" font-size="0.1">&#8203;</tspan></text>
<text x="102.1" y="729.9" font-size="11" fill="#262626" text-anchor="middle">(CD14<tspan font-size="6.6" dy="-4">+</tspan><tspan dy="4" font-size="0.1">&#8203;</tspan>/HTR8)</text>
<text x="206.7" y="716" font-size="10.8" fill="#262626" text-anchor="middle">DR<tspan font-size="7.6" dy="-4.4">low/-</tspan><tspan dy="4.4" font-size="0.1">&#8203;</tspan></text>
<text x="206" y="729.9" font-size="11" fill="#262626" text-anchor="middle">(CD14<tspan font-size="6.6" dy="-4">+</tspan><tspan dy="4" font-size="0.1">&#8203;</tspan>/HTR8)</text>
<line x1="276.5" y1="549" x2="276.5" y2="695.6" stroke="#1a1a1a" stroke-width="1.7"/>
<line x1="272" y1="694.8" x2="482.1" y2="694.8" stroke="#1a1a1a" stroke-width="1.7"/>
<line x1="272" y1="549.8" x2="276.5" y2="549.8" stroke="#1a1a1a" stroke-width="1.6"/>
<text x="270.7" y="553.6" font-size="10.6" fill="#262626" text-anchor="end">5</text>
<line x1="272" y1="578.7" x2="276.5" y2="578.7" stroke="#1a1a1a" stroke-width="1.6"/>
<text x="270.7" y="582.5" font-size="10.6" fill="#262626" text-anchor="end">4</text>
<line x1="272" y1="607.8" x2="276.5" y2="607.8" stroke="#1a1a1a" stroke-width="1.6"/>
<text x="270.7" y="611.6" font-size="10.6" fill="#262626" text-anchor="end">3</text>
<line x1="272" y1="636.8" x2="276.5" y2="636.8" stroke="#1a1a1a" stroke-width="1.6"/>
<text x="270.7" y="640.6" font-size="10.6" fill="#262626" text-anchor="end">2</text>
<line x1="272" y1="665.8" x2="276.5" y2="665.8" stroke="#1a1a1a" stroke-width="1.6"/>
<text x="270.7" y="669.6" font-size="10.6" fill="#262626" text-anchor="end">1</text>
<line x1="272" y1="694.8" x2="276.5" y2="694.8" stroke="#1a1a1a" stroke-width="1.6"/>
<text x="270.7" y="698.6" font-size="10.6" fill="#262626" text-anchor="end">0</text>
<rect x="289.75" y="632.65" width="19" height="62.15" fill="#ffffff" stroke="#1a1a1a" stroke-width="1.7"/>
<path d="M299.25 629.6V635.1M293.75 629.6H304.75M293.75 635.1H304.75" fill="none" stroke="#1a1a1a" stroke-width="1.5"/>
<rect x="318.15" y="637.05" width="18.6" height="57.75" fill="#dadada" stroke="#1a1a1a" stroke-width="1.7"/>
<path d="M327.45 634.6V639.5M321.95 634.6H332.95M321.95 639.5H332.95" fill="none" stroke="#1a1a1a" stroke-width="1.5"/>
<rect x="346.15" y="634.45" width="18.4" height="60.35" fill="#5c5858" stroke="#1a1a1a" stroke-width="1.7"/>
<path d="M355.35 631.8V636.2M349.85 631.8H360.85M349.85 636.2H360.85" fill="none" stroke="#1a1a1a" stroke-width="1.5"/>
<rect x="392.85" y="576.45" width="18" height="118.35" fill="#ffffff" stroke="#1a1a1a" stroke-width="1.7"/>
<path d="M401.85 572.1V581.5M396.35 572.1H407.35M396.35 581.5H407.35" fill="none" stroke="#1a1a1a" stroke-width="1.5"/>
<rect x="420.25" y="587.85" width="18.4" height="106.95" fill="#dadada" stroke="#1a1a1a" stroke-width="1.7"/>
<path d="M429.45 581.1V594M423.95 581.1H434.95M423.95 594H434.95" fill="none" stroke="#1a1a1a" stroke-width="1.5"/>
<rect x="448.45" y="580.65" width="17.9" height="114.15" fill="#5c5858" stroke="#1a1a1a" stroke-width="1.7"/>
<path d="M457.4 575V585.5M451.9 575H462.9M451.9 585.5H462.9" fill="none" stroke="#1a1a1a" stroke-width="1.5"/>
<line x1="328.2" y1="694.8" x2="328.2" y2="700.8" stroke="#1a1a1a" stroke-width="1.5"/>
<line x1="429.6" y1="694.8" x2="429.6" y2="700.8" stroke="#1a1a1a" stroke-width="1.5"/>
<text x="379" y="523.6" font-size="10.7" fill="#262626" text-anchor="middle">COX2</text>
<text x="327.4" y="716" font-size="10.8" fill="#262626" text-anchor="middle">CD14<tspan font-size="6.6" dy="-4">+</tspan><tspan dy="4" font-size="0.1">&#8203;</tspan></text>
<text x="328.2" y="729.9" font-size="11" fill="#262626" text-anchor="middle">(CD14<tspan font-size="6.6" dy="-4">+</tspan><tspan dy="4" font-size="0.1">&#8203;</tspan>/HTR8)</text>
<text x="436.3" y="716" font-size="10.8" fill="#262626" text-anchor="middle">DR<tspan font-size="7.6" dy="-4.4">low/-</tspan><tspan dy="4.4" font-size="0.1">&#8203;</tspan></text>
<text x="435.1" y="729.9" font-size="11" fill="#262626" text-anchor="middle">(CD14<tspan font-size="6.6" dy="-4">+</tspan><tspan dy="4" font-size="0.1">&#8203;</tspan>/HTR8)</text>
<line x1="511.2" y1="547.3" x2="511.2" y2="696" stroke="#1a1a1a" stroke-width="1.7"/>
<line x1="506.4" y1="695.2" x2="716" y2="695.2" stroke="#1a1a1a" stroke-width="1.7"/>
<line x1="506.7" y1="548.1" x2="511.2" y2="548.1" stroke="#1a1a1a" stroke-width="1.6"/>
<text x="504.5" y="551.9" font-size="10.6" fill="#262626" text-anchor="end">1.5</text>
<line x1="506.7" y1="596.8" x2="511.2" y2="596.8" stroke="#1a1a1a" stroke-width="1.6"/>
<text x="504.5" y="600.6" font-size="10.6" fill="#262626" text-anchor="end">1.0</text>
<line x1="506.7" y1="646.4" x2="511.2" y2="646.4" stroke="#1a1a1a" stroke-width="1.6"/>
<text x="504.5" y="650.2" font-size="10.6" fill="#262626" text-anchor="end">0.5</text>
<line x1="506.7" y1="695.2" x2="511.2" y2="695.2" stroke="#1a1a1a" stroke-width="1.6"/>
<text x="504.5" y="699" font-size="10.6" fill="#262626" text-anchor="end">0.0</text>
<rect x="524.75" y="609.25" width="18.6" height="85.95" fill="#ffffff" stroke="#1a1a1a" stroke-width="1.7"/>
<path d="M534.05 600.8V617.6M528.55 600.8H539.55M528.55 617.6H539.55" fill="none" stroke="#1a1a1a" stroke-width="1.5"/>
<rect x="553.15" y="658.85" width="18.4" height="36.35" fill="#dadada" stroke="#1a1a1a" stroke-width="1.7"/>
<path d="M562.35 655.2V662M556.85 655.2H567.85M556.85 662H567.85" fill="none" stroke="#1a1a1a" stroke-width="1.5"/>
<rect x="581.15" y="614.05" width="17.9" height="81.15" fill="#5c5858" stroke="#1a1a1a" stroke-width="1.7"/>
<path d="M590.1 608.9V618.7M584.6 608.9H595.6M584.6 618.7H595.6" fill="none" stroke="#1a1a1a" stroke-width="1.5"/>
<rect x="626.15" y="575.85" width="18.4" height="119.35" fill="#ffffff" stroke="#1a1a1a" stroke-width="1.7"/>
<path d="M635.35 569.1V582.6M629.85 569.1H640.85M629.85 582.6H640.85" fill="none" stroke="#1a1a1a" stroke-width="1.5"/>
<rect x="654.15" y="627.15" width="18.4" height="68.05" fill="#dadada" stroke="#1a1a1a" stroke-width="1.7"/>
<path d="M663.35 620.9V632.9M657.85 620.9H668.85M657.85 632.9H668.85" fill="none" stroke="#1a1a1a" stroke-width="1.5"/>
<rect x="681.85" y="578.45" width="18.4" height="116.75" fill="#5c5858" stroke="#1a1a1a" stroke-width="1.7"/>
<path d="M691.05 568V587.7M685.55 568H696.55M685.55 587.7H696.55" fill="none" stroke="#1a1a1a" stroke-width="1.5"/>
<line x1="561.7" y1="695.2" x2="561.7" y2="701.2" stroke="#1a1a1a" stroke-width="1.5"/>
<line x1="663" y1="695.2" x2="663" y2="701.2" stroke="#1a1a1a" stroke-width="1.5"/>
<text x="611.4" y="523.6" font-size="10.7" fill="#262626" text-anchor="middle">ARG-1</text>
<text x="558.4" y="716" font-size="10.8" fill="#262626" text-anchor="middle">CD14<tspan font-size="6.6" dy="-4">+</tspan><tspan dy="4" font-size="0.1">&#8203;</tspan></text>
<text x="559.6" y="729.9" font-size="11" fill="#262626" text-anchor="middle">(CD14<tspan font-size="6.6" dy="-4">+</tspan><tspan dy="4" font-size="0.1">&#8203;</tspan>/HTR8)</text>
<text x="668.7" y="716" font-size="10.8" fill="#262626" text-anchor="middle">DR<tspan font-size="7.6" dy="-4.4">low/-</tspan><tspan dy="4.4" font-size="0.1">&#8203;</tspan></text>
<text x="669.2" y="729.9" font-size="11" fill="#262626" text-anchor="middle">(CD14<tspan font-size="6.6" dy="-4">+</tspan><tspan dy="4" font-size="0.1">&#8203;</tspan>/HTR8)</text>
<path d="M532.6 593.1V588.5H561.7V593.1" fill="none" stroke="#1a1a1a" stroke-width="1.4"/>
<path d="M561.7 588.5V584.4H589.5V589.2" fill="none" stroke="#1a1a1a" stroke-width="1.4"/>
<text x="544.6" y="589.9" font-size="13.4" fill="#222" text-anchor="middle">**</text>
<text x="575.2" y="586" font-size="13.4" fill="#222" text-anchor="middle">**</text>
<path d="M635.1 565.1V560.8H663.6V565.1" fill="none" stroke="#1a1a1a" stroke-width="1.4"/>
<path d="M663.6 560.8V556H691.3V560.8" fill="none" stroke="#1a1a1a" stroke-width="1.4"/>
<text x="647.2" y="562.2" font-size="13.4" fill="#222" text-anchor="middle">**</text>
<text x="676.7" y="557.1" font-size="13.4" fill="#222" text-anchor="middle">**</text>
<rect x="708" y="509.3" width="18.6" height="9.4" fill="#ffffff" stroke="#1a1a1a" stroke-width="1.4"/>
<text x="730.7" y="517.3" font-size="10.8" fill="#262626">normal</text>
<rect x="708" y="529.2" width="18.6" height="9.4" fill="#dadada" stroke="#1a1a1a" stroke-width="1.4"/>
<text x="730.7" y="537.4" font-size="10.8" fill="#262626">anti-CCL2</text>
<rect x="708" y="549.5" width="18.6" height="9.4" fill="#5c5858" stroke="#1a1a1a" stroke-width="1.4"/>
<text x="730.7" y="558.2" font-size="10.8" fill="#262626">iso-anti</text>
</svg>
</body>
</html>
